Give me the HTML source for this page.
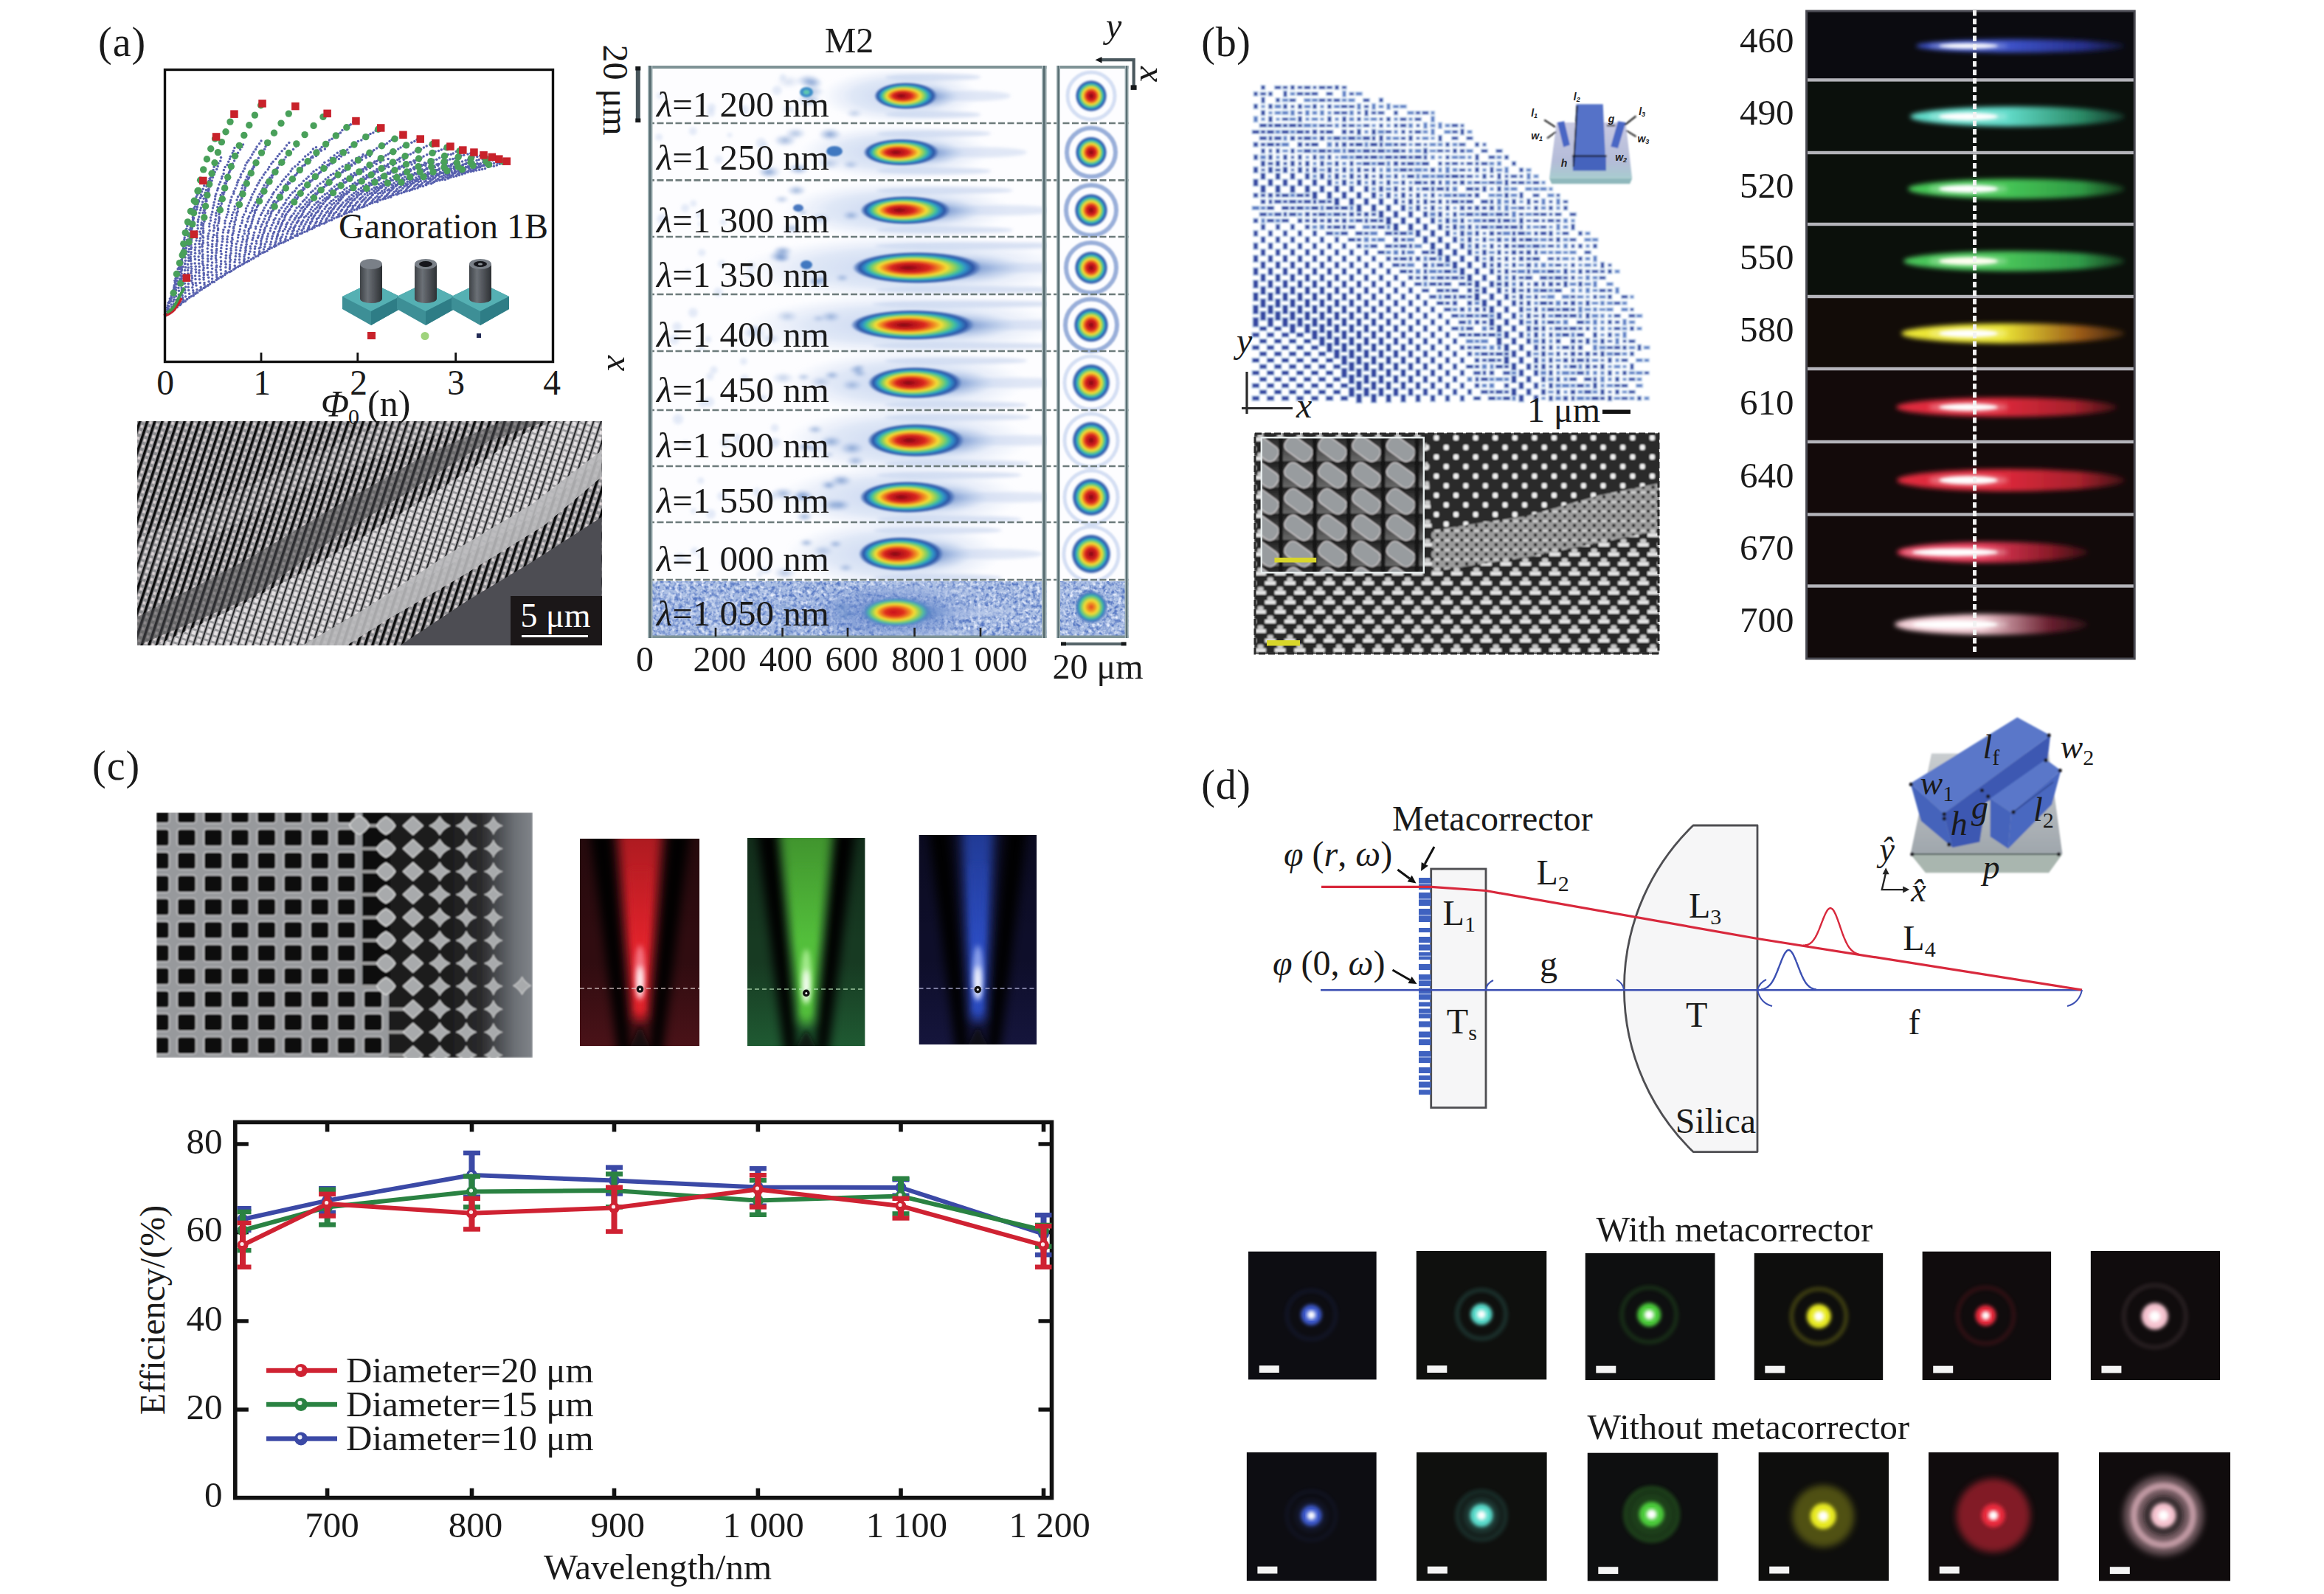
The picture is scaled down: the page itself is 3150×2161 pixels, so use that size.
<!DOCTYPE html>
<html><head><meta charset="utf-8"><title>Figure</title>
<style>
html,body{margin:0;padding:0;background:#fff;}
body{width:3150px;height:2161px;overflow:hidden;}
svg{display:block;}
svg{font-size:48px;}
text{font-family:"Liberation Serif","DejaVu Serif",serif;fill:#1a1a1a;}
.i{font-style:italic;}
</style></head><body>
<svg width="3150" height="2161" viewBox="0 0 3150 2161">
<defs>
<filter id="blurA" x="-5%" y="-5%" width="110%" height="110%"><feGaussianBlur stdDeviation="0.7"/></filter><linearGradient id="cyl" x1="0" x2="1" y1="0" y2="0"><stop offset="0" stop-color="#3e4247"/><stop offset="0.35" stop-color="#6b7076"/><stop offset="1" stop-color="#2d3034"/></linearGradient><clipPath id="semA"><rect x="186" y="571" width="630" height="304"/></clipPath><pattern id="semApat" width="9.6" height="8.4" patternUnits="userSpaceOnUse" patternTransform="rotate(18)"><rect width="9.6" height="8.4" fill="#8e8e91"/><rect x="0" y="0" width="3.4" height="8.4" fill="#0c0c0e"/><rect x="4.6" y="1.2" width="3.6" height="4" fill="#d8d0d2"/></pattern><pattern id="semApat2" width="9.6" height="8.4" patternUnits="userSpaceOnUse" patternTransform="rotate(18)"><rect width="9.6" height="8.4" fill="#9c9c9f"/><rect x="0" y="0" width="1.9" height="8.4" fill="#2a2a2c"/><rect x="3.4" y="1" width="5" height="5.4" fill="#e6e2e4"/></pattern><filter id="blurS" x="-2%" y="-2%" width="104%" height="104%"><feGaussianBlur stdDeviation="0.55"/></filter><radialGradient id="jet" fx="0.42"><stop offset="0" stop-color="#7d0a12"/><stop offset="0.14" stop-color="#b3121b"/><stop offset="0.3" stop-color="#dc2a20"/><stop offset="0.42" stop-color="#f08a22"/><stop offset="0.52" stop-color="#f2dc35"/><stop offset="0.62" stop-color="#8fd05c"/><stop offset="0.70" stop-color="#3fbf9e"/><stop offset="0.77" stop-color="#2f8fc8"/><stop offset="0.86" stop-color="#2c55a6"/><stop offset="0.93" stop-color="#5a7fc2" stop-opacity="0.75"/><stop offset="1" stop-color="#9db7e0" stop-opacity="0"/></radialGradient><radialGradient id="jetc"><stop offset="0" stop-color="#7d0a12"/><stop offset="0.14" stop-color="#b3121b"/><stop offset="0.3" stop-color="#dc2a20"/><stop offset="0.42" stop-color="#f08a22"/><stop offset="0.52" stop-color="#f2dc35"/><stop offset="0.62" stop-color="#8fd05c"/><stop offset="0.70" stop-color="#3fbf9e"/><stop offset="0.77" stop-color="#2f8fc8"/><stop offset="0.86" stop-color="#2c55a6"/><stop offset="0.93" stop-color="#5a7fc2" stop-opacity="0.75"/><stop offset="1" stop-color="#9db7e0" stop-opacity="0"/></radialGradient><radialGradient id="jet2"><stop offset="0" stop-color="#e2431f"/><stop offset="0.2" stop-color="#ee8a22"/><stop offset="0.4" stop-color="#f2dc35"/><stop offset="0.55" stop-color="#8fd05c"/><stop offset="0.68" stop-color="#3fb7a6"/><stop offset="0.8" stop-color="#3f7cc0"/><stop offset="0.92" stop-color="#5a7fc2" stop-opacity="0.6"/><stop offset="1" stop-color="#9db7e0" stop-opacity="0"/></radialGradient><radialGradient id="jet3" fx="0.45"><stop offset="0" stop-color="#c8141c"/><stop offset="0.25" stop-color="#e0301f"/><stop offset="0.4" stop-color="#f08a22"/><stop offset="0.52" stop-color="#f2dc35"/><stop offset="0.64" stop-color="#8fd05c"/><stop offset="0.74" stop-color="#4fb7a6"/><stop offset="0.84" stop-color="#4f86c4" stop-opacity="0.9"/><stop offset="1" stop-color="#6a8fd0" stop-opacity="0"/></radialGradient><radialGradient id="halo"><stop offset="0" stop-color="#3a62ad" stop-opacity="0.8"/><stop offset="0.5" stop-color="#5f86c8" stop-opacity="0.45"/><stop offset="1" stop-color="#a9c0e6" stop-opacity="0"/></radialGradient><radialGradient id="hz"><stop offset="0" stop-color="#b4c8ec" stop-opacity="0.75"/><stop offset="0.6" stop-color="#c2d2ee" stop-opacity="0.5"/><stop offset="1" stop-color="#d5e0f4" stop-opacity="0"/></radialGradient><radialGradient id="hz2"><stop offset="0" stop-color="#5f80c8" stop-opacity="0.7"/><stop offset="0.6" stop-color="#6888cc" stop-opacity="0.45"/><stop offset="1" stop-color="#7f9cd6" stop-opacity="0"/></radialGradient><radialGradient id="smg"><stop offset="0" stop-color="#4a74b8" stop-opacity="0.7"/><stop offset="0.6" stop-color="#7d9ed4" stop-opacity="0.35"/><stop offset="1" stop-color="#a9c0e6" stop-opacity="0"/></radialGradient><filter id="blurM" x="-10%" y="-10%" width="120%" height="120%"><feGaussianBlur stdDeviation="2.2"/></filter><filter id="blurM1" x="-10%" y="-10%" width="120%" height="120%"><feGaussianBlur stdDeviation="1.1"/></filter><filter id="noiseM" x="0" y="0" width="100%" height="100%" color-interpolation-filters="sRGB"><feTurbulence type="fractalNoise" baseFrequency="0.2" numOctaves="2" seed="5" result="n"/><feColorMatrix in="n" type="matrix" values="0 0 0 0 0.33  0 0 0 0 0.46  0 0 0 0 0.76  2.7 0 0 0 -1.1" result="dk"/><feColorMatrix in="n" type="matrix" values="0 0 0 0 0.93  0 0 0 0 0.95  0 0 0 0 1  0 2.7 0 0 -1.3" result="lt"/><feMerge result="m"><feMergeNode in="dk"/><feMergeNode in="lt"/></feMerge><feComposite in="m" in2="SourceGraphic" operator="in"/></filter><clipPath id="m2c"><rect x="878" y="89" width="540.5999999999999" height="776"/></clipPath><clipPath id="m2s"><rect x="1432" y="89" width="97.59999999999991" height="776"/></clipPath><filter id="blurB" x="-3%" y="-3%" width="106%" height="106%"><feGaussianBlur stdDeviation="0.8"/></filter><linearGradient id="slabB" x1="0" y1="0" x2="0" y2="1"><stop offset="0" stop-color="#c9c9e2"/><stop offset="0.7" stop-color="#b4bcd8"/><stop offset="1" stop-color="#a8cccf"/></linearGradient><clipPath id="semB"><rect x="1700" y="587" width="549" height="300"/></clipPath><pattern id="sbLow" width="26.6" height="26" patternUnits="userSpaceOnUse" x="1700" y="587"><rect width="26.6" height="26" fill="#262626"/><rect x="1" y="6" width="15" height="5" fill="#e4e4e4"/><rect x="4.5" y="0.6" width="8" height="6.4" rx="2" fill="#c8c8c8"/><rect x="14.3" y="19" width="15" height="5" fill="#e4e4e4"/><rect x="-12.3" y="19" width="15" height="5" fill="#e4e4e4"/><rect x="17.8" y="13.6" width="8" height="6.4" rx="2" fill="#c8c8c8"/></pattern><pattern id="sbTop" width="26.6" height="26" patternUnits="userSpaceOnUse" x="1700" y="587"><rect width="26.6" height="26" fill="#2b2b2b"/><rect x="4" y="3" width="7" height="7" rx="2" fill="#f2f2f2"/><rect x="17.3" y="16" width="7" height="7" rx="2" fill="#f2f2f2"/></pattern><pattern id="sbMid" width="13.3" height="13" patternUnits="userSpaceOnUse" x="1700" y="587"><rect width="13.3" height="13" fill="#9c9c9c"/><rect x="0" y="0" width="4" height="4" fill="#111"/><rect x="6.6" y="6.5" width="4" height="4" fill="#111"/><rect x="5" y="1" width="7" height="3" fill="#cfcfcf"/></pattern><clipPath id="semBi"><rect x="1709.8" y="593.2" width="220.0" height="183.1"/></clipPath><linearGradient id="insg" x1="0" y1="0" x2="0" y2="1"><stop offset="0" stop-color="#1c1c1c"/><stop offset="1" stop-color="#6a6a6a"/></linearGradient><pattern id="insbg" width="46" height="35.6" patternUnits="userSpaceOnUse" x="1736" y="625"><rect width="46" height="35.6" fill="url(#insg)"/></pattern><filter id="blurR" x="-10%" y="-40%" width="120%" height="180%"><feGaussianBlur stdDeviation="3.2"/></filter><filter id="blurR2" x="-10%" y="-60%" width="120%" height="220%"><feGaussianBlur stdDeviation="2"/></filter><clipPath id="brc"><rect x="2447.6" y="14" width="446.5999999999999" height="880"/></clipPath><linearGradient id="brt0" x1="0" x2="1"><stop offset="0" stop-color="#3d52c8"/><stop offset="0.45" stop-color="#3d52c8"/><stop offset="0.8" stop-color="#26308c"/><stop offset="1" stop-color="#26308c" stop-opacity="0.3"/></linearGradient><linearGradient id="brt1" x1="0" x2="1"><stop offset="0" stop-color="#62dcca"/><stop offset="0.45" stop-color="#62dcca"/><stop offset="0.8" stop-color="#2a8a66"/><stop offset="1" stop-color="#2a8a66" stop-opacity="0.3"/></linearGradient><linearGradient id="brt2" x1="0" x2="1"><stop offset="0" stop-color="#46c656"/><stop offset="0.45" stop-color="#46c656"/><stop offset="0.8" stop-color="#2f9a44"/><stop offset="1" stop-color="#2f9a44" stop-opacity="0.3"/></linearGradient><linearGradient id="brt3" x1="0" x2="1"><stop offset="0" stop-color="#4ac65a"/><stop offset="0.45" stop-color="#4ac65a"/><stop offset="0.8" stop-color="#2f9a48"/><stop offset="1" stop-color="#2f9a48" stop-opacity="0.3"/></linearGradient><linearGradient id="brt4" x1="0" x2="1"><stop offset="0" stop-color="#ece634"/><stop offset="0.45" stop-color="#ece634"/><stop offset="0.8" stop-color="#9a5a18"/><stop offset="1" stop-color="#9a5a18" stop-opacity="0.3"/></linearGradient><linearGradient id="brt5" x1="0" x2="1"><stop offset="0" stop-color="#e02a3c"/><stop offset="0.45" stop-color="#e02a3c"/><stop offset="0.8" stop-color="#a8202c"/><stop offset="1" stop-color="#a8202c" stop-opacity="0.3"/></linearGradient><linearGradient id="brt6" x1="0" x2="1"><stop offset="0" stop-color="#e02a3c"/><stop offset="0.45" stop-color="#e02a3c"/><stop offset="0.8" stop-color="#a8202c"/><stop offset="1" stop-color="#a8202c" stop-opacity="0.3"/></linearGradient><linearGradient id="brt7" x1="0" x2="1"><stop offset="0" stop-color="#e83a58"/><stop offset="0.45" stop-color="#e83a58"/><stop offset="0.8" stop-color="#8a1a28"/><stop offset="1" stop-color="#8a1a28" stop-opacity="0.3"/></linearGradient><linearGradient id="brt8" x1="0" x2="1"><stop offset="0" stop-color="#f0c8d0"/><stop offset="0.45" stop-color="#f0c8d0"/><stop offset="0.8" stop-color="#6a2030"/><stop offset="1" stop-color="#6a2030" stop-opacity="0.3"/></linearGradient><clipPath id="semC"><rect x="212" y="1101.5" width="510" height="332.5"/></clipPath><filter id="blurC" x="-3%" y="-3%" width="106%" height="106%"><feGaussianBlur stdDeviation="0.9"/></filter><pattern id="gridC" width="36.1" height="31.3" patternUnits="userSpaceOnUse" x="235" y="1121.9"><rect width="36.1" height="31.3" fill="#97999c"/><rect x="4.2" y="0.9" width="27.4" height="25.6" rx="5" fill="#cacacc"/><rect x="5.9" y="2.6" width="24" height="22.2" rx="3.6" fill="#0d0d0d"/></pattern><linearGradient id="cRight" x1="0" x2="1"><stop offset="0" stop-color="#1b1b1b"/><stop offset="0.42" stop-color="#2a2a2c"/><stop offset="0.62" stop-color="#4c4e52"/><stop offset="0.8" stop-color="#6c7075"/><stop offset="1" stop-color="#80848a"/></linearGradient><filter id="blurBm" x="-150%" y="-20%" width="400%" height="140%"><feGaussianBlur stdDeviation="7"/></filter><filter id="blurBm2" x="-100%" y="-30%" width="300%" height="160%"><feGaussianBlur stdDeviation="3.5"/></filter><linearGradient id="bmfade" x1="0" y1="0" x2="0" y2="1"><stop offset="0" stop-color="#000" stop-opacity="0.22"/><stop offset="1" stop-color="#000" stop-opacity="0"/></linearGradient><clipPath id="bmc0"><rect x="786" y="1137" width="162" height="281"/></clipPath><linearGradient id="bmg0" x1="0" y1="0" x2="0" y2="1"><stop offset="0" stop-color="#300c10"/><stop offset="0.6" stop-color="#300c10"/><stop offset="1" stop-color="#4a1218"/></linearGradient><clipPath id="bmc1"><rect x="1013" y="1136" width="159.5999999999999" height="282"/></clipPath><linearGradient id="bmg1" x1="0" y1="0" x2="0" y2="1"><stop offset="0" stop-color="#173a22"/><stop offset="0.6" stop-color="#173a22"/><stop offset="1" stop-color="#1f5a32"/></linearGradient><clipPath id="bmc2"><rect x="1245.5" y="1132" width="159.5" height="284"/></clipPath><linearGradient id="bmg2" x1="0" y1="0" x2="0" y2="1"><stop offset="0" stop-color="#0e0e2a"/><stop offset="0.6" stop-color="#0e0e2a"/><stop offset="1" stop-color="#15153c"/></linearGradient><clipPath id="chc"><rect x="321.6" y="1521.4" width="1103.9" height="509.1999999999998"/></clipPath><filter id="blurCh" x="-2%" y="-5%" width="104%" height="110%"><feGaussianBlur stdDeviation="0.7"/></filter><linearGradient id="slab" x1="0" y1="0" x2="0" y2="1"><stop offset="0" stop-color="#c9cdd0"/><stop offset="1" stop-color="#9fa6ac"/></linearGradient><filter id="blurD" x="-3%" y="-3%" width="106%" height="106%"><feGaussianBlur stdDeviation="0.9"/></filter><filter id="blurSp" x="-20%" y="-20%" width="140%" height="140%"><feGaussianBlur stdDeviation="2.6"/></filter><filter id="blurSp2" x="-20%" y="-20%" width="140%" height="140%"><feGaussianBlur stdDeviation="5"/></filter><clipPath id="spc0"><rect x="1692" y="1696.4" width="173.8" height="174.2"/></clipPath><clipPath id="spc1"><rect x="1919.5" y="1696" width="177.0" height="174.6"/></clipPath><clipPath id="spc2"><rect x="2148.5" y="1699" width="176.2" height="172.0"/></clipPath><clipPath id="spc3"><rect x="2377.5" y="1699" width="174.9" height="172.0"/></clipPath><clipPath id="spc4"><rect x="2605.4" y="1696.4" width="174.9" height="174.6"/></clipPath><clipPath id="spc5"><rect x="2833.6" y="1696" width="175.6" height="175.0"/></clipPath><clipPath id="spc6"><rect x="1689.6" y="1968.7" width="176.2" height="174.3"/></clipPath><clipPath id="spc7"><rect x="1920" y="1968.7" width="176.8" height="174.3"/></clipPath><clipPath id="spc8"><rect x="2151.5" y="1969.4" width="177.3" height="174.1"/></clipPath><clipPath id="spc9"><rect x="2383.4" y="1968.7" width="176.6" height="174.3"/></clipPath><clipPath id="spc10"><rect x="2614" y="1968.7" width="176.6" height="174.3"/></clipPath><clipPath id="spc11"><rect x="2845" y="1968.7" width="178.0" height="174.8"/></clipPath>
</defs>
<rect width="3150" height="2161" fill="#fff"/>
<g filter="url(#blurA)"><g fill="#3b45a0" opacity="0.85"><circle cx="225.8" cy="425.4" r="1.75"/><circle cx="226.6" cy="422.3" r="1.75"/><circle cx="226.8" cy="419.7" r="1.75"/><circle cx="226.6" cy="417.0" r="1.75"/><circle cx="227.3" cy="414.0" r="1.75"/><circle cx="228.1" cy="410.6" r="1.75"/><circle cx="229.6" cy="408.8" r="1.75"/><circle cx="230.3" cy="405.1" r="1.75"/><circle cx="232.3" cy="403.4" r="1.75"/><circle cx="233.6" cy="399.8" r="1.75"/><circle cx="237.5" cy="393.9" r="1.75"/><circle cx="229.5" cy="423.5" r="1.75"/><circle cx="228.5" cy="418.7" r="1.75"/><circle cx="229.1" cy="415.3" r="1.75"/><circle cx="229.6" cy="410.6" r="1.75"/><circle cx="231.2" cy="406.0" r="1.75"/><circle cx="232.2" cy="401.3" r="1.75"/><circle cx="232.9" cy="397.4" r="1.75"/><circle cx="235.5" cy="393.6" r="1.75"/><circle cx="236.8" cy="389.8" r="1.75"/><circle cx="239.2" cy="385.4" r="1.75"/><circle cx="242.1" cy="382.0" r="1.75"/><circle cx="244.0" cy="378.0" r="1.75"/><circle cx="247.3" cy="374.7" r="1.75"/><circle cx="232.5" cy="421.0" r="1.75"/><circle cx="232.8" cy="416.4" r="1.75"/><circle cx="232.1" cy="413.1" r="1.75"/><circle cx="231.9" cy="408.5" r="1.75"/><circle cx="232.2" cy="404.6" r="1.75"/><circle cx="233.9" cy="400.3" r="1.75"/><circle cx="234.8" cy="395.9" r="1.75"/><circle cx="235.5" cy="392.2" r="1.75"/><circle cx="236.4" cy="388.0" r="1.75"/><circle cx="238.1" cy="384.8" r="1.75"/><circle cx="239.0" cy="380.5" r="1.75"/><circle cx="240.0" cy="376.7" r="1.75"/><circle cx="242.6" cy="373.3" r="1.75"/><circle cx="244.8" cy="368.5" r="1.75"/><circle cx="246.3" cy="365.4" r="1.75"/><circle cx="248.0" cy="361.4" r="1.75"/><circle cx="250.7" cy="357.3" r="1.75"/><circle cx="235.2" cy="419.0" r="1.75"/><circle cx="235.1" cy="415.0" r="1.75"/><circle cx="235.4" cy="412.6" r="1.75"/><circle cx="234.9" cy="408.8" r="1.75"/><circle cx="235.6" cy="406.2" r="1.75"/><circle cx="236.0" cy="403.0" r="1.75"/><circle cx="235.4" cy="399.1" r="1.75"/><circle cx="235.7" cy="396.7" r="1.75"/><circle cx="236.8" cy="392.4" r="1.75"/><circle cx="235.9" cy="389.4" r="1.75"/><circle cx="236.3" cy="386.7" r="1.75"/><circle cx="237.3" cy="383.3" r="1.75"/><circle cx="236.9" cy="380.4" r="1.75"/><circle cx="238.0" cy="377.6" r="1.75"/><circle cx="239.4" cy="374.8" r="1.75"/><circle cx="240.1" cy="368.6" r="1.75"/><circle cx="241.1" cy="364.8" r="1.75"/><circle cx="242.3" cy="362.9" r="1.75"/><circle cx="243.1" cy="360.0" r="1.75"/><circle cx="244.3" cy="353.5" r="1.75"/><circle cx="239.1" cy="416.0" r="1.75"/><circle cx="238.7" cy="410.7" r="1.75"/><circle cx="238.7" cy="406.4" r="1.75"/><circle cx="238.8" cy="401.8" r="1.75"/><circle cx="238.3" cy="397.6" r="1.75"/><circle cx="238.6" cy="393.6" r="1.75"/><circle cx="238.7" cy="390.0" r="1.75"/><circle cx="239.9" cy="384.7" r="1.75"/><circle cx="239.8" cy="380.7" r="1.75"/><circle cx="240.5" cy="376.2" r="1.75"/><circle cx="241.8" cy="373.4" r="1.75"/><circle cx="242.0" cy="368.5" r="1.75"/><circle cx="242.3" cy="363.8" r="1.75"/><circle cx="243.6" cy="360.0" r="1.75"/><circle cx="245.4" cy="355.8" r="1.75"/><circle cx="245.4" cy="353.0" r="1.75"/><circle cx="247.4" cy="347.8" r="1.75"/><circle cx="248.8" cy="343.7" r="1.75"/><circle cx="250.3" cy="341.2" r="1.75"/><circle cx="252.4" cy="337.0" r="1.75"/><circle cx="253.1" cy="332.6" r="1.75"/><circle cx="254.8" cy="329.5" r="1.75"/><circle cx="257.3" cy="325.7" r="1.75"/><circle cx="259.0" cy="321.2" r="1.75"/><circle cx="244.2" cy="413.6" r="1.75"/><circle cx="243.9" cy="408.8" r="1.75"/><circle cx="243.5" cy="404.2" r="1.75"/><circle cx="242.4" cy="399.5" r="1.75"/><circle cx="242.5" cy="394.3" r="1.75"/><circle cx="241.9" cy="390.3" r="1.75"/><circle cx="242.3" cy="386.6" r="1.75"/><circle cx="243.5" cy="381.9" r="1.75"/><circle cx="243.7" cy="378.4" r="1.75"/><circle cx="244.0" cy="373.2" r="1.75"/><circle cx="243.3" cy="368.8" r="1.75"/><circle cx="243.7" cy="364.6" r="1.75"/><circle cx="244.9" cy="361.5" r="1.75"/><circle cx="245.9" cy="356.7" r="1.75"/><circle cx="246.4" cy="353.1" r="1.75"/><circle cx="246.3" cy="348.8" r="1.75"/><circle cx="248.5" cy="344.9" r="1.75"/><circle cx="249.2" cy="340.4" r="1.75"/><circle cx="249.4" cy="336.9" r="1.75"/><circle cx="250.8" cy="332.9" r="1.75"/><circle cx="253.0" cy="328.4" r="1.75"/><circle cx="253.5" cy="325.3" r="1.75"/><circle cx="255.4" cy="320.3" r="1.75"/><circle cx="256.0" cy="316.4" r="1.75"/><circle cx="258.8" cy="313.6" r="1.75"/><circle cx="259.3" cy="309.8" r="1.75"/><circle cx="262.4" cy="305.8" r="1.75"/><circle cx="263.3" cy="301.9" r="1.75"/><circle cx="247.6" cy="408.9" r="1.75"/><circle cx="248.5" cy="406.6" r="1.75"/><circle cx="247.5" cy="403.7" r="1.75"/><circle cx="247.1" cy="400.4" r="1.75"/><circle cx="247.4" cy="396.1" r="1.75"/><circle cx="246.4" cy="393.0" r="1.75"/><circle cx="246.1" cy="390.2" r="1.75"/><circle cx="246.0" cy="386.7" r="1.75"/><circle cx="245.7" cy="384.2" r="1.75"/><circle cx="245.9" cy="380.4" r="1.75"/><circle cx="246.2" cy="377.8" r="1.75"/><circle cx="246.0" cy="374.7" r="1.75"/><circle cx="246.1" cy="370.9" r="1.75"/><circle cx="246.1" cy="367.0" r="1.75"/><circle cx="246.1" cy="364.1" r="1.75"/><circle cx="245.5" cy="361.9" r="1.75"/><circle cx="245.9" cy="358.2" r="1.75"/><circle cx="246.9" cy="355.2" r="1.75"/><circle cx="246.4" cy="352.1" r="1.75"/><circle cx="247.0" cy="349.4" r="1.75"/><circle cx="246.8" cy="342.9" r="1.75"/><circle cx="247.4" cy="339.4" r="1.75"/><circle cx="248.5" cy="336.7" r="1.75"/><circle cx="248.5" cy="334.0" r="1.75"/><circle cx="249.9" cy="327.5" r="1.75"/><circle cx="249.9" cy="324.6" r="1.75"/><circle cx="250.2" cy="321.9" r="1.75"/><circle cx="250.7" cy="318.6" r="1.75"/><circle cx="251.8" cy="313.3" r="1.75"/><circle cx="252.8" cy="310.3" r="1.75"/><circle cx="253.8" cy="306.4" r="1.75"/><circle cx="253.9" cy="304.5" r="1.75"/><circle cx="253.1" cy="406.0" r="1.75"/><circle cx="251.5" cy="401.9" r="1.75"/><circle cx="251.0" cy="397.0" r="1.75"/><circle cx="250.7" cy="393.2" r="1.75"/><circle cx="251.5" cy="389.1" r="1.75"/><circle cx="250.3" cy="384.3" r="1.75"/><circle cx="251.0" cy="379.0" r="1.75"/><circle cx="251.2" cy="375.9" r="1.75"/><circle cx="250.2" cy="371.5" r="1.75"/><circle cx="250.5" cy="366.4" r="1.75"/><circle cx="251.5" cy="362.6" r="1.75"/><circle cx="250.5" cy="357.7" r="1.75"/><circle cx="251.3" cy="353.2" r="1.75"/><circle cx="251.1" cy="348.9" r="1.75"/><circle cx="252.3" cy="344.3" r="1.75"/><circle cx="252.5" cy="340.7" r="1.75"/><circle cx="252.2" cy="336.3" r="1.75"/><circle cx="253.7" cy="332.4" r="1.75"/><circle cx="253.5" cy="329.0" r="1.75"/><circle cx="255.3" cy="324.8" r="1.75"/><circle cx="255.0" cy="319.7" r="1.75"/><circle cx="255.8" cy="316.4" r="1.75"/><circle cx="257.0" cy="311.3" r="1.75"/><circle cx="258.3" cy="308.5" r="1.75"/><circle cx="259.9" cy="303.5" r="1.75"/><circle cx="260.0" cy="300.5" r="1.75"/><circle cx="261.8" cy="296.2" r="1.75"/><circle cx="262.3" cy="291.3" r="1.75"/><circle cx="264.5" cy="288.0" r="1.75"/><circle cx="265.0" cy="284.9" r="1.75"/><circle cx="267.3" cy="280.8" r="1.75"/><circle cx="267.9" cy="277.0" r="1.75"/><circle cx="269.5" cy="273.2" r="1.75"/><circle cx="271.7" cy="268.6" r="1.75"/><circle cx="273.6" cy="265.8" r="1.75"/><circle cx="256.8" cy="402.7" r="1.75"/><circle cx="256.7" cy="398.3" r="1.75"/><circle cx="255.7" cy="393.6" r="1.75"/><circle cx="255.2" cy="389.2" r="1.75"/><circle cx="255.3" cy="384.8" r="1.75"/><circle cx="255.7" cy="380.3" r="1.75"/><circle cx="255.1" cy="375.7" r="1.75"/><circle cx="254.8" cy="371.0" r="1.75"/><circle cx="254.5" cy="366.6" r="1.75"/><circle cx="255.3" cy="363.0" r="1.75"/><circle cx="254.5" cy="358.5" r="1.75"/><circle cx="255.7" cy="353.6" r="1.75"/><circle cx="255.7" cy="349.8" r="1.75"/><circle cx="255.5" cy="346.1" r="1.75"/><circle cx="255.6" cy="341.3" r="1.75"/><circle cx="256.4" cy="337.8" r="1.75"/><circle cx="256.3" cy="333.3" r="1.75"/><circle cx="257.3" cy="328.8" r="1.75"/><circle cx="257.4" cy="324.1" r="1.75"/><circle cx="257.5" cy="319.6" r="1.75"/><circle cx="258.1" cy="316.4" r="1.75"/><circle cx="259.1" cy="311.4" r="1.75"/><circle cx="259.6" cy="308.3" r="1.75"/><circle cx="261.7" cy="304.0" r="1.75"/><circle cx="261.7" cy="299.3" r="1.75"/><circle cx="262.6" cy="295.5" r="1.75"/><circle cx="263.4" cy="291.5" r="1.75"/><circle cx="264.7" cy="288.3" r="1.75"/><circle cx="266.9" cy="283.7" r="1.75"/><circle cx="267.0" cy="280.3" r="1.75"/><circle cx="268.3" cy="275.5" r="1.75"/><circle cx="269.2" cy="271.6" r="1.75"/><circle cx="271.3" cy="267.9" r="1.75"/><circle cx="272.3" cy="264.0" r="1.75"/><circle cx="273.5" cy="259.8" r="1.75"/><circle cx="275.2" cy="256.2" r="1.75"/><circle cx="276.7" cy="251.8" r="1.75"/><circle cx="278.8" cy="248.4" r="1.75"/><circle cx="262.2" cy="399.9" r="1.75"/><circle cx="262.1" cy="396.8" r="1.75"/><circle cx="261.7" cy="393.8" r="1.75"/><circle cx="260.8" cy="389.7" r="1.75"/><circle cx="261.4" cy="386.1" r="1.75"/><circle cx="260.8" cy="383.6" r="1.75"/><circle cx="259.5" cy="380.6" r="1.75"/><circle cx="260.5" cy="377.0" r="1.75"/><circle cx="260.1" cy="374.0" r="1.75"/><circle cx="259.0" cy="370.3" r="1.75"/><circle cx="259.4" cy="367.5" r="1.75"/><circle cx="259.7" cy="364.3" r="1.75"/><circle cx="259.2" cy="361.2" r="1.75"/><circle cx="259.3" cy="357.6" r="1.75"/><circle cx="258.5" cy="353.4" r="1.75"/><circle cx="258.3" cy="350.7" r="1.75"/><circle cx="258.2" cy="348.3" r="1.75"/><circle cx="258.9" cy="344.8" r="1.75"/><circle cx="259.0" cy="341.7" r="1.75"/><circle cx="258.9" cy="337.5" r="1.75"/><circle cx="259.4" cy="335.4" r="1.75"/><circle cx="259.0" cy="332.0" r="1.75"/><circle cx="259.4" cy="328.1" r="1.75"/><circle cx="259.6" cy="325.3" r="1.75"/><circle cx="258.8" cy="322.2" r="1.75"/><circle cx="260.1" cy="315.8" r="1.75"/><circle cx="260.4" cy="313.9" r="1.75"/><circle cx="260.3" cy="309.9" r="1.75"/><circle cx="260.5" cy="307.3" r="1.75"/><circle cx="261.5" cy="301.1" r="1.75"/><circle cx="261.7" cy="297.2" r="1.75"/><circle cx="261.3" cy="294.4" r="1.75"/><circle cx="262.6" cy="291.4" r="1.75"/><circle cx="263.2" cy="284.9" r="1.75"/><circle cx="262.9" cy="282.3" r="1.75"/><circle cx="264.3" cy="279.9" r="1.75"/><circle cx="264.8" cy="276.3" r="1.75"/><circle cx="265.6" cy="270.6" r="1.75"/><circle cx="266.1" cy="267.1" r="1.75"/><circle cx="267.3" cy="264.3" r="1.75"/><circle cx="268.1" cy="262.5" r="1.75"/><circle cx="266.3" cy="396.4" r="1.75"/><circle cx="267.0" cy="392.7" r="1.75"/><circle cx="266.0" cy="387.1" r="1.75"/><circle cx="265.3" cy="383.7" r="1.75"/><circle cx="265.0" cy="378.6" r="1.75"/><circle cx="264.6" cy="374.1" r="1.75"/><circle cx="265.6" cy="369.1" r="1.75"/><circle cx="265.2" cy="365.3" r="1.75"/><circle cx="265.2" cy="361.2" r="1.75"/><circle cx="264.2" cy="357.1" r="1.75"/><circle cx="264.5" cy="351.4" r="1.75"/><circle cx="263.9" cy="347.8" r="1.75"/><circle cx="264.6" cy="343.2" r="1.75"/><circle cx="264.3" cy="339.0" r="1.75"/><circle cx="264.8" cy="335.4" r="1.75"/><circle cx="264.6" cy="331.0" r="1.75"/><circle cx="266.1" cy="325.9" r="1.75"/><circle cx="266.6" cy="322.5" r="1.75"/><circle cx="267.0" cy="317.7" r="1.75"/><circle cx="266.7" cy="313.7" r="1.75"/><circle cx="268.2" cy="309.8" r="1.75"/><circle cx="267.8" cy="305.4" r="1.75"/><circle cx="268.3" cy="300.7" r="1.75"/><circle cx="268.7" cy="297.8" r="1.75"/><circle cx="269.7" cy="293.9" r="1.75"/><circle cx="270.4" cy="288.8" r="1.75"/><circle cx="271.7" cy="284.7" r="1.75"/><circle cx="272.4" cy="281.8" r="1.75"/><circle cx="274.1" cy="277.6" r="1.75"/><circle cx="274.7" cy="273.8" r="1.75"/><circle cx="276.2" cy="269.2" r="1.75"/><circle cx="277.0" cy="264.5" r="1.75"/><circle cx="278.2" cy="261.2" r="1.75"/><circle cx="279.4" cy="257.6" r="1.75"/><circle cx="280.0" cy="252.8" r="1.75"/><circle cx="282.3" cy="249.1" r="1.75"/><circle cx="283.0" cy="245.5" r="1.75"/><circle cx="284.1" cy="242.3" r="1.75"/><circle cx="286.6" cy="237.8" r="1.75"/><circle cx="287.7" cy="234.0" r="1.75"/><circle cx="289.1" cy="230.4" r="1.75"/><circle cx="290.1" cy="226.3" r="1.75"/><circle cx="291.9" cy="223.7" r="1.75"/><circle cx="272.1" cy="392.6" r="1.75"/><circle cx="272.2" cy="389.3" r="1.75"/><circle cx="271.1" cy="383.4" r="1.75"/><circle cx="270.4" cy="378.8" r="1.75"/><circle cx="270.3" cy="374.3" r="1.75"/><circle cx="269.9" cy="370.1" r="1.75"/><circle cx="270.2" cy="366.6" r="1.75"/><circle cx="270.3" cy="361.5" r="1.75"/><circle cx="269.7" cy="357.2" r="1.75"/><circle cx="269.6" cy="352.5" r="1.75"/><circle cx="269.1" cy="348.0" r="1.75"/><circle cx="270.5" cy="343.4" r="1.75"/><circle cx="269.9" cy="339.9" r="1.75"/><circle cx="270.7" cy="334.9" r="1.75"/><circle cx="270.0" cy="330.6" r="1.75"/><circle cx="270.5" cy="326.6" r="1.75"/><circle cx="271.6" cy="323.0" r="1.75"/><circle cx="271.9" cy="317.5" r="1.75"/><circle cx="271.0" cy="314.3" r="1.75"/><circle cx="272.8" cy="309.7" r="1.75"/><circle cx="272.9" cy="304.8" r="1.75"/><circle cx="273.2" cy="302.0" r="1.75"/><circle cx="274.5" cy="297.8" r="1.75"/><circle cx="275.4" cy="292.7" r="1.75"/><circle cx="274.9" cy="288.4" r="1.75"/><circle cx="276.3" cy="285.1" r="1.75"/><circle cx="277.8" cy="281.1" r="1.75"/><circle cx="278.2" cy="277.1" r="1.75"/><circle cx="278.9" cy="272.7" r="1.75"/><circle cx="279.3" cy="269.1" r="1.75"/><circle cx="280.6" cy="265.3" r="1.75"/><circle cx="282.4" cy="260.3" r="1.75"/><circle cx="282.8" cy="256.3" r="1.75"/><circle cx="284.8" cy="253.0" r="1.75"/><circle cx="285.3" cy="248.1" r="1.75"/><circle cx="287.2" cy="245.0" r="1.75"/><circle cx="288.4" cy="240.6" r="1.75"/><circle cx="290.2" cy="236.4" r="1.75"/><circle cx="291.2" cy="233.2" r="1.75"/><circle cx="293.7" cy="229.6" r="1.75"/><circle cx="295.2" cy="225.6" r="1.75"/><circle cx="295.9" cy="221.4" r="1.75"/><circle cx="298.7" cy="218.3" r="1.75"/><circle cx="299.5" cy="213.5" r="1.75"/><circle cx="277.4" cy="389.8" r="1.75"/><circle cx="277.0" cy="385.9" r="1.75"/><circle cx="277.0" cy="383.6" r="1.75"/><circle cx="276.1" cy="379.0" r="1.75"/><circle cx="276.0" cy="376.3" r="1.75"/><circle cx="276.3" cy="372.8" r="1.75"/><circle cx="276.2" cy="370.3" r="1.75"/><circle cx="275.6" cy="366.3" r="1.75"/><circle cx="276.1" cy="363.3" r="1.75"/><circle cx="275.7" cy="359.9" r="1.75"/><circle cx="274.7" cy="357.5" r="1.75"/><circle cx="274.6" cy="354.6" r="1.75"/><circle cx="274.9" cy="350.3" r="1.75"/><circle cx="274.4" cy="347.4" r="1.75"/><circle cx="275.0" cy="345.1" r="1.75"/><circle cx="274.2" cy="341.1" r="1.75"/><circle cx="274.3" cy="338.8" r="1.75"/><circle cx="274.2" cy="334.3" r="1.75"/><circle cx="274.1" cy="331.6" r="1.75"/><circle cx="275.4" cy="329.2" r="1.75"/><circle cx="275.2" cy="326.3" r="1.75"/><circle cx="275.6" cy="322.1" r="1.75"/><circle cx="274.6" cy="319.9" r="1.75"/><circle cx="275.6" cy="315.5" r="1.75"/><circle cx="275.6" cy="312.9" r="1.75"/><circle cx="275.4" cy="309.7" r="1.75"/><circle cx="275.3" cy="306.2" r="1.75"/><circle cx="275.7" cy="303.6" r="1.75"/><circle cx="276.9" cy="300.2" r="1.75"/><circle cx="277.2" cy="297.3" r="1.75"/><circle cx="276.9" cy="292.1" r="1.75"/><circle cx="277.9" cy="288.5" r="1.75"/><circle cx="277.1" cy="285.5" r="1.75"/><circle cx="278.0" cy="283.2" r="1.75"/><circle cx="278.5" cy="276.3" r="1.75"/><circle cx="280.0" cy="272.8" r="1.75"/><circle cx="279.7" cy="271.0" r="1.75"/><circle cx="280.8" cy="266.8" r="1.75"/><circle cx="280.7" cy="260.9" r="1.75"/><circle cx="282.6" cy="258.3" r="1.75"/><circle cx="282.9" cy="256.3" r="1.75"/><circle cx="282.8" cy="252.4" r="1.75"/><circle cx="285.0" cy="247.0" r="1.75"/><circle cx="284.6" cy="244.3" r="1.75"/><circle cx="285.4" cy="240.7" r="1.75"/><circle cx="282.0" cy="386.4" r="1.75"/><circle cx="283.0" cy="381.7" r="1.75"/><circle cx="282.7" cy="376.3" r="1.75"/><circle cx="281.4" cy="372.5" r="1.75"/><circle cx="282.2" cy="368.7" r="1.75"/><circle cx="281.2" cy="363.2" r="1.75"/><circle cx="281.2" cy="359.2" r="1.75"/><circle cx="281.8" cy="354.3" r="1.75"/><circle cx="281.6" cy="350.7" r="1.75"/><circle cx="281.7" cy="346.4" r="1.75"/><circle cx="281.5" cy="341.4" r="1.75"/><circle cx="281.2" cy="337.1" r="1.75"/><circle cx="282.1" cy="332.4" r="1.75"/><circle cx="281.5" cy="329.1" r="1.75"/><circle cx="281.9" cy="323.8" r="1.75"/><circle cx="281.9" cy="320.3" r="1.75"/><circle cx="282.8" cy="316.7" r="1.75"/><circle cx="284.1" cy="312.4" r="1.75"/><circle cx="283.7" cy="306.9" r="1.75"/><circle cx="284.0" cy="303.3" r="1.75"/><circle cx="285.5" cy="299.1" r="1.75"/><circle cx="285.5" cy="294.9" r="1.75"/><circle cx="286.8" cy="291.1" r="1.75"/><circle cx="287.8" cy="287.2" r="1.75"/><circle cx="288.5" cy="282.0" r="1.75"/><circle cx="289.7" cy="278.2" r="1.75"/><circle cx="290.2" cy="274.3" r="1.75"/><circle cx="291.5" cy="270.0" r="1.75"/><circle cx="291.8" cy="266.0" r="1.75"/><circle cx="292.8" cy="263.0" r="1.75"/><circle cx="294.6" cy="258.1" r="1.75"/><circle cx="295.5" cy="255.2" r="1.75"/><circle cx="297.0" cy="250.0" r="1.75"/><circle cx="298.7" cy="246.7" r="1.75"/><circle cx="300.4" cy="242.0" r="1.75"/><circle cx="301.1" cy="239.2" r="1.75"/><circle cx="303.1" cy="235.4" r="1.75"/><circle cx="303.4" cy="230.6" r="1.75"/><circle cx="305.1" cy="226.6" r="1.75"/><circle cx="308.1" cy="223.4" r="1.75"/><circle cx="309.7" cy="219.2" r="1.75"/><circle cx="311.4" cy="215.6" r="1.75"/><circle cx="312.3" cy="212.3" r="1.75"/><circle cx="315.2" cy="207.5" r="1.75"/><circle cx="316.5" cy="204.5" r="1.75"/><circle cx="317.9" cy="200.4" r="1.75"/><circle cx="287.7" cy="382.0" r="1.75"/><circle cx="287.6" cy="378.1" r="1.75"/><circle cx="287.9" cy="373.1" r="1.75"/><circle cx="286.7" cy="368.9" r="1.75"/><circle cx="287.6" cy="364.3" r="1.75"/><circle cx="286.9" cy="360.0" r="1.75"/><circle cx="287.6" cy="356.1" r="1.75"/><circle cx="286.5" cy="351.1" r="1.75"/><circle cx="287.0" cy="347.5" r="1.75"/><circle cx="287.5" cy="342.5" r="1.75"/><circle cx="287.0" cy="339.1" r="1.75"/><circle cx="287.6" cy="334.2" r="1.75"/><circle cx="287.7" cy="331.0" r="1.75"/><circle cx="288.0" cy="326.2" r="1.75"/><circle cx="288.5" cy="321.7" r="1.75"/><circle cx="289.7" cy="318.4" r="1.75"/><circle cx="289.4" cy="313.0" r="1.75"/><circle cx="290.5" cy="308.9" r="1.75"/><circle cx="290.0" cy="305.8" r="1.75"/><circle cx="291.3" cy="301.5" r="1.75"/><circle cx="292.0" cy="297.5" r="1.75"/><circle cx="292.8" cy="292.3" r="1.75"/><circle cx="292.9" cy="288.8" r="1.75"/><circle cx="294.7" cy="285.3" r="1.75"/><circle cx="294.8" cy="280.8" r="1.75"/><circle cx="296.2" cy="276.6" r="1.75"/><circle cx="296.9" cy="272.3" r="1.75"/><circle cx="298.6" cy="269.3" r="1.75"/><circle cx="299.1" cy="264.6" r="1.75"/><circle cx="301.3" cy="261.4" r="1.75"/><circle cx="301.7" cy="256.2" r="1.75"/><circle cx="304.1" cy="253.6" r="1.75"/><circle cx="304.7" cy="248.3" r="1.75"/><circle cx="306.8" cy="244.9" r="1.75"/><circle cx="308.2" cy="241.4" r="1.75"/><circle cx="309.6" cy="236.8" r="1.75"/><circle cx="311.1" cy="233.1" r="1.75"/><circle cx="312.2" cy="230.2" r="1.75"/><circle cx="314.5" cy="225.4" r="1.75"/><circle cx="315.3" cy="221.9" r="1.75"/><circle cx="317.6" cy="218.1" r="1.75"/><circle cx="318.8" cy="214.2" r="1.75"/><circle cx="321.6" cy="211.4" r="1.75"/><circle cx="322.5" cy="207.2" r="1.75"/><circle cx="325.6" cy="202.7" r="1.75"/><circle cx="327.8" cy="199.2" r="1.75"/><circle cx="329.5" cy="196.1" r="1.75"/><circle cx="294.2" cy="378.5" r="1.75"/><circle cx="293.7" cy="375.6" r="1.75"/><circle cx="293.6" cy="372.5" r="1.75"/><circle cx="293.4" cy="369.0" r="1.75"/><circle cx="292.7" cy="366.0" r="1.75"/><circle cx="293.3" cy="362.2" r="1.75"/><circle cx="293.6" cy="359.9" r="1.75"/><circle cx="293.1" cy="355.8" r="1.75"/><circle cx="293.1" cy="352.5" r="1.75"/><circle cx="292.5" cy="349.8" r="1.75"/><circle cx="292.5" cy="346.6" r="1.75"/><circle cx="293.2" cy="342.8" r="1.75"/><circle cx="293.4" cy="339.7" r="1.75"/><circle cx="293.7" cy="337.6" r="1.75"/><circle cx="293.4" cy="333.4" r="1.75"/><circle cx="293.6" cy="330.8" r="1.75"/><circle cx="294.4" cy="327.3" r="1.75"/><circle cx="294.4" cy="325.4" r="1.75"/><circle cx="294.5" cy="322.1" r="1.75"/><circle cx="293.9" cy="319.2" r="1.75"/><circle cx="294.6" cy="316.1" r="1.75"/><circle cx="295.5" cy="311.8" r="1.75"/><circle cx="295.6" cy="309.8" r="1.75"/><circle cx="294.8" cy="305.9" r="1.75"/><circle cx="296.2" cy="302.5" r="1.75"/><circle cx="296.8" cy="299.6" r="1.75"/><circle cx="297.1" cy="296.4" r="1.75"/><circle cx="297.0" cy="294.5" r="1.75"/><circle cx="297.0" cy="290.5" r="1.75"/><circle cx="298.0" cy="287.5" r="1.75"/><circle cx="298.3" cy="281.3" r="1.75"/><circle cx="299.0" cy="279.4" r="1.75"/><circle cx="300.3" cy="276.3" r="1.75"/><circle cx="300.2" cy="273.2" r="1.75"/><circle cx="301.3" cy="266.8" r="1.75"/><circle cx="302.8" cy="263.6" r="1.75"/><circle cx="303.8" cy="260.9" r="1.75"/><circle cx="304.1" cy="258.4" r="1.75"/><circle cx="304.9" cy="252.7" r="1.75"/><circle cx="306.4" cy="248.9" r="1.75"/><circle cx="307.5" cy="245.7" r="1.75"/><circle cx="308.6" cy="243.3" r="1.75"/><circle cx="309.4" cy="237.7" r="1.75"/><circle cx="310.4" cy="234.0" r="1.75"/><circle cx="311.8" cy="230.9" r="1.75"/><circle cx="312.8" cy="228.3" r="1.75"/><circle cx="300.0" cy="375.9" r="1.75"/><circle cx="299.7" cy="371.0" r="1.75"/><circle cx="299.2" cy="365.7" r="1.75"/><circle cx="298.8" cy="361.6" r="1.75"/><circle cx="299.6" cy="357.7" r="1.75"/><circle cx="299.6" cy="354.1" r="1.75"/><circle cx="299.1" cy="348.8" r="1.75"/><circle cx="300.1" cy="344.2" r="1.75"/><circle cx="299.3" cy="340.4" r="1.75"/><circle cx="299.8" cy="336.2" r="1.75"/><circle cx="300.4" cy="332.3" r="1.75"/><circle cx="301.3" cy="327.6" r="1.75"/><circle cx="301.9" cy="323.8" r="1.75"/><circle cx="301.7" cy="320.3" r="1.75"/><circle cx="302.4" cy="315.0" r="1.75"/><circle cx="302.9" cy="311.6" r="1.75"/><circle cx="304.8" cy="307.7" r="1.75"/><circle cx="304.8" cy="302.8" r="1.75"/><circle cx="305.1" cy="299.3" r="1.75"/><circle cx="306.8" cy="294.8" r="1.75"/><circle cx="307.9" cy="290.9" r="1.75"/><circle cx="309.4" cy="287.3" r="1.75"/><circle cx="309.4" cy="283.5" r="1.75"/><circle cx="310.2" cy="279.0" r="1.75"/><circle cx="312.0" cy="274.5" r="1.75"/><circle cx="312.7" cy="271.4" r="1.75"/><circle cx="314.0" cy="267.1" r="1.75"/><circle cx="316.7" cy="262.6" r="1.75"/><circle cx="317.0" cy="259.4" r="1.75"/><circle cx="319.0" cy="255.5" r="1.75"/><circle cx="321.0" cy="250.9" r="1.75"/><circle cx="321.9" cy="247.3" r="1.75"/><circle cx="323.1" cy="244.3" r="1.75"/><circle cx="326.0" cy="240.2" r="1.75"/><circle cx="326.6" cy="236.6" r="1.75"/><circle cx="329.6" cy="232.2" r="1.75"/><circle cx="331.5" cy="228.4" r="1.75"/><circle cx="332.7" cy="224.1" r="1.75"/><circle cx="334.7" cy="220.3" r="1.75"/><circle cx="336.9" cy="217.6" r="1.75"/><circle cx="339.6" cy="214.1" r="1.75"/><circle cx="341.8" cy="209.5" r="1.75"/><circle cx="343.9" cy="206.1" r="1.75"/><circle cx="346.5" cy="202.6" r="1.75"/><circle cx="348.1" cy="199.1" r="1.75"/><circle cx="351.6" cy="194.8" r="1.75"/><circle cx="354.0" cy="190.9" r="1.75"/><circle cx="305.3" cy="371.1" r="1.75"/><circle cx="305.9" cy="367.8" r="1.75"/><circle cx="305.9" cy="362.5" r="1.75"/><circle cx="306.2" cy="358.2" r="1.75"/><circle cx="305.3" cy="354.8" r="1.75"/><circle cx="306.1" cy="350.1" r="1.75"/><circle cx="306.4" cy="346.3" r="1.75"/><circle cx="306.4" cy="341.8" r="1.75"/><circle cx="307.1" cy="337.6" r="1.75"/><circle cx="307.2" cy="333.1" r="1.75"/><circle cx="307.9" cy="328.3" r="1.75"/><circle cx="307.9" cy="324.6" r="1.75"/><circle cx="308.4" cy="320.8" r="1.75"/><circle cx="309.2" cy="315.3" r="1.75"/><circle cx="309.9" cy="312.5" r="1.75"/><circle cx="311.1" cy="307.2" r="1.75"/><circle cx="311.5" cy="303.0" r="1.75"/><circle cx="313.4" cy="299.8" r="1.75"/><circle cx="314.5" cy="295.8" r="1.75"/><circle cx="314.6" cy="291.6" r="1.75"/><circle cx="316.2" cy="287.9" r="1.75"/><circle cx="318.1" cy="283.9" r="1.75"/><circle cx="318.2" cy="279.9" r="1.75"/><circle cx="320.9" cy="276.0" r="1.75"/><circle cx="321.1" cy="270.9" r="1.75"/><circle cx="322.5" cy="266.7" r="1.75"/><circle cx="325.2" cy="264.0" r="1.75"/><circle cx="326.5" cy="260.0" r="1.75"/><circle cx="328.1" cy="255.3" r="1.75"/><circle cx="329.1" cy="251.2" r="1.75"/><circle cx="331.9" cy="247.5" r="1.75"/><circle cx="333.1" cy="243.9" r="1.75"/><circle cx="334.5" cy="239.8" r="1.75"/><circle cx="336.9" cy="236.7" r="1.75"/><circle cx="339.1" cy="232.3" r="1.75"/><circle cx="342.1" cy="228.8" r="1.75"/><circle cx="344.1" cy="225.2" r="1.75"/><circle cx="345.1" cy="221.2" r="1.75"/><circle cx="348.1" cy="218.0" r="1.75"/><circle cx="350.3" cy="214.2" r="1.75"/><circle cx="353.0" cy="209.7" r="1.75"/><circle cx="356.0" cy="205.9" r="1.75"/><circle cx="358.6" cy="202.3" r="1.75"/><circle cx="360.0" cy="198.7" r="1.75"/><circle cx="363.8" cy="196.3" r="1.75"/><circle cx="365.4" cy="191.9" r="1.75"/><circle cx="311.8" cy="368.2" r="1.75"/><circle cx="311.3" cy="364.6" r="1.75"/><circle cx="311.6" cy="362.0" r="1.75"/><circle cx="311.6" cy="359.1" r="1.75"/><circle cx="311.7" cy="354.9" r="1.75"/><circle cx="312.4" cy="352.3" r="1.75"/><circle cx="311.7" cy="349.4" r="1.75"/><circle cx="311.8" cy="346.5" r="1.75"/><circle cx="313.0" cy="343.5" r="1.75"/><circle cx="313.1" cy="339.8" r="1.75"/><circle cx="313.0" cy="336.8" r="1.75"/><circle cx="314.0" cy="333.3" r="1.75"/><circle cx="314.4" cy="330.1" r="1.75"/><circle cx="313.7" cy="327.5" r="1.75"/><circle cx="315.1" cy="324.8" r="1.75"/><circle cx="314.7" cy="322.4" r="1.75"/><circle cx="314.9" cy="318.7" r="1.75"/><circle cx="315.8" cy="316.2" r="1.75"/><circle cx="316.7" cy="313.0" r="1.75"/><circle cx="316.6" cy="309.6" r="1.75"/><circle cx="316.8" cy="307.4" r="1.75"/><circle cx="318.2" cy="304.2" r="1.75"/><circle cx="318.0" cy="300.8" r="1.75"/><circle cx="319.6" cy="298.1" r="1.75"/><circle cx="319.3" cy="294.9" r="1.75"/><circle cx="321.1" cy="291.7" r="1.75"/><circle cx="320.8" cy="288.8" r="1.75"/><circle cx="322.3" cy="286.7" r="1.75"/><circle cx="322.2" cy="282.8" r="1.75"/><circle cx="323.2" cy="280.1" r="1.75"/><circle cx="325.3" cy="274.0" r="1.75"/><circle cx="325.9" cy="271.2" r="1.75"/><circle cx="327.8" cy="269.1" r="1.75"/><circle cx="327.4" cy="266.6" r="1.75"/><circle cx="329.4" cy="260.0" r="1.75"/><circle cx="331.7" cy="257.7" r="1.75"/><circle cx="332.4" cy="254.4" r="1.75"/><circle cx="332.7" cy="251.8" r="1.75"/><circle cx="334.8" cy="245.5" r="1.75"/><circle cx="336.4" cy="242.4" r="1.75"/><circle cx="337.6" cy="240.8" r="1.75"/><circle cx="339.3" cy="237.5" r="1.75"/><circle cx="341.8" cy="231.9" r="1.75"/><circle cx="342.4" cy="229.3" r="1.75"/><circle cx="344.1" cy="226.7" r="1.75"/><circle cx="318.5" cy="364.0" r="1.75"/><circle cx="318.2" cy="360.2" r="1.75"/><circle cx="318.1" cy="355.2" r="1.75"/><circle cx="318.8" cy="352.0" r="1.75"/><circle cx="319.3" cy="347.6" r="1.75"/><circle cx="319.8" cy="343.4" r="1.75"/><circle cx="320.0" cy="338.9" r="1.75"/><circle cx="320.0" cy="335.0" r="1.75"/><circle cx="320.3" cy="330.6" r="1.75"/><circle cx="322.0" cy="326.9" r="1.75"/><circle cx="322.6" cy="322.1" r="1.75"/><circle cx="323.1" cy="318.4" r="1.75"/><circle cx="324.3" cy="314.3" r="1.75"/><circle cx="325.4" cy="311.0" r="1.75"/><circle cx="325.7" cy="306.6" r="1.75"/><circle cx="327.8" cy="302.2" r="1.75"/><circle cx="328.5" cy="299.1" r="1.75"/><circle cx="329.1" cy="294.5" r="1.75"/><circle cx="330.7" cy="290.9" r="1.75"/><circle cx="333.3" cy="286.6" r="1.75"/><circle cx="333.5" cy="282.8" r="1.75"/><circle cx="335.7" cy="279.1" r="1.75"/><circle cx="337.3" cy="275.1" r="1.75"/><circle cx="339.5" cy="271.0" r="1.75"/><circle cx="340.7" cy="267.8" r="1.75"/><circle cx="342.2" cy="263.6" r="1.75"/><circle cx="344.5" cy="259.9" r="1.75"/><circle cx="346.1" cy="256.5" r="1.75"/><circle cx="348.5" cy="251.3" r="1.75"/><circle cx="350.5" cy="248.1" r="1.75"/><circle cx="352.3" cy="244.4" r="1.75"/><circle cx="355.2" cy="241.1" r="1.75"/><circle cx="357.5" cy="236.7" r="1.75"/><circle cx="359.8" cy="233.7" r="1.75"/><circle cx="363.3" cy="229.7" r="1.75"/><circle cx="364.8" cy="226.5" r="1.75"/><circle cx="367.8" cy="222.0" r="1.75"/><circle cx="370.1" cy="219.2" r="1.75"/><circle cx="373.9" cy="215.4" r="1.75"/><circle cx="376.3" cy="211.7" r="1.75"/><circle cx="378.9" cy="208.7" r="1.75"/><circle cx="382.1" cy="204.7" r="1.75"/><circle cx="385.9" cy="201.4" r="1.75"/><circle cx="388.5" cy="197.1" r="1.75"/><circle cx="391.8" cy="193.4" r="1.75"/><circle cx="324.7" cy="360.2" r="1.75"/><circle cx="324.9" cy="356.0" r="1.75"/><circle cx="324.5" cy="351.9" r="1.75"/><circle cx="324.9" cy="347.7" r="1.75"/><circle cx="324.7" cy="344.5" r="1.75"/><circle cx="325.7" cy="339.7" r="1.75"/><circle cx="326.3" cy="336.0" r="1.75"/><circle cx="327.1" cy="332.3" r="1.75"/><circle cx="328.2" cy="327.9" r="1.75"/><circle cx="329.4" cy="324.6" r="1.75"/><circle cx="329.0" cy="320.7" r="1.75"/><circle cx="331.3" cy="316.7" r="1.75"/><circle cx="331.2" cy="312.8" r="1.75"/><circle cx="333.0" cy="307.7" r="1.75"/><circle cx="333.3" cy="305.2" r="1.75"/><circle cx="335.5" cy="300.3" r="1.75"/><circle cx="336.0" cy="296.3" r="1.75"/><circle cx="337.6" cy="293.4" r="1.75"/><circle cx="339.3" cy="288.6" r="1.75"/><circle cx="341.7" cy="285.8" r="1.75"/><circle cx="342.2" cy="282.1" r="1.75"/><circle cx="344.6" cy="278.2" r="1.75"/><circle cx="346.4" cy="274.6" r="1.75"/><circle cx="348.5" cy="270.8" r="1.75"/><circle cx="349.5" cy="266.9" r="1.75"/><circle cx="352.0" cy="263.2" r="1.75"/><circle cx="354.0" cy="259.8" r="1.75"/><circle cx="356.3" cy="255.2" r="1.75"/><circle cx="358.0" cy="251.3" r="1.75"/><circle cx="360.7" cy="247.6" r="1.75"/><circle cx="363.1" cy="244.1" r="1.75"/><circle cx="365.6" cy="241.0" r="1.75"/><circle cx="368.2" cy="238.0" r="1.75"/><circle cx="370.0" cy="234.4" r="1.75"/><circle cx="373.3" cy="230.4" r="1.75"/><circle cx="376.4" cy="227.3" r="1.75"/><circle cx="378.8" cy="223.1" r="1.75"/><circle cx="382.6" cy="219.1" r="1.75"/><circle cx="385.0" cy="216.5" r="1.75"/><circle cx="387.2" cy="213.0" r="1.75"/><circle cx="391.3" cy="210.0" r="1.75"/><circle cx="394.0" cy="206.6" r="1.75"/><circle cx="397.5" cy="202.5" r="1.75"/><circle cx="401.4" cy="198.4" r="1.75"/><circle cx="404.6" cy="195.9" r="1.75"/><circle cx="330.4" cy="357.2" r="1.75"/><circle cx="330.7" cy="353.7" r="1.75"/><circle cx="331.2" cy="351.2" r="1.75"/><circle cx="331.0" cy="347.9" r="1.75"/><circle cx="331.7" cy="345.2" r="1.75"/><circle cx="332.6" cy="341.9" r="1.75"/><circle cx="333.0" cy="339.2" r="1.75"/><circle cx="332.9" cy="336.2" r="1.75"/><circle cx="333.4" cy="334.4" r="1.75"/><circle cx="334.1" cy="331.2" r="1.75"/><circle cx="334.1" cy="327.7" r="1.75"/><circle cx="334.6" cy="325.3" r="1.75"/><circle cx="335.7" cy="322.7" r="1.75"/><circle cx="335.4" cy="319.8" r="1.75"/><circle cx="337.3" cy="316.8" r="1.75"/><circle cx="336.8" cy="313.6" r="1.75"/><circle cx="337.4" cy="310.6" r="1.75"/><circle cx="339.5" cy="308.5" r="1.75"/><circle cx="339.9" cy="306.0" r="1.75"/><circle cx="341.1" cy="302.9" r="1.75"/><circle cx="341.5" cy="300.2" r="1.75"/><circle cx="342.5" cy="297.4" r="1.75"/><circle cx="343.4" cy="294.0" r="1.75"/><circle cx="344.3" cy="291.7" r="1.75"/><circle cx="345.4" cy="288.4" r="1.75"/><circle cx="345.5" cy="285.6" r="1.75"/><circle cx="347.5" cy="284.2" r="1.75"/><circle cx="348.4" cy="280.6" r="1.75"/><circle cx="349.7" cy="278.5" r="1.75"/><circle cx="350.5" cy="275.0" r="1.75"/><circle cx="352.4" cy="269.9" r="1.75"/><circle cx="353.7" cy="267.2" r="1.75"/><circle cx="355.5" cy="265.3" r="1.75"/><circle cx="355.9" cy="262.1" r="1.75"/><circle cx="358.5" cy="256.1" r="1.75"/><circle cx="361.1" cy="254.1" r="1.75"/><circle cx="362.7" cy="251.3" r="1.75"/><circle cx="362.8" cy="248.6" r="1.75"/><circle cx="366.7" cy="244.1" r="1.75"/><circle cx="368.8" cy="240.8" r="1.75"/><circle cx="369.6" cy="237.7" r="1.75"/><circle cx="371.6" cy="235.2" r="1.75"/><circle cx="374.2" cy="229.7" r="1.75"/><circle cx="375.7" cy="228.2" r="1.75"/><circle cx="336.6" cy="353.6" r="1.75"/><circle cx="337.0" cy="349.6" r="1.75"/><circle cx="337.5" cy="344.4" r="1.75"/><circle cx="339.0" cy="340.9" r="1.75"/><circle cx="339.6" cy="336.9" r="1.75"/><circle cx="339.3" cy="334.0" r="1.75"/><circle cx="341.2" cy="330.2" r="1.75"/><circle cx="342.1" cy="325.3" r="1.75"/><circle cx="342.9" cy="322.4" r="1.75"/><circle cx="343.7" cy="319.0" r="1.75"/><circle cx="344.6" cy="315.3" r="1.75"/><circle cx="346.5" cy="310.1" r="1.75"/><circle cx="346.7" cy="307.3" r="1.75"/><circle cx="349.3" cy="302.7" r="1.75"/><circle cx="350.0" cy="300.0" r="1.75"/><circle cx="351.4" cy="296.5" r="1.75"/><circle cx="353.5" cy="291.6" r="1.75"/><circle cx="355.0" cy="288.8" r="1.75"/><circle cx="356.9" cy="285.3" r="1.75"/><circle cx="358.4" cy="281.8" r="1.75"/><circle cx="360.7" cy="278.0" r="1.75"/><circle cx="363.1" cy="274.1" r="1.75"/><circle cx="364.9" cy="271.1" r="1.75"/><circle cx="367.9" cy="267.5" r="1.75"/><circle cx="369.6" cy="263.2" r="1.75"/><circle cx="371.2" cy="260.7" r="1.75"/><circle cx="374.6" cy="257.0" r="1.75"/><circle cx="376.6" cy="253.2" r="1.75"/><circle cx="380.2" cy="250.0" r="1.75"/><circle cx="382.3" cy="245.8" r="1.75"/><circle cx="384.8" cy="243.2" r="1.75"/><circle cx="387.6" cy="239.5" r="1.75"/><circle cx="390.9" cy="236.4" r="1.75"/><circle cx="394.2" cy="232.1" r="1.75"/><circle cx="396.1" cy="228.7" r="1.75"/><circle cx="399.9" cy="225.8" r="1.75"/><circle cx="403.8" cy="222.9" r="1.75"/><circle cx="406.0" cy="219.5" r="1.75"/><circle cx="410.6" cy="216.2" r="1.75"/><circle cx="413.7" cy="212.1" r="1.75"/><circle cx="417.7" cy="209.6" r="1.75"/><circle cx="421.1" cy="206.5" r="1.75"/><circle cx="424.4" cy="202.0" r="1.75"/><circle cx="428.5" cy="199.8" r="1.75"/><circle cx="343.3" cy="349.6" r="1.75"/><circle cx="344.9" cy="345.0" r="1.75"/><circle cx="345.0" cy="341.8" r="1.75"/><circle cx="345.5" cy="337.3" r="1.75"/><circle cx="345.9" cy="334.3" r="1.75"/><circle cx="347.6" cy="330.1" r="1.75"/><circle cx="347.5" cy="326.8" r="1.75"/><circle cx="349.5" cy="322.2" r="1.75"/><circle cx="350.3" cy="319.4" r="1.75"/><circle cx="352.0" cy="315.1" r="1.75"/><circle cx="352.7" cy="311.5" r="1.75"/><circle cx="353.6" cy="307.2" r="1.75"/><circle cx="355.1" cy="304.3" r="1.75"/><circle cx="356.9" cy="300.5" r="1.75"/><circle cx="358.6" cy="296.7" r="1.75"/><circle cx="359.9" cy="292.4" r="1.75"/><circle cx="363.0" cy="289.3" r="1.75"/><circle cx="363.6" cy="286.1" r="1.75"/><circle cx="366.6" cy="281.8" r="1.75"/><circle cx="368.3" cy="278.5" r="1.75"/><circle cx="370.4" cy="274.5" r="1.75"/><circle cx="371.9" cy="272.4" r="1.75"/><circle cx="375.5" cy="268.1" r="1.75"/><circle cx="377.4" cy="264.3" r="1.75"/><circle cx="380.3" cy="261.0" r="1.75"/><circle cx="383.1" cy="258.1" r="1.75"/><circle cx="385.6" cy="254.9" r="1.75"/><circle cx="387.5" cy="250.1" r="1.75"/><circle cx="390.3" cy="246.9" r="1.75"/><circle cx="393.0" cy="243.3" r="1.75"/><circle cx="396.8" cy="241.2" r="1.75"/><circle cx="399.7" cy="237.9" r="1.75"/><circle cx="403.6" cy="233.2" r="1.75"/><circle cx="406.4" cy="230.4" r="1.75"/><circle cx="409.1" cy="227.9" r="1.75"/><circle cx="412.8" cy="224.0" r="1.75"/><circle cx="416.9" cy="221.3" r="1.75"/><circle cx="420.6" cy="217.2" r="1.75"/><circle cx="423.9" cy="213.6" r="1.75"/><circle cx="428.5" cy="211.6" r="1.75"/><circle cx="431.3" cy="207.0" r="1.75"/><circle cx="435.3" cy="204.2" r="1.75"/><circle cx="440.4" cy="201.9" r="1.75"/><circle cx="351.2" cy="344.7" r="1.75"/><circle cx="351.5" cy="343.0" r="1.75"/><circle cx="351.7" cy="340.8" r="1.75"/><circle cx="351.3" cy="336.8" r="1.75"/><circle cx="352.9" cy="335.3" r="1.75"/><circle cx="353.4" cy="331.7" r="1.75"/><circle cx="353.8" cy="329.7" r="1.75"/><circle cx="353.8" cy="326.4" r="1.75"/><circle cx="354.7" cy="323.5" r="1.75"/><circle cx="355.7" cy="320.9" r="1.75"/><circle cx="356.1" cy="318.2" r="1.75"/><circle cx="357.5" cy="315.4" r="1.75"/><circle cx="358.4" cy="313.0" r="1.75"/><circle cx="358.3" cy="311.5" r="1.75"/><circle cx="359.4" cy="308.9" r="1.75"/><circle cx="361.4" cy="306.3" r="1.75"/><circle cx="361.2" cy="303.0" r="1.75"/><circle cx="362.2" cy="301.1" r="1.75"/><circle cx="364.4" cy="298.1" r="1.75"/><circle cx="364.9" cy="295.1" r="1.75"/><circle cx="366.5" cy="292.7" r="1.75"/><circle cx="367.4" cy="289.6" r="1.75"/><circle cx="368.0" cy="287.0" r="1.75"/><circle cx="370.0" cy="285.2" r="1.75"/><circle cx="370.4" cy="283.1" r="1.75"/><circle cx="373.2" cy="277.3" r="1.75"/><circle cx="374.5" cy="274.6" r="1.75"/><circle cx="376.9" cy="272.2" r="1.75"/><circle cx="377.4" cy="269.9" r="1.75"/><circle cx="380.6" cy="265.5" r="1.75"/><circle cx="381.9" cy="263.1" r="1.75"/><circle cx="383.4" cy="260.5" r="1.75"/><circle cx="386.0" cy="257.0" r="1.75"/><circle cx="389.1" cy="252.2" r="1.75"/><circle cx="390.5" cy="249.6" r="1.75"/><circle cx="392.5" cy="248.4" r="1.75"/><circle cx="395.3" cy="245.8" r="1.75"/><circle cx="397.7" cy="240.0" r="1.75"/><circle cx="400.8" cy="237.2" r="1.75"/><circle cx="402.6" cy="235.1" r="1.75"/><circle cx="405.0" cy="232.3" r="1.75"/><circle cx="408.8" cy="228.0" r="1.75"/><circle cx="410.0" cy="225.1" r="1.75"/><circle cx="413.2" cy="223.5" r="1.75"/><circle cx="414.4" cy="221.0" r="1.75"/><circle cx="420.0" cy="215.9" r="1.75"/><circle cx="421.8" cy="213.4" r="1.75"/><circle cx="423.6" cy="212.0" r="1.75"/><circle cx="426.8" cy="208.8" r="1.75"/><circle cx="430.7" cy="204.0" r="1.75"/><circle cx="434.0" cy="202.3" r="1.75"/><circle cx="436.1" cy="199.5" r="1.75"/><circle cx="439.2" cy="198.0" r="1.75"/><circle cx="444.7" cy="193.2" r="1.75"/><circle cx="446.5" cy="190.1" r="1.75"/><circle cx="450.0" cy="188.3" r="1.75"/><circle cx="452.8" cy="185.5" r="1.75"/><circle cx="458.6" cy="181.4" r="1.75"/><circle cx="461.5" cy="180.0" r="1.75"/><circle cx="463.9" cy="176.4" r="1.75"/><circle cx="467.5" cy="174.9" r="1.75"/><circle cx="473.4" cy="170.1" r="1.75"/><circle cx="475.4" cy="168.7" r="1.75"/><circle cx="478.8" cy="165.5" r="1.75"/><circle cx="357.3" cy="341.9" r="1.75"/><circle cx="357.4" cy="338.1" r="1.75"/><circle cx="358.8" cy="334.5" r="1.75"/><circle cx="359.2" cy="331.1" r="1.75"/><circle cx="361.2" cy="327.8" r="1.75"/><circle cx="361.5" cy="323.9" r="1.75"/><circle cx="362.7" cy="320.4" r="1.75"/><circle cx="363.5" cy="317.0" r="1.75"/><circle cx="366.2" cy="312.9" r="1.75"/><circle cx="366.9" cy="309.4" r="1.75"/><circle cx="368.5" cy="305.2" r="1.75"/><circle cx="370.7" cy="302.0" r="1.75"/><circle cx="371.2" cy="298.3" r="1.75"/><circle cx="373.1" cy="295.9" r="1.75"/><circle cx="374.7" cy="291.4" r="1.75"/><circle cx="377.7" cy="288.1" r="1.75"/><circle cx="378.7" cy="285.3" r="1.75"/><circle cx="381.7" cy="281.8" r="1.75"/><circle cx="384.2" cy="277.8" r="1.75"/><circle cx="386.8" cy="275.3" r="1.75"/><circle cx="388.0" cy="271.1" r="1.75"/><circle cx="391.2" cy="268.3" r="1.75"/><circle cx="393.5" cy="264.4" r="1.75"/><circle cx="396.5" cy="261.1" r="1.75"/><circle cx="399.6" cy="258.9" r="1.75"/><circle cx="401.8" cy="255.2" r="1.75"/><circle cx="405.7" cy="251.3" r="1.75"/><circle cx="408.9" cy="249.3" r="1.75"/><circle cx="411.5" cy="245.3" r="1.75"/><circle cx="415.4" cy="242.2" r="1.75"/><circle cx="418.1" cy="239.6" r="1.75"/><circle cx="422.2" cy="235.5" r="1.75"/><circle cx="425.0" cy="232.4" r="1.75"/><circle cx="428.9" cy="230.2" r="1.75"/><circle cx="433.2" cy="227.0" r="1.75"/><circle cx="437.1" cy="223.7" r="1.75"/><circle cx="439.9" cy="220.2" r="1.75"/><circle cx="445.3" cy="217.7" r="1.75"/><circle cx="448.3" cy="213.9" r="1.75"/><circle cx="453.1" cy="210.7" r="1.75"/><circle cx="457.3" cy="207.2" r="1.75"/><circle cx="461.6" cy="204.9" r="1.75"/><circle cx="363.7" cy="337.5" r="1.75"/><circle cx="365.8" cy="334.9" r="1.75"/><circle cx="366.6" cy="331.2" r="1.75"/><circle cx="367.4" cy="328.1" r="1.75"/><circle cx="368.5" cy="323.4" r="1.75"/><circle cx="369.3" cy="320.3" r="1.75"/><circle cx="370.5" cy="316.8" r="1.75"/><circle cx="371.6" cy="314.4" r="1.75"/><circle cx="373.1" cy="310.0" r="1.75"/><circle cx="374.5" cy="306.9" r="1.75"/><circle cx="376.7" cy="303.3" r="1.75"/><circle cx="377.4" cy="300.4" r="1.75"/><circle cx="378.9" cy="297.0" r="1.75"/><circle cx="382.1" cy="293.6" r="1.75"/><circle cx="383.0" cy="290.2" r="1.75"/><circle cx="385.4" cy="286.4" r="1.75"/><circle cx="387.0" cy="283.1" r="1.75"/><circle cx="389.5" cy="280.2" r="1.75"/><circle cx="391.8" cy="276.7" r="1.75"/><circle cx="393.9" cy="274.0" r="1.75"/><circle cx="397.6" cy="270.8" r="1.75"/><circle cx="399.8" cy="267.7" r="1.75"/><circle cx="402.0" cy="264.6" r="1.75"/><circle cx="405.2" cy="261.2" r="1.75"/><circle cx="408.3" cy="257.9" r="1.75"/><circle cx="410.9" cy="254.4" r="1.75"/><circle cx="413.8" cy="251.7" r="1.75"/><circle cx="417.2" cy="248.7" r="1.75"/><circle cx="420.0" cy="245.2" r="1.75"/><circle cx="424.6" cy="241.9" r="1.75"/><circle cx="427.6" cy="239.3" r="1.75"/><circle cx="430.8" cy="236.9" r="1.75"/><circle cx="434.5" cy="233.6" r="1.75"/><circle cx="438.0" cy="229.5" r="1.75"/><circle cx="442.9" cy="227.0" r="1.75"/><circle cx="445.6" cy="224.0" r="1.75"/><circle cx="450.2" cy="221.5" r="1.75"/><circle cx="453.9" cy="217.8" r="1.75"/><circle cx="459.4" cy="215.6" r="1.75"/><circle cx="462.5" cy="212.1" r="1.75"/><circle cx="467.2" cy="209.7" r="1.75"/><circle cx="472.1" cy="207.0" r="1.75"/><circle cx="372.1" cy="334.3" r="1.75"/><circle cx="372.6" cy="332.1" r="1.75"/><circle cx="373.3" cy="329.2" r="1.75"/><circle cx="374.0" cy="327.1" r="1.75"/><circle cx="374.9" cy="323.7" r="1.75"/><circle cx="375.5" cy="321.1" r="1.75"/><circle cx="376.2" cy="319.5" r="1.75"/><circle cx="376.6" cy="317.6" r="1.75"/><circle cx="377.6" cy="314.3" r="1.75"/><circle cx="378.8" cy="312.6" r="1.75"/><circle cx="379.5" cy="309.4" r="1.75"/><circle cx="380.3" cy="307.1" r="1.75"/><circle cx="381.7" cy="304.4" r="1.75"/><circle cx="382.3" cy="302.4" r="1.75"/><circle cx="383.4" cy="299.7" r="1.75"/><circle cx="385.2" cy="298.0" r="1.75"/><circle cx="386.0" cy="295.0" r="1.75"/><circle cx="386.7" cy="292.4" r="1.75"/><circle cx="388.0" cy="290.5" r="1.75"/><circle cx="390.0" cy="287.4" r="1.75"/><circle cx="391.8" cy="285.3" r="1.75"/><circle cx="393.1" cy="283.8" r="1.75"/><circle cx="394.8" cy="280.4" r="1.75"/><circle cx="395.5" cy="279.2" r="1.75"/><circle cx="396.4" cy="275.5" r="1.75"/><circle cx="400.4" cy="271.5" r="1.75"/><circle cx="402.6" cy="269.6" r="1.75"/><circle cx="403.7" cy="267.6" r="1.75"/><circle cx="405.4" cy="264.6" r="1.75"/><circle cx="409.3" cy="259.8" r="1.75"/><circle cx="410.7" cy="257.8" r="1.75"/><circle cx="412.6" cy="256.0" r="1.75"/><circle cx="415.0" cy="253.1" r="1.75"/><circle cx="418.2" cy="248.4" r="1.75"/><circle cx="420.7" cy="246.4" r="1.75"/><circle cx="423.1" cy="244.6" r="1.75"/><circle cx="425.8" cy="241.8" r="1.75"/><circle cx="429.5" cy="237.5" r="1.75"/><circle cx="432.6" cy="234.8" r="1.75"/><circle cx="434.2" cy="233.3" r="1.75"/><circle cx="436.0" cy="230.4" r="1.75"/><circle cx="442.1" cy="226.7" r="1.75"/><circle cx="443.9" cy="223.4" r="1.75"/><circle cx="447.0" cy="222.1" r="1.75"/><circle cx="449.5" cy="220.4" r="1.75"/><circle cx="454.8" cy="215.2" r="1.75"/><circle cx="456.4" cy="212.8" r="1.75"/><circle cx="459.7" cy="211.0" r="1.75"/><circle cx="462.0" cy="208.3" r="1.75"/><circle cx="468.3" cy="204.7" r="1.75"/><circle cx="470.8" cy="203.1" r="1.75"/><circle cx="474.2" cy="199.6" r="1.75"/><circle cx="476.8" cy="198.6" r="1.75"/><circle cx="482.8" cy="194.2" r="1.75"/><circle cx="485.4" cy="191.5" r="1.75"/><circle cx="489.8" cy="189.9" r="1.75"/><circle cx="492.8" cy="187.2" r="1.75"/><circle cx="499.0" cy="183.6" r="1.75"/><circle cx="502.0" cy="181.6" r="1.75"/><circle cx="505.8" cy="180.1" r="1.75"/><circle cx="509.2" cy="177.2" r="1.75"/><circle cx="378.2" cy="330.0" r="1.75"/><circle cx="380.1" cy="326.6" r="1.75"/><circle cx="380.1" cy="323.5" r="1.75"/><circle cx="381.8" cy="321.2" r="1.75"/><circle cx="383.1" cy="317.9" r="1.75"/><circle cx="383.6" cy="313.4" r="1.75"/><circle cx="386.0" cy="310.7" r="1.75"/><circle cx="387.4" cy="307.5" r="1.75"/><circle cx="388.2" cy="304.2" r="1.75"/><circle cx="389.7" cy="301.9" r="1.75"/><circle cx="392.3" cy="297.9" r="1.75"/><circle cx="393.9" cy="294.8" r="1.75"/><circle cx="395.3" cy="292.5" r="1.75"/><circle cx="398.2" cy="289.4" r="1.75"/><circle cx="400.1" cy="285.8" r="1.75"/><circle cx="402.1" cy="281.8" r="1.75"/><circle cx="405.5" cy="280.0" r="1.75"/><circle cx="407.1" cy="277.0" r="1.75"/><circle cx="410.4" cy="273.0" r="1.75"/><circle cx="412.8" cy="271.0" r="1.75"/><circle cx="415.4" cy="267.9" r="1.75"/><circle cx="417.9" cy="264.1" r="1.75"/><circle cx="421.5" cy="260.8" r="1.75"/><circle cx="424.0" cy="258.8" r="1.75"/><circle cx="427.4" cy="255.8" r="1.75"/><circle cx="430.3" cy="251.9" r="1.75"/><circle cx="433.9" cy="249.0" r="1.75"/><circle cx="438.3" cy="246.2" r="1.75"/><circle cx="441.2" cy="243.0" r="1.75"/><circle cx="444.8" cy="240.5" r="1.75"/><circle cx="448.4" cy="237.2" r="1.75"/><circle cx="451.9" cy="235.5" r="1.75"/><circle cx="456.2" cy="231.7" r="1.75"/><circle cx="460.0" cy="229.0" r="1.75"/><circle cx="464.2" cy="225.8" r="1.75"/><circle cx="469.1" cy="223.4" r="1.75"/><circle cx="472.7" cy="221.2" r="1.75"/><circle cx="477.1" cy="217.8" r="1.75"/><circle cx="482.8" cy="214.8" r="1.75"/><circle cx="486.8" cy="213.1" r="1.75"/><circle cx="492.1" cy="209.4" r="1.75"/><circle cx="385.9" cy="327.2" r="1.75"/><circle cx="386.9" cy="324.3" r="1.75"/><circle cx="387.7" cy="321.1" r="1.75"/><circle cx="389.3" cy="316.8" r="1.75"/><circle cx="390.5" cy="313.4" r="1.75"/><circle cx="392.3" cy="310.5" r="1.75"/><circle cx="394.0" cy="307.8" r="1.75"/><circle cx="394.8" cy="304.1" r="1.75"/><circle cx="396.9" cy="300.9" r="1.75"/><circle cx="399.1" cy="297.7" r="1.75"/><circle cx="400.4" cy="295.2" r="1.75"/><circle cx="402.1" cy="292.5" r="1.75"/><circle cx="404.3" cy="289.2" r="1.75"/><circle cx="406.8" cy="285.7" r="1.75"/><circle cx="408.9" cy="282.3" r="1.75"/><circle cx="411.0" cy="280.4" r="1.75"/><circle cx="413.7" cy="277.1" r="1.75"/><circle cx="416.0" cy="273.9" r="1.75"/><circle cx="419.1" cy="270.9" r="1.75"/><circle cx="421.9" cy="267.2" r="1.75"/><circle cx="424.9" cy="264.5" r="1.75"/><circle cx="427.6" cy="262.3" r="1.75"/><circle cx="431.0" cy="258.9" r="1.75"/><circle cx="435.2" cy="256.6" r="1.75"/><circle cx="438.5" cy="253.8" r="1.75"/><circle cx="440.9" cy="250.0" r="1.75"/><circle cx="444.3" cy="247.8" r="1.75"/><circle cx="448.9" cy="244.4" r="1.75"/><circle cx="452.3" cy="242.0" r="1.75"/><circle cx="456.6" cy="238.6" r="1.75"/><circle cx="460.9" cy="236.0" r="1.75"/><circle cx="464.6" cy="232.9" r="1.75"/><circle cx="468.0" cy="231.2" r="1.75"/><circle cx="473.3" cy="228.2" r="1.75"/><circle cx="476.6" cy="224.4" r="1.75"/><circle cx="481.3" cy="221.9" r="1.75"/><circle cx="486.2" cy="219.5" r="1.75"/><circle cx="490.5" cy="216.6" r="1.75"/><circle cx="496.2" cy="213.8" r="1.75"/><circle cx="501.4" cy="211.7" r="1.75"/><circle cx="394.0" cy="322.7" r="1.75"/><circle cx="394.3" cy="321.1" r="1.75"/><circle cx="395.0" cy="317.8" r="1.75"/><circle cx="396.5" cy="316.7" r="1.75"/><circle cx="396.6" cy="313.4" r="1.75"/><circle cx="398.3" cy="312.0" r="1.75"/><circle cx="398.1" cy="309.2" r="1.75"/><circle cx="399.2" cy="307.8" r="1.75"/><circle cx="400.4" cy="305.7" r="1.75"/><circle cx="402.3" cy="302.3" r="1.75"/><circle cx="403.3" cy="300.5" r="1.75"/><circle cx="404.6" cy="299.0" r="1.75"/><circle cx="405.1" cy="295.6" r="1.75"/><circle cx="407.4" cy="293.9" r="1.75"/><circle cx="408.7" cy="292.2" r="1.75"/><circle cx="409.8" cy="290.2" r="1.75"/><circle cx="411.0" cy="287.4" r="1.75"/><circle cx="411.6" cy="285.6" r="1.75"/><circle cx="413.6" cy="283.2" r="1.75"/><circle cx="415.9" cy="280.4" r="1.75"/><circle cx="417.3" cy="278.2" r="1.75"/><circle cx="418.8" cy="277.2" r="1.75"/><circle cx="419.8" cy="274.6" r="1.75"/><circle cx="422.6" cy="272.6" r="1.75"/><circle cx="423.8" cy="269.9" r="1.75"/><circle cx="426.7" cy="265.8" r="1.75"/><circle cx="429.1" cy="263.5" r="1.75"/><circle cx="430.9" cy="261.3" r="1.75"/><circle cx="433.5" cy="260.0" r="1.75"/><circle cx="436.9" cy="255.2" r="1.75"/><circle cx="439.5" cy="253.4" r="1.75"/><circle cx="442.3" cy="251.2" r="1.75"/><circle cx="443.6" cy="249.9" r="1.75"/><circle cx="447.9" cy="245.3" r="1.75"/><circle cx="450.5" cy="243.6" r="1.75"/><circle cx="453.3" cy="241.5" r="1.75"/><circle cx="455.1" cy="239.3" r="1.75"/><circle cx="460.8" cy="235.0" r="1.75"/><circle cx="463.6" cy="233.5" r="1.75"/><circle cx="465.3" cy="230.7" r="1.75"/><circle cx="468.3" cy="228.5" r="1.75"/><circle cx="473.3" cy="224.7" r="1.75"/><circle cx="476.4" cy="223.3" r="1.75"/><circle cx="479.6" cy="220.4" r="1.75"/><circle cx="482.3" cy="219.0" r="1.75"/><circle cx="488.3" cy="214.6" r="1.75"/><circle cx="490.9" cy="212.4" r="1.75"/><circle cx="495.3" cy="211.6" r="1.75"/><circle cx="497.1" cy="209.6" r="1.75"/><circle cx="504.8" cy="205.5" r="1.75"/><circle cx="506.8" cy="203.4" r="1.75"/><circle cx="510.6" cy="201.0" r="1.75"/><circle cx="514.1" cy="198.8" r="1.75"/><circle cx="521.5" cy="196.0" r="1.75"/><circle cx="524.5" cy="194.5" r="1.75"/><circle cx="528.1" cy="191.6" r="1.75"/><circle cx="531.0" cy="189.5" r="1.75"/><circle cx="538.0" cy="186.7" r="1.75"/><circle cx="542.9" cy="184.2" r="1.75"/><circle cx="400.7" cy="319.6" r="1.75"/><circle cx="402.8" cy="317.0" r="1.75"/><circle cx="403.0" cy="313.8" r="1.75"/><circle cx="405.2" cy="310.7" r="1.75"/><circle cx="405.9" cy="306.9" r="1.75"/><circle cx="408.1" cy="304.1" r="1.75"/><circle cx="409.0" cy="301.5" r="1.75"/><circle cx="410.8" cy="299.0" r="1.75"/><circle cx="412.4" cy="294.8" r="1.75"/><circle cx="414.8" cy="292.8" r="1.75"/><circle cx="417.2" cy="290.0" r="1.75"/><circle cx="419.5" cy="287.5" r="1.75"/><circle cx="421.2" cy="283.9" r="1.75"/><circle cx="423.0" cy="280.7" r="1.75"/><circle cx="426.2" cy="277.6" r="1.75"/><circle cx="428.9" cy="274.8" r="1.75"/><circle cx="431.2" cy="273.2" r="1.75"/><circle cx="433.5" cy="269.0" r="1.75"/><circle cx="436.9" cy="266.4" r="1.75"/><circle cx="440.4" cy="263.4" r="1.75"/><circle cx="443.7" cy="261.9" r="1.75"/><circle cx="446.9" cy="258.5" r="1.75"/><circle cx="449.4" cy="256.1" r="1.75"/><circle cx="453.3" cy="253.0" r="1.75"/><circle cx="456.6" cy="250.3" r="1.75"/><circle cx="460.7" cy="248.2" r="1.75"/><circle cx="464.9" cy="244.5" r="1.75"/><circle cx="467.8" cy="242.3" r="1.75"/><circle cx="472.2" cy="239.5" r="1.75"/><circle cx="475.8" cy="236.5" r="1.75"/><circle cx="480.2" cy="234.4" r="1.75"/><circle cx="485.5" cy="232.5" r="1.75"/><circle cx="489.8" cy="230.0" r="1.75"/><circle cx="494.5" cy="226.8" r="1.75"/><circle cx="498.9" cy="223.4" r="1.75"/><circle cx="503.5" cy="221.7" r="1.75"/><circle cx="507.8" cy="219.1" r="1.75"/><circle cx="513.7" cy="216.4" r="1.75"/><circle cx="518.4" cy="213.7" r="1.75"/><circle cx="408.6" cy="316.4" r="1.75"/><circle cx="409.2" cy="312.3" r="1.75"/><circle cx="411.4" cy="309.7" r="1.75"/><circle cx="411.9" cy="307.1" r="1.75"/><circle cx="413.8" cy="304.0" r="1.75"/><circle cx="415.4" cy="301.0" r="1.75"/><circle cx="417.3" cy="297.9" r="1.75"/><circle cx="418.5" cy="294.7" r="1.75"/><circle cx="421.5" cy="292.3" r="1.75"/><circle cx="422.4" cy="289.9" r="1.75"/><circle cx="424.7" cy="285.9" r="1.75"/><circle cx="427.4" cy="283.3" r="1.75"/><circle cx="429.7" cy="280.9" r="1.75"/><circle cx="431.8" cy="278.1" r="1.75"/><circle cx="434.2" cy="275.2" r="1.75"/><circle cx="437.6" cy="271.8" r="1.75"/><circle cx="440.2" cy="269.0" r="1.75"/><circle cx="443.2" cy="267.4" r="1.75"/><circle cx="446.4" cy="264.5" r="1.75"/><circle cx="449.9" cy="260.8" r="1.75"/><circle cx="453.5" cy="259.0" r="1.75"/><circle cx="455.5" cy="256.5" r="1.75"/><circle cx="459.5" cy="252.8" r="1.75"/><circle cx="463.9" cy="250.7" r="1.75"/><circle cx="467.4" cy="247.4" r="1.75"/><circle cx="471.2" cy="244.7" r="1.75"/><circle cx="474.4" cy="242.5" r="1.75"/><circle cx="478.1" cy="240.2" r="1.75"/><circle cx="482.6" cy="237.2" r="1.75"/><circle cx="487.6" cy="234.8" r="1.75"/><circle cx="492.3" cy="232.5" r="1.75"/><circle cx="496.8" cy="229.8" r="1.75"/><circle cx="501.5" cy="227.8" r="1.75"/><circle cx="505.1" cy="225.0" r="1.75"/><circle cx="510.2" cy="222.5" r="1.75"/><circle cx="515.7" cy="220.1" r="1.75"/><circle cx="519.9" cy="217.0" r="1.75"/><circle cx="526.1" cy="215.4" r="1.75"/><circle cx="417.1" cy="311.4" r="1.75"/><circle cx="417.8" cy="309.4" r="1.75"/><circle cx="418.5" cy="308.3" r="1.75"/><circle cx="418.8" cy="306.4" r="1.75"/><circle cx="420.6" cy="303.3" r="1.75"/><circle cx="420.9" cy="301.6" r="1.75"/><circle cx="422.9" cy="299.7" r="1.75"/><circle cx="422.9" cy="296.8" r="1.75"/><circle cx="424.1" cy="295.9" r="1.75"/><circle cx="425.4" cy="293.5" r="1.75"/><circle cx="426.8" cy="291.7" r="1.75"/><circle cx="428.2" cy="288.8" r="1.75"/><circle cx="430.3" cy="287.4" r="1.75"/><circle cx="431.4" cy="285.8" r="1.75"/><circle cx="433.3" cy="282.6" r="1.75"/><circle cx="433.8" cy="280.8" r="1.75"/><circle cx="435.6" cy="279.8" r="1.75"/><circle cx="437.7" cy="276.6" r="1.75"/><circle cx="438.4" cy="275.8" r="1.75"/><circle cx="440.8" cy="273.1" r="1.75"/><circle cx="442.2" cy="270.8" r="1.75"/><circle cx="444.5" cy="269.2" r="1.75"/><circle cx="446.4" cy="267.5" r="1.75"/><circle cx="447.1" cy="265.2" r="1.75"/><circle cx="449.2" cy="264.0" r="1.75"/><circle cx="453.7" cy="258.9" r="1.75"/><circle cx="455.2" cy="257.4" r="1.75"/><circle cx="457.7" cy="255.8" r="1.75"/><circle cx="459.8" cy="253.5" r="1.75"/><circle cx="463.7" cy="250.0" r="1.75"/><circle cx="466.4" cy="247.3" r="1.75"/><circle cx="469.0" cy="246.8" r="1.75"/><circle cx="470.8" cy="243.7" r="1.75"/><circle cx="476.6" cy="240.1" r="1.75"/><circle cx="478.6" cy="238.5" r="1.75"/><circle cx="481.2" cy="236.8" r="1.75"/><circle cx="484.2" cy="235.5" r="1.75"/><circle cx="490.3" cy="230.4" r="1.75"/><circle cx="492.4" cy="229.6" r="1.75"/><circle cx="495.7" cy="227.8" r="1.75"/><circle cx="498.3" cy="225.7" r="1.75"/><circle cx="503.7" cy="221.5" r="1.75"/><circle cx="507.4" cy="220.6" r="1.75"/><circle cx="510.7" cy="218.5" r="1.75"/><circle cx="512.9" cy="216.8" r="1.75"/><circle cx="519.9" cy="212.8" r="1.75"/><circle cx="523.0" cy="210.8" r="1.75"/><circle cx="526.2" cy="209.1" r="1.75"/><circle cx="528.8" cy="207.2" r="1.75"/><circle cx="536.0" cy="204.7" r="1.75"/><circle cx="539.8" cy="202.0" r="1.75"/><circle cx="543.0" cy="200.0" r="1.75"/><circle cx="546.7" cy="198.1" r="1.75"/><circle cx="553.5" cy="195.7" r="1.75"/><circle cx="557.9" cy="193.3" r="1.75"/><circle cx="561.9" cy="191.4" r="1.75"/><circle cx="565.1" cy="189.3" r="1.75"/><circle cx="424.3" cy="308.2" r="1.75"/><circle cx="426.2" cy="305.7" r="1.75"/><circle cx="427.8" cy="302.6" r="1.75"/><circle cx="429.2" cy="300.2" r="1.75"/><circle cx="429.4" cy="296.8" r="1.75"/><circle cx="431.9" cy="295.3" r="1.75"/><circle cx="433.3" cy="292.2" r="1.75"/><circle cx="435.3" cy="289.6" r="1.75"/><circle cx="436.7" cy="286.3" r="1.75"/><circle cx="440.1" cy="283.3" r="1.75"/><circle cx="441.4" cy="280.3" r="1.75"/><circle cx="443.6" cy="278.0" r="1.75"/><circle cx="446.9" cy="275.2" r="1.75"/><circle cx="449.0" cy="272.6" r="1.75"/><circle cx="452.0" cy="270.9" r="1.75"/><circle cx="454.9" cy="267.3" r="1.75"/><circle cx="457.9" cy="265.9" r="1.75"/><circle cx="460.8" cy="262.0" r="1.75"/><circle cx="464.3" cy="260.6" r="1.75"/><circle cx="466.8" cy="256.9" r="1.75"/><circle cx="470.0" cy="255.0" r="1.75"/><circle cx="474.5" cy="252.6" r="1.75"/><circle cx="478.2" cy="249.4" r="1.75"/><circle cx="481.1" cy="247.7" r="1.75"/><circle cx="485.4" cy="244.7" r="1.75"/><circle cx="489.5" cy="242.2" r="1.75"/><circle cx="492.6" cy="239.8" r="1.75"/><circle cx="496.8" cy="237.7" r="1.75"/><circle cx="501.6" cy="235.1" r="1.75"/><circle cx="506.4" cy="232.3" r="1.75"/><circle cx="510.8" cy="229.5" r="1.75"/><circle cx="516.1" cy="227.9" r="1.75"/><circle cx="521.0" cy="224.8" r="1.75"/><circle cx="525.4" cy="223.4" r="1.75"/><circle cx="530.0" cy="220.1" r="1.75"/><circle cx="534.8" cy="217.9" r="1.75"/><circle cx="541.0" cy="215.5" r="1.75"/><circle cx="433.1" cy="304.7" r="1.75"/><circle cx="433.9" cy="302.2" r="1.75"/><circle cx="435.3" cy="299.6" r="1.75"/><circle cx="436.8" cy="296.4" r="1.75"/><circle cx="438.6" cy="293.6" r="1.75"/><circle cx="440.3" cy="291.6" r="1.75"/><circle cx="442.2" cy="288.3" r="1.75"/><circle cx="444.2" cy="286.6" r="1.75"/><circle cx="445.8" cy="282.9" r="1.75"/><circle cx="448.1" cy="281.2" r="1.75"/><circle cx="449.8" cy="277.2" r="1.75"/><circle cx="452.8" cy="275.6" r="1.75"/><circle cx="455.8" cy="272.5" r="1.75"/><circle cx="458.8" cy="269.7" r="1.75"/><circle cx="461.2" cy="267.0" r="1.75"/><circle cx="463.0" cy="264.5" r="1.75"/><circle cx="466.1" cy="262.5" r="1.75"/><circle cx="470.0" cy="259.5" r="1.75"/><circle cx="473.9" cy="257.2" r="1.75"/><circle cx="476.1" cy="254.5" r="1.75"/><circle cx="480.5" cy="253.1" r="1.75"/><circle cx="483.3" cy="249.3" r="1.75"/><circle cx="488.0" cy="247.1" r="1.75"/><circle cx="492.2" cy="245.1" r="1.75"/><circle cx="495.7" cy="242.4" r="1.75"/><circle cx="500.1" cy="240.2" r="1.75"/><circle cx="503.6" cy="238.4" r="1.75"/><circle cx="507.7" cy="235.8" r="1.75"/><circle cx="512.1" cy="233.3" r="1.75"/><circle cx="517.2" cy="231.2" r="1.75"/><circle cx="521.4" cy="228.4" r="1.75"/><circle cx="526.8" cy="226.6" r="1.75"/><circle cx="532.6" cy="223.9" r="1.75"/><circle cx="536.6" cy="221.0" r="1.75"/><circle cx="541.9" cy="219.0" r="1.75"/><circle cx="547.2" cy="216.4" r="1.75"/><circle cx="441.3" cy="301.4" r="1.75"/><circle cx="441.5" cy="300.0" r="1.75"/><circle cx="442.3" cy="297.4" r="1.75"/><circle cx="443.2" cy="295.9" r="1.75"/><circle cx="445.4" cy="293.1" r="1.75"/><circle cx="446.3" cy="292.1" r="1.75"/><circle cx="446.7" cy="289.4" r="1.75"/><circle cx="448.3" cy="288.4" r="1.75"/><circle cx="449.0" cy="286.2" r="1.75"/><circle cx="451.0" cy="283.9" r="1.75"/><circle cx="452.3" cy="282.7" r="1.75"/><circle cx="453.2" cy="280.8" r="1.75"/><circle cx="454.9" cy="278.8" r="1.75"/><circle cx="457.2" cy="276.0" r="1.75"/><circle cx="458.7" cy="275.4" r="1.75"/><circle cx="459.5" cy="272.1" r="1.75"/><circle cx="460.9" cy="271.7" r="1.75"/><circle cx="462.5" cy="269.7" r="1.75"/><circle cx="464.4" cy="267.6" r="1.75"/><circle cx="466.2" cy="265.0" r="1.75"/><circle cx="469.0" cy="263.0" r="1.75"/><circle cx="470.4" cy="262.4" r="1.75"/><circle cx="472.9" cy="260.6" r="1.75"/><circle cx="475.4" cy="257.5" r="1.75"/><circle cx="476.3" cy="256.8" r="1.75"/><circle cx="481.3" cy="252.1" r="1.75"/><circle cx="483.3" cy="250.6" r="1.75"/><circle cx="485.5" cy="248.7" r="1.75"/><circle cx="487.2" cy="248.2" r="1.75"/><circle cx="492.5" cy="244.5" r="1.75"/><circle cx="494.7" cy="242.2" r="1.75"/><circle cx="497.3" cy="240.4" r="1.75"/><circle cx="499.9" cy="239.0" r="1.75"/><circle cx="505.2" cy="235.6" r="1.75"/><circle cx="508.5" cy="233.0" r="1.75"/><circle cx="511.1" cy="231.8" r="1.75"/><circle cx="514.8" cy="229.9" r="1.75"/><circle cx="519.7" cy="227.4" r="1.75"/><circle cx="523.7" cy="225.4" r="1.75"/><circle cx="525.8" cy="222.8" r="1.75"/><circle cx="528.9" cy="221.0" r="1.75"/><circle cx="535.0" cy="218.3" r="1.75"/><circle cx="538.8" cy="216.7" r="1.75"/><circle cx="542.1" cy="214.2" r="1.75"/><circle cx="545.9" cy="213.5" r="1.75"/><circle cx="552.6" cy="210.1" r="1.75"/><circle cx="556.4" cy="209.1" r="1.75"/><circle cx="560.2" cy="207.1" r="1.75"/><circle cx="563.2" cy="204.8" r="1.75"/><circle cx="570.6" cy="202.6" r="1.75"/><circle cx="574.4" cy="200.1" r="1.75"/><circle cx="578.2" cy="198.1" r="1.75"/><circle cx="583.0" cy="196.3" r="1.75"/><circle cx="449.3" cy="298.3" r="1.75"/><circle cx="450.0" cy="295.1" r="1.75"/><circle cx="451.7" cy="292.0" r="1.75"/><circle cx="453.0" cy="289.2" r="1.75"/><circle cx="455.7" cy="287.6" r="1.75"/><circle cx="457.6" cy="283.9" r="1.75"/><circle cx="459.3" cy="281.7" r="1.75"/><circle cx="461.3" cy="279.5" r="1.75"/><circle cx="463.0" cy="277.6" r="1.75"/><circle cx="464.9" cy="274.7" r="1.75"/><circle cx="468.7" cy="271.9" r="1.75"/><circle cx="470.9" cy="270.1" r="1.75"/><circle cx="473.2" cy="267.1" r="1.75"/><circle cx="476.8" cy="264.2" r="1.75"/><circle cx="479.8" cy="261.8" r="1.75"/><circle cx="482.7" cy="259.7" r="1.75"/><circle cx="486.2" cy="256.8" r="1.75"/><circle cx="489.5" cy="254.7" r="1.75"/><circle cx="492.4" cy="252.5" r="1.75"/><circle cx="496.2" cy="250.5" r="1.75"/><circle cx="500.3" cy="247.9" r="1.75"/><circle cx="504.3" cy="245.1" r="1.75"/><circle cx="507.9" cy="242.3" r="1.75"/><circle cx="513.2" cy="240.5" r="1.75"/><circle cx="516.9" cy="238.2" r="1.75"/><circle cx="521.8" cy="235.5" r="1.75"/><circle cx="525.4" cy="234.1" r="1.75"/><circle cx="530.5" cy="231.5" r="1.75"/><circle cx="535.9" cy="229.7" r="1.75"/><circle cx="541.0" cy="226.1" r="1.75"/><circle cx="545.3" cy="225.1" r="1.75"/><circle cx="551.2" cy="221.8" r="1.75"/><circle cx="555.6" cy="219.8" r="1.75"/><circle cx="561.0" cy="217.8" r="1.75"/><circle cx="457.8" cy="294.1" r="1.75"/><circle cx="458.7" cy="290.9" r="1.75"/><circle cx="460.1" cy="289.7" r="1.75"/><circle cx="462.2" cy="286.3" r="1.75"/><circle cx="463.6" cy="284.3" r="1.75"/><circle cx="466.0" cy="280.8" r="1.75"/><circle cx="467.9" cy="278.6" r="1.75"/><circle cx="469.8" cy="275.9" r="1.75"/><circle cx="471.9" cy="273.6" r="1.75"/><circle cx="474.4" cy="270.6" r="1.75"/><circle cx="476.7" cy="269.0" r="1.75"/><circle cx="479.2" cy="266.0" r="1.75"/><circle cx="483.1" cy="263.7" r="1.75"/><circle cx="485.5" cy="261.2" r="1.75"/><circle cx="489.4" cy="258.6" r="1.75"/><circle cx="492.3" cy="257.4" r="1.75"/><circle cx="495.1" cy="254.3" r="1.75"/><circle cx="499.5" cy="252.3" r="1.75"/><circle cx="502.6" cy="249.1" r="1.75"/><circle cx="506.5" cy="247.2" r="1.75"/><circle cx="510.8" cy="244.8" r="1.75"/><circle cx="514.5" cy="243.0" r="1.75"/><circle cx="519.3" cy="240.3" r="1.75"/><circle cx="523.0" cy="238.4" r="1.75"/><circle cx="528.3" cy="235.5" r="1.75"/><circle cx="533.0" cy="234.1" r="1.75"/><circle cx="536.9" cy="231.8" r="1.75"/><circle cx="541.7" cy="228.7" r="1.75"/><circle cx="547.4" cy="226.9" r="1.75"/><circle cx="552.2" cy="224.9" r="1.75"/><circle cx="558.1" cy="223.1" r="1.75"/><circle cx="562.2" cy="220.7" r="1.75"/><circle cx="568.4" cy="218.4" r="1.75"/><circle cx="466.6" cy="290.3" r="1.75"/><circle cx="467.0" cy="289.3" r="1.75"/><circle cx="468.0" cy="286.9" r="1.75"/><circle cx="469.2" cy="285.6" r="1.75"/><circle cx="470.6" cy="283.7" r="1.75"/><circle cx="471.4" cy="280.8" r="1.75"/><circle cx="473.1" cy="279.8" r="1.75"/><circle cx="474.6" cy="278.4" r="1.75"/><circle cx="475.0" cy="275.8" r="1.75"/><circle cx="476.4" cy="274.9" r="1.75"/><circle cx="477.9" cy="272.1" r="1.75"/><circle cx="480.5" cy="271.0" r="1.75"/><circle cx="481.0" cy="269.5" r="1.75"/><circle cx="483.7" cy="267.4" r="1.75"/><circle cx="484.4" cy="266.0" r="1.75"/><circle cx="486.8" cy="264.1" r="1.75"/><circle cx="489.5" cy="262.8" r="1.75"/><circle cx="491.2" cy="260.0" r="1.75"/><circle cx="492.4" cy="258.9" r="1.75"/><circle cx="493.9" cy="257.9" r="1.75"/><circle cx="498.6" cy="253.4" r="1.75"/><circle cx="500.8" cy="251.7" r="1.75"/><circle cx="503.9" cy="250.5" r="1.75"/><circle cx="505.7" cy="248.6" r="1.75"/><circle cx="509.8" cy="245.2" r="1.75"/><circle cx="513.5" cy="244.2" r="1.75"/><circle cx="516.0" cy="241.8" r="1.75"/><circle cx="517.6" cy="239.8" r="1.75"/><circle cx="523.5" cy="237.1" r="1.75"/><circle cx="526.2" cy="235.6" r="1.75"/><circle cx="529.2" cy="233.8" r="1.75"/><circle cx="532.4" cy="231.9" r="1.75"/><circle cx="538.6" cy="229.3" r="1.75"/><circle cx="540.3" cy="227.3" r="1.75"/><circle cx="544.2" cy="225.9" r="1.75"/><circle cx="547.4" cy="224.2" r="1.75"/><circle cx="553.5" cy="221.7" r="1.75"/><circle cx="556.9" cy="220.0" r="1.75"/><circle cx="561.0" cy="218.3" r="1.75"/><circle cx="564.0" cy="217.3" r="1.75"/><circle cx="571.1" cy="214.1" r="1.75"/><circle cx="574.1" cy="211.9" r="1.75"/><circle cx="578.7" cy="209.8" r="1.75"/><circle cx="582.8" cy="208.3" r="1.75"/><circle cx="590.1" cy="205.4" r="1.75"/><circle cx="594.5" cy="204.5" r="1.75"/><circle cx="598.3" cy="202.9" r="1.75"/><circle cx="602.2" cy="201.7" r="1.75"/><circle cx="474.3" cy="286.6" r="1.75"/><circle cx="476.5" cy="284.1" r="1.75"/><circle cx="478.1" cy="281.8" r="1.75"/><circle cx="478.6" cy="279.3" r="1.75"/><circle cx="481.4" cy="278.2" r="1.75"/><circle cx="482.8" cy="275.4" r="1.75"/><circle cx="484.7" cy="273.5" r="1.75"/><circle cx="487.5" cy="270.1" r="1.75"/><circle cx="489.0" cy="268.6" r="1.75"/><circle cx="491.4" cy="266.5" r="1.75"/><circle cx="494.4" cy="263.4" r="1.75"/><circle cx="497.6" cy="261.2" r="1.75"/><circle cx="500.5" cy="258.8" r="1.75"/><circle cx="504.1" cy="256.8" r="1.75"/><circle cx="507.2" cy="254.3" r="1.75"/><circle cx="510.4" cy="253.4" r="1.75"/><circle cx="513.3" cy="249.8" r="1.75"/><circle cx="516.9" cy="248.5" r="1.75"/><circle cx="520.4" cy="246.2" r="1.75"/><circle cx="524.0" cy="244.0" r="1.75"/><circle cx="529.0" cy="241.8" r="1.75"/><circle cx="533.1" cy="239.2" r="1.75"/><circle cx="537.6" cy="237.1" r="1.75"/><circle cx="542.2" cy="236.3" r="1.75"/><circle cx="546.8" cy="233.6" r="1.75"/><circle cx="550.5" cy="231.2" r="1.75"/><circle cx="556.0" cy="229.4" r="1.75"/><circle cx="561.2" cy="226.8" r="1.75"/><circle cx="565.7" cy="225.9" r="1.75"/><circle cx="571.1" cy="223.4" r="1.75"/><circle cx="575.7" cy="220.8" r="1.75"/><circle cx="581.5" cy="220.0" r="1.75"/><circle cx="483.7" cy="283.1" r="1.75"/><circle cx="485.3" cy="280.5" r="1.75"/><circle cx="486.4" cy="279.6" r="1.75"/><circle cx="487.7" cy="277.3" r="1.75"/><circle cx="490.0" cy="273.7" r="1.75"/><circle cx="491.5" cy="272.0" r="1.75"/><circle cx="493.6" cy="270.2" r="1.75"/><circle cx="495.7" cy="268.0" r="1.75"/><circle cx="498.3" cy="264.7" r="1.75"/><circle cx="501.3" cy="262.6" r="1.75"/><circle cx="504.0" cy="261.4" r="1.75"/><circle cx="506.9" cy="258.7" r="1.75"/><circle cx="509.1" cy="256.6" r="1.75"/><circle cx="512.3" cy="254.7" r="1.75"/><circle cx="515.6" cy="252.5" r="1.75"/><circle cx="519.4" cy="250.0" r="1.75"/><circle cx="523.4" cy="247.6" r="1.75"/><circle cx="526.4" cy="246.7" r="1.75"/><circle cx="530.5" cy="244.4" r="1.75"/><circle cx="535.3" cy="241.8" r="1.75"/><circle cx="538.3" cy="239.2" r="1.75"/><circle cx="543.7" cy="237.2" r="1.75"/><circle cx="547.6" cy="235.8" r="1.75"/><circle cx="551.5" cy="233.6" r="1.75"/><circle cx="556.3" cy="231.7" r="1.75"/><circle cx="561.7" cy="229.5" r="1.75"/><circle cx="566.2" cy="227.6" r="1.75"/><circle cx="571.3" cy="225.2" r="1.75"/><circle cx="576.7" cy="224.4" r="1.75"/><circle cx="582.5" cy="222.4" r="1.75"/><circle cx="587.3" cy="220.6" r="1.75"/><circle cx="492.2" cy="280.5" r="1.75"/><circle cx="493.4" cy="278.6" r="1.75"/><circle cx="494.0" cy="277.1" r="1.75"/><circle cx="495.1" cy="274.7" r="1.75"/><circle cx="496.1" cy="273.3" r="1.75"/><circle cx="498.2" cy="271.5" r="1.75"/><circle cx="500.1" cy="269.6" r="1.75"/><circle cx="501.1" cy="268.2" r="1.75"/><circle cx="502.6" cy="267.4" r="1.75"/><circle cx="504.3" cy="264.7" r="1.75"/><circle cx="505.3" cy="263.9" r="1.75"/><circle cx="508.1" cy="261.5" r="1.75"/><circle cx="509.3" cy="260.9" r="1.75"/><circle cx="511.4" cy="258.8" r="1.75"/><circle cx="513.2" cy="257.4" r="1.75"/><circle cx="515.4" cy="255.1" r="1.75"/><circle cx="517.4" cy="254.2" r="1.75"/><circle cx="518.7" cy="252.1" r="1.75"/><circle cx="520.6" cy="251.5" r="1.75"/><circle cx="523.4" cy="249.1" r="1.75"/><circle cx="527.5" cy="246.0" r="1.75"/><circle cx="529.7" cy="244.6" r="1.75"/><circle cx="532.3" cy="244.2" r="1.75"/><circle cx="535.8" cy="242.4" r="1.75"/><circle cx="540.3" cy="239.0" r="1.75"/><circle cx="543.4" cy="238.1" r="1.75"/><circle cx="546.2" cy="236.2" r="1.75"/><circle cx="548.2" cy="234.7" r="1.75"/><circle cx="555.0" cy="232.0" r="1.75"/><circle cx="556.9" cy="230.4" r="1.75"/><circle cx="560.4" cy="228.1" r="1.75"/><circle cx="564.5" cy="227.4" r="1.75"/><circle cx="570.6" cy="223.7" r="1.75"/><circle cx="574.1" cy="223.5" r="1.75"/><circle cx="577.6" cy="221.8" r="1.75"/><circle cx="581.0" cy="220.4" r="1.75"/><circle cx="587.8" cy="217.0" r="1.75"/><circle cx="591.8" cy="216.2" r="1.75"/><circle cx="595.6" cy="214.0" r="1.75"/><circle cx="599.5" cy="213.0" r="1.75"/><circle cx="607.2" cy="209.6" r="1.75"/><circle cx="611.3" cy="209.2" r="1.75"/><circle cx="614.2" cy="207.9" r="1.75"/><circle cx="618.3" cy="205.6" r="1.75"/><circle cx="501.0" cy="276.2" r="1.75"/><circle cx="502.6" cy="275.0" r="1.75"/><circle cx="504.6" cy="272.4" r="1.75"/><circle cx="506.0" cy="270.3" r="1.75"/><circle cx="508.7" cy="267.9" r="1.75"/><circle cx="511.1" cy="265.9" r="1.75"/><circle cx="512.6" cy="262.6" r="1.75"/><circle cx="515.5" cy="261.6" r="1.75"/><circle cx="517.7" cy="259.1" r="1.75"/><circle cx="521.3" cy="257.2" r="1.75"/><circle cx="523.1" cy="254.6" r="1.75"/><circle cx="526.3" cy="251.9" r="1.75"/><circle cx="530.8" cy="250.3" r="1.75"/><circle cx="534.0" cy="248.3" r="1.75"/><circle cx="537.3" cy="245.8" r="1.75"/><circle cx="541.1" cy="244.7" r="1.75"/><circle cx="545.5" cy="241.8" r="1.75"/><circle cx="548.8" cy="239.8" r="1.75"/><circle cx="554.1" cy="238.0" r="1.75"/><circle cx="558.5" cy="236.6" r="1.75"/><circle cx="562.3" cy="234.4" r="1.75"/><circle cx="567.0" cy="232.6" r="1.75"/><circle cx="572.2" cy="229.8" r="1.75"/><circle cx="578.5" cy="228.0" r="1.75"/><circle cx="582.7" cy="226.9" r="1.75"/><circle cx="588.7" cy="225.0" r="1.75"/><circle cx="594.0" cy="222.5" r="1.75"/><circle cx="600.6" cy="220.6" r="1.75"/><circle cx="510.8" cy="272.8" r="1.75"/><circle cx="512.1" cy="270.5" r="1.75"/><circle cx="513.4" cy="268.1" r="1.75"/><circle cx="514.8" cy="267.3" r="1.75"/><circle cx="517.3" cy="265.0" r="1.75"/><circle cx="519.2" cy="262.1" r="1.75"/><circle cx="521.4" cy="260.3" r="1.75"/><circle cx="525.1" cy="258.1" r="1.75"/><circle cx="527.1" cy="256.7" r="1.75"/><circle cx="530.8" cy="254.2" r="1.75"/><circle cx="532.7" cy="252.0" r="1.75"/><circle cx="536.5" cy="250.5" r="1.75"/><circle cx="539.8" cy="248.0" r="1.75"/><circle cx="543.8" cy="245.5" r="1.75"/><circle cx="547.4" cy="244.0" r="1.75"/><circle cx="551.9" cy="241.7" r="1.75"/><circle cx="555.2" cy="240.4" r="1.75"/><circle cx="559.0" cy="238.3" r="1.75"/><circle cx="564.4" cy="235.9" r="1.75"/><circle cx="568.6" cy="234.2" r="1.75"/><circle cx="574.1" cy="232.3" r="1.75"/><circle cx="578.8" cy="229.3" r="1.75"/><circle cx="583.3" cy="227.6" r="1.75"/><circle cx="589.5" cy="226.8" r="1.75"/><circle cx="593.7" cy="224.5" r="1.75"/><circle cx="600.0" cy="221.9" r="1.75"/><circle cx="605.5" cy="221.1" r="1.75"/><circle cx="519.7" cy="269.5" r="1.75"/><circle cx="521.0" cy="268.0" r="1.75"/><circle cx="521.8" cy="266.6" r="1.75"/><circle cx="523.8" cy="265.4" r="1.75"/><circle cx="524.8" cy="263.9" r="1.75"/><circle cx="525.6" cy="262.8" r="1.75"/><circle cx="527.6" cy="260.9" r="1.75"/><circle cx="528.5" cy="258.6" r="1.75"/><circle cx="530.6" cy="258.1" r="1.75"/><circle cx="532.6" cy="255.9" r="1.75"/><circle cx="533.4" cy="254.6" r="1.75"/><circle cx="536.3" cy="252.6" r="1.75"/><circle cx="538.1" cy="251.1" r="1.75"/><circle cx="539.4" cy="249.5" r="1.75"/><circle cx="541.5" cy="248.5" r="1.75"/><circle cx="546.8" cy="246.5" r="1.75"/><circle cx="547.9" cy="244.1" r="1.75"/><circle cx="551.4" cy="242.4" r="1.75"/><circle cx="552.9" cy="241.4" r="1.75"/><circle cx="557.7" cy="238.2" r="1.75"/><circle cx="560.8" cy="237.0" r="1.75"/><circle cx="564.4" cy="235.4" r="1.75"/><circle cx="566.0" cy="235.0" r="1.75"/><circle cx="572.2" cy="232.1" r="1.75"/><circle cx="575.5" cy="230.6" r="1.75"/><circle cx="578.1" cy="228.3" r="1.75"/><circle cx="582.0" cy="227.4" r="1.75"/><circle cx="588.2" cy="225.0" r="1.75"/><circle cx="591.9" cy="223.0" r="1.75"/><circle cx="594.8" cy="222.6" r="1.75"/><circle cx="598.5" cy="220.4" r="1.75"/><circle cx="606.0" cy="217.6" r="1.75"/><circle cx="609.9" cy="216.0" r="1.75"/><circle cx="613.8" cy="215.5" r="1.75"/><circle cx="617.0" cy="214.7" r="1.75"/><circle cx="624.9" cy="211.1" r="1.75"/><circle cx="628.7" cy="210.2" r="1.75"/><circle cx="634.0" cy="209.1" r="1.75"/><circle cx="637.7" cy="208.1" r="1.75"/><circle cx="528.1" cy="266.2" r="1.75"/><circle cx="530.5" cy="265.2" r="1.75"/><circle cx="532.3" cy="262.7" r="1.75"/><circle cx="534.4" cy="260.2" r="1.75"/><circle cx="536.8" cy="258.7" r="1.75"/><circle cx="538.2" cy="256.2" r="1.75"/><circle cx="541.4" cy="254.1" r="1.75"/><circle cx="543.2" cy="252.9" r="1.75"/><circle cx="546.6" cy="250.4" r="1.75"/><circle cx="549.8" cy="249.1" r="1.75"/><circle cx="552.3" cy="246.3" r="1.75"/><circle cx="555.6" cy="244.5" r="1.75"/><circle cx="559.8" cy="243.2" r="1.75"/><circle cx="563.8" cy="240.9" r="1.75"/><circle cx="567.4" cy="239.1" r="1.75"/><circle cx="571.3" cy="237.6" r="1.75"/><circle cx="576.4" cy="235.8" r="1.75"/><circle cx="579.9" cy="233.7" r="1.75"/><circle cx="585.5" cy="231.6" r="1.75"/><circle cx="590.6" cy="230.4" r="1.75"/><circle cx="595.4" cy="228.5" r="1.75"/><circle cx="600.5" cy="226.8" r="1.75"/><circle cx="605.1" cy="224.8" r="1.75"/><circle cx="611.5" cy="223.0" r="1.75"/><circle cx="616.7" cy="220.4" r="1.75"/><circle cx="538.2" cy="263.7" r="1.75"/><circle cx="539.3" cy="260.8" r="1.75"/><circle cx="541.0" cy="258.7" r="1.75"/><circle cx="543.7" cy="258.0" r="1.75"/><circle cx="546.0" cy="255.2" r="1.75"/><circle cx="548.2" cy="252.8" r="1.75"/><circle cx="551.0" cy="251.3" r="1.75"/><circle cx="552.5" cy="249.8" r="1.75"/><circle cx="555.6" cy="247.4" r="1.75"/><circle cx="558.6" cy="245.8" r="1.75"/><circle cx="562.6" cy="244.5" r="1.75"/><circle cx="565.3" cy="242.7" r="1.75"/><circle cx="569.1" cy="240.0" r="1.75"/><circle cx="573.7" cy="238.3" r="1.75"/><circle cx="577.3" cy="236.9" r="1.75"/><circle cx="581.4" cy="235.5" r="1.75"/><circle cx="585.8" cy="233.8" r="1.75"/><circle cx="591.3" cy="231.6" r="1.75"/><circle cx="594.9" cy="230.2" r="1.75"/><circle cx="599.9" cy="228.1" r="1.75"/><circle cx="605.6" cy="225.7" r="1.75"/><circle cx="611.3" cy="225.0" r="1.75"/><circle cx="616.8" cy="222.8" r="1.75"/><circle cx="622.4" cy="221.5" r="1.75"/><circle cx="547.3" cy="260.5" r="1.75"/><circle cx="549.6" cy="259.0" r="1.75"/><circle cx="550.8" cy="256.9" r="1.75"/><circle cx="552.2" cy="255.1" r="1.75"/><circle cx="552.9" cy="253.8" r="1.75"/><circle cx="554.3" cy="253.2" r="1.75"/><circle cx="556.3" cy="251.5" r="1.75"/><circle cx="557.4" cy="249.8" r="1.75"/><circle cx="559.3" cy="248.6" r="1.75"/><circle cx="560.8" cy="247.9" r="1.75"/><circle cx="563.2" cy="246.1" r="1.75"/><circle cx="564.7" cy="245.2" r="1.75"/><circle cx="566.8" cy="243.2" r="1.75"/><circle cx="569.5" cy="242.5" r="1.75"/><circle cx="572.4" cy="241.3" r="1.75"/><circle cx="577.1" cy="238.9" r="1.75"/><circle cx="579.3" cy="237.3" r="1.75"/><circle cx="580.9" cy="235.2" r="1.75"/><circle cx="583.5" cy="234.9" r="1.75"/><circle cx="590.2" cy="232.0" r="1.75"/><circle cx="592.4" cy="230.4" r="1.75"/><circle cx="595.3" cy="229.5" r="1.75"/><circle cx="599.6" cy="227.8" r="1.75"/><circle cx="604.6" cy="225.1" r="1.75"/><circle cx="608.4" cy="225.0" r="1.75"/><circle cx="612.5" cy="223.1" r="1.75"/><circle cx="615.0" cy="221.3" r="1.75"/><circle cx="622.4" cy="219.9" r="1.75"/><circle cx="626.6" cy="219.0" r="1.75"/><circle cx="631.1" cy="217.6" r="1.75"/><circle cx="634.4" cy="216.4" r="1.75"/><circle cx="642.0" cy="213.0" r="1.75"/><circle cx="646.8" cy="212.4" r="1.75"/><circle cx="650.6" cy="210.9" r="1.75"/><circle cx="556.6" cy="257.3" r="1.75"/><circle cx="559.3" cy="255.5" r="1.75"/><circle cx="561.6" cy="252.8" r="1.75"/><circle cx="563.4" cy="250.9" r="1.75"/><circle cx="565.9" cy="249.7" r="1.75"/><circle cx="567.4" cy="246.6" r="1.75"/><circle cx="570.3" cy="245.6" r="1.75"/><circle cx="573.6" cy="243.0" r="1.75"/><circle cx="577.5" cy="242.3" r="1.75"/><circle cx="580.4" cy="239.4" r="1.75"/><circle cx="584.7" cy="238.4" r="1.75"/><circle cx="587.3" cy="236.4" r="1.75"/><circle cx="592.2" cy="235.5" r="1.75"/><circle cx="596.3" cy="233.4" r="1.75"/><circle cx="600.5" cy="231.1" r="1.75"/><circle cx="606.3" cy="229.6" r="1.75"/><circle cx="610.0" cy="228.3" r="1.75"/><circle cx="615.2" cy="226.1" r="1.75"/><circle cx="621.1" cy="225.0" r="1.75"/><circle cx="627.0" cy="223.6" r="1.75"/><circle cx="632.6" cy="221.0" r="1.75"/><circle cx="567.3" cy="252.9" r="1.75"/><circle cx="568.6" cy="251.6" r="1.75"/><circle cx="570.8" cy="250.2" r="1.75"/><circle cx="572.3" cy="248.4" r="1.75"/><circle cx="575.4" cy="246.3" r="1.75"/><circle cx="577.1" cy="245.2" r="1.75"/><circle cx="580.7" cy="242.2" r="1.75"/><circle cx="583.2" cy="241.8" r="1.75"/><circle cx="586.4" cy="239.2" r="1.75"/><circle cx="590.8" cy="238.2" r="1.75"/><circle cx="594.2" cy="236.4" r="1.75"/><circle cx="597.3" cy="233.8" r="1.75"/><circle cx="602.9" cy="233.2" r="1.75"/><circle cx="605.9" cy="230.4" r="1.75"/><circle cx="610.8" cy="230.1" r="1.75"/><circle cx="615.6" cy="228.2" r="1.75"/><circle cx="621.7" cy="226.5" r="1.75"/><circle cx="627.0" cy="224.4" r="1.75"/><circle cx="631.4" cy="222.5" r="1.75"/><circle cx="638.0" cy="221.1" r="1.75"/><circle cx="577.8" cy="250.7" r="1.75"/><circle cx="577.8" cy="249.5" r="1.75"/><circle cx="579.1" cy="247.8" r="1.75"/><circle cx="580.4" cy="246.9" r="1.75"/><circle cx="583.1" cy="245.9" r="1.75"/><circle cx="583.4" cy="244.5" r="1.75"/><circle cx="586.0" cy="243.2" r="1.75"/><circle cx="587.7" cy="241.7" r="1.75"/><circle cx="589.8" cy="240.7" r="1.75"/><circle cx="591.0" cy="238.3" r="1.75"/><circle cx="593.9" cy="237.5" r="1.75"/><circle cx="595.9" cy="235.8" r="1.75"/><circle cx="598.8" cy="234.6" r="1.75"/><circle cx="601.3" cy="234.6" r="1.75"/><circle cx="603.3" cy="232.4" r="1.75"/><circle cx="609.0" cy="230.2" r="1.75"/><circle cx="611.5" cy="228.8" r="1.75"/><circle cx="615.3" cy="228.3" r="1.75"/><circle cx="617.4" cy="226.5" r="1.75"/><circle cx="624.4" cy="225.3" r="1.75"/><circle cx="627.9" cy="223.1" r="1.75"/><circle cx="630.7" cy="222.2" r="1.75"/><circle cx="634.8" cy="220.9" r="1.75"/><circle cx="642.0" cy="219.9" r="1.75"/><circle cx="646.1" cy="217.4" r="1.75"/><circle cx="649.1" cy="216.4" r="1.75"/><circle cx="654.1" cy="216.1" r="1.75"/><circle cx="662.3" cy="213.7" r="1.75"/><circle cx="586.8" cy="247.4" r="1.75"/><circle cx="588.9" cy="246.2" r="1.75"/><circle cx="591.1" cy="244.3" r="1.75"/><circle cx="593.7" cy="242.6" r="1.75"/><circle cx="595.9" cy="239.7" r="1.75"/><circle cx="598.7" cy="239.3" r="1.75"/><circle cx="601.4" cy="237.7" r="1.75"/><circle cx="604.4" cy="236.2" r="1.75"/><circle cx="608.4" cy="234.2" r="1.75"/><circle cx="612.1" cy="232.0" r="1.75"/><circle cx="616.4" cy="230.5" r="1.75"/><circle cx="620.4" cy="229.1" r="1.75"/><circle cx="626.4" cy="227.9" r="1.75"/><circle cx="631.3" cy="226.6" r="1.75"/><circle cx="636.4" cy="225.4" r="1.75"/><circle cx="641.8" cy="222.9" r="1.75"/><circle cx="646.8" cy="221.6" r="1.75"/><circle cx="596.3" cy="243.8" r="1.75"/><circle cx="599.4" cy="243.1" r="1.75"/><circle cx="600.8" cy="241.2" r="1.75"/><circle cx="603.9" cy="239.7" r="1.75"/><circle cx="606.7" cy="237.4" r="1.75"/><circle cx="608.8" cy="236.2" r="1.75"/><circle cx="612.6" cy="234.3" r="1.75"/><circle cx="616.4" cy="232.6" r="1.75"/><circle cx="621.3" cy="230.4" r="1.75"/><circle cx="625.0" cy="229.6" r="1.75"/><circle cx="629.7" cy="228.5" r="1.75"/><circle cx="634.5" cy="226.9" r="1.75"/><circle cx="640.2" cy="225.5" r="1.75"/><circle cx="644.9" cy="222.9" r="1.75"/><circle cx="651.1" cy="222.5" r="1.75"/><circle cx="606.7" cy="240.8" r="1.75"/><circle cx="609.0" cy="240.7" r="1.75"/><circle cx="609.6" cy="238.7" r="1.75"/><circle cx="612.0" cy="237.9" r="1.75"/><circle cx="613.8" cy="236.8" r="1.75"/><circle cx="614.8" cy="235.0" r="1.75"/><circle cx="616.5" cy="234.5" r="1.75"/><circle cx="618.9" cy="232.7" r="1.75"/><circle cx="622.2" cy="232.2" r="1.75"/><circle cx="624.1" cy="231.1" r="1.75"/><circle cx="629.2" cy="229.0" r="1.75"/><circle cx="631.6" cy="226.9" r="1.75"/><circle cx="634.2" cy="225.8" r="1.75"/><circle cx="637.7" cy="224.9" r="1.75"/><circle cx="643.8" cy="223.4" r="1.75"/><circle cx="648.6" cy="222.6" r="1.75"/><circle cx="651.2" cy="221.7" r="1.75"/><circle cx="654.8" cy="219.7" r="1.75"/><circle cx="662.9" cy="218.2" r="1.75"/><circle cx="667.6" cy="217.2" r="1.75"/><circle cx="672.0" cy="215.7" r="1.75"/><circle cx="618.3" cy="237.9" r="1.75"/><circle cx="620.2" cy="235.9" r="1.75"/><circle cx="622.5" cy="234.6" r="1.75"/><circle cx="625.3" cy="233.9" r="1.75"/><circle cx="628.2" cy="231.6" r="1.75"/><circle cx="630.7" cy="230.0" r="1.75"/><circle cx="636.0" cy="228.5" r="1.75"/><circle cx="639.9" cy="227.7" r="1.75"/><circle cx="644.6" cy="225.7" r="1.75"/><circle cx="649.0" cy="224.1" r="1.75"/><circle cx="655.7" cy="223.2" r="1.75"/><circle cx="661.1" cy="222.1" r="1.75"/><circle cx="627.7" cy="234.6" r="1.75"/><circle cx="629.3" cy="234.3" r="1.75"/><circle cx="631.8" cy="233.1" r="1.75"/><circle cx="634.9" cy="231.4" r="1.75"/><circle cx="637.8" cy="230.1" r="1.75"/><circle cx="641.5" cy="228.2" r="1.75"/><circle cx="645.9" cy="226.5" r="1.75"/><circle cx="649.9" cy="226.2" r="1.75"/><circle cx="654.8" cy="224.4" r="1.75"/><circle cx="660.7" cy="222.9" r="1.75"/><circle cx="665.5" cy="221.7" r="1.75"/><circle cx="638.7" cy="232.1" r="1.75"/><circle cx="640.5" cy="231.3" r="1.75"/><circle cx="642.5" cy="229.7" r="1.75"/><circle cx="644.0" cy="230.0" r="1.75"/><circle cx="645.4" cy="227.8" r="1.75"/><circle cx="648.0" cy="227.1" r="1.75"/><circle cx="650.5" cy="227.1" r="1.75"/><circle cx="652.6" cy="225.3" r="1.75"/><circle cx="656.0" cy="224.5" r="1.75"/><circle cx="658.8" cy="224.0" r="1.75"/><circle cx="665.4" cy="221.8" r="1.75"/><circle cx="669.5" cy="221.5" r="1.75"/><circle cx="674.2" cy="220.9" r="1.75"/><circle cx="677.1" cy="219.5" r="1.75"/><circle cx="224.2" cy="428.1" r="1.75"/><circle cx="226.9" cy="425.8" r="1.75"/><circle cx="229.5" cy="424.2" r="1.75"/><circle cx="232.2" cy="422.4" r="1.75"/><circle cx="234.9" cy="420.2" r="1.75"/><circle cx="237.5" cy="417.1" r="1.75"/><circle cx="240.2" cy="416.4" r="1.75"/><circle cx="242.9" cy="413.8" r="1.75"/><circle cx="245.6" cy="411.4" r="1.75"/><circle cx="248.4" cy="409.4" r="1.75"/><circle cx="251.1" cy="408.5" r="1.75"/><circle cx="253.8" cy="405.6" r="1.75"/><circle cx="256.6" cy="403.4" r="1.75"/><circle cx="259.3" cy="401.8" r="1.75"/><circle cx="262.1" cy="400.9" r="1.75"/><circle cx="264.9" cy="398.3" r="1.75"/><circle cx="267.7" cy="396.8" r="1.75"/><circle cx="270.5" cy="393.9" r="1.75"/><circle cx="273.3" cy="392.6" r="1.75"/><circle cx="276.1" cy="390.5" r="1.75"/><circle cx="278.9" cy="388.4" r="1.75"/><circle cx="281.8" cy="387.3" r="1.75"/><circle cx="284.6" cy="385.0" r="1.75"/><circle cx="287.5" cy="382.8" r="1.75"/><circle cx="290.3" cy="382.2" r="1.75"/><circle cx="293.2" cy="379.6" r="1.75"/><circle cx="296.1" cy="377.4" r="1.75"/><circle cx="299.0" cy="375.3" r="1.75"/><circle cx="301.9" cy="374.4" r="1.75"/><circle cx="304.8" cy="372.4" r="1.75"/><circle cx="307.7" cy="369.9" r="1.75"/><circle cx="310.7" cy="368.8" r="1.75"/><circle cx="313.6" cy="367.4" r="1.75"/><circle cx="316.6" cy="365.3" r="1.75"/><circle cx="319.5" cy="363.1" r="1.75"/><circle cx="322.5" cy="361.8" r="1.75"/><circle cx="325.5" cy="360.2" r="1.75"/><circle cx="328.5" cy="358.5" r="1.75"/><circle cx="331.5" cy="356.0" r="1.75"/><circle cx="334.5" cy="355.3" r="1.75"/><circle cx="337.5" cy="353.8" r="1.75"/><circle cx="340.5" cy="351.8" r="1.75"/><circle cx="343.6" cy="350.2" r="1.75"/><circle cx="346.6" cy="347.8" r="1.75"/><circle cx="349.7" cy="346.9" r="1.75"/><circle cx="352.8" cy="344.2" r="1.75"/><circle cx="355.8" cy="342.6" r="1.75"/><circle cx="358.9" cy="341.5" r="1.75"/><circle cx="362.0" cy="340.3" r="1.75"/><circle cx="365.1" cy="337.4" r="1.75"/><circle cx="368.3" cy="335.9" r="1.75"/><circle cx="371.4" cy="334.0" r="1.75"/><circle cx="374.5" cy="333.0" r="1.75"/><circle cx="377.7" cy="331.0" r="1.75"/><circle cx="380.9" cy="329.4" r="1.75"/><circle cx="384.0" cy="328.7" r="1.75"/><circle cx="387.2" cy="326.8" r="1.75"/><circle cx="390.4" cy="325.8" r="1.75"/><circle cx="393.6" cy="323.4" r="1.75"/><circle cx="396.8" cy="322.2" r="1.75"/><circle cx="400.0" cy="319.6" r="1.75"/><circle cx="403.2" cy="319.5" r="1.75"/><circle cx="406.5" cy="316.9" r="1.75"/><circle cx="409.7" cy="315.7" r="1.75"/><circle cx="413.0" cy="314.2" r="1.75"/><circle cx="416.3" cy="313.4" r="1.75"/><circle cx="419.5" cy="311.1" r="1.75"/><circle cx="422.8" cy="310.4" r="1.75"/><circle cx="426.1" cy="308.3" r="1.75"/><circle cx="429.4" cy="306.2" r="1.75"/><circle cx="432.7" cy="305.7" r="1.75"/><circle cx="436.1" cy="303.2" r="1.75"/><circle cx="439.4" cy="303.0" r="1.75"/><circle cx="442.7" cy="300.7" r="1.75"/><circle cx="446.1" cy="298.9" r="1.75"/><circle cx="449.5" cy="298.5" r="1.75"/><circle cx="452.8" cy="296.1" r="1.75"/><circle cx="456.2" cy="294.8" r="1.75"/><circle cx="459.6" cy="293.3" r="1.75"/><circle cx="463.0" cy="292.4" r="1.75"/><circle cx="466.4" cy="290.0" r="1.75"/><circle cx="469.9" cy="289.1" r="1.75"/><circle cx="473.3" cy="287.4" r="1.75"/><circle cx="476.7" cy="287.0" r="1.75"/><circle cx="480.2" cy="284.4" r="1.75"/><circle cx="483.7" cy="283.9" r="1.75"/><circle cx="487.1" cy="282.0" r="1.75"/><circle cx="490.6" cy="281.0" r="1.75"/><circle cx="494.1" cy="279.8" r="1.75"/><circle cx="497.6" cy="278.6" r="1.75"/><circle cx="501.1" cy="276.4" r="1.75"/><circle cx="504.6" cy="275.3" r="1.75"/><circle cx="508.2" cy="273.8" r="1.75"/><circle cx="511.7" cy="273.7" r="1.75"/><circle cx="515.3" cy="271.2" r="1.75"/><circle cx="518.8" cy="269.9" r="1.75"/><circle cx="522.4" cy="269.2" r="1.75"/><circle cx="526.0" cy="268.0" r="1.75"/><circle cx="529.6" cy="267.2" r="1.75"/><circle cx="533.2" cy="264.6" r="1.75"/><circle cx="536.8" cy="263.6" r="1.75"/><circle cx="540.4" cy="262.3" r="1.75"/><circle cx="544.0" cy="261.7" r="1.75"/><circle cx="547.7" cy="260.2" r="1.75"/><circle cx="551.3" cy="258.9" r="1.75"/><circle cx="555.0" cy="258.4" r="1.75"/><circle cx="558.7" cy="256.9" r="1.75"/><circle cx="562.3" cy="256.0" r="1.75"/><circle cx="566.0" cy="254.9" r="1.75"/><circle cx="569.7" cy="252.7" r="1.75"/><circle cx="573.4" cy="252.5" r="1.75"/><circle cx="577.1" cy="250.5" r="1.75"/><circle cx="580.9" cy="248.8" r="1.75"/><circle cx="584.6" cy="249.0" r="1.75"/><circle cx="588.4" cy="246.6" r="1.75"/><circle cx="592.1" cy="245.3" r="1.75"/><circle cx="595.9" cy="244.6" r="1.75"/><circle cx="599.7" cy="243.5" r="1.75"/><circle cx="603.4" cy="243.4" r="1.75"/><circle cx="607.2" cy="242.1" r="1.75"/><circle cx="611.0" cy="240.3" r="1.75"/><circle cx="614.9" cy="239.4" r="1.75"/><circle cx="618.7" cy="238.8" r="1.75"/><circle cx="622.5" cy="237.6" r="1.75"/><circle cx="626.4" cy="236.3" r="1.75"/><circle cx="630.2" cy="235.0" r="1.75"/><circle cx="634.1" cy="233.4" r="1.75"/><circle cx="638.0" cy="232.5" r="1.75"/><circle cx="641.9" cy="232.1" r="1.75"/><circle cx="645.7" cy="230.9" r="1.75"/><circle cx="649.7" cy="230.2" r="1.75"/><circle cx="653.6" cy="229.4" r="1.75"/><circle cx="657.5" cy="228.4" r="1.75"/><circle cx="661.4" cy="226.3" r="1.75"/><circle cx="665.4" cy="225.1" r="1.75"/><circle cx="669.3" cy="225.3" r="1.75"/><circle cx="673.3" cy="223.9" r="1.75"/><circle cx="677.3" cy="222.3" r="1.75"/><circle cx="681.2" cy="222.1" r="1.75"/><circle cx="685.2" cy="220.5" r="1.75"/></g><g fill="#4aa05a"><circle cx="235.1" cy="397.3" r="4.7"/><circle cx="244.9" cy="384.1" r="4.7"/><circle cx="239.4" cy="371.5" r="4.7"/><circle cx="243.5" cy="356.6" r="4.7"/><circle cx="249.0" cy="342.2" r="4.7"/><circle cx="256.0" cy="328.3" r="4.7"/><circle cx="247.2" cy="345.9" r="4.7"/><circle cx="248.8" cy="330.6" r="4.7"/><circle cx="251.3" cy="315.6" r="4.7"/><circle cx="254.5" cy="300.9" r="4.7"/><circle cx="258.5" cy="286.4" r="4.7"/><circle cx="263.3" cy="272.3" r="4.7"/><circle cx="268.8" cy="258.4" r="4.7"/><circle cx="259.6" cy="319.4" r="4.7"/><circle cx="260.8" cy="303.9" r="4.7"/><circle cx="262.6" cy="288.7" r="4.7"/><circle cx="265.0" cy="273.7" r="4.7"/><circle cx="268.0" cy="258.9" r="4.7"/><circle cx="271.6" cy="244.2" r="4.7"/><circle cx="275.7" cy="229.9" r="4.7"/><circle cx="280.4" cy="215.7" r="4.7"/><circle cx="285.7" cy="201.7" r="4.7"/><circle cx="291.5" cy="188.0" r="4.7"/><circle cx="276.8" cy="294.7" r="4.7"/><circle cx="278.6" cy="279.5" r="4.7"/><circle cx="280.9" cy="264.6" r="4.7"/><circle cx="283.7" cy="249.8" r="4.7"/><circle cx="287.1" cy="235.2" r="4.7"/><circle cx="291.0" cy="220.8" r="4.7"/><circle cx="295.4" cy="206.6" r="4.7"/><circle cx="300.4" cy="192.6" r="4.7"/><circle cx="306.0" cy="178.8" r="4.7"/><circle cx="312.0" cy="165.1" r="4.7"/><circle cx="298.4" cy="284.8" r="4.7"/><circle cx="301.3" cy="269.8" r="4.7"/><circle cx="304.7" cy="254.9" r="4.7"/><circle cx="308.7" cy="240.3" r="4.7"/><circle cx="313.3" cy="225.8" r="4.7"/><circle cx="318.5" cy="211.5" r="4.7"/><circle cx="324.3" cy="197.4" r="4.7"/><circle cx="330.8" cy="183.4" r="4.7"/><circle cx="337.8" cy="169.7" r="4.7"/><circle cx="345.4" cy="156.1" r="4.7"/><circle cx="353.6" cy="142.7" r="4.7"/><circle cx="324.4" cy="277.4" r="4.7"/><circle cx="329.0" cy="263.0" r="4.7"/><circle cx="334.3" cy="248.8" r="4.7"/><circle cx="340.3" cy="234.7" r="4.7"/><circle cx="347.0" cy="220.8" r="4.7"/><circle cx="354.5" cy="207.1" r="4.7"/><circle cx="362.6" cy="193.6" r="4.7"/><circle cx="371.5" cy="180.2" r="4.7"/><circle cx="381.0" cy="167.1" r="4.7"/><circle cx="391.3" cy="154.1" r="4.7"/><circle cx="351.5" cy="272.7" r="4.7"/><circle cx="357.9" cy="259.3" r="4.7"/><circle cx="365.0" cy="246.1" r="4.7"/><circle cx="373.0" cy="233.1" r="4.7"/><circle cx="381.8" cy="220.2" r="4.7"/><circle cx="391.4" cy="207.5" r="4.7"/><circle cx="401.8" cy="194.9" r="4.7"/><circle cx="413.1" cy="182.6" r="4.7"/><circle cx="425.1" cy="170.4" r="4.7"/><circle cx="438.0" cy="158.4" r="4.7"/><circle cx="372.2" cy="280.0" r="4.7"/><circle cx="379.4" cy="267.4" r="4.7"/><circle cx="387.4" cy="255.0" r="4.7"/><circle cx="396.4" cy="242.7" r="4.7"/><circle cx="406.3" cy="230.6" r="4.7"/><circle cx="417.1" cy="218.7" r="4.7"/><circle cx="428.9" cy="207.0" r="4.7"/><circle cx="441.6" cy="195.4" r="4.7"/><circle cx="455.3" cy="183.9" r="4.7"/><circle cx="469.8" cy="172.7" r="4.7"/><circle cx="398.7" cy="273.9" r="4.7"/><circle cx="407.2" cy="262.3" r="4.7"/><circle cx="416.7" cy="250.8" r="4.7"/><circle cx="427.3" cy="239.5" r="4.7"/><circle cx="438.9" cy="228.4" r="4.7"/><circle cx="451.6" cy="217.5" r="4.7"/><circle cx="465.3" cy="206.7" r="4.7"/><circle cx="480.0" cy="196.0" r="4.7"/><circle cx="495.8" cy="185.6" r="4.7"/><circle cx="512.6" cy="175.2" r="4.7"/><circle cx="425.5" cy="268.2" r="4.7"/><circle cx="435.2" cy="257.6" r="4.7"/><circle cx="446.1" cy="247.3" r="4.7"/><circle cx="458.1" cy="237.0" r="4.7"/><circle cx="471.2" cy="227.0" r="4.7"/><circle cx="485.5" cy="217.1" r="4.7"/><circle cx="500.9" cy="207.3" r="4.7"/><circle cx="517.4" cy="197.7" r="4.7"/><circle cx="535.0" cy="188.2" r="4.7"/><circle cx="451.6" cy="261.5" r="4.7"/><circle cx="462.1" cy="251.8" r="4.7"/><circle cx="473.9" cy="242.3" r="4.7"/><circle cx="486.8" cy="232.9" r="4.7"/><circle cx="501.0" cy="223.7" r="4.7"/><circle cx="516.3" cy="214.6" r="4.7"/><circle cx="532.8" cy="205.7" r="4.7"/><circle cx="550.6" cy="196.9" r="4.7"/><circle cx="478.9" cy="254.6" r="4.7"/><circle cx="490.3" cy="245.7" r="4.7"/><circle cx="503.1" cy="237.0" r="4.7"/><circle cx="517.1" cy="228.4" r="4.7"/><circle cx="532.5" cy="220.0" r="4.7"/><circle cx="549.1" cy="211.7" r="4.7"/><circle cx="567.0" cy="203.5" r="4.7"/><circle cx="586.2" cy="195.5" r="4.7"/><circle cx="496.8" cy="255.5" r="4.7"/><circle cx="508.0" cy="247.1" r="4.7"/><circle cx="520.8" cy="238.9" r="4.7"/><circle cx="534.9" cy="230.8" r="4.7"/><circle cx="550.5" cy="222.8" r="4.7"/><circle cx="567.6" cy="215.0" r="4.7"/><circle cx="586.1" cy="207.4" r="4.7"/><circle cx="606.0" cy="199.9" r="4.7"/><circle cx="525.4" cy="248.1" r="4.7"/><circle cx="537.7" cy="240.5" r="4.7"/><circle cx="551.5" cy="233.0" r="4.7"/><circle cx="567.0" cy="225.7" r="4.7"/><circle cx="584.0" cy="218.6" r="4.7"/><circle cx="602.6" cy="211.5" r="4.7"/><circle cx="622.9" cy="204.7" r="4.7"/><circle cx="543.9" cy="247.2" r="4.7"/><circle cx="555.7" cy="240.0" r="4.7"/><circle cx="569.3" cy="233.0" r="4.7"/><circle cx="584.8" cy="226.1" r="4.7"/><circle cx="602.1" cy="219.3" r="4.7"/><circle cx="621.2" cy="212.8" r="4.7"/><circle cx="574.0" cy="239.6" r="4.7"/><circle cx="587.0" cy="233.1" r="4.7"/><circle cx="602.0" cy="226.8" r="4.7"/><circle cx="619.2" cy="220.7" r="4.7"/><circle cx="638.4" cy="214.7" r="4.7"/><circle cx="606.0" cy="231.8" r="4.7"/><circle cx="620.8" cy="226.0" r="4.7"/><circle cx="638.1" cy="220.3" r="4.7"/><circle cx="658.0" cy="214.9" r="4.7"/><circle cx="626.4" cy="229.8" r="4.7"/><circle cx="641.1" cy="224.4" r="4.7"/><circle cx="659.1" cy="219.3" r="4.7"/><circle cx="662.5" cy="223.3" r="4.7"/><circle cx="682.1" cy="219.2" r="4.7"/></g><g fill="#c8202c"><rect x="247.5" y="371.5" width="10.5" height="10.5"/><rect x="257.7" y="312.4" width="10.5" height="10.5"/><rect x="270.1" y="239.7" width="10.5" height="10.5"/><rect x="287.8" y="180.2" width="10.5" height="10.5"/><rect x="312.2" y="149.4" width="10.5" height="10.5"/><rect x="350.3" y="135.1" width="10.5" height="10.5"/><rect x="395.1" y="138.8" width="10.5" height="10.5"/><rect x="438.4" y="148.6" width="10.5" height="10.5"/><rect x="477.2" y="158.8" width="10.5" height="10.5"/><rect x="511.0" y="168.2" width="10.5" height="10.5"/><rect x="541.2" y="177.6" width="10.5" height="10.5"/><rect x="564.5" y="183.3" width="10.5" height="10.5"/><rect x="585.2" y="188.9" width="10.5" height="10.5"/><rect x="605.2" y="193.4" width="10.5" height="10.5"/><rect x="622.1" y="198.3" width="10.5" height="10.5"/><rect x="637.2" y="201.3" width="10.5" height="10.5"/><rect x="650.3" y="205.1" width="10.5" height="10.5"/><rect x="661.6" y="207.7" width="10.5" height="10.5"/><rect x="671.1" y="210.4" width="10.5" height="10.5"/><rect x="681.6" y="213.4" width="10.5" height="10.5"/></g><path d="M222 428 q8 -2 14 -8 q6 -8 10 -16" stroke="#c8202c" stroke-width="4" fill="none"/><path d="M226 424 q8 -4 12 -12 q5 -10 12 -22" stroke="#3f9a4f" stroke-width="4" fill="none"/></g><rect x="223.5" y="94.5" width="526" height="396" fill="none" stroke="#111" stroke-width="3.4"/><rect x="352.6" y="478" width="2.8" height="12" fill="#111"/><rect x="483.40000000000003" y="478" width="2.8" height="12" fill="#111"/><rect x="616.3000000000001" y="478" width="2.8" height="12" fill="#111"/><text x="224" y="535" text-anchor="middle" font-size="47.5">0</text><text x="355" y="535" text-anchor="middle" font-size="47.5">1</text><text x="486" y="535" text-anchor="middle" font-size="47.5">2</text><text x="618" y="535" text-anchor="middle" font-size="47.5">3</text><text x="748" y="535" text-anchor="middle" font-size="47.5">4</text><text x="133" y="76" font-size="56" letter-spacing="1">(a)</text><text x="459" y="323" font-size="48">Ganoration 1B</text><g filter="url(#blurA)"><g transform="translate(503,0)"><path d="M-39 402 L0 383 L39 402 L39 419 L0 441 L-39 419 Z" fill="#3d8f96"/><path d="M-39 402 L0 383 L39 402 L0 422 Z" fill="#55b0b3"/><path d="M0 422 L39 402 L39 419 L0 441 Z" fill="#2f7d86"/><path d="M-15 358 L-15 405 A15 6 0 0 0 15 405 L15 358 Z" fill="url(#cyl)"/><ellipse cx="0" cy="358" rx="15" ry="7" fill="#7a8088"/></g><g transform="translate(577,0)"><path d="M-39 402 L0 383 L39 402 L39 419 L0 441 L-39 419 Z" fill="#3d8f96"/><path d="M-39 402 L0 383 L39 402 L0 422 Z" fill="#55b0b3"/><path d="M0 422 L39 402 L39 419 L0 441 Z" fill="#2f7d86"/><path d="M-15 358 L-15 405 A15 6 0 0 0 15 405 L15 358 Z" fill="url(#cyl)"/><ellipse cx="0" cy="358" rx="15" ry="7" fill="#7a8088"/><ellipse cx="0" cy="358" rx="9" ry="4" fill="#15171a"/></g><g transform="translate(651,0)"><path d="M-39 402 L0 383 L39 402 L39 419 L0 441 L-39 419 Z" fill="#3d8f96"/><path d="M-39 402 L0 383 L39 402 L0 422 Z" fill="#55b0b3"/><path d="M0 422 L39 402 L39 419 L0 441 Z" fill="#2f7d86"/><path d="M-15 358 L-15 405 A15 6 0 0 0 15 405 L15 358 Z" fill="url(#cyl)"/><ellipse cx="0" cy="358" rx="15" ry="7" fill="#7a8088"/><ellipse cx="0" cy="358" rx="9" ry="4" fill="#15171a"/><ellipse cx="0" cy="358" rx="3" ry="1.6" fill="#8a9096"/></g><rect x="498" y="450" width="11" height="10" fill="#c8202c"/><circle cx="576" cy="455.5" r="5.5" fill="#9fd37c"/><rect x="646" y="452" width="6" height="6" fill="#222a55"/></g><g clip-path="url(#semA)"><g filter="url(#blurS)"><rect x="186" y="571" width="630" height="304" fill="url(#semApat)"/><path d="M186.1 791.1 L270.5 736.9 L391.0 670.6 L511.4 619.4 L631.9 574.2 L644.0 571.2 L526.5 571.2 L421.1 619.4 L300.6 676.6 L186.1 730.8Z" fill="url(#semApat2)" opacity="0.32"/><path d="M186.1 875.4 L342.8 809.2 L451.2 730.8 L547.6 670.6 L662.0 598.3 L740.4 571.2 L680.1 571.2 L571.7 619.4 L451.2 688.7 L330.7 761.0 L186.1 836.3Z" fill="#4a4a4c" opacity="0.55"/><path d="M210.2 875.4 L318.7 824.2 L421.1 770.0 L526.5 706.7 L631.9 640.5 L707.2 589.3 L749.4 571.2 L815.7 571.2 L815.7 619.4 L722.3 700.7 L601.8 770.0 L496.4 824.2 L409.0 875.4Z" fill="url(#semApat2)"/><path d="M409.0 875.4 L496.4 824.2 L601.8 754.9 L722.3 682.7 L815.7 610.4 L815.7 646.5 L737.3 712.8 L619.9 785.1 L526.5 839.3 L469.3 875.4Z" fill="#b9b9bb" opacity="0.9"/><path d="M469.3 875.4 L526.5 839.3 L619.9 785.1 L737.3 712.8 L815.7 646.5 L815.7 700.7 L722.3 761.0 L631.9 815.2 L541.6 875.4Z" fill="url(#semApat)"/><path d="M541.6 875.4 L631.9 815.2 L722.3 761.0 L815.7 700.7 L815.7 875.4Z" fill="#4e4e53"/></g></g><text x="435" y="564" font-size="50"><tspan class="i">Φ</tspan><tspan font-size="30" dy="11" dx="-1">0</tspan><tspan dy="-11" dx="11">(n)</tspan></text><rect x="692" y="808" width="124" height="67" fill="#1b1718"/><text x="753" y="850" text-anchor="middle" font-size="46" style="fill:#fff">5 μm</text><rect x="707" y="861" width="90" height="3" fill="#fff"/><g clip-path="url(#m2c)"><rect x="878" y="89" width="540.5999999999999" height="776" fill="#fdfdff"/><rect x="878" y="788" width="540.5999999999999" height="76" fill="#a9bde3"/><rect x="878" y="788" width="540.5999999999999" height="76" fill="#000" filter="url(#noiseM)"/><g filter="url(#blurM)"><ellipse cx="1264.5" cy="104.5" rx="64.8" ry="5" fill="#b9cbea" opacity="0.55"/><ellipse cx="1264.5" cy="155.5" rx="64.8" ry="5" fill="#b9cbea" opacity="0.55"/><ellipse cx="1317.1" cy="130.0" rx="52.6" ry="7" fill="#c3d2ee" opacity="0.5"/><ellipse cx="1219.9" cy="130.0" rx="109.4" ry="37.4" fill="url(#hz)"/><ellipse cx="1250.3" cy="131.0" rx="50.6" ry="17.0" fill="url(#halo)"/><ellipse cx="1095.3" cy="109.3" rx="17.1" ry="9.1" fill="url(#smg)" opacity="0.74"/><ellipse cx="1097.0" cy="135.9" rx="17.0" ry="9.1" fill="url(#smg)" opacity="0.73"/><ellipse cx="1101.3" cy="112.7" rx="15.0" ry="8.0" fill="url(#smg)" opacity="0.77"/><ellipse cx="1101.5" cy="124.2" rx="16.5" ry="8.8" fill="url(#smg)" opacity="0.62"/><ellipse cx="1158.0" cy="153.8" rx="11.6" ry="6.2" fill="url(#smg)" opacity="0.51"/><ellipse cx="1069.1" cy="110.9" rx="17.6" ry="9.4" fill="url(#smg)" opacity="0.31"/><ellipse cx="1068.7" cy="148.1" rx="10.3" ry="5.5" fill="url(#smg)" opacity="0.48"/><circle cx="1053.2" cy="122.4" r="6.2" fill="#c9d7f0" opacity="0.5"/><circle cx="964.6" cy="145.5" r="5.3" fill="#c9d7f0" opacity="0.5"/><circle cx="1061.1" cy="105.1" r="4.5" fill="#c9d7f0" opacity="0.5"/><circle cx="894.4" cy="129.7" r="4.0" fill="#c9d7f0" opacity="0.5"/><circle cx="1008.6" cy="149.0" r="6.4" fill="#c9d7f0" opacity="0.5"/><circle cx="963.6" cy="152.7" r="5.3" fill="#c9d7f0" opacity="0.5"/><ellipse cx="1265.7" cy="181.0" rx="77.6" ry="5" fill="#b9cbea" opacity="0.55"/><ellipse cx="1265.7" cy="232.0" rx="77.6" ry="5" fill="#b9cbea" opacity="0.55"/><ellipse cx="1328.7" cy="206.5" rx="63.1" ry="7" fill="#c3d2ee" opacity="0.5"/><ellipse cx="1212.3" cy="206.5" rx="131.0" ry="37.4" fill="url(#hz)"/><ellipse cx="1248.7" cy="207.5" rx="60.6" ry="17.0" fill="url(#halo)"/><ellipse cx="1082.5" cy="229.1" rx="14.7" ry="7.8" fill="url(#smg)" opacity="0.96"/><ellipse cx="1043.9" cy="234.0" rx="14.5" ry="7.8" fill="url(#smg)" opacity="0.35"/><ellipse cx="1043.3" cy="232.5" rx="17.0" ry="9.1" fill="url(#smg)" opacity="0.47"/><ellipse cx="1064.1" cy="190.3" rx="16.2" ry="8.7" fill="url(#smg)" opacity="0.79"/><ellipse cx="1125.0" cy="182.1" rx="16.5" ry="8.8" fill="url(#smg)" opacity="0.99"/><ellipse cx="1152.9" cy="223.3" rx="11.8" ry="6.3" fill="url(#smg)" opacity="0.58"/><ellipse cx="1123.8" cy="221.6" rx="16.7" ry="8.9" fill="url(#smg)" opacity="0.52"/><ellipse cx="1078.2" cy="181.0" rx="15.0" ry="8.0" fill="url(#smg)" opacity="0.67"/><ellipse cx="1040.4" cy="233.4" rx="12.8" ry="6.8" fill="url(#smg)" opacity="0.60"/><circle cx="939.3" cy="177.7" r="5.4" fill="#c9d7f0" opacity="0.5"/><circle cx="893.2" cy="185.9" r="4.6" fill="#c9d7f0" opacity="0.5"/><circle cx="989.0" cy="183.1" r="3.2" fill="#c9d7f0" opacity="0.5"/><circle cx="1031.6" cy="193.8" r="6.8" fill="#c9d7f0" opacity="0.5"/><circle cx="1036.4" cy="198.2" r="4.8" fill="#c9d7f0" opacity="0.5"/><circle cx="974.1" cy="216.3" r="5.4" fill="#c9d7f0" opacity="0.5"/><ellipse cx="1280.2" cy="258.0" rx="92.8" ry="5" fill="#b9cbea" opacity="0.55"/><ellipse cx="1280.2" cy="312.0" rx="92.8" ry="5" fill="#b9cbea" opacity="0.55"/><ellipse cx="1355.6" cy="285.0" rx="75.4" ry="7" fill="#c3d2ee" opacity="0.5"/><ellipse cx="1216.4" cy="285.0" rx="156.6" ry="39.6" fill="url(#hz)"/><ellipse cx="1259.9" cy="286.0" rx="72.5" ry="18.0" fill="url(#halo)"/><ellipse cx="1073.9" cy="309.7" rx="12.8" ry="6.8" fill="url(#smg)" opacity="0.72"/><ellipse cx="1059.7" cy="270.3" rx="10.7" ry="5.7" fill="url(#smg)" opacity="0.59"/><ellipse cx="1088.0" cy="287.7" rx="7.6" ry="4.1" fill="url(#smg)" opacity="0.71"/><ellipse cx="1079.6" cy="258.1" rx="14.0" ry="7.4" fill="url(#smg)" opacity="0.82"/><ellipse cx="1153.5" cy="292.1" rx="12.4" ry="6.6" fill="url(#smg)" opacity="0.84"/><ellipse cx="1111.9" cy="296.6" rx="15.2" ry="8.1" fill="url(#smg)" opacity="0.51"/><circle cx="897.8" cy="297.0" r="6.9" fill="#c9d7f0" opacity="0.5"/><circle cx="928.7" cy="282.0" r="5.4" fill="#c9d7f0" opacity="0.5"/><circle cx="939.8" cy="275.7" r="4.3" fill="#c9d7f0" opacity="0.5"/><circle cx="947.8" cy="291.5" r="4.2" fill="#c9d7f0" opacity="0.5"/><circle cx="949.1" cy="303.5" r="3.1" fill="#c9d7f0" opacity="0.5"/><circle cx="980.2" cy="301.0" r="4.2" fill="#c9d7f0" opacity="0.5"/><ellipse cx="1318.7" cy="333.0" rx="132.8" ry="5" fill="#b9cbea" opacity="0.55"/><ellipse cx="1318.7" cy="393.0" rx="132.8" ry="5" fill="#b9cbea" opacity="0.55"/><ellipse cx="1426.6" cy="363.0" rx="107.9" ry="7" fill="#c3d2ee" opacity="0.5"/><ellipse cx="1227.4" cy="363.0" rx="224.1" ry="44.0" fill="url(#hz)"/><ellipse cx="1289.7" cy="364.0" rx="103.8" ry="20.0" fill="url(#halo)"/><ellipse cx="1060.2" cy="350.1" rx="10.9" ry="5.8" fill="url(#smg)" opacity="0.84"/><ellipse cx="1060.8" cy="340.4" rx="13.8" ry="7.4" fill="url(#smg)" opacity="0.97"/><ellipse cx="1057.2" cy="347.6" rx="16.0" ry="8.5" fill="url(#smg)" opacity="0.98"/><ellipse cx="1141.6" cy="376.6" rx="9.8" ry="5.2" fill="url(#smg)" opacity="0.78"/><ellipse cx="1114.6" cy="379.1" rx="7.9" ry="4.2" fill="url(#smg)" opacity="0.98"/><ellipse cx="1108.2" cy="381.8" rx="13.5" ry="7.2" fill="url(#smg)" opacity="0.93"/><ellipse cx="1104.7" cy="381.4" rx="8.4" ry="4.5" fill="url(#smg)" opacity="0.81"/><circle cx="978.2" cy="357.6" r="5.1" fill="#c9d7f0" opacity="0.5"/><circle cx="1018.0" cy="360.6" r="5.5" fill="#c9d7f0" opacity="0.5"/><circle cx="932.4" cy="367.6" r="3.1" fill="#c9d7f0" opacity="0.5"/><circle cx="951.2" cy="342.6" r="4.9" fill="#c9d7f0" opacity="0.5"/><circle cx="1015.4" cy="371.3" r="5.0" fill="#c9d7f0" opacity="0.5"/><circle cx="973.5" cy="396.0" r="5.9" fill="#c9d7f0" opacity="0.5"/><ellipse cx="1309.5" cy="412.1" rx="127.2" ry="5" fill="#b9cbea" opacity="0.55"/><ellipse cx="1309.5" cy="469.1" rx="127.2" ry="5" fill="#b9cbea" opacity="0.55"/><ellipse cx="1412.9" cy="440.6" rx="103.4" ry="7" fill="#c3d2ee" opacity="0.5"/><ellipse cx="1222.1" cy="440.6" rx="214.7" ry="41.8" fill="url(#hz)"/><ellipse cx="1281.7" cy="441.6" rx="99.4" ry="19.0" fill="url(#halo)"/><ellipse cx="1044.6" cy="459.5" rx="14.5" ry="7.7" fill="url(#smg)" opacity="0.46"/><ellipse cx="1109.5" cy="431.7" rx="9.9" ry="5.3" fill="url(#smg)" opacity="0.53"/><ellipse cx="1066.9" cy="428.7" rx="16.0" ry="8.5" fill="url(#smg)" opacity="0.52"/><ellipse cx="1022.2" cy="451.4" rx="17.2" ry="9.2" fill="url(#smg)" opacity="0.57"/><ellipse cx="1022.7" cy="444.9" rx="7.6" ry="4.1" fill="url(#smg)" opacity="0.52"/><ellipse cx="1126.1" cy="429.4" rx="14.5" ry="7.7" fill="url(#smg)" opacity="0.76"/><circle cx="950.3" cy="470.5" r="5.4" fill="#c9d7f0" opacity="0.5"/><circle cx="939.4" cy="423.8" r="6.4" fill="#c9d7f0" opacity="0.5"/><circle cx="959.8" cy="459.8" r="4.4" fill="#c9d7f0" opacity="0.5"/><circle cx="917.7" cy="443.0" r="6.3" fill="#c9d7f0" opacity="0.5"/><circle cx="913.8" cy="460.4" r="6.7" fill="#c9d7f0" opacity="0.5"/><circle cx="1009.3" cy="462.6" r="3.0" fill="#c9d7f0" opacity="0.5"/><ellipse cx="1295.5" cy="489.0" rx="96.8" ry="5" fill="#b9cbea" opacity="0.55"/><ellipse cx="1295.5" cy="549.0" rx="96.8" ry="5" fill="#b9cbea" opacity="0.55"/><ellipse cx="1374.1" cy="519.0" rx="78.7" ry="7" fill="#c3d2ee" opacity="0.5"/><ellipse cx="1228.9" cy="519.0" rx="163.4" ry="44.0" fill="url(#hz)"/><ellipse cx="1274.3" cy="520.0" rx="75.6" ry="20.0" fill="url(#halo)"/><ellipse cx="1165.4" cy="506.2" rx="10.3" ry="5.5" fill="url(#smg)" opacity="0.76"/><ellipse cx="1112.4" cy="517.5" rx="15.7" ry="8.3" fill="url(#smg)" opacity="0.50"/><ellipse cx="1164.7" cy="498.1" rx="8.8" ry="4.7" fill="url(#smg)" opacity="0.53"/><ellipse cx="1034.1" cy="538.8" rx="8.4" ry="4.5" fill="url(#smg)" opacity="0.45"/><ellipse cx="1127.6" cy="508.6" rx="11.2" ry="6.0" fill="url(#smg)" opacity="0.82"/><ellipse cx="1089.2" cy="511.2" rx="9.5" ry="5.1" fill="url(#smg)" opacity="0.66"/><ellipse cx="1154.9" cy="522.1" rx="15.0" ry="8.0" fill="url(#smg)" opacity="0.69"/><ellipse cx="1161.2" cy="501.0" rx="11.4" ry="6.1" fill="url(#smg)" opacity="0.80"/><ellipse cx="1061.4" cy="512.3" rx="15.9" ry="8.5" fill="url(#smg)" opacity="0.49"/><circle cx="962.4" cy="510.3" r="5.0" fill="#c9d7f0" opacity="0.5"/><circle cx="1009.2" cy="513.6" r="5.8" fill="#c9d7f0" opacity="0.5"/><circle cx="967.5" cy="501.7" r="5.1" fill="#c9d7f0" opacity="0.5"/><circle cx="1007.9" cy="489.9" r="4.7" fill="#c9d7f0" opacity="0.5"/><circle cx="961.5" cy="544.8" r="6.7" fill="#c9d7f0" opacity="0.5"/><circle cx="952.6" cy="546.1" r="6.2" fill="#c9d7f0" opacity="0.5"/><ellipse cx="1297.8" cy="565.5" rx="99.2" ry="5" fill="#b9cbea" opacity="0.55"/><ellipse cx="1297.8" cy="628.5" rx="99.2" ry="5" fill="#b9cbea" opacity="0.55"/><ellipse cx="1378.4" cy="597.0" rx="80.6" ry="7" fill="#c3d2ee" opacity="0.5"/><ellipse cx="1229.6" cy="597.0" rx="167.4" ry="46.2" fill="url(#hz)"/><ellipse cx="1276.1" cy="598.0" rx="77.5" ry="21.0" fill="url(#halo)"/><ellipse cx="1154.8" cy="607.7" rx="17.4" ry="9.3" fill="url(#smg)" opacity="0.87"/><ellipse cx="1051.3" cy="598.7" rx="11.5" ry="6.1" fill="url(#smg)" opacity="0.33"/><ellipse cx="1126.8" cy="598.8" rx="16.0" ry="8.5" fill="url(#smg)" opacity="0.86"/><ellipse cx="1104.8" cy="582.2" rx="11.6" ry="6.2" fill="url(#smg)" opacity="0.76"/><ellipse cx="1091.9" cy="605.9" rx="11.4" ry="6.1" fill="url(#smg)" opacity="0.91"/><ellipse cx="1123.5" cy="616.7" rx="7.8" ry="4.1" fill="url(#smg)" opacity="0.56"/><ellipse cx="1103.6" cy="608.0" rx="10.5" ry="5.6" fill="url(#smg)" opacity="0.65"/><ellipse cx="1159.4" cy="624.8" rx="13.4" ry="7.2" fill="url(#smg)" opacity="0.76"/><circle cx="929.0" cy="600.7" r="3.4" fill="#c9d7f0" opacity="0.5"/><circle cx="983.2" cy="600.4" r="6.5" fill="#c9d7f0" opacity="0.5"/><circle cx="919.0" cy="568.3" r="7.0" fill="#c9d7f0" opacity="0.5"/><circle cx="999.1" cy="593.9" r="5.8" fill="#c9d7f0" opacity="0.5"/><circle cx="1050.1" cy="580.2" r="5.4" fill="#c9d7f0" opacity="0.5"/><circle cx="1049.5" cy="600.9" r="6.9" fill="#c9d7f0" opacity="0.5"/><ellipse cx="1286.3" cy="644.0" rx="98.4" ry="5" fill="#b9cbea" opacity="0.55"/><ellipse cx="1286.3" cy="704.0" rx="98.4" ry="5" fill="#b9cbea" opacity="0.55"/><ellipse cx="1366.3" cy="674.0" rx="80.0" ry="7" fill="#c3d2ee" opacity="0.5"/><ellipse cx="1218.7" cy="674.0" rx="166.1" ry="44.0" fill="url(#hz)"/><ellipse cx="1264.8" cy="675.0" rx="76.9" ry="20.0" fill="url(#halo)"/><ellipse cx="1090.5" cy="700.5" rx="11.8" ry="6.3" fill="url(#smg)" opacity="0.87"/><ellipse cx="1138.7" cy="684.7" rx="15.4" ry="8.2" fill="url(#smg)" opacity="0.84"/><ellipse cx="1088.1" cy="673.1" rx="14.3" ry="7.6" fill="url(#smg)" opacity="0.95"/><ellipse cx="1140.3" cy="651.4" rx="15.4" ry="8.2" fill="url(#smg)" opacity="0.96"/><ellipse cx="1088.0" cy="670.8" rx="15.0" ry="8.0" fill="url(#smg)" opacity="0.59"/><ellipse cx="1123.5" cy="657.2" rx="13.6" ry="7.3" fill="url(#smg)" opacity="0.66"/><ellipse cx="1128.5" cy="684.7" rx="17.5" ry="9.3" fill="url(#smg)" opacity="0.65"/><ellipse cx="1061.3" cy="669.1" rx="16.5" ry="8.8" fill="url(#smg)" opacity="0.79"/><ellipse cx="1123.6" cy="658.2" rx="7.7" ry="4.1" fill="url(#smg)" opacity="0.74"/><circle cx="949.8" cy="651.7" r="4.4" fill="#c9d7f0" opacity="0.5"/><circle cx="940.0" cy="692.6" r="3.6" fill="#c9d7f0" opacity="0.5"/><circle cx="1048.1" cy="672.6" r="5.4" fill="#c9d7f0" opacity="0.5"/><circle cx="963.6" cy="696.8" r="6.3" fill="#c9d7f0" opacity="0.5"/><circle cx="978.0" cy="672.7" r="5.9" fill="#c9d7f0" opacity="0.5"/><circle cx="1026.3" cy="667.2" r="5.9" fill="#c9d7f0" opacity="0.5"/><ellipse cx="1271.0" cy="718.8" rx="87.2" ry="5" fill="#b9cbea" opacity="0.55"/><ellipse cx="1271.0" cy="783.2" rx="87.2" ry="5" fill="#b9cbea" opacity="0.55"/><ellipse cx="1341.9" cy="751.0" rx="70.9" ry="7" fill="#c3d2ee" opacity="0.5"/><ellipse cx="1211.1" cy="751.0" rx="147.2" ry="47.3" fill="url(#hz)"/><ellipse cx="1252.0" cy="752.0" rx="68.1" ry="21.5" fill="url(#halo)"/><ellipse cx="1093.1" cy="735.9" rx="10.0" ry="5.3" fill="url(#smg)" opacity="0.86"/><ellipse cx="1063.6" cy="776.7" rx="16.5" ry="8.8" fill="url(#smg)" opacity="0.62"/><ellipse cx="1132.6" cy="737.5" rx="9.5" ry="5.0" fill="url(#smg)" opacity="0.85"/><ellipse cx="1037.6" cy="773.4" rx="10.2" ry="5.4" fill="url(#smg)" opacity="0.56"/><ellipse cx="1115.0" cy="746.7" rx="15.2" ry="8.1" fill="url(#smg)" opacity="0.54"/><ellipse cx="1146.3" cy="769.7" rx="10.6" ry="5.6" fill="url(#smg)" opacity="0.68"/><circle cx="980.6" cy="762.9" r="3.0" fill="#c9d7f0" opacity="0.5"/><circle cx="941.4" cy="746.7" r="4.9" fill="#c9d7f0" opacity="0.5"/><circle cx="921.5" cy="756.8" r="6.8" fill="#c9d7f0" opacity="0.5"/><circle cx="950.4" cy="754.0" r="3.5" fill="#c9d7f0" opacity="0.5"/><circle cx="931.8" cy="762.2" r="3.5" fill="#c9d7f0" opacity="0.5"/><circle cx="1029.5" cy="778.8" r="3.4" fill="#c9d7f0" opacity="0.5"/><ellipse cx="1257.8" cy="801.5" rx="74.4" ry="5" fill="#b9cbea" opacity="0.55"/><ellipse cx="1257.8" cy="858.5" rx="74.4" ry="5" fill="#b9cbea" opacity="0.55"/><ellipse cx="1318.3" cy="830.0" rx="60.5" ry="7" fill="#c3d2ee" opacity="0.5"/><ellipse cx="1206.7" cy="830.0" rx="125.6" ry="41.8" fill="url(#hz2)"/><ellipse cx="1241.6" cy="831.0" rx="58.1" ry="19.0" fill="url(#halo)"/><ellipse cx="1065.2" cy="822.6" rx="12.2" ry="6.5" fill="url(#smg)" opacity="0.83"/><ellipse cx="1066.4" cy="854.9" rx="16.1" ry="8.6" fill="url(#smg)" opacity="0.55"/><ellipse cx="1027.4" cy="821.0" rx="13.4" ry="7.2" fill="url(#smg)" opacity="0.46"/><ellipse cx="1066.8" cy="830.5" rx="8.1" ry="4.3" fill="url(#smg)" opacity="0.65"/><ellipse cx="1058.1" cy="843.6" rx="14.3" ry="7.6" fill="url(#smg)" opacity="0.52"/><ellipse cx="1140.3" cy="822.8" rx="17.2" ry="9.2" fill="url(#smg)" opacity="0.73"/><ellipse cx="1146.1" cy="833.3" rx="17.2" ry="9.2" fill="url(#smg)" opacity="0.82"/><ellipse cx="1069.3" cy="825.5" rx="10.7" ry="5.7" fill="url(#smg)" opacity="0.59"/><circle cx="965.9" cy="849.2" r="5.8" fill="#c9d7f0" opacity="0.5"/><circle cx="905.3" cy="808.3" r="5.2" fill="#c9d7f0" opacity="0.5"/><circle cx="981.0" cy="822.6" r="3.4" fill="#c9d7f0" opacity="0.5"/><circle cx="931.7" cy="799.6" r="3.5" fill="#c9d7f0" opacity="0.5"/><circle cx="965.3" cy="814.4" r="5.8" fill="#c9d7f0" opacity="0.5"/><circle cx="971.1" cy="855.5" r="6.8" fill="#c9d7f0" opacity="0.5"/></g><g filter="url(#blurM1)"><ellipse cx="1228" cy="130" rx="43.7" ry="18.7" fill="url(#jet)"/><ellipse cx="1222" cy="206.5" rx="52.4" ry="18.7" fill="url(#jet)"/><ellipse cx="1228" cy="285" rx="62.6" ry="19.8" fill="url(#jet)"/><ellipse cx="1244" cy="363" rx="89.6" ry="22.0" fill="url(#jet)"/><ellipse cx="1238" cy="440.6" rx="85.9" ry="20.9" fill="url(#jet)"/><ellipse cx="1241" cy="519" rx="65.3" ry="22.0" fill="url(#jet)"/><ellipse cx="1242" cy="597" rx="67.0" ry="23.1" fill="url(#jet)"/><ellipse cx="1231" cy="674" rx="66.4" ry="22.0" fill="url(#jet)"/><ellipse cx="1222" cy="751" rx="58.9" ry="23.7" fill="url(#jet)"/><ellipse cx="1216" cy="830" rx="50.2" ry="20.9" fill="url(#jet3)"/><ellipse cx="1093" cy="125" rx="9" ry="7" fill="#3f8fc8"/><ellipse cx="1093" cy="125" rx="4" ry="3" fill="#5fc8b0"/><ellipse cx="1131" cy="205" rx="11" ry="7" fill="#3f78c0"/><ellipse cx="1093" cy="359" rx="8" ry="6" fill="#3f78c0"/><ellipse cx="1082" cy="282" rx="7" ry="5" fill="#4a78c0"/></g></g><g clip-path="url(#m2s)"><rect x="1432" y="89" width="97.59999999999991" height="776" fill="#fdfdff"/><rect x="1432" y="788" width="97.59999999999991" height="76" fill="#a9bde3"/><rect x="1432" y="788" width="97.59999999999991" height="76" fill="#000" filter="url(#noiseM)"/><g filter="url(#blurM1)"><circle cx="1479" cy="130" r="32" fill="none" stroke="#c3d2ee" stroke-width="5" opacity="0.7"/><circle cx="1479" cy="130" r="22.0" fill="url(#jetc)"/><circle cx="1479" cy="206.5" r="33" fill="none" stroke="#7f9bd0" stroke-width="6" opacity="0.8"/><circle cx="1479" cy="206.5" r="22.0" fill="url(#jetc)"/><circle cx="1479" cy="285" r="34" fill="none" stroke="#7f9bd0" stroke-width="6" opacity="0.8"/><circle cx="1479" cy="285" r="23.1" fill="url(#jetc)"/><circle cx="1479" cy="363" r="34" fill="none" stroke="#7f9bd0" stroke-width="6" opacity="0.8"/><circle cx="1479" cy="363" r="23.1" fill="url(#jetc)"/><circle cx="1479" cy="440.6" r="35" fill="none" stroke="#7f9bd0" stroke-width="6" opacity="0.8"/><circle cx="1479" cy="440.6" r="24.2" fill="url(#jetc)"/><circle cx="1479" cy="519" r="36" fill="none" stroke="#c3d2ee" stroke-width="5" opacity="0.7"/><circle cx="1479" cy="519" r="26.4" fill="url(#jetc)"/><circle cx="1479" cy="597" r="36" fill="none" stroke="#c3d2ee" stroke-width="5" opacity="0.7"/><circle cx="1479" cy="597" r="26.4" fill="url(#jetc)"/><circle cx="1479" cy="674" r="36" fill="none" stroke="#c3d2ee" stroke-width="5" opacity="0.7"/><circle cx="1479" cy="674" r="26.4" fill="url(#jetc)"/><circle cx="1479" cy="751" r="37" fill="none" stroke="#c3d2ee" stroke-width="5" opacity="0.7"/><circle cx="1479" cy="751" r="27.5" fill="url(#jetc)"/><circle cx="1479" cy="823" r="23.1" fill="url(#jet2)"/></g></g><line x1="878" y1="167" x2="1529.6" y2="167" stroke="#6d7b7b" stroke-width="2.6" stroke-dasharray="9 3.5"/><line x1="878" y1="244.4" x2="1529.6" y2="244.4" stroke="#6d7b7b" stroke-width="2.6" stroke-dasharray="9 3.5"/><line x1="878" y1="321" x2="1529.6" y2="321" stroke="#6d7b7b" stroke-width="2.6" stroke-dasharray="9 3.5"/><line x1="878" y1="399" x2="1529.6" y2="399" stroke="#6d7b7b" stroke-width="2.6" stroke-dasharray="9 3.5"/><line x1="878" y1="476" x2="1529.6" y2="476" stroke="#6d7b7b" stroke-width="2.6" stroke-dasharray="9 3.5"/><line x1="878" y1="556" x2="1529.6" y2="556" stroke="#6d7b7b" stroke-width="2.6" stroke-dasharray="9 3.5"/><line x1="878" y1="632" x2="1529.6" y2="632" stroke="#6d7b7b" stroke-width="2.6" stroke-dasharray="9 3.5"/><line x1="878" y1="708" x2="1529.6" y2="708" stroke="#6d7b7b" stroke-width="2.6" stroke-dasharray="9 3.5"/><line x1="878" y1="786" x2="1529.6" y2="786" stroke="#6d7b7b" stroke-width="2.6" stroke-dasharray="9 3.5"/><rect x="878" y="89" width="540.5999999999999" height="4" fill="#7f9396"/><rect x="878" y="861.5" width="540.5999999999999" height="3.5" fill="#7f9396"/><rect x="878" y="89" width="6.5" height="776" fill="#9fb0b3"/><rect x="880.0" y="89" width="2.6" height="776" fill="#566b70"/><rect x="1412.1" y="89" width="6.5" height="776" fill="#9fb0b3"/><rect x="1414.0" y="89" width="2.6" height="776" fill="#566b70"/><rect x="1432" y="89" width="97.59999999999991" height="4" fill="#7f9396"/><rect x="1432" y="861.5" width="97.59999999999991" height="3.5" fill="#7f9396"/><rect x="1432" y="89" width="5" height="776" fill="#9fb0b3"/><rect x="1433.5" y="89" width="2.0" height="776" fill="#566b70"/><rect x="1524.6" y="89" width="5" height="776" fill="#9fb0b3"/><rect x="1526.1" y="89" width="2.0" height="776" fill="#566b70"/><rect x="968.7" y="851" width="2.6" height="12" fill="#222"/><rect x="1059.3" y="851" width="2.6" height="12" fill="#222"/><rect x="1147.7" y="851" width="2.6" height="12" fill="#222"/><rect x="1238.3" y="851" width="2.6" height="12" fill="#222"/><rect x="1327.7" y="851" width="2.6" height="12" fill="#222"/><text x="874" y="910" text-anchor="middle" font-size="48">0</text><text x="975.6" y="910" text-anchor="middle" font-size="48">200</text><text x="1065" y="910" text-anchor="middle" font-size="48">400</text><text x="1154.6" y="910" text-anchor="middle" font-size="48">600</text><text x="1244" y="910" text-anchor="middle" font-size="48">800</text><text x="1338.7" y="910" text-anchor="middle" font-size="48">1 000</text><text x="890" y="158.3" font-size="49"><tspan class="i">λ</tspan>=1 200 nm</text><text x="890" y="230" font-size="49"><tspan class="i">λ</tspan>=1 250 nm</text><text x="890" y="315" font-size="49"><tspan class="i">λ</tspan>=1 300 nm</text><text x="890" y="389" font-size="49"><tspan class="i">λ</tspan>=1 350 nm</text><text x="890" y="470" font-size="49"><tspan class="i">λ</tspan>=1 400 nm</text><text x="890" y="544.7" font-size="49"><tspan class="i">λ</tspan>=1 450 nm</text><text x="890" y="619.7" font-size="49"><tspan class="i">λ</tspan>=1 500 nm</text><text x="890" y="695" font-size="49"><tspan class="i">λ</tspan>=1 550 nm</text><text x="890" y="773.6" font-size="49"><tspan class="i">λ</tspan>=1 000 nm</text><text x="890" y="847.6" font-size="49"><tspan class="i">λ</tspan>=1 050 nm</text><text x="1151" y="71" text-anchor="middle" font-size="48">M2</text><text transform="translate(817.5,60.5) rotate(90)" font-size="48">20 μm</text><rect x="861.8" y="90" width="6" height="76" fill="#48565c"/><rect x="861.3" y="90" width="7" height="5.5" fill="#15181a"/><rect x="861.3" y="160.5" width="7" height="5.5" fill="#15181a"/><text transform="translate(824,482) rotate(90)" font-size="48" class="i">x</text><text x="1499" y="50.5" font-size="48" class="i">y</text><text transform="translate(1546,90) rotate(90)" font-size="48" class="i">x</text><path d="M1490 81.2 H1536.7 V118" fill="none" stroke="#4a585e" stroke-width="4.2" stroke-linejoin="miter"/><path d="M1484.5 81.2 l9 -4.2 v8.4 z" fill="#15181a"/><rect x="1532.6" y="115.4" width="8" height="6.5" fill="#15181a"/><path d="M1440 872.9 H1525" stroke="#56656a" stroke-width="4"/><rect x="1438" y="870.4" width="7" height="5" fill="#15181a"/><rect x="1519.6" y="870.4" width="7" height="5" fill="#15181a"/><text x="1488" y="920" text-anchor="middle" font-size="48">20 μm</text><g filter="url(#blurB)"><path d="M1696.2 536.1h11.7v7.8h-11.7zM1716.2 536.1h11.7v7.8h-11.7zM1736.2 536.1h11.7v7.8h-11.7zM1756.2 536.1h11.7v7.8h-11.7zM1776.2 536.1h11.7v7.8h-11.7zM1796.2 536.1h11.7v7.8h-11.7zM1816.2 536.1h11.7v7.8h-11.7zM1837.2 532.8h9.6v14.4h-9.6zM1857.3 533.1h9.4v13.7h-9.4zM1877.5 533.5h9.1v13.0h-9.1zM1897.6 533.8h8.8v12.4h-8.8zM1917.7 534.1h8.6v11.7h-8.6zM1937.9 534.5h8.3v11.0h-8.3zM1958.0 534.8h8.0v10.4h-8.0zM1978.1 535.2h7.8v9.7h-7.8zM1996.2 536.7h11.7v6.6h-11.7zM2016.2 536.7h11.7v6.6h-11.7zM2027.9 536.9h8.2v6.2h-8.2zM2036.2 536.7h11.7v6.6h-11.7zM2048.7 536.1h6.6v7.8h-6.6zM2057.7 534.3h8.6v11.4h-8.6zM2078.0 534.9h8.0v10.1h-8.0zM2088.4 537.4h7.2v5.2h-7.2zM2098.3 535.5h7.5v8.9h-7.5zM2107.4 536.6h9.2v6.8h-9.2zM2117.9 536.1h8.2v7.8h-8.2zM2128.7 536.1h6.6v7.8h-6.6zM2136.2 536.7h11.7v6.6h-11.7zM2147.9 536.9h8.2v6.2h-8.2zM2156.2 536.7h11.7v6.6h-11.7zM2167.9 536.9h8.2v6.2h-8.2zM2178.3 535.7h7.4v8.7h-7.4zM2186.9 537.4h10.2v5.2h-10.2zM2196.7 537.0h10.7v6.0h-10.7zM2207.9 537.1h8.2v5.8h-8.2zM2218.3 536.3h7.4v7.4h-7.4zM2227.9 537.1h8.2v5.8h-8.2zM1706.2 527.5h11.7v7.8h-11.7zM1726.2 527.5h11.7v7.8h-11.7zM1746.2 527.5h11.7v7.8h-11.7zM1766.2 527.5h11.7v7.8h-11.7zM1786.2 527.5h11.7v7.8h-11.7zM1806.2 527.5h11.7v7.8h-11.7zM1827.1 524.1h9.8v14.7h-9.8zM1847.3 524.4h9.5v14.0h-9.5zM1867.4 524.7h9.2v13.4h-9.2zM1887.5 525.1h9.0v12.7h-9.0zM1907.7 525.4h8.7v12.0h-8.7zM1927.8 525.7h8.4v11.4h-8.4zM1947.9 526.1h8.2v10.7h-8.2zM1968.1 526.4h7.9v10.0h-7.9zM1988.2 526.7h7.6v9.3h-7.6zM2006.2 528.1h11.7v6.6h-11.7zM2017.9 528.3h8.2v6.2h-8.2zM2026.2 528.1h11.7v6.6h-11.7zM2037.9 528.3h8.2v6.2h-8.2zM2047.6 525.4h8.8v11.9h-8.8zM2067.9 526.0h8.3v10.7h-8.3zM2088.1 526.6h7.8v9.5h-7.8zM2097.4 528.8h9.2v5.2h-9.2zM2108.4 527.3h7.2v8.3h-7.2zM2118.9 528.5h6.2v5.8h-6.2zM2127.9 527.5h8.2v7.8h-8.2zM2137.9 528.3h8.2v6.2h-8.2zM2146.2 528.1h11.7v6.6h-11.7zM2157.9 528.3h8.2v6.2h-8.2zM2168.3 526.8h7.4v9.2h-7.4zM2178.7 528.8h6.7v5.2h-6.7zM2188.3 527.4h7.4v8.1h-7.4zM2197.9 528.8h8.2v5.2h-8.2zM2206.7 528.4h10.7v6.0h-10.7zM1696.2 518.9h11.7v7.8h-11.7zM1716.2 518.9h11.7v7.8h-11.7zM1736.2 518.9h11.7v7.8h-11.7zM1756.2 518.9h11.7v7.8h-11.7zM1776.2 518.9h11.7v7.8h-11.7zM1796.2 518.9h11.7v7.8h-11.7zM1816.2 518.9h11.7v7.8h-11.7zM1837.2 515.6h9.6v14.3h-9.6zM1857.3 516.0h9.3v13.6h-9.3zM1877.5 516.3h9.1v13.0h-9.1zM1897.6 516.6h8.8v12.3h-8.8zM1917.7 517.0h8.5v11.7h-8.5zM1937.9 517.3h8.3v11.0h-8.3zM1958.0 517.6h8.0v10.3h-8.0zM1978.1 518.0h7.7v9.6h-7.7zM1997.9 518.9h8.2v7.8h-8.2zM2007.9 519.7h8.2v6.2h-8.2zM2017.9 518.9h8.2v7.8h-8.2zM2037.9 518.9h8.2v7.8h-8.2zM2057.7 517.2h8.6v11.3h-8.6zM2078.0 517.8h8.0v10.1h-8.0zM2088.9 520.2h6.2v5.2h-6.2zM2098.3 518.4h7.5v8.9h-7.5zM2107.4 519.4h9.2v6.8h-9.2zM2116.2 519.5h11.7v6.6h-11.7zM2127.9 519.7h8.2v6.2h-8.2zM2136.2 519.5h11.7v6.6h-11.7zM2147.9 519.7h8.2v6.2h-8.2zM2158.3 517.9h7.4v9.8h-7.4zM2168.7 519.6h6.7v6.4h-6.7zM2176.9 519.9h10.2v5.8h-10.2zM2186.9 519.9h10.2v5.8h-10.2zM2196.7 519.8h10.7v6.0h-10.7zM2216.7 519.8h10.7v6.0h-10.7zM1706.2 510.3h11.7v7.8h-11.7zM1726.2 510.3h11.7v7.8h-11.7zM1746.2 510.3h11.7v7.8h-11.7zM1766.2 510.3h11.7v7.8h-11.7zM1786.2 510.3h11.7v7.8h-11.7zM1806.2 510.3h11.7v7.8h-11.7zM1827.1 506.9h9.7v14.6h-9.7zM1847.3 507.2h9.4v13.9h-9.4zM1867.4 507.6h9.2v13.3h-9.2zM1887.5 507.9h8.9v12.6h-8.9zM1907.7 508.2h8.7v11.9h-8.7zM1927.8 508.6h8.4v11.3h-8.4zM1947.9 508.9h8.1v10.6h-8.1zM1968.1 509.2h7.9v9.9h-7.9zM1987.9 510.3h8.2v7.8h-8.2zM1998.7 510.3h6.6v7.8h-6.6zM2006.2 510.9h11.7v6.6h-11.7zM2017.9 511.1h8.2v6.2h-8.2zM2026.2 510.9h11.7v6.6h-11.7zM2037.9 511.1h8.2v6.2h-8.2zM2047.6 508.3h8.8v11.8h-8.8zM2067.9 508.9h8.3v10.6h-8.3zM2088.1 509.5h7.7v9.4h-7.7zM2097.4 510.8h9.2v6.8h-9.2zM2108.4 510.1h7.2v8.2h-7.2zM2118.4 510.8h7.2v6.8h-7.2zM2126.2 510.9h11.7v6.6h-11.7zM2146.2 510.9h11.7v6.6h-11.7zM2158.7 510.3h6.6v7.8h-6.6zM2168.3 509.6h7.4v9.2h-7.4zM2178.7 511.0h6.7v6.4h-6.7zM2188.3 510.2h7.4v8.0h-7.4zM2198.7 511.6h6.7v5.2h-6.7zM2206.7 511.2h10.7v6.0h-10.7zM2217.9 511.3h8.2v5.8h-8.2zM1696.2 501.7h11.7v7.8h-11.7zM1716.2 501.7h11.7v7.8h-11.7zM1736.2 501.7h11.7v7.8h-11.7zM1756.2 501.7h11.7v7.8h-11.7zM1776.2 501.7h11.7v7.8h-11.7zM1796.2 501.7h11.7v7.8h-11.7zM1817.1 498.2h9.8v14.8h-9.8zM1837.2 498.5h9.5v14.1h-9.5zM1857.4 498.9h9.3v13.5h-9.3zM1877.5 499.2h9.0v12.8h-9.0zM1897.6 499.5h8.8v12.2h-8.8zM1917.8 499.8h8.5v11.5h-8.5zM1937.9 500.2h8.2v10.9h-8.2zM1958.0 500.5h8.0v10.2h-8.0zM1978.1 500.8h7.7v9.6h-7.7zM1996.2 502.3h11.7v6.6h-11.7zM2008.7 501.7h6.6v7.8h-6.6zM2017.9 501.7h8.2v7.8h-8.2zM2036.2 502.3h11.7v6.6h-11.7zM2047.9 502.5h8.2v6.2h-8.2zM2057.8 500.0h8.5v11.2h-8.5zM2078.0 500.6h8.0v10.0h-8.0zM2087.4 502.2h9.2v6.8h-9.2zM2098.3 501.2h7.4v8.7h-7.4zM2108.9 502.2h6.2v6.8h-6.2zM2116.2 502.3h11.7v6.6h-11.7zM2127.9 502.5h8.2v6.2h-8.2zM2136.2 502.3h11.7v6.6h-11.7zM2148.7 501.7h6.6v7.8h-6.6zM2158.4 502.2h7.2v6.8h-7.2zM2168.7 502.4h6.7v6.4h-6.7zM2178.3 501.3h7.4v8.5h-7.4zM2188.7 502.7h6.7v5.8h-6.7zM2198.3 501.9h7.4v7.4h-7.4zM2207.2 502.7h9.7v5.8h-9.7zM2216.7 502.6h10.7v6.0h-10.7zM2227.9 502.7h8.2v5.8h-8.2zM1706.2 493.1h11.7v7.8h-11.7zM1726.2 493.1h11.7v7.8h-11.7zM1746.2 493.1h11.7v7.8h-11.7zM1766.2 493.1h11.7v7.8h-11.7zM1786.2 493.1h11.7v7.8h-11.7zM1806.2 493.1h11.7v7.8h-11.7zM1827.2 489.8h9.6v14.3h-9.6zM1847.3 490.2h9.4v13.7h-9.4zM1867.4 490.5h9.1v13.1h-9.1zM1887.6 490.8h8.9v12.4h-8.9zM1907.7 491.1h8.6v11.8h-8.6zM1927.8 491.4h8.3v11.1h-8.3zM1948.0 491.8h8.1v10.5h-8.1zM1968.1 492.1h7.8v9.8h-7.8zM1986.2 493.7h11.7v6.6h-11.7zM1997.9 493.9h8.2v6.2h-8.2zM2007.9 493.1h8.2v7.8h-8.2zM2018.7 493.1h6.6v7.8h-6.6zM2026.2 493.7h11.7v6.6h-11.7zM2037.9 493.9h8.2v6.2h-8.2zM2047.6 491.2h8.7v11.7h-8.7zM2067.9 491.8h8.2v10.5h-8.2zM2078.4 493.6h7.2v6.8h-7.2zM2088.2 492.4h7.7v9.3h-7.7zM2098.4 494.1h7.2v5.8h-7.2zM2108.4 493.0h7.1v8.1h-7.1zM2118.4 494.1h7.2v5.8h-7.2zM2126.2 493.7h11.7v6.6h-11.7zM2138.7 493.1h6.6v7.8h-6.6zM2147.9 493.1h8.2v7.8h-8.2zM2157.9 493.9h8.2v6.2h-8.2zM2168.3 492.5h7.4v9.0h-7.4zM2178.7 494.4h6.7v5.2h-6.7zM2186.9 494.1h10.2v5.8h-10.2zM2198.7 494.4h6.7v5.2h-6.7zM2208.6 492.1h6.8v9.8h-6.8zM1696.2 484.5h11.7v7.8h-11.7zM1716.2 484.5h11.7v7.8h-11.7zM1736.2 484.5h11.7v7.8h-11.7zM1756.2 484.5h11.7v7.8h-11.7zM1776.2 484.5h11.7v7.8h-11.7zM1796.2 484.5h11.7v7.8h-11.7zM1817.2 481.2h9.7v14.5h-9.7zM1837.3 481.5h9.4v13.9h-9.4zM1857.4 481.8h9.2v13.3h-9.2zM1877.5 482.1h8.9v12.6h-8.9zM1897.7 482.4h8.7v12.0h-8.7zM1917.8 482.7h8.4v11.4h-8.4zM1937.9 483.0h8.2v10.7h-8.2zM1958.0 483.4h7.9v10.1h-7.9zM1978.2 483.7h7.6v9.4h-7.6zM1997.9 484.5h8.2v7.8h-8.2zM2007.9 485.3h8.2v6.2h-8.2zM2016.2 485.1h11.7v6.6h-11.7zM2027.9 485.3h8.2v6.2h-8.2zM2037.5 482.3h8.9v12.2h-8.9zM2057.8 482.9h8.4v11.0h-8.4zM2078.1 483.5h7.9v9.8h-7.9zM2088.4 485.0h7.2v6.8h-7.2zM2098.3 484.1h7.3v8.6h-7.3zM2107.4 485.5h9.2v5.8h-9.2zM2117.9 484.5h8.2v7.8h-8.2zM2128.7 484.5h6.6v7.8h-6.6zM2136.2 485.1h11.7v6.6h-11.7zM2148.7 484.5h6.6v7.8h-6.6zM2156.9 485.5h10.2v5.8h-10.2zM2168.7 485.8h6.7v5.2h-6.7zM2178.3 484.2h7.4v8.4h-7.4zM2188.7 485.2h6.7v6.4h-6.7zM2196.7 485.4h10.7v6.0h-10.7zM2216.7 485.4h10.7v6.0h-10.7zM2227.9 485.5h8.2v5.8h-8.2zM1706.2 475.9h11.7v7.8h-11.7zM1726.2 475.9h11.7v7.8h-11.7zM1746.2 475.9h11.7v7.8h-11.7zM1766.2 475.9h11.7v7.8h-11.7zM1786.2 475.9h11.7v7.8h-11.7zM1807.1 472.5h9.7v14.6h-9.7zM1827.3 472.8h9.5v14.0h-9.5zM1847.4 473.1h9.2v13.4h-9.2zM1867.5 473.4h9.0v12.8h-9.0zM1887.6 473.7h8.8v12.2h-8.8zM1907.7 474.0h8.5v11.6h-8.5zM1927.9 474.3h8.3v10.9h-8.3zM1948.0 474.7h8.0v10.3h-8.0zM1968.1 475.0h7.7v9.6h-7.7zM1987.9 475.9h8.2v7.8h-8.2zM1997.9 476.7h8.2v6.2h-8.2zM2006.2 476.5h11.7v6.6h-11.7zM2017.9 476.7h8.2v6.2h-8.2zM2026.2 476.5h11.7v6.6h-11.7zM2037.9 476.7h8.2v6.2h-8.2zM2047.7 474.1h8.6v11.4h-8.6zM2068.0 474.7h8.1v10.2h-8.1zM2077.4 477.2h9.2v5.2h-9.2zM2088.2 475.3h7.6v9.0h-7.6zM2097.4 476.9h9.2v5.8h-9.2zM2108.5 475.9h7.0v7.8h-7.0zM2118.4 477.2h7.2v5.2h-7.2zM2127.9 475.9h8.2v7.8h-8.2zM2137.9 476.7h8.2v6.2h-8.2zM2147.9 475.9h8.2v7.8h-8.2zM2157.9 476.7h8.2v6.2h-8.2zM2168.3 475.4h7.4v8.9h-7.4zM2176.9 476.6h10.2v6.4h-10.2zM2186.7 476.8h10.7v6.0h-10.7zM2197.9 476.9h8.2v5.8h-8.2zM2208.3 476.1h7.4v7.4h-7.4zM1696.2 467.3h11.7v7.8h-11.7zM1716.2 467.3h11.7v7.8h-11.7zM1736.2 467.3h11.7v7.8h-11.7zM1756.2 467.3h11.7v7.8h-11.7zM1776.2 467.3h11.7v7.8h-11.7zM1797.1 463.9h9.7v14.6h-9.7zM1817.2 464.2h9.5v14.1h-9.5zM1837.4 464.4h9.3v13.5h-9.3zM1857.5 464.7h9.1v12.9h-9.1zM1877.6 465.0h8.8v12.3h-8.8zM1897.7 465.3h8.6v11.7h-8.6zM1917.8 465.6h8.3v11.1h-8.3zM1938.0 466.0h8.1v10.5h-8.1zM1958.1 466.3h7.8v9.9h-7.8zM1977.9 467.3h8.2v7.8h-8.2zM1987.9 468.1h8.2v6.2h-8.2zM1996.2 467.9h11.7v6.6h-11.7zM2007.9 468.1h8.2v6.2h-8.2zM2017.9 467.3h8.2v7.8h-8.2zM2028.7 467.3h6.6v7.8h-6.6zM2037.6 465.3h8.8v11.9h-8.8zM2057.9 465.9h8.3v10.7h-8.3zM2078.1 466.4h7.8v9.5h-7.8zM2088.4 467.8h7.2v6.8h-7.2zM2098.4 467.0h7.2v8.3h-7.2zM2108.9 468.3h6.2v5.8h-6.2zM2116.2 467.9h11.7v6.6h-11.7zM2128.7 467.3h6.6v7.8h-6.6zM2137.9 467.3h8.2v7.8h-8.2zM2158.3 466.5h7.4v9.3h-7.4zM2166.9 468.0h10.2v6.4h-10.2zM2176.9 468.3h10.2v5.8h-10.2zM2186.9 468.0h10.2v6.4h-10.2zM2198.3 467.5h7.4v7.4h-7.4zM2207.2 468.3h9.7v5.8h-9.7zM2218.6 466.3h6.8v9.8h-6.8zM2227.2 468.3h9.7v5.8h-9.7zM1706.2 458.7h11.7v7.8h-11.7zM1726.2 458.7h11.7v7.8h-11.7zM1746.2 458.7h11.7v7.8h-11.7zM1766.2 458.7h11.7v7.8h-11.7zM1787.1 455.3h9.7v14.6h-9.7zM1807.2 455.5h9.5v14.1h-9.5zM1827.3 455.8h9.3v13.6h-9.3zM1847.4 456.1h9.1v13.1h-9.1zM1867.6 456.4h8.9v12.5h-8.9zM1887.7 456.7h8.6v11.9h-8.6zM1907.8 457.0h8.4v11.3h-8.4zM1927.9 457.3h8.2v10.7h-8.2zM1948.0 457.6h7.9v10.1h-7.9zM1968.2 457.9h7.7v9.4h-7.7zM1986.2 459.3h11.7v6.6h-11.7zM1997.9 459.5h8.2v6.2h-8.2zM2006.2 459.3h11.7v6.6h-11.7zM2027.5 456.5h9.0v12.3h-9.0zM2047.8 457.0h8.5v11.1h-8.5zM2068.0 457.6h7.9v9.9h-7.9zM2077.4 459.2h9.2v6.8h-9.2zM2088.3 458.2h7.4v8.8h-7.4zM2098.9 459.2h6.2v6.8h-6.2zM2107.9 458.7h8.2v7.8h-8.2zM2127.9 458.7h8.2v7.8h-8.2zM2137.9 459.5h8.2v6.2h-8.2zM2148.3 457.7h7.4v9.8h-7.4zM2157.9 459.4h8.2v6.4h-8.2zM2168.3 458.3h7.4v8.6h-7.4zM2177.9 460.0h8.2v5.2h-8.2zM2188.6 457.7h6.8v9.8h-6.8zM2198.7 459.7h6.6v5.8h-6.6zM2206.7 459.6h10.7v6.0h-10.7zM1696.2 450.1h11.7v7.8h-11.7zM1716.2 450.1h11.7v7.8h-11.7zM1736.2 450.1h11.7v7.8h-11.7zM1756.2 450.1h11.7v7.8h-11.7zM1777.1 446.7h9.7v14.6h-9.7zM1797.2 446.9h9.5v14.1h-9.5zM1817.3 447.2h9.3v13.6h-9.3zM1837.4 447.4h9.1v13.1h-9.1zM1857.5 447.7h8.9v12.6h-8.9zM1877.7 448.0h8.7v12.0h-8.7zM1897.8 448.3h8.5v11.4h-8.5zM1917.9 448.6h8.2v10.8h-8.2zM1938.0 448.9h8.0v10.2h-8.0zM1958.1 449.2h7.7v9.6h-7.7zM1976.2 450.7h11.7v6.6h-11.7zM1987.9 450.9h8.2v6.2h-8.2zM1996.2 450.7h11.7v6.6h-11.7zM2007.9 450.9h8.2v6.2h-8.2zM2016.2 450.7h11.7v6.6h-11.7zM2027.9 450.9h8.2v6.2h-8.2zM2037.7 448.2h8.6v11.5h-8.6zM2057.9 448.8h8.1v10.3h-8.1zM2068.9 450.6h6.2v6.8h-6.2zM2078.2 449.4h7.6v9.2h-7.6zM2088.9 450.6h6.2v6.8h-6.2zM2098.5 450.0h7.1v8.0h-7.1zM2107.4 450.6h9.2v6.8h-9.2zM2116.2 450.7h11.7v6.6h-11.7zM2128.7 450.1h6.6v7.8h-6.6zM2136.2 450.7h11.7v6.6h-11.7zM2158.3 449.5h7.4v9.1h-7.4zM2168.7 451.4h6.7v5.2h-6.7zM2178.3 450.0h7.4v7.9h-7.4zM2187.9 451.1h8.2v5.8h-8.2zM2198.6 449.1h6.8v9.8h-6.8zM1706.2 441.5h11.7v7.8h-11.7zM1726.2 441.5h11.7v7.8h-11.7zM1747.1 438.0h9.8v14.8h-9.8zM1767.2 438.2h9.7v14.4h-9.7zM1787.2 438.4h9.5v14.1h-9.5zM1807.3 438.6h9.3v13.6h-9.3zM1827.4 438.8h9.1v13.2h-9.1zM1847.5 439.1h8.9v12.6h-8.9zM1867.6 439.4h8.7v12.1h-8.7zM1887.8 439.6h8.5v11.5h-8.5zM1907.9 439.9h8.3v11.0h-8.3zM1928.0 440.2h8.0v10.4h-8.0zM1948.1 440.5h7.8v9.8h-7.8zM1966.2 442.1h11.7v6.6h-11.7zM1978.7 441.5h6.6v7.8h-6.6zM1986.2 442.1h11.7v6.6h-11.7zM2007.9 441.5h8.2v7.8h-8.2zM2017.9 442.3h8.2v6.2h-8.2zM2027.6 439.5h8.8v11.9h-8.8zM2047.8 440.0h8.3v10.7h-8.3zM2068.1 440.6h7.8v9.6h-7.8zM2077.4 442.0h9.2v6.8h-9.2zM2088.4 441.2h7.3v8.4h-7.3zM2098.9 442.5h6.2v5.8h-6.2zM2106.2 442.1h11.7v6.6h-11.7zM2117.9 442.3h8.2v6.2h-8.2zM2126.2 442.1h11.7v6.6h-11.7zM2137.9 442.3h8.2v6.2h-8.2zM2148.4 442.0h7.2v6.8h-7.2zM2158.7 442.2h6.7v6.4h-6.7zM2168.4 442.0h7.2v6.8h-7.2zM2178.7 442.5h6.7v5.8h-6.7zM2186.7 442.4h10.7v6.0h-10.7zM2197.9 442.5h8.2v5.8h-8.2zM2208.3 441.7h7.4v7.4h-7.4zM2217.9 442.5h8.2v5.8h-8.2zM1697.1 429.4h9.8v14.8h-9.8zM1717.1 429.4h9.8v14.7h-9.8zM1737.1 429.5h9.7v14.6h-9.7zM1757.2 429.7h9.6v14.3h-9.6zM1777.3 429.8h9.5v14.0h-9.5zM1797.3 430.0h9.3v13.6h-9.3zM1817.4 430.2h9.1v13.1h-9.1zM1837.5 430.5h8.9v12.7h-8.9zM1857.6 430.7h8.7v12.2h-8.7zM1877.7 431.0h8.5v11.6h-8.5zM1897.8 431.3h8.3v11.1h-8.3zM1918.0 431.6h8.1v10.5h-8.1zM1938.1 431.8h7.8v9.9h-7.8zM1958.2 432.1h7.6v9.3h-7.6zM1976.2 433.5h11.7v6.6h-11.7zM1988.7 432.9h6.6v7.8h-6.6zM1997.9 432.9h8.2v7.8h-8.2zM2007.9 433.7h8.2v6.2h-8.2zM2017.5 430.7h9.0v12.2h-9.0zM2037.8 431.3h8.5v11.1h-8.5zM2058.0 431.8h8.0v9.9h-8.0zM2067.4 433.9h9.2v5.8h-9.2zM2078.3 432.4h7.4v8.8h-7.4zM2088.9 433.4h6.2v6.8h-6.2zM2096.2 433.5h11.7v6.6h-11.7zM2107.9 433.7h8.2v6.2h-8.2zM2117.9 432.9h8.2v7.8h-8.2zM2136.2 433.5h11.7v6.6h-11.7zM2147.9 433.7h8.2v6.2h-8.2zM2158.3 432.4h7.4v8.8h-7.4zM2168.7 433.6h6.7v6.4h-6.7zM2178.3 433.1h7.4v7.4h-7.4zM2187.9 433.9h8.2v5.8h-8.2zM2198.6 431.9h6.8v9.8h-6.8zM2207.2 433.9h9.7v5.8h-9.7zM1707.2 421.0h9.6v14.4h-9.6zM1727.2 421.0h9.6v14.3h-9.6zM1747.2 421.1h9.5v14.1h-9.5zM1767.3 421.3h9.4v13.8h-9.4zM1787.4 421.5h9.3v13.5h-9.3zM1807.4 421.7h9.1v13.1h-9.1zM1827.5 421.9h8.9v12.7h-8.9zM1847.6 422.1h8.8v12.2h-8.8zM1867.7 422.4h8.5v11.7h-8.5zM1887.8 422.6h8.3v11.1h-8.3zM1907.9 422.9h8.1v10.6h-8.1zM1928.1 423.2h7.9v10.0h-7.9zM1948.2 423.5h7.7v9.4h-7.7zM1966.2 424.9h11.7v6.6h-11.7zM1977.9 425.1h8.2v6.2h-8.2zM1986.2 424.9h11.7v6.6h-11.7zM1997.9 425.1h8.2v6.2h-8.2zM2006.2 424.9h11.7v6.6h-11.7zM2017.9 425.1h8.2v6.2h-8.2zM2027.7 422.5h8.6v11.4h-8.6zM2047.9 423.1h8.1v10.3h-8.1zM2058.9 425.3h6.2v5.8h-6.2zM2068.2 423.6h7.6v9.1h-7.6zM2077.4 425.6h9.2v5.2h-9.2zM2088.5 424.2h7.1v8.0h-7.1zM2097.4 425.3h9.2v5.8h-9.2zM2106.2 424.9h11.7v6.6h-11.7zM2117.9 425.1h8.2v6.2h-8.2zM2126.2 424.9h11.7v6.6h-11.7zM2138.7 424.3h6.6v7.8h-6.6zM2148.3 423.6h7.4v9.1h-7.4zM2156.9 425.0h10.2v6.4h-10.2zM2168.4 424.8h7.2v6.8h-7.2zM2178.7 425.3h6.7v5.8h-6.7zM2186.7 425.2h10.7v6.0h-10.7zM2206.7 425.2h10.7v6.0h-10.7zM2217.2 425.3h9.7v5.8h-9.7zM1697.2 412.6h9.5v14.1h-9.5zM1717.3 412.6h9.5v14.0h-9.5zM1737.3 412.7h9.4v13.9h-9.4zM1757.3 412.8h9.3v13.7h-9.3zM1777.4 412.9h9.2v13.4h-9.2zM1797.5 413.1h9.1v13.0h-9.1zM1817.5 413.3h8.9v12.6h-8.9zM1837.6 413.5h8.7v12.2h-8.7zM1857.7 413.8h8.6v11.7h-8.6zM1877.8 414.0h8.4v11.2h-8.4zM1897.9 414.3h8.1v10.7h-8.1zM1918.0 414.5h7.9v10.1h-7.9zM1938.1 414.8h7.7v9.6h-7.7zM1956.2 416.3h11.7v6.6h-11.7zM1967.9 416.5h8.2v6.2h-8.2zM1977.9 415.7h8.2v7.8h-8.2zM1988.7 415.7h6.6v7.8h-6.6zM1997.9 415.7h8.2v7.8h-8.2zM2008.7 415.7h6.6v7.8h-6.6zM2017.6 413.8h8.7v11.7h-8.7zM2037.9 414.3h8.2v10.6h-8.2zM2058.1 414.9h7.7v9.5h-7.7zM2067.4 416.7h9.2v5.8h-9.2zM2078.4 415.4h7.2v8.3h-7.2zM2088.4 416.2h7.2v6.8h-7.2zM2096.2 416.3h11.7v6.6h-11.7zM2107.9 416.5h8.2v6.2h-8.2zM2116.2 416.3h11.7v6.6h-11.7zM2127.9 416.5h8.2v6.2h-8.2zM2138.3 414.8h7.4v9.5h-7.4zM2146.9 416.7h10.2v5.8h-10.2zM2158.4 416.2h7.2v6.8h-7.2zM2166.9 417.0h10.2v5.2h-10.2zM2176.7 416.6h10.7v6.0h-10.7zM2196.7 416.6h10.7v6.0h-10.7zM2208.7 416.7h6.6v5.8h-6.6zM1707.3 404.1h9.4v13.7h-9.4zM1727.3 404.2h9.3v13.6h-9.3zM1747.4 404.3h9.3v13.4h-9.3zM1767.4 404.4h9.2v13.2h-9.2zM1787.5 404.6h9.0v12.9h-9.0zM1807.6 404.7h8.9v12.5h-8.9zM1827.6 404.9h8.7v12.1h-8.7zM1847.7 405.2h8.6v11.7h-8.6zM1867.8 405.4h8.4v11.2h-8.4zM1887.9 405.6h8.2v10.7h-8.2zM1908.0 405.9h8.0v10.2h-8.0zM1928.1 406.2h7.7v9.6h-7.7zM1946.2 407.7h11.7v6.6h-11.7zM1957.9 407.9h8.2v6.2h-8.2zM1967.9 407.1h8.2v7.8h-8.2zM1987.9 407.1h8.2v7.8h-8.2zM1997.9 407.9h8.2v6.2h-8.2zM2007.6 405.0h8.8v12.0h-8.8zM2027.8 405.6h8.4v10.9h-8.4zM2048.1 406.1h7.9v9.8h-7.9zM2058.4 407.6h7.2v6.8h-7.2zM2068.3 406.7h7.4v8.7h-7.4zM2078.4 408.1h7.2v5.8h-7.2zM2086.2 407.7h11.7v6.6h-11.7zM2097.9 407.9h8.2v6.2h-8.2zM2107.9 407.1h8.2v7.8h-8.2zM2117.9 407.9h8.2v6.2h-8.2zM2127.9 407.1h8.2v7.8h-8.2zM2137.9 407.9h8.2v6.2h-8.2zM2148.3 406.6h7.4v8.8h-7.4zM2156.9 408.4h10.2v5.2h-10.2zM2168.3 407.3h7.4v7.4h-7.4zM2177.2 408.1h9.7v5.8h-9.7zM2186.7 408.0h10.7v6.0h-10.7zM2197.9 408.1h8.2v5.8h-8.2zM1697.4 395.7h9.2v13.4h-9.2zM1717.4 395.7h9.2v13.3h-9.2zM1737.4 395.8h9.2v13.2h-9.2zM1757.5 395.9h9.1v13.0h-9.1zM1777.5 396.0h9.0v12.7h-9.0zM1797.6 396.2h8.8v12.4h-8.8zM1817.7 396.4h8.7v12.0h-8.7zM1837.7 396.6h8.5v11.6h-8.5zM1857.8 396.8h8.4v11.2h-8.4zM1877.9 397.0h8.2v10.7h-8.2zM1898.0 397.3h8.0v10.2h-8.0zM1918.1 397.6h7.8v9.7h-7.8zM1936.2 399.1h11.7v6.6h-11.7zM1948.7 398.5h6.6v7.8h-6.6zM1956.2 399.1h11.7v6.6h-11.7zM1968.7 398.5h6.6v7.8h-6.6zM1976.2 399.1h11.7v6.6h-11.7zM1987.9 399.3h8.2v6.2h-8.2zM1997.5 396.3h8.9v12.2h-8.9zM2017.8 396.8h8.5v11.1h-8.5zM2038.0 397.4h8.0v10.0h-8.0zM2048.4 399.8h7.2v5.2h-7.2zM2058.2 397.9h7.5v8.9h-7.5zM2067.4 399.5h9.2v5.8h-9.2zM2078.5 398.5h7.0v7.8h-7.0zM2087.4 399.8h9.2v5.2h-9.2zM2096.2 399.1h11.7v6.6h-11.7zM2116.2 399.1h11.7v6.6h-11.7zM2127.9 399.3h8.2v6.2h-8.2zM2136.9 399.5h10.2v5.8h-10.2zM2148.7 399.8h6.7v5.2h-6.7zM2158.4 399.0h7.2v6.8h-7.2zM2166.9 399.5h10.2v5.8h-10.2zM2178.3 398.7h7.4v7.4h-7.4zM2196.7 399.4h10.7v6.0h-10.7zM2208.7 399.5h6.6v5.8h-6.6zM1707.5 387.3h9.1v13.0h-9.1zM1727.5 387.3h9.0v12.9h-9.0zM1747.5 387.4h9.0v12.8h-9.0zM1767.6 387.5h8.9v12.5h-8.9zM1787.6 387.7h8.8v12.3h-8.8zM1807.7 387.8h8.7v11.9h-8.7zM1827.7 388.0h8.5v11.6h-8.5zM1847.8 388.2h8.3v11.2h-8.3zM1867.9 388.4h8.2v10.7h-8.2zM1888.0 388.7h8.0v10.2h-8.0zM1908.1 388.9h7.8v9.7h-7.8zM1926.2 390.5h11.7v6.6h-11.7zM1946.2 390.5h11.7v6.6h-11.7zM1957.9 390.7h8.2v6.2h-8.2zM1966.2 390.5h11.7v6.6h-11.7zM1987.9 389.9h8.2v7.8h-8.2zM1997.9 390.7h8.2v6.2h-8.2zM2007.7 388.1h8.6v11.3h-8.6zM2027.9 388.7h8.1v10.3h-8.1zM2038.9 390.9h6.2v5.8h-6.2zM2048.2 389.2h7.6v9.2h-7.6zM2057.4 390.9h9.2v5.8h-9.2zM2068.4 389.7h7.1v8.1h-7.1zM2077.4 390.4h9.2v6.8h-9.2zM2086.2 390.5h11.7v6.6h-11.7zM2097.9 390.7h8.2v6.2h-8.2zM2106.2 390.5h11.7v6.6h-11.7zM2128.4 390.4h7.2v6.8h-7.2zM2138.7 390.6h6.7v6.4h-6.7zM2148.3 389.6h7.4v8.3h-7.4zM2157.9 391.2h8.2v5.2h-8.2zM2166.7 390.8h10.7v6.0h-10.7zM2177.9 390.9h8.2v5.8h-8.2zM2188.6 388.9h6.8v9.8h-6.8zM1697.5 378.9h8.9v12.7h-8.9zM1717.5 378.9h8.9v12.6h-8.9zM1737.6 378.9h8.9v12.5h-8.9zM1757.6 379.0h8.8v12.3h-8.8zM1777.6 379.2h8.7v12.1h-8.7zM1797.7 379.3h8.6v11.8h-8.6zM1817.8 379.5h8.5v11.5h-8.5zM1837.8 379.7h8.3v11.1h-8.3zM1857.9 379.9h8.1v10.7h-8.1zM1878.0 380.1h8.0v10.2h-8.0zM1898.1 380.3h7.8v9.7h-7.8zM1916.2 381.9h11.7v6.6h-11.7zM1928.7 381.3h6.6v7.8h-6.6zM1936.2 381.9h11.7v6.6h-11.7zM1947.9 382.1h8.2v6.2h-8.2zM1956.2 381.9h11.7v6.6h-11.7zM1976.2 381.9h11.7v6.6h-11.7zM1987.9 382.1h8.2v6.2h-8.2zM1997.7 379.4h8.7v11.5h-8.7zM2017.9 380.0h8.2v10.5h-8.2zM2027.4 381.8h9.2v6.8h-9.2zM2038.1 380.5h7.7v9.4h-7.7zM2048.4 381.8h7.2v6.8h-7.2zM2058.4 381.0h7.3v8.4h-7.3zM2068.9 382.3h6.2v5.8h-6.2zM2077.9 381.3h8.2v7.8h-8.2zM2088.7 381.3h6.6v7.8h-6.6zM2097.9 381.3h8.2v7.8h-8.2zM2107.9 382.1h8.2v6.2h-8.2zM2118.3 380.4h7.4v9.7h-7.4zM2126.9 382.3h10.2v5.8h-10.2zM2138.3 380.9h7.4v8.6h-7.4zM2146.9 382.3h10.2v5.8h-10.2zM2158.6 380.3h6.8v9.8h-6.8zM2176.7 382.2h10.7v6.0h-10.7zM1707.6 370.4h8.8v12.3h-8.8zM1727.6 370.5h8.8v12.2h-8.8zM1747.6 370.6h8.7v12.1h-8.7zM1767.7 370.7h8.6v11.9h-8.6zM1787.7 370.8h8.5v11.6h-8.5zM1807.8 370.9h8.4v11.3h-8.4zM1827.9 371.1h8.3v11.0h-8.3zM1847.9 371.3h8.1v10.6h-8.1zM1868.0 371.5h8.0v10.2h-8.0zM1888.1 371.7h7.8v9.7h-7.8zM1907.9 372.7h8.2v7.8h-8.2zM1917.9 373.5h8.2v6.2h-8.2zM1927.9 372.7h8.2v7.8h-8.2zM1937.9 373.5h8.2v6.2h-8.2zM1946.2 373.3h11.7v6.6h-11.7zM1957.9 373.5h8.2v6.2h-8.2zM1966.2 373.3h11.7v6.6h-11.7zM1977.9 373.5h8.2v6.2h-8.2zM1987.6 370.8h8.7v11.7h-8.7zM2007.9 371.3h8.3v10.7h-8.3zM2028.1 371.8h7.8v9.6h-7.8zM2038.4 373.2h7.2v6.8h-7.2zM2048.3 372.3h7.3v8.6h-7.3zM2057.4 373.7h9.2v5.8h-9.2zM2066.2 373.3h11.7v6.6h-11.7zM2086.2 373.3h11.7v6.6h-11.7zM2097.9 373.5h8.2v6.2h-8.2zM2106.2 373.3h11.7v6.6h-11.7zM2117.9 373.5h8.2v6.2h-8.2zM2128.4 373.2h7.2v6.8h-7.2zM2137.9 374.0h8.2v5.2h-8.2zM2148.3 372.7h7.4v7.8h-7.4zM2157.9 373.7h8.2v5.8h-8.2zM2166.7 373.6h10.7v6.0h-10.7zM1697.7 362.0h8.7v12.0h-8.7zM1717.7 362.0h8.6v11.9h-8.6zM1737.7 362.1h8.6v11.8h-8.6zM1757.7 362.2h8.5v11.7h-8.5zM1777.8 362.3h8.5v11.4h-8.5zM1797.8 362.4h8.3v11.2h-8.3zM1817.9 362.6h8.2v10.9h-8.2zM1838.0 362.7h8.1v10.5h-8.1zM1858.0 362.9h7.9v10.1h-7.9zM1878.1 363.2h7.8v9.7h-7.8zM1896.2 364.7h11.7v6.6h-11.7zM1907.9 364.9h8.2v6.2h-8.2zM1917.9 364.1h8.2v7.8h-8.2zM1928.7 364.1h6.6v7.8h-6.6zM1936.2 364.7h11.7v6.6h-11.7zM1947.9 364.9h8.2v6.2h-8.2zM1956.2 364.7h11.7v6.6h-11.7zM1967.9 364.9h8.2v6.2h-8.2zM1977.6 362.1h8.8v11.8h-8.8zM1997.8 362.6h8.3v10.8h-8.3zM2018.1 363.1h7.9v9.8h-7.9zM2028.4 365.1h7.2v5.8h-7.2zM2038.3 363.6h7.4v8.8h-7.4zM2047.4 365.4h9.2v5.2h-9.2zM2056.2 364.7h11.7v6.6h-11.7zM2068.7 364.1h6.6v7.8h-6.6zM2076.2 364.7h11.7v6.6h-11.7zM2087.9 364.9h8.2v6.2h-8.2zM2096.2 364.7h11.7v6.6h-11.7zM2107.9 364.9h8.2v6.2h-8.2zM2118.3 363.4h7.4v9.1h-7.4zM2127.9 365.1h8.2v5.8h-8.2zM2138.3 364.0h7.4v8.1h-7.4zM2147.9 364.8h8.2v6.4h-8.2zM2156.7 365.0h10.7v6.0h-10.7zM2167.9 365.1h8.2v5.8h-8.2zM2178.3 364.3h7.4v7.4h-7.4zM2187.9 365.1h8.2v5.8h-8.2zM1707.7 353.6h8.5v11.6h-8.5zM1727.8 353.6h8.5v11.5h-8.5zM1747.8 353.7h8.4v11.4h-8.4zM1767.8 353.8h8.4v11.2h-8.4zM1787.9 353.9h8.3v11.0h-8.3zM1807.9 354.0h8.2v10.7h-8.2zM1828.0 354.2h8.0v10.4h-8.0zM1848.1 354.4h7.9v10.0h-7.9zM1868.1 354.6h7.7v9.6h-7.7zM1886.2 356.1h11.7v6.6h-11.7zM1897.9 356.3h8.2v6.2h-8.2zM1906.2 356.1h11.7v6.6h-11.7zM1927.9 355.5h8.2v7.8h-8.2zM1938.7 355.5h6.6v7.8h-6.6zM1946.2 356.1h11.7v6.6h-11.7zM1957.9 356.3h8.2v6.2h-8.2zM1967.6 353.5h8.8v11.9h-8.8zM1987.8 353.9h8.4v10.9h-8.4zM2008.0 354.4h7.9v9.9h-7.9zM2018.4 356.0h7.2v6.8h-7.2zM2028.2 354.9h7.5v8.9h-7.5zM2038.4 356.8h7.2v5.2h-7.2zM2048.5 355.4h7.1v7.9h-7.1zM2057.4 356.8h9.2v5.2h-9.2zM2067.9 355.5h8.2v7.8h-8.2zM2078.7 355.5h6.6v7.8h-6.6zM2087.9 355.5h8.2v7.8h-8.2zM2097.9 356.3h8.2v6.2h-8.2zM2106.9 356.5h10.2v5.8h-10.2zM2118.7 356.8h6.7v5.2h-6.7zM2128.4 356.0h7.2v6.8h-7.2zM2138.7 356.8h6.7v5.2h-6.7zM2146.7 356.4h10.7v6.0h-10.7zM2158.7 356.5h6.6v5.8h-6.6zM2168.6 354.5h6.8v9.8h-6.8zM2178.7 356.5h6.6v5.8h-6.6zM1697.8 345.2h8.4v11.3h-8.4zM1717.8 345.2h8.4v11.2h-8.4zM1737.8 345.2h8.3v11.1h-8.3zM1757.9 345.3h8.3v11.0h-8.3zM1777.9 345.4h8.2v10.8h-8.2zM1798.0 345.5h8.1v10.5h-8.1zM1818.0 345.7h8.0v10.2h-8.0zM1838.1 345.8h7.8v9.9h-7.8zM1858.2 346.0h7.7v9.5h-7.7zM1877.9 346.9h8.2v7.8h-8.2zM1887.9 347.7h8.2v6.2h-8.2zM1896.2 347.5h11.7v6.6h-11.7zM1908.7 346.9h6.6v7.8h-6.6zM1917.9 346.9h8.2v7.8h-8.2zM1928.7 346.9h6.6v7.8h-6.6zM1936.2 347.5h11.7v6.6h-11.7zM1948.7 346.9h6.6v7.8h-6.6zM1957.6 344.8h8.8v11.9h-8.8zM1977.8 345.3h8.4v11.0h-8.4zM1998.0 345.8h8.0v10.0h-8.0zM2008.4 348.2h7.2v5.2h-7.2zM2018.2 346.3h7.6v9.1h-7.6zM2028.4 348.2h7.2v5.2h-7.2zM2038.4 346.8h7.1v8.1h-7.1zM2048.9 347.9h6.2v5.8h-6.2zM2057.9 346.9h8.2v7.8h-8.2zM2067.9 347.7h8.2v6.2h-8.2zM2076.2 347.5h11.7v6.6h-11.7zM2096.9 347.9h10.2v5.8h-10.2zM2108.7 347.6h6.7v6.4h-6.7zM2116.9 347.9h10.2v5.8h-10.2zM2128.7 348.2h6.7v5.2h-6.7zM2138.3 347.1h7.4v7.4h-7.4zM2147.9 347.9h8.2v5.8h-8.2zM2158.6 345.9h6.8v9.8h-6.8zM1707.9 336.8h8.2v10.9h-8.2zM1727.9 336.8h8.2v10.8h-8.2zM1747.9 336.8h8.2v10.7h-8.2zM1768.0 336.9h8.1v10.5h-8.1zM1788.0 337.0h8.0v10.3h-8.0zM1808.0 337.2h7.9v10.1h-7.9zM1828.1 337.3h7.8v9.8h-7.8zM1848.2 337.5h7.7v9.4h-7.7zM1866.2 338.9h11.7v6.6h-11.7zM1877.9 339.1h8.2v6.2h-8.2zM1887.9 338.3h8.2v7.8h-8.2zM1898.7 338.3h6.6v7.8h-6.6zM1906.2 338.9h11.7v6.6h-11.7zM1926.2 338.9h11.7v6.6h-11.7zM1937.9 339.1h8.2v6.2h-8.2zM1947.6 336.2h8.8v11.9h-8.8zM1967.8 336.7h8.4v11.0h-8.4zM1988.0 337.1h8.0v10.1h-8.0zM1998.4 339.6h7.2v5.2h-7.2zM2008.2 337.6h7.6v9.2h-7.6zM2017.4 339.6h9.2v5.2h-9.2zM2028.4 338.1h7.2v8.2h-7.2zM2038.4 339.6h7.2v5.2h-7.2zM2047.9 338.3h8.2v7.8h-8.2zM2057.9 339.1h8.2v6.2h-8.2zM2067.9 338.3h8.2v7.8h-8.2zM2078.7 338.3h6.6v7.8h-6.6zM2086.9 339.3h10.2v5.8h-10.2zM2097.9 339.3h8.2v5.8h-8.2zM2106.9 339.3h10.2v5.8h-10.2zM2117.9 339.6h8.2v5.2h-8.2zM2126.7 339.2h10.7v6.0h-10.7zM2146.7 339.2h10.7v6.0h-10.7zM1697.9 328.3h8.1v10.6h-8.1zM1718.0 328.3h8.1v10.5h-8.1zM1738.0 328.4h8.1v10.4h-8.1zM1758.0 328.5h8.0v10.3h-8.0zM1778.0 328.5h7.9v10.1h-7.9zM1798.1 328.7h7.8v9.9h-7.8zM1818.1 328.8h7.7v9.6h-7.7zM1837.9 329.7h8.2v7.8h-8.2zM1847.9 330.5h8.2v6.2h-8.2zM1856.2 330.3h11.7v6.6h-11.7zM1876.2 330.3h11.7v6.6h-11.7zM1887.9 330.5h8.2v6.2h-8.2zM1896.2 330.3h11.7v6.6h-11.7zM1908.7 329.7h6.6v7.8h-6.6zM1916.2 330.3h11.7v6.6h-11.7zM1937.6 327.7h8.8v11.9h-8.8zM1957.8 328.1h8.4v11.0h-8.4zM1978.0 328.5h8.0v10.1h-8.0zM1988.4 330.2h7.2v6.8h-7.2zM1998.2 329.0h7.6v9.2h-7.6zM2008.4 331.0h7.2v5.2h-7.2zM2018.4 329.5h7.2v8.3h-7.2zM2028.9 330.7h6.2v5.8h-6.2zM2037.9 329.7h8.2v7.8h-8.2zM2047.9 330.5h8.2v6.2h-8.2zM2056.2 330.3h11.7v6.6h-11.7zM2067.9 330.5h8.2v6.2h-8.2zM2076.2 330.3h11.7v6.6h-11.7zM2087.9 330.5h8.2v6.2h-8.2zM2096.9 330.7h10.2v5.8h-10.2zM2108.7 330.4h6.7v6.4h-6.7zM2118.3 329.6h7.4v7.9h-7.4zM2128.7 330.4h6.7v6.4h-6.7zM2138.3 329.9h7.4v7.4h-7.4zM2148.7 330.7h6.6v5.8h-6.6zM2158.3 329.9h7.4v7.4h-7.4zM1708.0 319.9h8.0v10.2h-8.0zM1728.0 319.9h7.9v10.1h-7.9zM1748.1 320.0h7.9v10.0h-7.9zM1768.1 320.1h7.8v9.9h-7.8zM1788.1 320.2h7.7v9.7h-7.7zM1808.2 320.3h7.6v9.4h-7.6zM1826.2 321.7h11.7v6.6h-11.7zM1837.9 321.9h8.2v6.2h-8.2zM1847.9 321.1h8.2v7.8h-8.2zM1857.9 321.9h8.2v6.2h-8.2zM1866.2 321.7h11.7v6.6h-11.7zM1887.9 321.1h8.2v7.8h-8.2zM1897.9 321.9h8.2v6.2h-8.2zM1906.2 321.7h11.7v6.6h-11.7zM1927.6 319.1h8.8v11.8h-8.8zM1947.8 319.5h8.4v11.0h-8.4zM1968.0 319.9h8.0v10.1h-8.0zM1978.4 322.1h7.2v5.8h-7.2zM1988.2 320.4h7.6v9.3h-7.6zM1998.4 322.4h7.2v5.2h-7.2zM2008.4 320.8h7.2v8.3h-7.2zM2017.4 322.4h9.2v5.2h-9.2zM2027.9 321.1h8.2v7.8h-8.2zM2037.9 321.9h8.2v6.2h-8.2zM2047.9 321.1h8.2v7.8h-8.2zM2057.9 321.9h8.2v6.2h-8.2zM2066.2 321.7h11.7v6.6h-11.7zM2077.9 321.9h8.2v6.2h-8.2zM2086.9 322.1h10.2v5.8h-10.2zM2097.9 322.1h8.2v5.8h-8.2zM2108.3 320.9h7.4v8.1h-7.4zM2117.9 322.1h8.2v5.8h-8.2zM2126.7 322.0h10.7v6.0h-10.7zM2146.7 322.0h10.7v6.0h-10.7zM2157.2 322.1h9.7v5.8h-9.7zM1698.1 311.5h7.8v9.8h-7.8zM1718.1 311.5h7.8v9.8h-7.8zM1738.1 311.5h7.8v9.7h-7.8zM1758.1 311.6h7.7v9.6h-7.7zM1778.2 311.7h7.7v9.4h-7.7zM1796.2 313.1h11.7v6.6h-11.7zM1807.9 313.3h8.2v6.2h-8.2zM1816.2 313.1h11.7v6.6h-11.7zM1836.2 313.1h11.7v6.6h-11.7zM1847.9 313.3h8.2v6.2h-8.2zM1856.2 313.1h11.7v6.6h-11.7zM1876.2 313.1h11.7v6.6h-11.7zM1887.9 313.3h8.2v6.2h-8.2zM1896.2 313.1h11.7v6.6h-11.7zM1907.9 313.3h8.2v6.2h-8.2zM1917.6 310.5h8.7v11.7h-8.7zM1937.8 310.9h8.4v10.9h-8.4zM1958.0 311.3h8.0v10.1h-8.0zM1968.9 313.8h6.2v5.2h-6.2zM1978.2 311.8h7.6v9.3h-7.6zM1987.4 313.0h9.2v6.8h-9.2zM1998.4 312.2h7.3v8.4h-7.3zM2008.9 313.8h6.2v5.2h-6.2zM2017.9 312.5h8.2v7.8h-8.2zM2027.9 313.3h8.2v6.2h-8.2zM2036.2 313.1h11.7v6.6h-11.7zM2048.7 312.5h6.6v7.8h-6.6zM2056.2 313.1h11.7v6.6h-11.7zM2067.9 313.3h8.2v6.2h-8.2zM2078.4 313.0h7.2v6.8h-7.2zM2086.9 313.2h10.2v6.4h-10.2zM2098.3 312.3h7.4v8.3h-7.4zM2108.7 313.8h6.7v5.2h-6.7zM2116.7 313.4h10.7v6.0h-10.7zM2138.3 312.7h7.4v7.4h-7.4zM2147.9 313.5h8.2v5.8h-8.2zM1708.2 303.1h7.7v9.5h-7.7zM1728.2 303.1h7.7v9.4h-7.7zM1748.2 303.1h7.6v9.3h-7.6zM1767.9 303.9h8.2v7.8h-8.2zM1777.9 304.7h8.2v6.2h-8.2zM1787.9 303.9h8.2v7.8h-8.2zM1797.9 304.7h8.2v6.2h-8.2zM1806.2 304.5h11.7v6.6h-11.7zM1818.7 303.9h6.6v7.8h-6.6zM1826.2 304.5h11.7v6.6h-11.7zM1846.2 304.5h11.7v6.6h-11.7zM1857.9 304.7h8.2v6.2h-8.2zM1866.2 304.5h11.7v6.6h-11.7zM1878.7 303.9h6.6v7.8h-6.6zM1887.5 301.7h9.0v12.3h-9.0zM1907.7 302.0h8.7v11.6h-8.7zM1927.8 302.4h8.3v10.8h-8.3zM1948.0 302.8h8.0v10.0h-8.0zM1958.4 305.2h7.2v5.2h-7.2zM1968.2 303.2h7.6v9.2h-7.6zM1977.4 304.4h9.2v6.8h-9.2zM1988.4 303.6h7.3v8.4h-7.3zM1998.4 304.4h7.2v6.8h-7.2zM2006.2 304.5h11.7v6.6h-11.7zM2017.9 304.7h8.2v6.2h-8.2zM2026.2 304.5h11.7v6.6h-11.7zM2037.9 304.7h8.2v6.2h-8.2zM2046.2 304.5h11.7v6.6h-11.7zM2058.7 303.9h6.6v7.8h-6.6zM2068.4 304.4h7.2v6.8h-7.2zM2076.9 305.2h10.2v5.2h-10.2zM2086.9 304.9h10.2v5.8h-10.2zM2098.7 305.2h6.7v5.2h-6.7zM2108.6 302.9h6.8v9.8h-6.8zM2117.9 304.9h8.2v5.8h-8.2zM2128.6 302.9h6.8v9.8h-6.8zM1697.9 295.3h8.2v7.8h-8.2zM1708.7 295.3h6.6v7.8h-6.6zM1716.2 295.9h11.7v6.6h-11.7zM1727.9 296.1h8.2v6.2h-8.2zM1736.2 295.9h11.7v6.6h-11.7zM1757.9 295.3h8.2v7.8h-8.2zM1767.9 296.1h8.2v6.2h-8.2zM1777.9 295.3h8.2v7.8h-8.2zM1787.9 296.1h8.2v6.2h-8.2zM1797.9 295.3h8.2v7.8h-8.2zM1807.9 296.1h8.2v6.2h-8.2zM1817.9 295.3h8.2v7.8h-8.2zM1827.9 296.1h8.2v6.2h-8.2zM1836.2 295.9h11.7v6.6h-11.7zM1848.7 295.3h6.6v7.8h-6.6zM1856.2 295.9h11.7v6.6h-11.7zM1867.9 296.1h8.2v6.2h-8.2zM1877.6 293.2h8.9v12.1h-8.9zM1897.7 293.5h8.6v11.4h-8.6zM1917.9 293.8h8.3v10.7h-8.3zM1938.0 294.2h8.0v10.0h-8.0zM1948.4 296.3h7.2v5.8h-7.2zM1958.2 294.6h7.6v9.2h-7.6zM1967.4 295.8h9.2v6.8h-9.2zM1978.4 295.0h7.2v8.3h-7.2zM1988.4 296.6h7.2v5.2h-7.2zM1996.2 295.9h11.7v6.6h-11.7zM2007.9 296.1h8.2v6.2h-8.2zM2016.2 295.9h11.7v6.6h-11.7zM2028.7 295.3h6.6v7.8h-6.6zM2036.2 295.9h11.7v6.6h-11.7zM2047.9 296.1h8.2v6.2h-8.2zM2058.3 294.5h7.4v9.4h-7.4zM2067.9 296.6h8.2v5.2h-8.2zM2076.9 296.3h10.2v5.8h-10.2zM2088.7 296.3h6.7v5.8h-6.7zM2096.7 296.2h10.7v6.0h-10.7zM2107.9 296.3h8.2v5.8h-8.2zM2118.3 295.5h7.4v7.4h-7.4zM2128.7 296.3h6.6v5.8h-6.6zM1706.2 287.3h11.7v6.6h-11.7zM1717.9 287.5h8.2v6.2h-8.2zM1726.2 287.3h11.7v6.6h-11.7zM1738.7 286.7h6.6v7.8h-6.6zM1746.2 287.3h11.7v6.6h-11.7zM1757.9 287.5h8.2v6.2h-8.2zM1767.9 286.7h8.2v7.8h-8.2zM1777.9 287.5h8.2v6.2h-8.2zM1786.2 287.3h11.7v6.6h-11.7zM1797.9 287.5h8.2v6.2h-8.2zM1806.2 287.3h11.7v6.6h-11.7zM1817.9 287.5h8.2v6.2h-8.2zM1827.9 286.7h8.2v7.8h-8.2zM1837.9 287.5h8.2v6.2h-8.2zM1847.9 286.7h8.2v7.8h-8.2zM1857.9 287.5h8.2v6.2h-8.2zM1867.6 284.7h8.8v11.8h-8.8zM1887.7 285.0h8.5v11.2h-8.5zM1907.9 285.3h8.2v10.5h-8.2zM1928.1 285.7h7.9v9.8h-7.9zM1937.4 287.2h9.2v6.8h-9.2zM1948.2 286.1h7.6v9.1h-7.6zM1958.9 287.7h6.2v5.8h-6.2zM1968.4 286.5h7.2v8.3h-7.2zM1977.4 287.7h9.2v5.8h-9.2zM1986.2 287.3h11.7v6.6h-11.7zM1997.9 287.5h8.2v6.2h-8.2zM2006.2 287.3h11.7v6.6h-11.7zM2017.9 287.5h8.2v6.2h-8.2zM2026.2 287.3h11.7v6.6h-11.7zM2037.9 287.5h8.2v6.2h-8.2zM2048.3 285.9h7.4v9.4h-7.4zM2057.9 287.7h8.2v5.8h-8.2zM2066.9 287.7h10.2v5.8h-10.2zM2076.9 287.7h10.2v5.8h-10.2zM2086.7 287.6h10.7v6.0h-10.7zM2098.7 287.7h6.6v5.8h-6.6zM2106.7 287.6h10.7v6.0h-10.7zM2126.7 287.6h10.7v6.0h-10.7zM1696.2 278.7h11.7v6.6h-11.7zM1707.9 278.9h8.2v6.2h-8.2zM1716.2 278.7h11.7v6.6h-11.7zM1736.2 278.7h11.7v6.6h-11.7zM1747.9 278.9h8.2v6.2h-8.2zM1756.2 278.7h11.7v6.6h-11.7zM1767.9 278.9h8.2v6.2h-8.2zM1776.2 278.7h11.7v6.6h-11.7zM1788.7 278.1h6.6v7.8h-6.6zM1796.2 278.7h11.7v6.6h-11.7zM1807.9 278.9h8.2v6.2h-8.2zM1816.2 278.7h11.7v6.6h-11.7zM1828.7 278.1h6.6v7.8h-6.6zM1837.6 276.0h8.9v12.1h-8.9zM1857.7 276.2h8.7v11.5h-8.7zM1877.8 276.5h8.4v11.0h-8.4zM1897.9 276.8h8.1v10.3h-8.1zM1908.4 279.1h7.2v5.8h-7.2zM1918.1 277.2h7.8v9.7h-7.8zM1928.9 279.4h6.2v5.2h-6.2zM1938.2 277.5h7.5v8.9h-7.5zM1948.4 279.4h7.2v5.2h-7.2zM1958.4 277.9h7.2v8.2h-7.2zM1968.9 279.4h6.2v5.2h-6.2zM1977.9 278.1h8.2v7.8h-8.2zM1987.9 278.9h8.2v6.2h-8.2zM1997.9 278.1h8.2v7.8h-8.2zM2007.9 278.9h8.2v6.2h-8.2zM2017.9 278.1h8.2v7.8h-8.2zM2028.7 278.1h6.6v7.8h-6.6zM2038.3 277.3h7.4v9.4h-7.4zM2046.9 279.4h10.2v5.2h-10.2zM2056.9 279.1h10.2v5.8h-10.2zM2068.7 279.4h6.7v5.2h-6.7zM2078.3 278.3h7.4v7.4h-7.4zM2087.9 279.1h8.2v5.8h-8.2zM2098.3 278.3h7.4v7.4h-7.4zM2108.7 279.1h6.6v5.8h-6.6zM2118.3 278.3h7.4v7.4h-7.4zM1707.9 269.5h8.2v7.8h-8.2zM1718.7 269.5h6.6v7.8h-6.6zM1726.2 270.1h11.7v6.6h-11.7zM1737.9 270.3h8.2v6.2h-8.2zM1746.2 270.1h11.7v6.6h-11.7zM1757.9 270.3h8.2v6.2h-8.2zM1766.2 270.1h11.7v6.6h-11.7zM1778.7 269.5h6.6v7.8h-6.6zM1786.2 270.1h11.7v6.6h-11.7zM1797.9 270.3h8.2v6.2h-8.2zM1807.5 267.3h8.9v12.1h-8.9zM1827.6 267.5h8.7v11.7h-8.7zM1847.7 267.8h8.5v11.2h-8.5zM1867.9 268.1h8.3v10.7h-8.3zM1888.0 268.3h8.0v10.1h-8.0zM1898.9 270.5h6.2v5.8h-6.2zM1908.1 268.7h7.7v9.5h-7.7zM1918.9 270.0h6.2v6.8h-6.2zM1928.3 269.0h7.4v8.8h-7.4zM1937.4 270.5h9.2v5.8h-9.2zM1948.4 269.4h7.1v8.1h-7.1zM1958.9 270.0h6.2v6.8h-6.2zM1966.2 270.1h11.7v6.6h-11.7zM1977.9 270.3h8.2v6.2h-8.2zM1986.2 270.1h11.7v6.6h-11.7zM2006.2 270.1h11.7v6.6h-11.7zM2018.7 269.5h6.6v7.8h-6.6zM2028.3 268.7h7.4v9.4h-7.4zM2037.9 270.2h8.2v6.4h-8.2zM2048.3 269.1h7.4v8.6h-7.4zM2058.7 270.8h6.7v5.2h-6.7zM2068.6 268.5h6.8v9.8h-6.8zM2077.9 270.5h8.2v5.8h-8.2zM2088.6 268.5h6.8v9.8h-6.8zM2098.7 270.5h6.6v5.8h-6.6zM2108.6 268.5h6.8v9.8h-6.8zM2117.9 270.5h8.2v5.8h-8.2zM1697.9 260.9h8.2v7.8h-8.2zM1707.9 261.7h8.2v6.2h-8.2zM1717.9 260.9h8.2v7.8h-8.2zM1727.9 261.7h8.2v6.2h-8.2zM1736.2 261.5h11.7v6.6h-11.7zM1747.9 261.7h8.2v6.2h-8.2zM1756.2 261.5h11.7v6.6h-11.7zM1767.9 261.7h8.2v6.2h-8.2zM1777.6 258.8h8.9v12.0h-8.9zM1797.6 258.9h8.7v11.7h-8.7zM1817.7 259.1h8.6v11.3h-8.6zM1837.8 259.4h8.4v10.9h-8.4zM1857.9 259.6h8.2v10.4h-8.2zM1868.9 262.2h6.2v5.2h-6.2zM1878.0 259.9h7.9v9.8h-7.9zM1888.9 261.9h6.2v5.8h-6.2zM1898.2 260.2h7.6v9.2h-7.6zM1908.9 261.9h6.2v5.8h-6.2zM1918.3 260.5h7.4v8.6h-7.4zM1928.4 261.9h7.2v5.8h-7.2zM1938.5 260.8h7.1v7.9h-7.1zM1948.4 262.2h7.2v5.2h-7.2zM1956.2 261.5h11.7v6.6h-11.7zM1967.9 261.7h8.2v6.2h-8.2zM1976.2 261.5h11.7v6.6h-11.7zM1987.9 261.7h8.2v6.2h-8.2zM1997.9 260.9h8.2v7.8h-8.2zM2016.9 261.9h10.2v5.8h-10.2zM2026.9 261.9h10.2v5.8h-10.2zM2038.3 260.5h7.4v8.6h-7.4zM2046.9 261.9h10.2v5.8h-10.2zM2058.6 259.9h6.8v9.8h-6.8zM2076.7 261.8h10.7v6.0h-10.7zM2096.7 261.8h10.7v6.0h-10.7zM2108.7 261.9h6.6v5.8h-6.6zM1707.6 250.2h8.9v12.0h-8.9zM1727.6 250.2h8.8v11.9h-8.8zM1747.6 250.3h8.8v11.8h-8.8zM1767.7 250.4h8.7v11.6h-8.7zM1787.7 250.6h8.5v11.3h-8.5zM1807.8 250.7h8.4v10.9h-8.4zM1827.9 250.9h8.2v10.5h-8.2zM1848.0 251.2h8.0v10.1h-8.0zM1858.4 253.3h7.2v5.8h-7.2zM1868.1 251.4h7.8v9.6h-7.8zM1877.4 253.3h9.2v5.8h-9.2zM1888.2 251.7h7.5v9.0h-7.5zM1898.4 253.6h7.2v5.2h-7.2zM1908.4 252.0h7.3v8.4h-7.3zM1918.9 253.3h6.2v5.8h-6.2zM1926.2 252.9h11.7v6.6h-11.7zM1938.7 252.3h6.6v7.8h-6.6zM1946.2 252.9h11.7v6.6h-11.7zM1958.7 252.3h6.6v7.8h-6.6zM1967.9 252.3h8.2v7.8h-8.2zM1986.2 252.9h11.7v6.6h-11.7zM1997.9 253.1h8.2v6.2h-8.2zM2008.3 251.5h7.4v9.3h-7.4zM2018.7 253.3h6.7v5.8h-6.7zM2028.3 251.9h7.4v8.6h-7.4zM2037.9 253.0h8.2v6.4h-8.2zM2046.7 253.2h10.7v6.0h-10.7zM2066.7 253.2h10.7v6.0h-10.7zM2077.2 253.3h9.7v5.8h-9.7zM2086.7 253.2h10.7v6.0h-10.7zM2098.7 253.3h6.6v5.8h-6.6zM1697.7 241.9h8.6v11.4h-8.6zM1717.7 241.9h8.6v11.3h-8.6zM1737.7 242.0h8.5v11.2h-8.5zM1757.8 242.1h8.4v11.0h-8.4zM1777.8 242.2h8.3v10.8h-8.3zM1797.9 242.4h8.2v10.5h-8.2zM1808.9 245.0h6.2v5.2h-6.2zM1818.0 242.5h8.0v10.1h-8.0zM1828.4 245.0h7.2v5.2h-7.2zM1838.1 242.7h7.9v9.7h-7.9zM1848.9 244.7h6.2v5.8h-6.2zM1858.2 243.0h7.6v9.2h-7.6zM1868.4 245.0h7.2v5.2h-7.2zM1878.3 243.2h7.4v8.7h-7.4zM1887.4 245.0h9.2v5.2h-9.2zM1898.4 243.5h7.2v8.1h-7.2zM1908.9 244.7h6.2v5.8h-6.2zM1916.2 244.3h11.7v6.6h-11.7zM1927.9 244.5h8.2v6.2h-8.2zM1937.9 243.7h8.2v7.8h-8.2zM1948.7 243.7h6.6v7.8h-6.6zM1957.9 243.7h8.2v7.8h-8.2zM1967.9 244.5h8.2v6.2h-8.2zM1977.9 243.7h8.2v7.8h-8.2zM1987.9 244.5h8.2v6.2h-8.2zM1996.9 244.7h10.2v5.8h-10.2zM2006.9 245.0h10.2v5.2h-10.2zM2016.9 244.7h10.2v5.8h-10.2zM2026.9 244.4h10.2v6.4h-10.2zM2038.6 242.7h6.8v9.8h-6.8zM2047.2 244.7h9.7v5.8h-9.7zM2056.7 244.6h10.7v6.0h-10.7zM2067.9 244.7h8.2v5.8h-8.2zM2076.7 244.6h10.7v6.0h-10.7zM2088.7 244.7h6.6v5.8h-6.6zM1707.8 233.6h8.3v10.7h-8.3zM1727.9 233.7h8.3v10.7h-8.3zM1747.9 233.7h8.2v10.5h-8.2zM1767.9 233.8h8.1v10.3h-8.1zM1778.4 236.1h7.2v5.8h-7.2zM1788.0 234.0h8.0v10.0h-8.0zM1798.9 235.6h6.2v6.8h-6.2zM1808.1 234.1h7.8v9.7h-7.8zM1818.4 236.4h7.2v5.2h-7.2zM1828.2 234.3h7.7v9.3h-7.7zM1838.4 236.1h7.2v5.8h-7.2zM1848.3 234.6h7.5v8.9h-7.5zM1858.4 236.4h7.2v5.2h-7.2zM1868.4 234.8h7.3v8.4h-7.3zM1877.4 236.1h9.2v5.8h-9.2zM1888.5 235.1h7.0v7.9h-7.0zM1898.9 236.1h6.2v5.8h-6.2zM1906.2 235.7h11.7v6.6h-11.7zM1918.7 235.1h6.6v7.8h-6.6zM1926.2 235.7h11.7v6.6h-11.7zM1937.9 235.9h8.2v6.2h-8.2zM1946.2 235.7h11.7v6.6h-11.7zM1957.9 235.9h8.2v6.2h-8.2zM1966.2 235.7h11.7v6.6h-11.7zM1977.9 235.9h8.2v6.2h-8.2zM1986.9 236.1h10.2v5.8h-10.2zM1998.7 236.4h6.7v5.2h-6.7zM2008.3 234.8h7.4v8.4h-7.4zM2018.7 236.4h6.7v5.2h-6.7zM2028.6 234.1h6.8v9.8h-6.8zM2038.7 236.1h6.6v5.8h-6.6zM2046.7 236.0h10.7v6.0h-10.7zM2058.7 236.1h6.6v5.8h-6.6zM2068.6 234.1h6.8v9.8h-6.8zM2077.9 236.1h8.2v5.8h-8.2zM1698.0 225.3h8.0v10.1h-8.0zM1708.4 227.8h7.2v5.2h-7.2zM1718.0 225.4h8.0v10.1h-8.0zM1727.4 227.5h9.2v5.8h-9.2zM1738.0 225.4h8.0v10.0h-8.0zM1748.9 227.8h6.2v5.2h-6.2zM1758.1 225.5h7.9v9.8h-7.9zM1768.9 227.0h6.2v6.8h-6.2zM1778.1 225.6h7.8v9.6h-7.8zM1787.4 227.8h9.2v5.2h-9.2zM1798.2 225.8h7.7v9.3h-7.7zM1808.4 227.5h7.2v5.8h-7.2zM1818.3 225.9h7.5v8.9h-7.5zM1828.4 227.0h7.2v6.8h-7.2zM1838.3 226.1h7.3v8.5h-7.3zM1847.4 227.5h9.2v5.8h-9.2zM1858.4 226.4h7.1v8.1h-7.1zM1868.9 227.0h6.2v6.8h-6.2zM1877.9 226.5h8.2v7.8h-8.2zM1887.9 227.3h8.2v6.2h-8.2zM1896.2 227.1h11.7v6.6h-11.7zM1907.9 227.3h8.2v6.2h-8.2zM1916.2 227.1h11.7v6.6h-11.7zM1927.9 227.3h8.2v6.2h-8.2zM1937.9 226.5h8.2v7.8h-8.2zM1948.7 226.5h6.6v7.8h-6.6zM1958.3 225.6h7.4v9.7h-7.4zM1967.9 227.2h8.2v6.4h-8.2zM1976.9 227.5h10.2v5.8h-10.2zM1988.7 227.5h6.7v5.8h-6.7zM1998.3 226.2h7.4v8.3h-7.4zM2008.7 227.5h6.7v5.8h-6.7zM2018.6 225.5h6.8v9.8h-6.8zM2027.2 227.5h9.7v5.8h-9.7zM2038.6 225.5h6.8v9.8h-6.8zM2058.3 226.7h7.4v7.4h-7.4zM2067.9 227.5h8.2v5.8h-8.2zM1708.1 217.1h7.7v9.5h-7.7zM1717.4 218.9h9.2v5.8h-9.2zM1728.1 217.1h7.7v9.4h-7.7zM1738.4 218.9h7.2v5.8h-7.2zM1748.2 217.2h7.6v9.2h-7.6zM1758.9 218.4h6.2v6.8h-6.2zM1768.2 217.3h7.6v9.0h-7.6zM1778.9 218.9h6.2v5.8h-6.2zM1788.3 217.4h7.4v8.8h-7.4zM1797.4 218.9h9.2v5.8h-9.2zM1808.3 217.6h7.3v8.5h-7.3zM1818.4 218.9h7.2v5.8h-7.2zM1828.4 217.7h7.1v8.1h-7.1zM1837.4 219.2h9.2v5.2h-9.2zM1846.2 218.5h11.7v6.6h-11.7zM1857.9 218.7h8.2v6.2h-8.2zM1866.2 218.5h11.7v6.6h-11.7zM1878.7 217.9h6.6v7.8h-6.6zM1887.9 217.9h8.2v7.8h-8.2zM1897.9 218.7h8.2v6.2h-8.2zM1906.2 218.5h11.7v6.6h-11.7zM1917.9 218.7h8.2v6.2h-8.2zM1926.2 218.5h11.7v6.6h-11.7zM1948.4 218.4h7.2v6.8h-7.2zM1957.9 218.9h8.2v5.8h-8.2zM1966.9 218.9h10.2v5.8h-10.2zM1978.7 219.2h6.7v5.2h-6.7zM1986.9 218.9h10.2v5.8h-10.2zM1998.7 218.6h6.7v6.4h-6.7zM2006.7 218.8h10.7v6.0h-10.7zM2017.9 218.9h8.2v5.8h-8.2zM2028.3 218.1h7.4v7.4h-7.4zM2048.3 218.1h7.4v7.4h-7.4zM1698.3 208.8h7.5v8.8h-7.5zM1707.4 209.8h9.2v6.8h-9.2zM1718.3 208.8h7.4v8.8h-7.4zM1728.9 210.3h6.2v5.8h-6.2zM1738.3 208.9h7.4v8.7h-7.4zM1748.9 210.3h6.2v5.8h-6.2zM1758.3 208.9h7.3v8.5h-7.3zM1768.9 210.6h6.2v5.2h-6.2zM1778.4 209.0h7.2v8.3h-7.2zM1787.4 209.8h9.2v6.8h-9.2zM1798.4 209.2h7.1v8.0h-7.1zM1808.9 210.6h6.2v5.2h-6.2zM1816.2 209.9h11.7v6.6h-11.7zM1827.9 210.1h8.2v6.2h-8.2zM1836.2 209.9h11.7v6.6h-11.7zM1847.9 210.1h8.2v6.2h-8.2zM1856.2 209.9h11.7v6.6h-11.7zM1867.9 210.1h8.2v6.2h-8.2zM1876.2 209.9h11.7v6.6h-11.7zM1887.9 210.1h8.2v6.2h-8.2zM1896.2 209.9h11.7v6.6h-11.7zM1907.9 210.1h8.2v6.2h-8.2zM1916.2 209.9h11.7v6.6h-11.7zM1928.7 209.3h6.6v7.8h-6.6zM1938.4 209.8h7.2v6.8h-7.2zM1948.7 210.6h6.7v5.2h-6.7zM1958.4 209.8h7.2v6.8h-7.2zM1966.9 210.3h10.2v5.8h-10.2zM1976.9 210.3h10.2v5.8h-10.2zM1988.7 210.3h6.7v5.8h-6.7zM1998.6 208.3h6.8v9.8h-6.8zM2016.7 210.2h10.7v6.0h-10.7zM2027.9 210.3h8.2v5.8h-8.2zM2038.3 209.5h7.4v7.4h-7.4zM1708.4 200.5h7.2v8.2h-7.2zM1718.9 201.2h6.2v6.8h-6.2zM1728.4 200.5h7.1v8.1h-7.1zM1737.4 202.0h9.2v5.2h-9.2zM1748.5 200.6h7.1v8.0h-7.1zM1757.4 202.0h9.2v5.2h-9.2zM1766.2 201.3h11.7v6.6h-11.7zM1777.9 201.5h8.2v6.2h-8.2zM1786.2 201.3h11.7v6.6h-11.7zM1797.9 201.5h8.2v6.2h-8.2zM1806.2 201.3h11.7v6.6h-11.7zM1818.7 200.7h6.6v7.8h-6.6zM1826.2 201.3h11.7v6.6h-11.7zM1837.9 201.5h8.2v6.2h-8.2zM1846.2 201.3h11.7v6.6h-11.7zM1857.9 201.5h8.2v6.2h-8.2zM1866.2 201.3h11.7v6.6h-11.7zM1877.9 201.5h8.2v6.2h-8.2zM1886.2 201.3h11.7v6.6h-11.7zM1897.9 201.5h8.2v6.2h-8.2zM1908.4 201.2h7.2v6.8h-7.2zM1916.9 201.4h10.2v6.4h-10.2zM1928.3 200.1h7.4v9.1h-7.4zM1936.9 202.0h10.2v5.2h-10.2zM1946.9 201.7h10.2v5.8h-10.2zM1957.9 202.0h8.2v5.2h-8.2zM1968.3 200.7h7.4v7.8h-7.4zM1977.9 201.4h8.2v6.4h-8.2zM1986.7 201.6h10.7v6.0h-10.7zM2006.7 201.6h10.7v6.0h-10.7zM2026.7 201.6h10.7v6.0h-10.7zM1697.9 192.1h8.2v7.8h-8.2zM1707.9 192.9h8.2v6.2h-8.2zM1716.2 192.7h11.7v6.6h-11.7zM1727.9 192.9h8.2v6.2h-8.2zM1736.2 192.7h11.7v6.6h-11.7zM1757.9 192.1h8.2v7.8h-8.2zM1767.9 192.9h8.2v6.2h-8.2zM1776.2 192.7h11.7v6.6h-11.7zM1797.9 192.1h8.2v7.8h-8.2zM1808.7 192.1h6.6v7.8h-6.6zM1817.9 192.1h8.2v7.8h-8.2zM1827.9 192.9h8.2v6.2h-8.2zM1836.2 192.7h11.7v6.6h-11.7zM1848.7 192.1h6.6v7.8h-6.6zM1856.2 192.7h11.7v6.6h-11.7zM1868.7 192.1h6.6v7.8h-6.6zM1876.2 192.7h11.7v6.6h-11.7zM1887.9 192.9h8.2v6.2h-8.2zM1896.9 193.1h10.2v5.8h-10.2zM1908.7 193.4h6.7v5.2h-6.7zM1916.9 193.1h10.2v5.8h-10.2zM1928.7 193.4h6.7v5.2h-6.7zM1936.9 193.1h10.2v5.8h-10.2zM1947.9 193.1h8.2v5.8h-8.2zM1958.3 192.3h7.4v7.4h-7.4zM1967.9 193.1h8.2v5.8h-8.2zM1976.7 193.0h10.7v6.0h-10.7zM1998.3 192.3h7.4v7.4h-7.4zM2008.7 193.1h6.6v5.8h-6.6zM1706.2 184.1h11.7v6.6h-11.7zM1718.7 183.5h6.6v7.8h-6.6zM1726.2 184.1h11.7v6.6h-11.7zM1738.7 183.5h6.6v7.8h-6.6zM1747.9 183.5h8.2v7.8h-8.2zM1757.9 184.3h8.2v6.2h-8.2zM1766.2 184.1h11.7v6.6h-11.7zM1777.9 184.3h8.2v6.2h-8.2zM1787.9 183.5h8.2v7.8h-8.2zM1797.9 184.3h8.2v6.2h-8.2zM1806.2 184.1h11.7v6.6h-11.7zM1817.9 184.3h8.2v6.2h-8.2zM1826.2 184.1h11.7v6.6h-11.7zM1837.9 184.3h8.2v6.2h-8.2zM1846.2 184.1h11.7v6.6h-11.7zM1858.7 183.5h6.6v7.8h-6.6zM1868.3 182.7h7.4v9.5h-7.4zM1877.9 184.2h8.2v6.4h-8.2zM1886.9 184.5h10.2v5.8h-10.2zM1897.9 184.5h8.2v5.8h-8.2zM1908.3 183.1h7.4v8.5h-7.4zM1918.7 184.8h6.7v5.2h-6.7zM1926.9 184.5h10.2v5.8h-10.2zM1938.7 184.8h6.7v5.2h-6.7zM1948.6 182.5h6.8v9.8h-6.8zM1966.7 184.4h10.7v6.0h-10.7zM1986.7 184.4h10.7v6.0h-10.7zM1696.2 175.5h11.7v6.6h-11.7zM1707.9 175.7h8.2v6.2h-8.2zM1716.2 175.5h11.7v6.6h-11.7zM1727.9 175.7h8.2v6.2h-8.2zM1736.2 175.5h11.7v6.6h-11.7zM1747.9 175.7h8.2v6.2h-8.2zM1756.2 175.5h11.7v6.6h-11.7zM1767.9 175.7h8.2v6.2h-8.2zM1777.9 174.9h8.2v7.8h-8.2zM1787.9 175.7h8.2v6.2h-8.2zM1796.2 175.5h11.7v6.6h-11.7zM1817.9 174.9h8.2v7.8h-8.2zM1827.9 175.7h8.2v6.2h-8.2zM1838.3 174.1h7.4v9.5h-7.4zM1848.7 175.9h6.7v5.8h-6.7zM1858.3 174.3h7.4v9.1h-7.4zM1866.9 175.6h10.2v6.4h-10.2zM1876.9 175.9h10.2v5.8h-10.2zM1888.7 175.6h6.7v6.4h-6.7zM1898.4 175.4h7.2v6.8h-7.2zM1908.7 175.9h6.7v5.8h-6.7zM1916.7 175.8h10.7v6.0h-10.7zM1927.9 175.9h8.2v5.8h-8.2zM1938.6 173.9h6.8v9.8h-6.8zM1956.7 175.8h10.7v6.0h-10.7zM1967.2 175.9h9.7v5.8h-9.7zM1978.6 173.9h6.8v9.8h-6.8zM1987.9 175.9h8.2v5.8h-8.2zM1706.2 166.9h11.7v6.6h-11.7zM1717.9 167.1h8.2v6.2h-8.2zM1726.2 166.9h11.7v6.6h-11.7zM1737.9 167.1h8.2v6.2h-8.2zM1746.2 166.9h11.7v6.6h-11.7zM1757.9 167.1h8.2v6.2h-8.2zM1766.2 166.9h11.7v6.6h-11.7zM1777.9 167.1h8.2v6.2h-8.2zM1786.9 167.3h10.2v5.8h-10.2zM1796.9 167.6h10.2v5.2h-10.2zM1808.4 166.8h7.2v6.8h-7.2zM1817.9 167.0h8.2v6.4h-8.2zM1826.9 167.3h10.2v5.8h-10.2zM1837.9 167.6h8.2v5.2h-8.2zM1846.9 167.3h10.2v5.8h-10.2zM1858.7 167.6h6.7v5.2h-6.7zM1868.4 166.8h7.2v6.8h-7.2zM1878.7 167.3h6.7v5.8h-6.7zM1888.4 166.8h7.2v6.8h-7.2zM1896.9 167.0h10.2v6.4h-10.2zM1908.3 166.5h7.4v7.4h-7.4zM1918.7 167.3h6.6v5.8h-6.6zM1928.6 165.3h6.8v9.8h-6.8zM1937.9 167.3h8.2v5.8h-8.2zM1948.6 165.3h6.8v9.8h-6.8zM1957.9 167.3h8.2v5.8h-8.2zM1966.7 167.2h10.7v6.0h-10.7zM1978.7 167.3h6.6v5.8h-6.6zM1698.3 156.8h7.4v9.6h-7.4zM1708.7 158.7h6.7v5.8h-6.7zM1718.3 156.8h7.4v9.5h-7.4zM1728.7 159.0h6.7v5.2h-6.7zM1736.9 158.7h10.2v5.8h-10.2zM1746.9 158.7h10.2v5.8h-10.2zM1758.3 156.9h7.4v9.3h-7.4zM1768.7 158.7h6.7v5.8h-6.7zM1776.9 158.7h10.2v5.8h-10.2zM1788.7 159.0h6.7v5.2h-6.7zM1798.3 157.1h7.4v8.9h-7.4zM1808.7 158.7h6.7v5.8h-6.7zM1818.3 157.3h7.4v8.6h-7.4zM1827.9 158.4h8.2v6.4h-8.2zM1838.4 158.2h7.2v6.8h-7.2zM1847.9 159.0h8.2v5.2h-8.2zM1856.9 158.7h10.2v5.8h-10.2zM1868.7 158.7h6.7v5.8h-6.7zM1878.3 157.9h7.4v7.4h-7.4zM1888.7 158.7h6.6v5.8h-6.6zM1896.7 158.6h10.7v6.0h-10.7zM1908.7 158.7h6.6v5.8h-6.6zM1916.7 158.6h10.7v6.0h-10.7zM1938.6 156.7h6.8v9.8h-6.8zM1708.3 148.5h7.4v8.9h-7.4zM1718.7 150.4h6.7v5.2h-6.7zM1726.9 150.1h10.2v5.8h-10.2zM1736.9 149.8h10.2v6.4h-10.2zM1748.3 148.6h7.4v8.8h-7.4zM1757.9 150.4h8.2v5.2h-8.2zM1768.3 148.7h7.4v8.6h-7.4zM1777.9 149.8h8.2v6.4h-8.2zM1788.3 148.8h7.4v8.4h-7.4zM1798.7 150.1h6.7v5.8h-6.7zM1806.9 150.1h10.2v5.8h-10.2zM1816.9 150.1h10.2v5.8h-10.2zM1828.3 149.1h7.4v7.9h-7.4zM1838.7 150.1h6.7v5.8h-6.7zM1848.6 148.1h6.8v9.8h-6.8zM1857.9 150.1h8.2v5.8h-8.2zM1866.7 150.0h10.7v6.0h-10.7zM1888.3 149.3h7.4v7.4h-7.4zM1906.7 150.0h10.7v6.0h-10.7zM1917.9 150.1h8.2v5.8h-8.2zM1926.7 150.0h10.7v6.0h-10.7zM1938.7 150.1h6.6v5.8h-6.6zM1698.3 140.2h7.4v8.3h-7.4zM1708.7 141.8h6.7v5.2h-6.7zM1718.3 140.2h7.4v8.3h-7.4zM1726.9 141.2h10.2v6.4h-10.2zM1738.3 140.3h7.4v8.2h-7.4zM1748.7 141.5h6.7v5.8h-6.7zM1758.3 140.3h7.4v8.1h-7.4zM1766.9 141.5h10.2v5.8h-10.2zM1778.3 140.4h7.4v7.9h-7.4zM1788.7 141.5h6.7v5.8h-6.7zM1798.3 140.7h7.4v7.4h-7.4zM1807.2 141.5h9.7v5.8h-9.7zM1816.7 141.4h10.7v6.0h-10.7zM1827.2 141.5h9.7v5.8h-9.7zM1838.6 139.5h6.8v9.8h-6.8zM1847.9 141.5h8.2v5.8h-8.2zM1858.6 139.5h6.8v9.8h-6.8zM1867.9 141.5h8.2v5.8h-8.2zM1878.6 139.5h6.8v9.8h-6.8zM1887.2 141.5h9.7v5.8h-9.7zM1896.7 141.4h10.7v6.0h-10.7zM1708.6 130.9h6.8v9.8h-6.8zM1728.3 132.1h7.4v7.4h-7.4zM1737.2 132.9h9.7v5.8h-9.7zM1746.7 132.8h10.7v6.0h-10.7zM1766.7 132.8h10.7v6.0h-10.7zM1777.2 132.9h9.7v5.8h-9.7zM1786.7 132.8h10.7v6.0h-10.7zM1797.9 132.9h8.2v5.8h-8.2zM1806.7 132.8h10.7v6.0h-10.7zM1817.9 132.9h8.2v5.8h-8.2zM1826.7 132.8h10.7v6.0h-10.7zM1846.7 132.8h10.7v6.0h-10.7zM1868.3 132.1h7.4v7.4h-7.4zM1698.3 123.5h7.4v7.4h-7.4zM1707.2 124.3h9.7v5.8h-9.7zM1718.3 123.5h7.4v7.4h-7.4zM1738.6 122.3h6.8v9.8h-6.8zM1747.9 124.3h8.2v5.8h-8.2zM1756.7 124.2h10.7v6.0h-10.7zM1767.2 124.3h9.7v5.8h-9.7zM1776.7 124.2h10.7v6.0h-10.7zM1796.7 124.2h10.7v6.0h-10.7zM1818.6 122.3h6.8v9.8h-6.8zM1827.9 124.3h8.2v5.8h-8.2zM1836.7 124.2h10.7v6.0h-10.7zM1708.3 114.9h7.4v7.4h-7.4zM1726.7 115.6h10.7v6.0h-10.7zM1737.9 115.7h8.2v5.8h-8.2zM1748.3 114.9h7.4v7.4h-7.4zM1757.9 115.7h8.2v5.8h-8.2zM1766.7 115.6h10.7v6.0h-10.7zM1778.7 115.7h6.6v5.8h-6.6zM1786.7 115.6h10.7v6.0h-10.7zM1797.2 115.7h9.7v5.8h-9.7zM1808.3 114.9h7.4v7.4h-7.4zM1817.9 115.7h8.2v5.8h-8.2z" fill="#a9c4e6" opacity="0.7"/><path d="M2029.5 538.3h5.0v3.4h-5.0zM2050.3 537.5h3.4v5.0h-3.4zM2090.0 538.8h4.0v2.4h-4.0zM2109.0 538.0h6.0v4.0h-6.0zM2137.8 538.1h8.5v3.8h-8.5zM2149.5 538.3h5.0v3.4h-5.0zM2188.5 538.8h7.0v2.4h-7.0zM2209.5 538.5h5.0v3.0h-5.0zM2229.5 538.5h5.0v3.0h-5.0zM2099.0 530.2h6.0v2.4h-6.0zM2120.5 529.9h3.0v3.0h-3.0zM2139.5 529.7h5.0v3.4h-5.0zM2159.5 529.7h5.0v3.4h-5.0zM2199.5 530.2h5.0v2.4h-5.0zM2009.5 521.1h5.0v3.4h-5.0zM2019.5 520.3h5.0v5.0h-5.0zM2090.5 521.6h3.0v2.4h-3.0zM2109.0 520.8h6.0v4.0h-6.0zM2117.8 520.9h8.5v3.8h-8.5zM2129.5 521.1h5.0v3.4h-5.0zM2149.5 521.1h5.0v3.4h-5.0zM2170.2 521.0h3.5v3.6h-3.5zM2178.5 521.3h7.0v3.0h-7.0zM2218.2 521.2h7.5v3.2h-7.5zM1989.5 511.7h5.0v5.0h-5.0zM2019.5 512.5h5.0v3.4h-5.0zM2027.8 512.3h8.5v3.8h-8.5zM2039.5 512.5h5.0v3.4h-5.0zM2099.0 512.2h6.0v4.0h-6.0zM2120.0 512.2h4.0v4.0h-4.0zM2169.9 511.0h4.2v6.4h-4.2zM2180.2 512.4h3.5v3.6h-3.5zM2200.2 513.0h3.5v2.4h-3.5zM2219.5 512.7h5.0v3.0h-5.0zM2049.5 503.9h5.0v3.4h-5.0zM2089.0 503.6h6.0v4.0h-6.0zM2110.5 503.6h3.0v4.0h-3.0zM2117.8 503.7h8.5v3.8h-8.5zM2129.5 503.9h5.0v3.4h-5.0zM2150.3 503.1h3.4v5.0h-3.4zM2160.0 503.6h4.0v4.0h-4.0zM2170.2 503.8h3.5v3.6h-3.5zM2190.2 504.1h3.5v3.0h-3.5zM2208.8 504.1h6.5v3.0h-6.5zM2218.2 504.0h7.5v3.2h-7.5zM2009.5 494.5h5.0v5.0h-5.0zM2020.3 494.5h3.4v5.0h-3.4zM2120.0 495.5h4.0v3.0h-4.0zM2140.3 494.5h3.4v5.0h-3.4zM2180.2 495.8h3.5v2.4h-3.5zM2188.5 495.5h7.0v3.0h-7.0zM2200.2 495.8h3.5v2.4h-3.5zM2090.0 486.4h4.0v4.0h-4.0zM2109.0 486.9h6.0v3.0h-6.0zM2158.5 486.9h7.0v3.0h-7.0zM2190.2 486.6h3.5v3.6h-3.5zM2218.2 486.8h7.5v3.2h-7.5zM2229.5 486.9h5.0v3.0h-5.0zM1999.5 478.1h5.0v3.4h-5.0zM2079.0 478.6h6.0v2.4h-6.0zM2099.0 478.3h6.0v3.0h-6.0zM2178.5 478.0h7.0v3.6h-7.0zM2199.5 478.3h5.0v3.0h-5.0zM2009.5 469.5h5.0v3.4h-5.0zM2019.5 468.7h5.0v5.0h-5.0zM2030.3 468.7h3.4v5.0h-3.4zM2110.5 469.7h3.0v3.0h-3.0zM2159.9 467.9h4.2v6.5h-4.2zM2168.5 469.4h7.0v3.6h-7.0zM2208.8 469.7h6.5v3.0h-6.5zM2228.8 469.7h6.5v3.0h-6.5zM1987.8 460.7h8.5v3.8h-8.5zM1999.5 460.9h5.0v3.4h-5.0zM2007.8 460.7h8.5v3.8h-8.5zM2079.0 460.6h6.0v4.0h-6.0zM2100.5 460.6h3.0v4.0h-3.0zM2159.5 460.8h5.0v3.6h-5.0zM2190.2 459.1h3.6v7.0h-3.6zM2029.5 452.3h5.0v3.4h-5.0zM2070.5 452.0h3.0v4.0h-3.0zM2090.5 452.0h3.0v4.0h-3.0zM2109.0 452.0h6.0v4.0h-6.0zM2130.3 451.5h3.4v5.0h-3.4zM2170.2 452.8h3.5v2.4h-3.5zM2189.5 452.5h5.0v3.0h-5.0zM2200.2 450.5h3.6v7.0h-3.6zM1980.3 442.9h3.4v5.0h-3.4zM2009.5 442.9h5.0v5.0h-5.0zM2100.5 443.9h3.0v3.0h-3.0zM2160.2 443.6h3.5v3.6h-3.5zM2170.0 443.4h4.0v4.0h-4.0zM2180.2 443.9h3.5v3.0h-3.5zM2199.5 443.9h5.0v3.0h-5.0zM2219.5 443.9h5.0v3.0h-5.0zM1990.3 434.3h3.4v5.0h-3.4zM2069.0 435.3h6.0v3.0h-6.0zM2090.5 434.8h3.0v4.0h-3.0zM2109.5 435.1h5.0v3.4h-5.0zM2119.5 434.3h5.0v5.0h-5.0zM2149.5 435.1h5.0v3.4h-5.0zM2159.9 433.8h4.2v6.0h-4.2zM2170.2 435.0h3.5v3.6h-3.5zM2200.2 433.3h3.6v7.0h-3.6zM2208.8 435.3h6.5v3.0h-6.5zM1979.5 426.5h5.0v3.4h-5.0zM1999.5 426.5h5.0v3.4h-5.0zM2019.5 426.5h5.0v3.4h-5.0zM2060.5 426.7h3.0v3.0h-3.0zM2099.0 426.7h6.0v3.0h-6.0zM2140.3 425.7h3.4v5.0h-3.4zM2158.5 426.4h7.0v3.6h-7.0zM2170.0 426.2h4.0v4.0h-4.0zM2180.2 426.7h3.5v3.0h-3.5zM2218.8 426.7h6.5v3.0h-6.5zM1969.5 417.9h5.0v3.4h-5.0zM1990.3 417.1h3.4v5.0h-3.4zM2069.0 418.1h6.0v3.0h-6.0zM2090.0 417.6h4.0v4.0h-4.0zM2139.9 416.2h4.2v6.7h-4.2zM2148.5 418.1h7.0v3.0h-7.0zM2160.0 417.6h4.0v4.0h-4.0zM2168.5 418.4h7.0v2.4h-7.0zM2178.2 418.0h7.5v3.2h-7.5zM2198.2 418.0h7.5v3.2h-7.5zM1999.5 409.3h5.0v3.4h-5.0zM2080.0 409.5h4.0v3.0h-4.0zM2109.5 408.5h5.0v5.0h-5.0zM2139.5 409.3h5.0v3.4h-5.0zM2158.5 409.8h7.0v2.4h-7.0zM2169.9 408.7h4.2v4.6h-4.2zM2178.8 409.5h6.5v3.0h-6.5zM2199.5 409.5h5.0v3.0h-5.0zM1950.3 399.9h3.4v5.0h-3.4zM2069.0 400.9h6.0v3.0h-6.0zM2089.0 401.2h6.0v2.4h-6.0zM2097.8 400.5h8.5v3.8h-8.5zM2117.8 400.5h8.5v3.8h-8.5zM2138.5 400.9h7.0v3.0h-7.0zM2150.2 401.2h3.5v2.4h-3.5zM2168.5 400.9h7.0v3.0h-7.0zM2210.3 400.9h3.4v3.0h-3.4zM2079.0 391.8h6.0v4.0h-6.0zM2099.5 392.1h5.0v3.4h-5.0zM2130.0 391.8h4.0v4.0h-4.0zM2140.2 392.0h3.5v3.6h-3.5zM2149.9 391.0h4.2v5.5h-4.2zM2159.5 392.6h5.0v2.4h-5.0zM2190.2 390.3h3.6v7.0h-3.6zM1930.3 382.7h3.4v5.0h-3.4zM2050.0 383.2h4.0v4.0h-4.0zM2128.5 383.7h7.0v3.0h-7.0zM2148.5 383.7h7.0v3.0h-7.0zM2160.2 381.7h3.6v7.0h-3.6zM2178.2 383.6h7.5v3.2h-7.5zM1939.5 374.9h5.0v3.4h-5.0zM2040.0 374.6h4.0v4.0h-4.0zM2139.5 375.4h5.0v2.4h-5.0zM2149.9 374.1h4.2v5.0h-4.2zM2159.5 375.1h5.0v3.0h-5.0zM1919.5 365.5h5.0v5.0h-5.0zM1937.8 366.1h8.5v3.8h-8.5zM1949.5 366.3h5.0v3.4h-5.0zM1969.5 366.3h5.0v3.4h-5.0zM2057.8 366.1h8.5v3.8h-8.5zM2077.8 366.1h8.5v3.8h-8.5zM2089.5 366.3h5.0v3.4h-5.0zM2109.5 366.3h5.0v3.4h-5.0zM2129.5 366.5h5.0v3.0h-5.0zM2189.5 366.5h5.0v3.0h-5.0zM1907.8 357.5h8.5v3.8h-8.5zM1940.3 356.9h3.4v5.0h-3.4zM1959.5 357.7h5.0v3.4h-5.0zM2040.0 358.2h4.0v2.4h-4.0zM2059.0 358.2h6.0v2.4h-6.0zM2080.3 356.9h3.4v5.0h-3.4zM2089.5 356.9h5.0v5.0h-5.0zM2099.5 357.7h5.0v3.4h-5.0zM2120.2 358.2h3.5v2.4h-3.5zM2140.2 358.2h3.5v2.4h-3.5zM2148.2 357.8h7.5v3.2h-7.5zM2160.3 357.9h3.4v3.0h-3.4zM1930.3 348.3h3.4v5.0h-3.4zM1950.3 348.3h3.4v5.0h-3.4zM2010.0 349.6h4.0v2.4h-4.0zM2118.5 349.3h7.0v3.0h-7.0zM2130.2 349.6h3.5v2.4h-3.5zM2149.5 349.3h5.0v3.0h-5.0zM2160.2 347.3h3.6v7.0h-3.6zM1879.5 340.5h5.0v3.4h-5.0zM1889.5 339.7h5.0v5.0h-5.0zM1907.8 340.3h8.5v3.8h-8.5zM2000.0 341.0h4.0v2.4h-4.0zM2019.0 341.0h6.0v2.4h-6.0zM2088.5 340.7h7.0v3.0h-7.0zM2099.5 340.7h5.0v3.0h-5.0zM2108.5 340.7h7.0v3.0h-7.0zM2119.5 341.0h5.0v2.4h-5.0zM2128.2 340.6h7.5v3.2h-7.5zM1849.5 331.9h5.0v3.4h-5.0zM1917.8 331.7h8.5v3.8h-8.5zM1990.0 331.6h4.0v4.0h-4.0zM2010.0 332.4h4.0v2.4h-4.0zM2069.5 331.9h5.0v3.4h-5.0zM2089.5 331.9h5.0v3.4h-5.0zM2110.2 331.8h3.5v3.6h-3.5zM2119.9 331.0h4.2v5.1h-4.2zM2150.3 332.1h3.4v3.0h-3.4zM1849.5 322.5h5.0v5.0h-5.0zM1859.5 323.3h5.0v3.4h-5.0zM1867.8 323.1h8.5v3.8h-8.5zM1907.8 323.1h8.5v3.8h-8.5zM1980.0 323.5h4.0v3.0h-4.0zM2000.0 323.8h4.0v2.4h-4.0zM2019.0 323.8h6.0v2.4h-6.0zM2039.5 323.3h5.0v3.4h-5.0zM2079.5 323.3h5.0v3.4h-5.0zM2088.5 323.5h7.0v3.0h-7.0zM2119.5 323.5h5.0v3.0h-5.0zM2148.2 323.4h7.5v3.2h-7.5zM2158.8 323.5h6.5v3.0h-6.5zM1809.5 314.7h5.0v3.4h-5.0zM1857.8 314.5h8.5v3.8h-8.5zM1909.5 314.7h5.0v3.4h-5.0zM1970.5 315.2h3.0v2.4h-3.0zM1989.0 314.4h6.0v4.0h-6.0zM2037.8 314.5h8.5v3.8h-8.5zM2069.5 314.7h5.0v3.4h-5.0zM2110.2 315.2h3.5v2.4h-3.5zM2149.5 314.9h5.0v3.0h-5.0zM1779.5 306.1h5.0v3.4h-5.0zM1789.5 305.3h5.0v5.0h-5.0zM1847.8 305.9h8.5v3.8h-8.5zM1880.3 305.3h3.4v5.0h-3.4zM1979.0 305.8h6.0v4.0h-6.0zM2000.0 305.8h4.0v4.0h-4.0zM2019.5 306.1h5.0v3.4h-5.0zM2070.0 305.8h4.0v4.0h-4.0zM2078.5 306.6h7.0v2.4h-7.0zM2100.2 306.6h3.5v2.4h-3.5zM2110.2 304.3h3.6v7.0h-3.6zM2119.5 306.3h5.0v3.0h-5.0zM1710.3 296.7h3.4v5.0h-3.4zM1729.5 297.5h5.0v3.4h-5.0zM1829.5 297.5h5.0v3.4h-5.0zM1950.0 297.7h4.0v3.0h-4.0zM1969.0 297.2h6.0v4.0h-6.0zM1990.0 298.0h4.0v2.4h-4.0zM1997.8 297.3h8.5v3.8h-8.5zM2049.5 297.5h5.0v3.4h-5.0zM2119.9 296.9h4.2v4.6h-4.2zM2130.3 297.7h3.4v3.0h-3.4zM1719.5 288.9h5.0v3.4h-5.0zM1759.5 288.9h5.0v3.4h-5.0zM1799.5 288.9h5.0v3.4h-5.0zM1939.0 288.6h6.0v4.0h-6.0zM1960.5 289.1h3.0v3.0h-3.0zM1979.0 289.1h6.0v3.0h-6.0zM1999.5 288.9h5.0v3.4h-5.0zM2019.5 288.9h5.0v3.4h-5.0zM2049.9 287.3h4.2v6.6h-4.2zM2068.5 289.1h7.0v3.0h-7.0zM1697.8 280.1h8.5v3.8h-8.5zM1709.5 280.3h5.0v3.4h-5.0zM1769.5 280.3h5.0v3.4h-5.0zM1790.3 279.5h3.4v5.0h-3.4zM1830.3 279.5h3.4v5.0h-3.4zM1910.0 280.5h4.0v3.0h-4.0zM1950.0 280.8h4.0v2.4h-4.0zM1970.5 280.8h3.0v2.4h-3.0zM2030.3 279.5h3.4v5.0h-3.4zM2039.9 278.7h4.2v6.6h-4.2zM2048.5 280.8h7.0v2.4h-7.0zM2070.2 280.8h3.5v2.4h-3.5zM2089.5 280.5h5.0v3.0h-5.0zM2110.3 280.5h3.4v3.0h-3.4zM2029.9 270.1h4.2v6.6h-4.2zM2039.5 271.6h5.0v3.6h-5.0zM2060.2 272.2h3.5v2.4h-3.5zM2090.2 269.9h3.6v7.0h-3.6zM2110.2 269.9h3.6v7.0h-3.6zM1749.5 263.1h5.0v3.4h-5.0zM1870.5 263.6h3.0v2.4h-3.0zM1890.5 263.3h3.0v3.0h-3.0zM1930.0 263.3h4.0v3.0h-4.0zM1950.0 263.6h4.0v2.4h-4.0zM1957.8 262.9h8.5v3.8h-8.5zM1977.8 262.9h8.5v3.8h-8.5zM2018.5 263.3h7.0v3.0h-7.0zM2028.5 263.3h7.0v3.0h-7.0zM2048.5 263.3h7.0v3.0h-7.0zM2098.2 263.2h7.5v3.2h-7.5zM1860.0 254.7h4.0v3.0h-4.0zM1879.0 254.7h6.0v3.0h-6.0zM1920.5 254.7h3.0v3.0h-3.0zM1969.5 253.7h5.0v5.0h-5.0zM2020.2 254.7h3.5v3.0h-3.5zM2039.5 254.4h5.0v3.6h-5.0zM2048.2 254.6h7.5v3.2h-7.5zM2068.2 254.6h7.5v3.2h-7.5zM2078.8 254.7h6.5v3.0h-6.5zM2088.2 254.6h7.5v3.2h-7.5zM2100.3 254.7h3.4v3.0h-3.4zM1810.5 246.4h3.0v2.4h-3.0zM1830.0 246.4h4.0v2.4h-4.0zM1850.5 246.1h3.0v3.0h-3.0zM1870.0 246.4h4.0v2.4h-4.0zM1889.0 246.4h6.0v2.4h-6.0zM1910.5 246.1h3.0v3.0h-3.0zM1959.5 245.1h5.0v5.0h-5.0zM1989.5 245.9h5.0v3.4h-5.0zM2008.5 246.4h7.0v2.4h-7.0zM2028.5 245.8h7.0v3.6h-7.0zM2069.5 246.1h5.0v3.0h-5.0zM2090.3 246.1h3.4v3.0h-3.4zM1780.0 237.5h4.0v3.0h-4.0zM1800.5 237.0h3.0v4.0h-3.0zM1820.0 237.8h4.0v2.4h-4.0zM1879.0 237.5h6.0v3.0h-6.0zM1900.5 237.5h3.0v3.0h-3.0zM1920.3 236.5h3.4v5.0h-3.4zM1927.8 237.1h8.5v3.8h-8.5zM1939.5 237.3h5.0v3.4h-5.0zM1947.8 237.1h8.5v3.8h-8.5zM2000.2 237.8h3.5v2.4h-3.5zM2070.2 235.5h3.6v7.0h-3.6zM2079.5 237.5h5.0v3.0h-5.0zM1789.0 229.2h6.0v2.4h-6.0zM1810.0 228.9h4.0v3.0h-4.0zM1830.0 228.4h4.0v4.0h-4.0zM1870.5 228.4h3.0v4.0h-3.0zM1879.5 227.9h5.0v5.0h-5.0zM1889.5 228.7h5.0v3.4h-5.0zM1917.8 228.5h8.5v3.8h-8.5zM1929.5 228.7h5.0v3.4h-5.0zM1950.3 227.9h3.4v5.0h-3.4zM1959.9 227.0h4.2v6.9h-4.2zM1969.5 228.6h5.0v3.6h-5.0zM1990.2 228.9h3.5v3.0h-3.5zM2010.2 228.9h3.5v3.0h-3.5zM2028.8 228.9h6.5v3.0h-6.5zM2040.2 226.9h3.6v7.0h-3.6zM2069.5 228.9h5.0v3.0h-5.0zM1780.5 220.3h3.0v3.0h-3.0zM1799.0 220.3h6.0v3.0h-6.0zM1820.0 220.3h4.0v3.0h-4.0zM1839.0 220.6h6.0v2.4h-6.0zM1859.5 220.1h5.0v3.4h-5.0zM1880.3 219.3h3.4v5.0h-3.4zM1919.5 220.1h5.0v3.4h-5.0zM2019.5 220.3h5.0v3.0h-5.0zM2029.9 219.5h4.2v4.6h-4.2zM1709.0 211.2h6.0v4.0h-6.0zM1730.5 211.7h3.0v3.0h-3.0zM1770.5 212.0h3.0v2.4h-3.0zM1789.0 211.2h6.0v4.0h-6.0zM1810.5 212.0h3.0v2.4h-3.0zM1817.8 211.3h8.5v3.8h-8.5zM1829.5 211.5h5.0v3.4h-5.0zM1869.5 211.5h5.0v3.4h-5.0zM1940.0 211.2h4.0v4.0h-4.0zM1950.2 212.0h3.5v2.4h-3.5zM1968.5 211.7h7.0v3.0h-7.0zM1978.5 211.7h7.0v3.0h-7.0zM1990.2 211.7h3.5v3.0h-3.5zM2029.5 211.7h5.0v3.0h-5.0zM1739.0 203.4h6.0v2.4h-6.0zM1759.0 203.4h6.0v2.4h-6.0zM1779.5 202.9h5.0v3.4h-5.0zM1807.8 202.7h8.5v3.8h-8.5zM1820.3 202.1h3.4v5.0h-3.4zM1839.5 202.9h5.0v3.4h-5.0zM1879.5 202.9h5.0v3.4h-5.0zM1910.0 202.6h4.0v4.0h-4.0zM1918.5 202.8h7.0v3.6h-7.0zM1938.5 203.4h7.0v2.4h-7.0zM1988.2 203.0h7.5v3.2h-7.5zM1737.8 194.1h8.5v3.8h-8.5zM1799.5 193.5h5.0v5.0h-5.0zM1850.3 193.5h3.4v5.0h-3.4zM1877.8 194.1h8.5v3.8h-8.5zM1910.2 194.8h3.5v2.4h-3.5zM1938.5 194.5h7.0v3.0h-7.0zM1949.5 194.5h5.0v3.0h-5.0zM1969.5 194.5h5.0v3.0h-5.0zM1740.3 184.9h3.4v5.0h-3.4zM1779.5 185.7h5.0v3.4h-5.0zM1799.5 185.7h5.0v3.4h-5.0zM1819.5 185.7h5.0v3.4h-5.0zM1839.5 185.7h5.0v3.4h-5.0zM1879.5 185.6h5.0v3.6h-5.0zM1888.5 185.9h7.0v3.0h-7.0zM1928.5 185.9h7.0v3.0h-7.0zM1940.2 186.2h3.5v2.4h-3.5zM1729.5 177.1h5.0v3.4h-5.0zM1749.5 177.1h5.0v3.4h-5.0zM1850.2 177.3h3.5v3.0h-3.5zM1868.5 177.0h7.0v3.6h-7.0zM1890.2 177.0h3.5v3.6h-3.5zM1929.5 177.3h5.0v3.0h-5.0zM1940.2 175.3h3.6v7.0h-3.6zM1958.2 177.2h7.5v3.2h-7.5zM1989.5 177.3h5.0v3.0h-5.0zM1767.8 168.3h8.5v3.8h-8.5zM1779.5 168.5h5.0v3.4h-5.0zM1810.0 168.2h4.0v4.0h-4.0zM1839.5 169.0h5.0v2.4h-5.0zM1860.2 169.0h3.5v2.4h-3.5zM1880.2 168.7h3.5v3.0h-3.5zM1909.9 167.9h4.2v4.6h-4.2zM1930.2 166.7h3.6v7.0h-3.6zM1939.5 168.7h5.0v3.0h-5.0zM1950.2 166.7h3.6v7.0h-3.6zM1959.5 168.7h5.0v3.0h-5.0zM1699.9 158.2h4.2v6.8h-4.2zM1710.2 160.1h3.5v3.0h-3.5zM1730.2 160.4h3.5v2.4h-3.5zM1748.5 160.1h7.0v3.0h-7.0zM1770.2 160.1h3.5v3.0h-3.5zM1778.5 160.1h7.0v3.0h-7.0zM1790.2 160.4h3.5v2.4h-3.5zM1810.2 160.1h3.5v3.0h-3.5zM1829.5 159.8h5.0v3.6h-5.0zM1849.5 160.4h5.0v2.4h-5.0zM1858.5 160.1h7.0v3.0h-7.0zM1890.3 160.1h3.4v3.0h-3.4zM1910.3 160.1h3.4v3.0h-3.4zM1940.2 158.1h3.6v7.0h-3.6zM1720.2 151.8h3.5v2.4h-3.5zM1728.5 151.5h7.0v3.0h-7.0zM1738.5 151.2h7.0v3.6h-7.0zM1749.9 150.0h4.2v6.0h-4.2zM1769.9 150.1h4.2v5.8h-4.2zM1779.5 151.2h5.0v3.6h-5.0zM1789.9 150.2h4.2v5.6h-4.2zM1800.2 151.5h3.5v3.0h-3.5zM1829.9 150.5h4.2v5.1h-4.2zM1908.2 151.4h7.5v3.2h-7.5zM1940.3 151.5h3.4v3.0h-3.4zM1710.2 143.2h3.5v2.4h-3.5zM1728.5 142.6h7.0v3.6h-7.0zM1768.5 142.9h7.0v3.0h-7.0zM1790.2 142.9h3.5v3.0h-3.5zM1808.8 142.9h6.5v3.0h-6.5zM1840.2 140.9h3.6v7.0h-3.6zM1860.2 140.9h3.6v7.0h-3.6zM1869.5 142.9h5.0v3.0h-5.0zM1880.2 140.9h3.6v7.0h-3.6zM1888.8 142.9h6.5v3.0h-6.5zM1898.2 142.8h7.5v3.2h-7.5zM1738.8 134.3h6.5v3.0h-6.5zM1768.2 134.2h7.5v3.2h-7.5zM1778.8 134.3h6.5v3.0h-6.5zM1819.5 134.3h5.0v3.0h-5.0zM1828.2 134.2h7.5v3.2h-7.5zM1749.5 125.7h5.0v3.0h-5.0zM1820.2 123.7h3.6v7.0h-3.6zM1838.2 125.6h7.5v3.2h-7.5z" fill="#5a7ac2"/><path d="M1697.8 537.5h8.5v5.0h-8.5zM1717.8 537.5h8.5v5.0h-8.5zM1737.8 537.5h8.5v5.0h-8.5zM1757.8 537.5h8.5v5.0h-8.5zM1777.8 537.5h8.5v5.0h-8.5zM1797.8 537.5h8.5v5.0h-8.5zM1817.8 537.5h8.5v5.0h-8.5zM1838.8 534.2h6.4v11.6h-6.4zM1858.9 534.5h6.2v10.9h-6.2zM1879.1 534.9h5.9v10.2h-5.9zM1899.2 535.2h5.6v9.6h-5.6zM1919.3 535.5h5.4v8.9h-5.4zM1939.5 535.9h5.1v8.2h-5.1zM1959.6 536.2h4.8v7.6h-4.8zM1979.7 536.6h4.6v6.9h-4.6zM1997.8 538.1h8.5v3.8h-8.5zM2017.8 538.1h8.5v3.8h-8.5zM2037.8 538.1h8.5v3.8h-8.5zM2059.3 535.7h5.4v8.6h-5.4zM2079.6 536.3h4.8v7.3h-4.8zM2099.9 536.9h4.3v6.1h-4.3zM2119.5 537.5h5.0v5.0h-5.0zM2130.3 537.5h3.4v5.0h-3.4zM2157.8 538.1h8.5v3.8h-8.5zM2169.5 538.3h5.0v3.4h-5.0zM2179.9 537.1h4.2v5.9h-4.2zM2198.2 538.4h7.5v3.2h-7.5zM2219.9 537.7h4.2v4.6h-4.2zM1707.8 528.9h8.5v5.0h-8.5zM1727.8 528.9h8.5v5.0h-8.5zM1747.8 528.9h8.5v5.0h-8.5zM1767.8 528.9h8.5v5.0h-8.5zM1787.8 528.9h8.5v5.0h-8.5zM1807.8 528.9h8.5v5.0h-8.5zM1828.7 525.5h6.6v11.9h-6.6zM1848.9 525.8h6.3v11.2h-6.3zM1869.0 526.1h6.0v10.6h-6.0zM1889.1 526.5h5.8v9.9h-5.8zM1909.3 526.8h5.5v9.2h-5.5zM1929.4 527.1h5.2v8.6h-5.2zM1949.5 527.5h5.0v7.9h-5.0zM1969.7 527.8h4.7v7.2h-4.7zM1989.8 528.1h4.4v6.5h-4.4zM2007.8 529.5h8.5v3.8h-8.5zM2019.5 529.7h5.0v3.4h-5.0zM2027.8 529.5h8.5v3.8h-8.5zM2039.5 529.7h5.0v3.4h-5.0zM2049.2 526.8h5.6v9.1h-5.6zM2069.5 527.4h5.1v7.9h-5.1zM2089.7 528.0h4.6v6.7h-4.6zM2110.0 528.7h4.0v5.5h-4.0zM2129.5 528.9h5.0v5.0h-5.0zM2147.8 529.5h8.5v3.8h-8.5zM2169.9 528.2h4.2v6.4h-4.2zM2180.2 530.2h3.5v2.4h-3.5zM2189.9 528.8h4.2v5.3h-4.2zM2208.2 529.8h7.5v3.2h-7.5zM1697.8 520.3h8.5v5.0h-8.5zM1717.8 520.3h8.5v5.0h-8.5zM1737.8 520.3h8.5v5.0h-8.5zM1757.8 520.3h8.5v5.0h-8.5zM1777.8 520.3h8.5v5.0h-8.5zM1797.8 520.3h8.5v5.0h-8.5zM1817.8 520.3h8.5v5.0h-8.5zM1838.8 517.0h6.4v11.5h-6.4zM1858.9 517.4h6.1v10.8h-6.1zM1879.1 517.7h5.9v10.2h-5.9zM1899.2 518.0h5.6v9.5h-5.6zM1919.3 518.4h5.3v8.9h-5.3zM1939.5 518.7h5.1v8.2h-5.1zM1959.6 519.0h4.8v7.5h-4.8zM1979.7 519.4h4.5v6.8h-4.5zM1999.5 520.3h5.0v5.0h-5.0zM2039.5 520.3h5.0v5.0h-5.0zM2059.3 518.6h5.4v8.5h-5.4zM2079.6 519.2h4.8v7.3h-4.8zM2099.9 519.8h4.3v6.1h-4.3zM2137.8 520.9h8.5v3.8h-8.5zM2159.9 519.3h4.2v7.0h-4.2zM2188.5 521.3h7.0v3.0h-7.0zM2198.2 521.2h7.5v3.2h-7.5zM1707.8 511.7h8.5v5.0h-8.5zM1727.8 511.7h8.5v5.0h-8.5zM1747.8 511.7h8.5v5.0h-8.5zM1767.8 511.7h8.5v5.0h-8.5zM1787.8 511.7h8.5v5.0h-8.5zM1807.8 511.7h8.5v5.0h-8.5zM1828.7 508.3h6.5v11.8h-6.5zM1848.9 508.6h6.2v11.1h-6.2zM1869.0 509.0h6.0v10.5h-6.0zM1889.1 509.3h5.7v9.8h-5.7zM1909.3 509.6h5.5v9.1h-5.5zM1929.4 510.0h5.2v8.5h-5.2zM1949.5 510.3h4.9v7.8h-4.9zM1969.7 510.6h4.7v7.1h-4.7zM2000.3 511.7h3.4v5.0h-3.4zM2007.8 512.3h8.5v3.8h-8.5zM2049.2 509.7h5.6v9.0h-5.6zM2069.5 510.3h5.1v7.8h-5.1zM2089.7 510.9h4.5v6.6h-4.5zM2110.0 511.5h4.0v5.4h-4.0zM2127.8 512.3h8.5v3.8h-8.5zM2147.8 512.3h8.5v3.8h-8.5zM2160.3 511.7h3.4v5.0h-3.4zM2189.9 511.6h4.2v5.2h-4.2zM2208.2 512.6h7.5v3.2h-7.5zM1697.8 503.1h8.5v5.0h-8.5zM1717.8 503.1h8.5v5.0h-8.5zM1737.8 503.1h8.5v5.0h-8.5zM1757.8 503.1h8.5v5.0h-8.5zM1777.8 503.1h8.5v5.0h-8.5zM1797.8 503.1h8.5v5.0h-8.5zM1818.7 499.6h6.6v12.0h-6.6zM1838.8 499.9h6.3v11.3h-6.3zM1859.0 500.3h6.1v10.7h-6.1zM1879.1 500.6h5.8v10.0h-5.8zM1899.2 500.9h5.6v9.4h-5.6zM1919.4 501.2h5.3v8.7h-5.3zM1939.5 501.6h5.0v8.1h-5.0zM1959.6 501.9h4.8v7.4h-4.8zM1979.7 502.2h4.5v6.8h-4.5zM1997.8 503.7h8.5v3.8h-8.5zM2010.3 503.1h3.4v5.0h-3.4zM2019.5 503.1h5.0v5.0h-5.0zM2037.8 503.7h8.5v3.8h-8.5zM2059.4 501.4h5.3v8.4h-5.3zM2079.6 502.0h4.8v7.2h-4.8zM2099.9 502.6h4.2v5.9h-4.2zM2137.8 503.7h8.5v3.8h-8.5zM2179.9 502.7h4.2v5.7h-4.2zM2199.9 503.3h4.2v4.6h-4.2zM2229.5 504.1h5.0v3.0h-5.0zM1707.8 494.5h8.5v5.0h-8.5zM1727.8 494.5h8.5v5.0h-8.5zM1747.8 494.5h8.5v5.0h-8.5zM1767.8 494.5h8.5v5.0h-8.5zM1787.8 494.5h8.5v5.0h-8.5zM1807.8 494.5h8.5v5.0h-8.5zM1828.8 491.2h6.4v11.5h-6.4zM1848.9 491.6h6.2v10.9h-6.2zM1869.0 491.9h5.9v10.3h-5.9zM1889.2 492.2h5.7v9.6h-5.7zM1909.3 492.5h5.4v9.0h-5.4zM1929.4 492.8h5.1v8.3h-5.1zM1949.6 493.2h4.9v7.7h-4.9zM1969.7 493.5h4.6v7.0h-4.6zM1987.8 495.1h8.5v3.8h-8.5zM1999.5 495.3h5.0v3.4h-5.0zM2027.8 495.1h8.5v3.8h-8.5zM2039.5 495.3h5.0v3.4h-5.0zM2049.2 492.6h5.5v8.9h-5.5zM2069.5 493.2h5.0v7.7h-5.0zM2080.0 495.0h4.0v4.0h-4.0zM2089.8 493.8h4.5v6.5h-4.5zM2100.0 495.5h4.0v3.0h-4.0zM2110.0 494.4h3.9v5.3h-3.9zM2127.8 495.1h8.5v3.8h-8.5zM2149.5 494.5h5.0v5.0h-5.0zM2159.5 495.3h5.0v3.4h-5.0zM2169.9 493.9h4.2v6.2h-4.2zM2210.2 493.5h3.6v7.0h-3.6zM1697.8 485.9h8.5v5.0h-8.5zM1717.8 485.9h8.5v5.0h-8.5zM1737.8 485.9h8.5v5.0h-8.5zM1757.8 485.9h8.5v5.0h-8.5zM1777.8 485.9h8.5v5.0h-8.5zM1797.8 485.9h8.5v5.0h-8.5zM1818.8 482.6h6.5v11.7h-6.5zM1838.9 482.9h6.2v11.1h-6.2zM1859.0 483.2h6.0v10.5h-6.0zM1879.1 483.5h5.7v9.8h-5.7zM1899.3 483.8h5.5v9.2h-5.5zM1919.4 484.1h5.2v8.6h-5.2zM1939.5 484.4h5.0v7.9h-5.0zM1959.6 484.8h4.7v7.3h-4.7zM1979.8 485.1h4.4v6.6h-4.4zM1999.5 485.9h5.0v5.0h-5.0zM2009.5 486.7h5.0v3.4h-5.0zM2017.8 486.5h8.5v3.8h-8.5zM2029.5 486.7h5.0v3.4h-5.0zM2039.1 483.7h5.7v9.4h-5.7zM2059.4 484.3h5.2v8.2h-5.2zM2079.7 484.9h4.7v7.0h-4.7zM2099.9 485.5h4.1v5.8h-4.1zM2119.5 485.9h5.0v5.0h-5.0zM2130.3 485.9h3.4v5.0h-3.4zM2137.8 486.5h8.5v3.8h-8.5zM2150.3 485.9h3.4v5.0h-3.4zM2170.2 487.2h3.5v2.4h-3.5zM2179.9 485.6h4.2v5.6h-4.2zM2198.2 486.8h7.5v3.2h-7.5zM1707.8 477.3h8.5v5.0h-8.5zM1727.8 477.3h8.5v5.0h-8.5zM1747.8 477.3h8.5v5.0h-8.5zM1767.8 477.3h8.5v5.0h-8.5zM1787.8 477.3h8.5v5.0h-8.5zM1808.7 473.9h6.5v11.8h-6.5zM1828.9 474.2h6.3v11.2h-6.3zM1849.0 474.5h6.0v10.6h-6.0zM1869.1 474.8h5.8v10.0h-5.8zM1889.2 475.1h5.6v9.4h-5.6zM1909.3 475.4h5.3v8.8h-5.3zM1929.5 475.7h5.1v8.1h-5.1zM1949.6 476.1h4.8v7.5h-4.8zM1969.7 476.4h4.5v6.8h-4.5zM1989.5 477.3h5.0v5.0h-5.0zM2007.8 477.9h8.5v3.8h-8.5zM2019.5 478.1h5.0v3.4h-5.0zM2027.8 477.9h8.5v3.8h-8.5zM2039.5 478.1h5.0v3.4h-5.0zM2049.3 475.5h5.4v8.6h-5.4zM2069.6 476.1h4.9v7.4h-4.9zM2089.8 476.7h4.4v6.2h-4.4zM2110.1 477.3h3.8v5.0h-3.8zM2120.0 478.6h4.0v2.4h-4.0zM2129.5 477.3h5.0v5.0h-5.0zM2139.5 478.1h5.0v3.4h-5.0zM2149.5 477.3h5.0v5.0h-5.0zM2159.5 478.1h5.0v3.4h-5.0zM2169.9 476.8h4.2v6.1h-4.2zM2188.2 478.2h7.5v3.2h-7.5zM2209.9 477.5h4.2v4.6h-4.2zM1697.8 468.7h8.5v5.0h-8.5zM1717.8 468.7h8.5v5.0h-8.5zM1737.8 468.7h8.5v5.0h-8.5zM1757.8 468.7h8.5v5.0h-8.5zM1777.8 468.7h8.5v5.0h-8.5zM1798.7 465.3h6.5v11.8h-6.5zM1818.8 465.6h6.3v11.3h-6.3zM1839.0 465.8h6.1v10.7h-6.1zM1859.1 466.1h5.9v10.1h-5.9zM1879.2 466.4h5.6v9.5h-5.6zM1899.3 466.7h5.4v8.9h-5.4zM1919.4 467.0h5.1v8.3h-5.1zM1939.6 467.4h4.9v7.7h-4.9zM1959.7 467.7h4.6v7.1h-4.6zM1979.5 468.7h5.0v5.0h-5.0zM1989.5 469.5h5.0v3.4h-5.0zM1997.8 469.3h8.5v3.8h-8.5zM2039.2 466.7h5.6v9.1h-5.6zM2059.5 467.3h5.1v7.9h-5.1zM2079.7 467.8h4.6v6.7h-4.6zM2090.0 469.2h4.0v4.0h-4.0zM2100.0 468.4h4.0v5.5h-4.0zM2117.8 469.3h8.5v3.8h-8.5zM2130.3 468.7h3.4v5.0h-3.4zM2139.5 468.7h5.0v5.0h-5.0zM2178.5 469.7h7.0v3.0h-7.0zM2188.5 469.4h7.0v3.6h-7.0zM2199.9 468.9h4.2v4.6h-4.2zM2220.2 467.7h3.6v7.0h-3.6zM1707.8 460.1h8.5v5.0h-8.5zM1727.8 460.1h8.5v5.0h-8.5zM1747.8 460.1h8.5v5.0h-8.5zM1767.8 460.1h8.5v5.0h-8.5zM1788.7 456.7h6.5v11.8h-6.5zM1808.8 456.9h6.3v11.3h-6.3zM1828.9 457.2h6.1v10.8h-6.1zM1849.0 457.5h5.9v10.3h-5.9zM1869.2 457.8h5.7v9.7h-5.7zM1889.3 458.1h5.4v9.1h-5.4zM1909.4 458.4h5.2v8.5h-5.2zM1929.5 458.7h5.0v7.9h-5.0zM1949.6 459.0h4.7v7.3h-4.7zM1969.8 459.3h4.5v6.6h-4.5zM2029.1 457.9h5.8v9.5h-5.8zM2049.4 458.4h5.3v8.3h-5.3zM2069.6 459.0h4.7v7.1h-4.7zM2089.9 459.6h4.2v6.0h-4.2zM2109.5 460.1h5.0v5.0h-5.0zM2129.5 460.1h5.0v5.0h-5.0zM2139.5 460.9h5.0v3.4h-5.0zM2149.9 459.1h4.2v7.0h-4.2zM2169.9 459.7h4.2v5.8h-4.2zM2179.5 461.4h5.0v2.4h-5.0zM2200.3 461.1h3.4v3.0h-3.4zM2208.2 461.0h7.5v3.2h-7.5zM1697.8 451.5h8.5v5.0h-8.5zM1717.8 451.5h8.5v5.0h-8.5zM1737.8 451.5h8.5v5.0h-8.5zM1757.8 451.5h8.5v5.0h-8.5zM1778.7 448.1h6.5v11.8h-6.5zM1798.8 448.3h6.3v11.3h-6.3zM1818.9 448.6h6.1v10.8h-6.1zM1839.0 448.8h5.9v10.3h-5.9zM1859.1 449.1h5.7v9.8h-5.7zM1879.3 449.4h5.5v9.2h-5.5zM1899.4 449.7h5.3v8.6h-5.3zM1919.5 450.0h5.0v8.0h-5.0zM1939.6 450.3h4.8v7.4h-4.8zM1959.7 450.6h4.5v6.8h-4.5zM1977.8 452.1h8.5v3.8h-8.5zM1989.5 452.3h5.0v3.4h-5.0zM1997.8 452.1h8.5v3.8h-8.5zM2009.5 452.3h5.0v3.4h-5.0zM2017.8 452.1h8.5v3.8h-8.5zM2039.3 449.6h5.4v8.7h-5.4zM2059.5 450.2h4.9v7.5h-4.9zM2079.8 450.8h4.4v6.4h-4.4zM2100.1 451.4h3.9v5.2h-3.9zM2117.8 452.1h8.5v3.8h-8.5zM2137.8 452.1h8.5v3.8h-8.5zM2159.9 450.9h4.2v6.3h-4.2zM2179.9 451.4h4.2v5.1h-4.2zM1707.8 442.9h8.5v5.0h-8.5zM1727.8 442.9h8.5v5.0h-8.5zM1748.7 439.4h6.6v12.0h-6.6zM1768.8 439.6h6.5v11.6h-6.5zM1788.8 439.8h6.3v11.3h-6.3zM1808.9 440.0h6.1v10.8h-6.1zM1829.0 440.2h5.9v10.4h-5.9zM1849.1 440.5h5.7v9.8h-5.7zM1869.2 440.8h5.5v9.3h-5.5zM1889.4 441.0h5.3v8.7h-5.3zM1909.5 441.3h5.1v8.2h-5.1zM1929.6 441.6h4.8v7.6h-4.8zM1949.7 441.9h4.6v7.0h-4.6zM1967.8 443.5h8.5v3.8h-8.5zM1987.8 443.5h8.5v3.8h-8.5zM2019.5 443.7h5.0v3.4h-5.0zM2029.2 440.9h5.6v9.1h-5.6zM2049.4 441.4h5.1v7.9h-5.1zM2069.7 442.0h4.6v6.8h-4.6zM2079.0 443.4h6.0v4.0h-6.0zM2090.0 442.6h4.1v5.6h-4.1zM2107.8 443.5h8.5v3.8h-8.5zM2119.5 443.7h5.0v3.4h-5.0zM2127.8 443.5h8.5v3.8h-8.5zM2139.5 443.7h5.0v3.4h-5.0zM2150.0 443.4h4.0v4.0h-4.0zM2188.2 443.8h7.5v3.2h-7.5zM2209.9 443.1h4.2v4.6h-4.2zM1698.7 430.8h6.6v12.0h-6.6zM1718.7 430.8h6.6v11.9h-6.6zM1738.7 430.9h6.5v11.8h-6.5zM1758.8 431.1h6.4v11.5h-6.4zM1778.9 431.2h6.3v11.2h-6.3zM1798.9 431.4h6.1v10.8h-6.1zM1819.0 431.6h5.9v10.3h-5.9zM1839.1 431.9h5.7v9.9h-5.7zM1859.2 432.1h5.5v9.4h-5.5zM1879.3 432.4h5.3v8.8h-5.3zM1899.4 432.7h5.1v8.3h-5.1zM1919.6 433.0h4.9v7.7h-4.9zM1939.7 433.2h4.6v7.1h-4.6zM1959.8 433.5h4.4v6.5h-4.4zM1977.8 434.9h8.5v3.8h-8.5zM1999.5 434.3h5.0v5.0h-5.0zM2009.5 435.1h5.0v3.4h-5.0zM2019.1 432.1h5.8v9.4h-5.8zM2039.4 432.7h5.3v8.3h-5.3zM2059.6 433.2h4.8v7.1h-4.8zM2079.9 433.8h4.2v6.0h-4.2zM2097.8 434.9h8.5v3.8h-8.5zM2137.8 434.9h8.5v3.8h-8.5zM2179.9 434.5h4.2v4.6h-4.2zM2189.5 435.3h5.0v3.0h-5.0zM1708.8 422.4h6.4v11.6h-6.4zM1728.8 422.4h6.4v11.5h-6.4zM1748.8 422.5h6.3v11.3h-6.3zM1768.9 422.7h6.2v11.0h-6.2zM1789.0 422.9h6.1v10.7h-6.1zM1809.0 423.1h5.9v10.3h-5.9zM1829.1 423.3h5.7v9.9h-5.7zM1849.2 423.5h5.6v9.4h-5.6zM1869.3 423.8h5.3v8.9h-5.3zM1889.4 424.0h5.1v8.3h-5.1zM1909.5 424.3h4.9v7.8h-4.9zM1929.7 424.6h4.7v7.2h-4.7zM1949.8 424.9h4.5v6.6h-4.5zM1967.8 426.3h8.5v3.8h-8.5zM1987.8 426.3h8.5v3.8h-8.5zM2007.8 426.3h8.5v3.8h-8.5zM2029.3 423.9h5.4v8.6h-5.4zM2049.5 424.5h4.9v7.5h-4.9zM2069.8 425.0h4.4v6.3h-4.4zM2079.0 427.0h6.0v2.4h-6.0zM2090.1 425.6h3.9v5.2h-3.9zM2107.8 426.3h8.5v3.8h-8.5zM2119.5 426.5h5.0v3.4h-5.0zM2127.8 426.3h8.5v3.8h-8.5zM2149.9 425.0h4.2v6.3h-4.2zM2188.2 426.6h7.5v3.2h-7.5zM2208.2 426.6h7.5v3.2h-7.5zM1698.8 414.0h6.3v11.3h-6.3zM1718.9 414.0h6.3v11.2h-6.3zM1738.9 414.1h6.2v11.1h-6.2zM1758.9 414.2h6.1v10.9h-6.1zM1779.0 414.3h6.0v10.6h-6.0zM1799.1 414.5h5.9v10.2h-5.9zM1819.1 414.7h5.7v9.8h-5.7zM1839.2 414.9h5.5v9.4h-5.5zM1859.3 415.2h5.4v8.9h-5.4zM1879.4 415.4h5.2v8.4h-5.2zM1899.5 415.7h4.9v7.9h-4.9zM1919.6 415.9h4.7v7.3h-4.7zM1939.7 416.2h4.5v6.8h-4.5zM1957.8 417.7h8.5v3.8h-8.5zM1979.5 417.1h5.0v5.0h-5.0zM1999.5 417.1h5.0v5.0h-5.0zM2010.3 417.1h3.4v5.0h-3.4zM2019.2 415.2h5.5v8.9h-5.5zM2039.5 415.7h5.0v7.8h-5.0zM2059.7 416.3h4.5v6.7h-4.5zM2080.0 416.8h4.0v5.5h-4.0zM2097.8 417.7h8.5v3.8h-8.5zM2109.5 417.9h5.0v3.4h-5.0zM2117.8 417.7h8.5v3.8h-8.5zM2129.5 417.9h5.0v3.4h-5.0zM2210.3 418.1h3.4v3.0h-3.4zM1708.9 405.5h6.2v10.9h-6.2zM1728.9 405.6h6.1v10.8h-6.1zM1749.0 405.7h6.1v10.6h-6.1zM1769.0 405.8h6.0v10.4h-6.0zM1789.1 406.0h5.8v10.1h-5.8zM1809.2 406.1h5.7v9.7h-5.7zM1829.2 406.3h5.5v9.3h-5.5zM1849.3 406.6h5.4v8.9h-5.4zM1869.4 406.8h5.2v8.4h-5.2zM1889.5 407.0h5.0v7.9h-5.0zM1909.6 407.3h4.8v7.4h-4.8zM1929.7 407.6h4.5v6.8h-4.5zM1947.8 409.1h8.5v3.8h-8.5zM1959.5 409.3h5.0v3.4h-5.0zM1969.5 408.5h5.0v5.0h-5.0zM1989.5 408.5h5.0v5.0h-5.0zM2009.2 406.4h5.6v9.2h-5.6zM2029.4 407.0h5.2v8.1h-5.2zM2049.7 407.5h4.7v7.0h-4.7zM2060.0 409.0h4.0v4.0h-4.0zM2069.9 408.1h4.2v5.9h-4.2zM2087.8 409.1h8.5v3.8h-8.5zM2099.5 409.3h5.0v3.4h-5.0zM2119.5 409.3h5.0v3.4h-5.0zM2129.5 408.5h5.0v5.0h-5.0zM2149.9 408.0h4.2v6.0h-4.2zM2188.2 409.4h7.5v3.2h-7.5zM1699.0 397.1h6.0v10.6h-6.0zM1719.0 397.1h6.0v10.5h-6.0zM1739.0 397.2h6.0v10.4h-6.0zM1759.1 397.3h5.9v10.2h-5.9zM1779.1 397.4h5.8v9.9h-5.8zM1799.2 397.6h5.6v9.6h-5.6zM1819.3 397.8h5.5v9.2h-5.5zM1839.3 398.0h5.3v8.8h-5.3zM1859.4 398.2h5.2v8.4h-5.2zM1879.5 398.4h5.0v7.9h-5.0zM1899.6 398.7h4.8v7.4h-4.8zM1919.7 399.0h4.6v6.9h-4.6zM1937.8 400.5h8.5v3.8h-8.5zM1957.8 400.5h8.5v3.8h-8.5zM1970.3 399.9h3.4v5.0h-3.4zM1977.8 400.5h8.5v3.8h-8.5zM1989.5 400.7h5.0v3.4h-5.0zM1999.1 397.7h5.7v9.4h-5.7zM2019.4 398.2h5.3v8.3h-5.3zM2039.6 398.8h4.8v7.2h-4.8zM2050.0 401.2h4.0v2.4h-4.0zM2059.8 399.3h4.3v6.1h-4.3zM2080.1 399.9h3.8v5.0h-3.8zM2129.5 400.7h5.0v3.4h-5.0zM2160.0 400.4h4.0v4.0h-4.0zM2179.9 400.1h4.2v4.6h-4.2zM2198.2 400.8h7.5v3.2h-7.5zM1709.1 388.7h5.9v10.2h-5.9zM1729.1 388.7h5.8v10.1h-5.8zM1749.1 388.8h5.8v10.0h-5.8zM1769.2 388.9h5.7v9.7h-5.7zM1789.2 389.1h5.6v9.5h-5.6zM1809.3 389.2h5.5v9.1h-5.5zM1829.3 389.4h5.3v8.8h-5.3zM1849.4 389.6h5.1v8.4h-5.1zM1869.5 389.8h5.0v7.9h-5.0zM1889.6 390.1h4.8v7.4h-4.8zM1909.7 390.3h4.6v6.9h-4.6zM1927.8 391.9h8.5v3.8h-8.5zM1947.8 391.9h8.5v3.8h-8.5zM1959.5 392.1h5.0v3.4h-5.0zM1967.8 391.9h8.5v3.8h-8.5zM1989.5 391.3h5.0v5.0h-5.0zM1999.5 392.1h5.0v3.4h-5.0zM2009.3 389.5h5.4v8.5h-5.4zM2029.5 390.1h4.9v7.5h-4.9zM2040.5 392.3h3.0v3.0h-3.0zM2049.8 390.6h4.4v6.4h-4.4zM2059.0 392.3h6.0v3.0h-6.0zM2070.0 391.1h3.9v5.3h-3.9zM2087.8 391.9h8.5v3.8h-8.5zM2107.8 391.9h8.5v3.8h-8.5zM2168.2 392.2h7.5v3.2h-7.5zM2179.5 392.3h5.0v3.0h-5.0zM1699.1 380.3h5.7v9.9h-5.7zM1719.1 380.3h5.7v9.8h-5.7zM1739.2 380.3h5.7v9.7h-5.7zM1759.2 380.4h5.6v9.5h-5.6zM1779.2 380.6h5.5v9.3h-5.5zM1799.3 380.7h5.4v9.0h-5.4zM1819.4 380.9h5.3v8.7h-5.3zM1839.4 381.1h5.1v8.3h-5.1zM1859.5 381.3h4.9v7.9h-4.9zM1879.6 381.5h4.8v7.4h-4.8zM1899.7 381.7h4.6v6.9h-4.6zM1917.8 383.3h8.5v3.8h-8.5zM1937.8 383.3h8.5v3.8h-8.5zM1949.5 383.5h5.0v3.4h-5.0zM1957.8 383.3h8.5v3.8h-8.5zM1977.8 383.3h8.5v3.8h-8.5zM1989.5 383.5h5.0v3.4h-5.0zM1999.3 380.8h5.5v8.7h-5.5zM2019.5 381.4h5.0v7.7h-5.0zM2029.0 383.2h6.0v4.0h-6.0zM2039.7 381.9h4.5v6.6h-4.5zM2060.0 382.4h4.1v5.6h-4.1zM2070.5 383.7h3.0v3.0h-3.0zM2079.5 382.7h5.0v5.0h-5.0zM2090.3 382.7h3.4v5.0h-3.4zM2099.5 382.7h5.0v5.0h-5.0zM2109.5 383.5h5.0v3.4h-5.0zM2119.9 381.8h4.2v6.9h-4.2zM2139.9 382.3h4.2v5.8h-4.2zM1709.2 371.8h5.6v9.5h-5.6zM1729.2 371.9h5.6v9.4h-5.6zM1749.2 372.0h5.5v9.3h-5.5zM1769.3 372.1h5.4v9.1h-5.4zM1789.3 372.2h5.3v8.8h-5.3zM1809.4 372.3h5.2v8.5h-5.2zM1829.5 372.5h5.1v8.2h-5.1zM1849.5 372.7h4.9v7.8h-4.9zM1869.6 372.9h4.8v7.4h-4.8zM1889.7 373.1h4.6v6.9h-4.6zM1909.5 374.1h5.0v5.0h-5.0zM1919.5 374.9h5.0v3.4h-5.0zM1929.5 374.1h5.0v5.0h-5.0zM1947.8 374.7h8.5v3.8h-8.5zM1959.5 374.9h5.0v3.4h-5.0zM1967.8 374.7h8.5v3.8h-8.5zM1979.5 374.9h5.0v3.4h-5.0zM1989.2 372.2h5.5v8.9h-5.5zM2009.5 372.7h5.1v7.9h-5.1zM2029.7 373.2h4.6v6.8h-4.6zM2049.9 373.7h4.1v5.8h-4.1zM2059.0 375.1h6.0v3.0h-6.0zM2067.8 374.7h8.5v3.8h-8.5zM2087.8 374.7h8.5v3.8h-8.5zM2099.5 374.9h5.0v3.4h-5.0zM2107.8 374.7h8.5v3.8h-8.5zM2119.5 374.9h5.0v3.4h-5.0zM2130.0 374.6h4.0v4.0h-4.0zM2168.2 375.0h7.5v3.2h-7.5zM1699.3 363.4h5.5v9.2h-5.5zM1719.3 363.4h5.4v9.1h-5.4zM1739.3 363.5h5.4v9.0h-5.4zM1759.3 363.6h5.3v8.9h-5.3zM1779.4 363.7h5.3v8.6h-5.3zM1799.4 363.8h5.1v8.4h-5.1zM1819.5 364.0h5.0v8.1h-5.0zM1839.6 364.1h4.9v7.7h-4.9zM1859.6 364.3h4.7v7.3h-4.7zM1879.7 364.6h4.6v6.9h-4.6zM1897.8 366.1h8.5v3.8h-8.5zM1909.5 366.3h5.0v3.4h-5.0zM1930.3 365.5h3.4v5.0h-3.4zM1957.8 366.1h8.5v3.8h-8.5zM1979.2 363.5h5.6v9.0h-5.6zM1999.4 364.0h5.1v8.0h-5.1zM2019.7 364.5h4.7v7.0h-4.7zM2030.0 366.5h4.0v3.0h-4.0zM2039.9 365.0h4.2v6.0h-4.2zM2049.0 366.8h6.0v2.4h-6.0zM2070.3 365.5h3.4v5.0h-3.4zM2097.8 366.1h8.5v3.8h-8.5zM2119.9 364.8h4.2v6.3h-4.2zM2139.9 365.4h4.2v5.3h-4.2zM2149.5 366.2h5.0v3.6h-5.0zM2158.2 366.4h7.5v3.2h-7.5zM2169.5 366.5h5.0v3.0h-5.0zM2179.9 365.7h4.2v4.6h-4.2zM1709.3 355.0h5.3v8.8h-5.3zM1729.4 355.0h5.3v8.7h-5.3zM1749.4 355.1h5.2v8.6h-5.2zM1769.4 355.2h5.2v8.4h-5.2zM1789.5 355.3h5.1v8.2h-5.1zM1809.5 355.4h5.0v7.9h-5.0zM1829.6 355.6h4.8v7.6h-4.8zM1849.7 355.8h4.7v7.2h-4.7zM1869.7 356.0h4.5v6.8h-4.5zM1887.8 357.5h8.5v3.8h-8.5zM1899.5 357.7h5.0v3.4h-5.0zM1929.5 356.9h5.0v5.0h-5.0zM1947.8 357.5h8.5v3.8h-8.5zM1969.2 354.9h5.6v9.1h-5.6zM1989.4 355.3h5.2v8.1h-5.2zM2009.6 355.8h4.7v7.1h-4.7zM2020.0 357.4h4.0v4.0h-4.0zM2029.8 356.3h4.3v6.1h-4.3zM2050.1 356.8h3.9v5.1h-3.9zM2069.5 356.9h5.0v5.0h-5.0zM2108.5 357.9h7.0v3.0h-7.0zM2130.0 357.4h4.0v4.0h-4.0zM2170.2 355.9h3.6v7.0h-3.6zM2180.3 357.9h3.4v3.0h-3.4zM1699.4 346.6h5.2v8.5h-5.2zM1719.4 346.6h5.2v8.4h-5.2zM1739.4 346.6h5.1v8.3h-5.1zM1759.5 346.7h5.1v8.2h-5.1zM1779.5 346.8h5.0v8.0h-5.0zM1799.6 346.9h4.9v7.7h-4.9zM1819.6 347.1h4.8v7.4h-4.8zM1839.7 347.2h4.6v7.1h-4.6zM1859.8 347.4h4.5v6.7h-4.5zM1879.5 348.3h5.0v5.0h-5.0zM1889.5 349.1h5.0v3.4h-5.0zM1897.8 348.9h8.5v3.8h-8.5zM1910.3 348.3h3.4v5.0h-3.4zM1919.5 348.3h5.0v5.0h-5.0zM1937.8 348.9h8.5v3.8h-8.5zM1959.2 346.2h5.6v9.1h-5.6zM1979.4 346.7h5.2v8.2h-5.2zM1999.6 347.2h4.8v7.2h-4.8zM2019.8 347.7h4.4v6.3h-4.4zM2030.0 349.6h4.0v2.4h-4.0zM2040.0 348.2h3.9v5.3h-3.9zM2050.5 349.3h3.0v3.0h-3.0zM2059.5 348.3h5.0v5.0h-5.0zM2069.5 349.1h5.0v3.4h-5.0zM2077.8 348.9h8.5v3.8h-8.5zM2098.5 349.3h7.0v3.0h-7.0zM2110.2 349.0h3.5v3.6h-3.5zM2139.9 348.5h4.2v4.6h-4.2zM1709.5 338.2h5.0v8.1h-5.0zM1729.5 338.2h5.0v8.0h-5.0zM1749.5 338.2h5.0v7.9h-5.0zM1769.6 338.3h4.9v7.7h-4.9zM1789.6 338.4h4.8v7.5h-4.8zM1809.6 338.6h4.7v7.3h-4.7zM1829.7 338.7h4.6v7.0h-4.6zM1849.8 338.9h4.5v6.6h-4.5zM1867.8 340.3h8.5v3.8h-8.5zM1900.3 339.7h3.4v5.0h-3.4zM1927.8 340.3h8.5v3.8h-8.5zM1939.5 340.5h5.0v3.4h-5.0zM1949.2 337.6h5.6v9.1h-5.6zM1969.4 338.1h5.2v8.2h-5.2zM1989.6 338.5h4.8v7.3h-4.8zM2009.8 339.0h4.4v6.4h-4.4zM2030.0 339.5h4.0v5.4h-4.0zM2040.0 341.0h4.0v2.4h-4.0zM2049.5 339.7h5.0v5.0h-5.0zM2059.5 340.5h5.0v3.4h-5.0zM2069.5 339.7h5.0v5.0h-5.0zM2080.3 339.7h3.4v5.0h-3.4zM2148.2 340.6h7.5v3.2h-7.5zM1699.5 329.7h4.9v7.8h-4.9zM1719.6 329.7h4.9v7.7h-4.9zM1739.6 329.8h4.9v7.6h-4.9zM1759.6 329.9h4.8v7.5h-4.8zM1779.6 329.9h4.7v7.3h-4.7zM1799.7 330.1h4.6v7.1h-4.6zM1819.7 330.2h4.5v6.8h-4.5zM1839.5 331.1h5.0v5.0h-5.0zM1857.8 331.7h8.5v3.8h-8.5zM1877.8 331.7h8.5v3.8h-8.5zM1889.5 331.9h5.0v3.4h-5.0zM1897.8 331.7h8.5v3.8h-8.5zM1910.3 331.1h3.4v5.0h-3.4zM1939.2 329.1h5.6v9.1h-5.6zM1959.4 329.5h5.2v8.2h-5.2zM1979.6 329.9h4.8v7.3h-4.8zM1999.8 330.4h4.4v6.4h-4.4zM2020.0 330.9h4.0v5.5h-4.0zM2030.5 332.1h3.0v3.0h-3.0zM2039.5 331.1h5.0v5.0h-5.0zM2049.5 331.9h5.0v3.4h-5.0zM2057.8 331.7h8.5v3.8h-8.5zM2077.8 331.7h8.5v3.8h-8.5zM2098.5 332.1h7.0v3.0h-7.0zM2130.2 331.8h3.5v3.6h-3.5zM2139.9 331.3h4.2v4.6h-4.2zM2159.9 331.3h4.2v4.6h-4.2zM1709.6 321.3h4.8v7.4h-4.8zM1729.6 321.3h4.7v7.3h-4.7zM1749.7 321.4h4.7v7.2h-4.7zM1769.7 321.5h4.6v7.1h-4.6zM1789.7 321.6h4.5v6.9h-4.5zM1809.8 321.7h4.4v6.6h-4.4zM1827.8 323.1h8.5v3.8h-8.5zM1839.5 323.3h5.0v3.4h-5.0zM1889.5 322.5h5.0v5.0h-5.0zM1899.5 323.3h5.0v3.4h-5.0zM1929.2 320.5h5.6v9.0h-5.6zM1949.4 320.9h5.2v8.2h-5.2zM1969.6 321.3h4.8v7.3h-4.8zM1989.8 321.8h4.4v6.5h-4.4zM2010.0 322.2h4.0v5.5h-4.0zM2029.5 322.5h5.0v5.0h-5.0zM2049.5 322.5h5.0v5.0h-5.0zM2059.5 323.3h5.0v3.4h-5.0zM2067.8 323.1h8.5v3.8h-8.5zM2099.5 323.5h5.0v3.0h-5.0zM2109.9 322.3h4.2v5.3h-4.2zM2128.2 323.4h7.5v3.2h-7.5zM1699.7 312.9h4.6v7.0h-4.6zM1719.7 312.9h4.6v7.0h-4.6zM1739.7 312.9h4.6v6.9h-4.6zM1759.7 313.0h4.5v6.8h-4.5zM1779.8 313.1h4.5v6.6h-4.5zM1797.8 314.5h8.5v3.8h-8.5zM1817.8 314.5h8.5v3.8h-8.5zM1837.8 314.5h8.5v3.8h-8.5zM1849.5 314.7h5.0v3.4h-5.0zM1877.8 314.5h8.5v3.8h-8.5zM1889.5 314.7h5.0v3.4h-5.0zM1897.8 314.5h8.5v3.8h-8.5zM1919.2 311.9h5.5v8.9h-5.5zM1939.4 312.3h5.2v8.1h-5.2zM1959.6 312.7h4.8v7.3h-4.8zM1979.8 313.2h4.4v6.5h-4.4zM2000.0 313.6h4.1v5.6h-4.1zM2010.5 315.2h3.0v2.4h-3.0zM2019.5 313.9h5.0v5.0h-5.0zM2029.5 314.7h5.0v3.4h-5.0zM2050.3 313.9h3.4v5.0h-3.4zM2057.8 314.5h8.5v3.8h-8.5zM2080.0 314.4h4.0v4.0h-4.0zM2088.5 314.6h7.0v3.6h-7.0zM2099.9 313.7h4.2v5.5h-4.2zM2118.2 314.8h7.5v3.2h-7.5zM2139.9 314.1h4.2v4.6h-4.2zM1709.8 304.5h4.5v6.7h-4.5zM1729.8 304.5h4.5v6.6h-4.5zM1749.8 304.5h4.4v6.5h-4.4zM1769.5 305.3h5.0v5.0h-5.0zM1799.5 306.1h5.0v3.4h-5.0zM1807.8 305.9h8.5v3.8h-8.5zM1820.3 305.3h3.4v5.0h-3.4zM1827.8 305.9h8.5v3.8h-8.5zM1859.5 306.1h5.0v3.4h-5.0zM1867.8 305.9h8.5v3.8h-8.5zM1889.1 303.1h5.8v9.5h-5.8zM1909.3 303.4h5.5v8.8h-5.5zM1929.4 303.8h5.1v8.0h-5.1zM1949.6 304.2h4.8v7.2h-4.8zM1960.0 306.6h4.0v2.4h-4.0zM1969.8 304.6h4.4v6.4h-4.4zM1990.0 305.0h4.1v5.6h-4.1zM2007.8 305.9h8.5v3.8h-8.5zM2027.8 305.9h8.5v3.8h-8.5zM2039.5 306.1h5.0v3.4h-5.0zM2047.8 305.9h8.5v3.8h-8.5zM2060.3 305.3h3.4v5.0h-3.4zM2088.5 306.3h7.0v3.0h-7.0zM2130.2 304.3h3.6v7.0h-3.6zM1699.5 296.7h5.0v5.0h-5.0zM1717.8 297.3h8.5v3.8h-8.5zM1737.8 297.3h8.5v3.8h-8.5zM1759.5 296.7h5.0v5.0h-5.0zM1769.5 297.5h5.0v3.4h-5.0zM1779.5 296.7h5.0v5.0h-5.0zM1789.5 297.5h5.0v3.4h-5.0zM1799.5 296.7h5.0v5.0h-5.0zM1809.5 297.5h5.0v3.4h-5.0zM1819.5 296.7h5.0v5.0h-5.0zM1837.8 297.3h8.5v3.8h-8.5zM1850.3 296.7h3.4v5.0h-3.4zM1857.8 297.3h8.5v3.8h-8.5zM1869.5 297.5h5.0v3.4h-5.0zM1879.2 294.6h5.7v9.3h-5.7zM1899.3 294.9h5.4v8.6h-5.4zM1919.5 295.2h5.1v7.9h-5.1zM1939.6 295.6h4.8v7.2h-4.8zM1959.8 296.0h4.4v6.4h-4.4zM1980.0 296.4h4.0v5.5h-4.0zM2009.5 297.5h5.0v3.4h-5.0zM2017.8 297.3h8.5v3.8h-8.5zM2030.3 296.7h3.4v5.0h-3.4zM2037.8 297.3h8.5v3.8h-8.5zM2059.9 295.9h4.2v6.6h-4.2zM2069.5 298.0h5.0v2.4h-5.0zM2078.5 297.7h7.0v3.0h-7.0zM2090.2 297.7h3.5v3.0h-3.5zM2098.2 297.6h7.5v3.2h-7.5zM2109.5 297.7h5.0v3.0h-5.0zM1707.8 288.7h8.5v3.8h-8.5zM1727.8 288.7h8.5v3.8h-8.5zM1740.3 288.1h3.4v5.0h-3.4zM1747.8 288.7h8.5v3.8h-8.5zM1769.5 288.1h5.0v5.0h-5.0zM1779.5 288.9h5.0v3.4h-5.0zM1787.8 288.7h8.5v3.8h-8.5zM1807.8 288.7h8.5v3.8h-8.5zM1819.5 288.9h5.0v3.4h-5.0zM1829.5 288.1h5.0v5.0h-5.0zM1839.5 288.9h5.0v3.4h-5.0zM1849.5 288.1h5.0v5.0h-5.0zM1859.5 288.9h5.0v3.4h-5.0zM1869.2 286.1h5.6v9.0h-5.6zM1889.3 286.4h5.3v8.4h-5.3zM1909.5 286.7h5.0v7.7h-5.0zM1929.7 287.1h4.7v7.0h-4.7zM1949.8 287.5h4.4v6.3h-4.4zM1970.0 287.9h4.0v5.5h-4.0zM1987.8 288.7h8.5v3.8h-8.5zM2007.8 288.7h8.5v3.8h-8.5zM2027.8 288.7h8.5v3.8h-8.5zM2039.5 288.9h5.0v3.4h-5.0zM2059.5 289.1h5.0v3.0h-5.0zM2078.5 289.1h7.0v3.0h-7.0zM2088.2 289.0h7.5v3.2h-7.5zM2100.3 289.1h3.4v3.0h-3.4zM2108.2 289.0h7.5v3.2h-7.5zM2128.2 289.0h7.5v3.2h-7.5zM1717.8 280.1h8.5v3.8h-8.5zM1737.8 280.1h8.5v3.8h-8.5zM1749.5 280.3h5.0v3.4h-5.0zM1757.8 280.1h8.5v3.8h-8.5zM1777.8 280.1h8.5v3.8h-8.5zM1797.8 280.1h8.5v3.8h-8.5zM1809.5 280.3h5.0v3.4h-5.0zM1817.8 280.1h8.5v3.8h-8.5zM1839.2 277.4h5.7v9.3h-5.7zM1859.3 277.6h5.5v8.7h-5.5zM1879.4 277.9h5.2v8.2h-5.2zM1899.5 278.2h4.9v7.5h-4.9zM1919.7 278.6h4.6v6.9h-4.6zM1930.5 280.8h3.0v2.4h-3.0zM1939.8 278.9h4.3v6.1h-4.3zM1960.0 279.3h4.0v5.4h-4.0zM1979.5 279.5h5.0v5.0h-5.0zM1989.5 280.3h5.0v3.4h-5.0zM1999.5 279.5h5.0v5.0h-5.0zM2009.5 280.3h5.0v3.4h-5.0zM2019.5 279.5h5.0v5.0h-5.0zM2058.5 280.5h7.0v3.0h-7.0zM2079.9 279.7h4.2v4.6h-4.2zM2099.9 279.7h4.2v4.6h-4.2zM2119.9 279.7h4.2v4.6h-4.2zM1709.5 270.9h5.0v5.0h-5.0zM1720.3 270.9h3.4v5.0h-3.4zM1727.8 271.5h8.5v3.8h-8.5zM1739.5 271.7h5.0v3.4h-5.0zM1747.8 271.5h8.5v3.8h-8.5zM1759.5 271.7h5.0v3.4h-5.0zM1767.8 271.5h8.5v3.8h-8.5zM1780.3 270.9h3.4v5.0h-3.4zM1787.8 271.5h8.5v3.8h-8.5zM1799.5 271.7h5.0v3.4h-5.0zM1809.1 268.7h5.7v9.3h-5.7zM1829.2 268.9h5.5v8.9h-5.5zM1849.3 269.2h5.3v8.4h-5.3zM1869.5 269.5h5.1v7.9h-5.1zM1889.6 269.7h4.8v7.3h-4.8zM1900.5 271.9h3.0v3.0h-3.0zM1909.7 270.1h4.5v6.7h-4.5zM1920.5 271.4h3.0v4.0h-3.0zM1929.9 270.4h4.2v6.0h-4.2zM1939.0 271.9h6.0v3.0h-6.0zM1950.0 270.8h3.9v5.3h-3.9zM1960.5 271.4h3.0v4.0h-3.0zM1967.8 271.5h8.5v3.8h-8.5zM1979.5 271.7h5.0v3.4h-5.0zM1987.8 271.5h8.5v3.8h-8.5zM2007.8 271.5h8.5v3.8h-8.5zM2020.3 270.9h3.4v5.0h-3.4zM2049.9 270.5h4.2v5.8h-4.2zM2070.2 269.9h3.6v7.0h-3.6zM2079.5 271.9h5.0v3.0h-5.0zM2100.3 271.9h3.4v3.0h-3.4zM2119.5 271.9h5.0v3.0h-5.0zM1699.5 262.3h5.0v5.0h-5.0zM1709.5 263.1h5.0v3.4h-5.0zM1719.5 262.3h5.0v5.0h-5.0zM1729.5 263.1h5.0v3.4h-5.0zM1737.8 262.9h8.5v3.8h-8.5zM1757.8 262.9h8.5v3.8h-8.5zM1769.5 263.1h5.0v3.4h-5.0zM1779.2 260.2h5.7v9.2h-5.7zM1799.2 260.3h5.5v8.9h-5.5zM1819.3 260.5h5.4v8.5h-5.4zM1839.4 260.8h5.2v8.1h-5.2zM1859.5 261.0h5.0v7.6h-5.0zM1879.6 261.3h4.7v7.0h-4.7zM1899.8 261.6h4.4v6.4h-4.4zM1910.5 263.3h3.0v3.0h-3.0zM1919.9 261.9h4.2v5.8h-4.2zM1940.1 262.2h3.9v5.1h-3.9zM1969.5 263.1h5.0v3.4h-5.0zM1989.5 263.1h5.0v3.4h-5.0zM1999.5 262.3h5.0v5.0h-5.0zM2039.9 261.9h4.2v5.8h-4.2zM2060.2 261.3h3.6v7.0h-3.6zM2078.2 263.2h7.5v3.2h-7.5zM2110.3 263.3h3.4v3.0h-3.4zM1709.2 251.6h5.7v9.2h-5.7zM1729.2 251.6h5.6v9.1h-5.6zM1749.2 251.7h5.6v9.0h-5.6zM1769.3 251.8h5.5v8.8h-5.5zM1789.3 252.0h5.3v8.5h-5.3zM1809.4 252.1h5.2v8.1h-5.2zM1829.5 252.3h5.0v7.7h-5.0zM1849.6 252.6h4.8v7.3h-4.8zM1869.7 252.8h4.6v6.8h-4.6zM1889.8 253.1h4.3v6.2h-4.3zM1900.0 255.0h4.0v2.4h-4.0zM1910.0 253.4h4.1v5.6h-4.1zM1927.8 254.3h8.5v3.8h-8.5zM1940.3 253.7h3.4v5.0h-3.4zM1947.8 254.3h8.5v3.8h-8.5zM1960.3 253.7h3.4v5.0h-3.4zM1987.8 254.3h8.5v3.8h-8.5zM1999.5 254.5h5.0v3.4h-5.0zM2009.9 252.9h4.2v6.5h-4.2zM2029.9 253.3h4.2v5.8h-4.2zM1699.3 243.3h5.4v8.6h-5.4zM1719.3 243.3h5.4v8.5h-5.4zM1739.3 243.4h5.3v8.4h-5.3zM1759.4 243.5h5.2v8.2h-5.2zM1779.4 243.6h5.1v8.0h-5.1zM1799.5 243.8h5.0v7.7h-5.0zM1819.6 243.9h4.8v7.3h-4.8zM1839.7 244.1h4.7v6.9h-4.7zM1859.8 244.4h4.4v6.4h-4.4zM1879.9 244.6h4.2v5.9h-4.2zM1900.0 244.9h4.0v5.3h-4.0zM1917.8 245.7h8.5v3.8h-8.5zM1929.5 245.9h5.0v3.4h-5.0zM1939.5 245.1h5.0v5.0h-5.0zM1950.3 245.1h3.4v5.0h-3.4zM1969.5 245.9h5.0v3.4h-5.0zM1979.5 245.1h5.0v5.0h-5.0zM1998.5 246.1h7.0v3.0h-7.0zM2018.5 246.1h7.0v3.0h-7.0zM2040.2 244.1h3.6v7.0h-3.6zM2048.8 246.1h6.5v3.0h-6.5zM2058.2 246.0h7.5v3.2h-7.5zM2078.2 246.0h7.5v3.2h-7.5zM1709.4 235.0h5.1v7.9h-5.1zM1729.5 235.1h5.1v7.9h-5.1zM1749.5 235.1h5.0v7.7h-5.0zM1769.5 235.2h4.9v7.5h-4.9zM1789.6 235.4h4.8v7.2h-4.8zM1809.7 235.5h4.6v6.9h-4.6zM1829.8 235.7h4.5v6.5h-4.5zM1840.0 237.5h4.0v3.0h-4.0zM1849.9 236.0h4.3v6.1h-4.3zM1860.0 237.8h4.0v2.4h-4.0zM1870.0 236.2h4.1v5.6h-4.1zM1890.1 236.5h3.8v5.1h-3.8zM1907.8 237.1h8.5v3.8h-8.5zM1959.5 237.3h5.0v3.4h-5.0zM1967.8 237.1h8.5v3.8h-8.5zM1979.5 237.3h5.0v3.4h-5.0zM1988.5 237.5h7.0v3.0h-7.0zM2009.9 236.2h4.2v5.6h-4.2zM2020.2 237.8h3.5v2.4h-3.5zM2030.2 235.5h3.6v7.0h-3.6zM2040.3 237.5h3.4v3.0h-3.4zM2048.2 237.4h7.5v3.2h-7.5zM2060.3 237.5h3.4v3.0h-3.4zM1699.6 226.7h4.8v7.3h-4.8zM1710.0 229.2h4.0v2.4h-4.0zM1719.6 226.8h4.8v7.3h-4.8zM1729.0 228.9h6.0v3.0h-6.0zM1739.6 226.8h4.8v7.2h-4.8zM1750.5 229.2h3.0v2.4h-3.0zM1759.7 226.9h4.7v7.0h-4.7zM1770.5 228.4h3.0v4.0h-3.0zM1779.7 227.0h4.6v6.8h-4.6zM1799.8 227.2h4.5v6.5h-4.5zM1819.9 227.3h4.3v6.1h-4.3zM1839.9 227.5h4.1v5.7h-4.1zM1849.0 228.9h6.0v3.0h-6.0zM1860.0 227.8h3.9v5.3h-3.9zM1897.8 228.5h8.5v3.8h-8.5zM1909.5 228.7h5.0v3.4h-5.0zM1939.5 227.9h5.0v5.0h-5.0zM1978.5 228.9h7.0v3.0h-7.0zM1999.9 227.6h4.2v5.5h-4.2zM2020.2 226.9h3.6v7.0h-3.6zM2059.9 228.1h4.2v4.6h-4.2zM1709.7 218.5h4.5v6.7h-4.5zM1719.0 220.3h6.0v3.0h-6.0zM1729.7 218.5h4.5v6.6h-4.5zM1740.0 220.3h4.0v3.0h-4.0zM1749.8 218.6h4.4v6.4h-4.4zM1760.5 219.8h3.0v4.0h-3.0zM1769.8 218.7h4.4v6.2h-4.4zM1789.9 218.8h4.2v6.0h-4.2zM1809.9 219.0h4.1v5.7h-4.1zM1830.0 219.1h3.9v5.3h-3.9zM1847.8 219.9h8.5v3.8h-8.5zM1867.8 219.9h8.5v3.8h-8.5zM1889.5 219.3h5.0v5.0h-5.0zM1899.5 220.1h5.0v3.4h-5.0zM1907.8 219.9h8.5v3.8h-8.5zM1927.8 219.9h8.5v3.8h-8.5zM1950.0 219.8h4.0v4.0h-4.0zM1959.5 220.3h5.0v3.0h-5.0zM1968.5 220.3h7.0v3.0h-7.0zM1980.2 220.6h3.5v2.4h-3.5zM1988.5 220.3h7.0v3.0h-7.0zM2000.2 220.0h3.5v3.6h-3.5zM2008.2 220.2h7.5v3.2h-7.5zM2049.9 219.5h4.2v4.6h-4.2zM1699.9 210.2h4.3v6.0h-4.3zM1719.9 210.2h4.2v6.0h-4.2zM1739.9 210.3h4.2v5.9h-4.2zM1750.5 211.7h3.0v3.0h-3.0zM1759.9 210.3h4.1v5.7h-4.1zM1780.0 210.4h4.0v5.5h-4.0zM1800.0 210.6h3.9v5.2h-3.9zM1837.8 211.3h8.5v3.8h-8.5zM1849.5 211.5h5.0v3.4h-5.0zM1857.8 211.3h8.5v3.8h-8.5zM1877.8 211.3h8.5v3.8h-8.5zM1889.5 211.5h5.0v3.4h-5.0zM1897.8 211.3h8.5v3.8h-8.5zM1909.5 211.5h5.0v3.4h-5.0zM1917.8 211.3h8.5v3.8h-8.5zM1930.3 210.7h3.4v5.0h-3.4zM1960.0 211.2h4.0v4.0h-4.0zM2000.2 209.7h3.6v7.0h-3.6zM2018.2 211.6h7.5v3.2h-7.5zM2039.9 210.9h4.2v4.6h-4.2zM1710.0 201.9h4.0v5.4h-4.0zM1720.5 202.6h3.0v4.0h-3.0zM1730.0 201.9h3.9v5.3h-3.9zM1750.1 202.0h3.9v5.2h-3.9zM1767.8 202.7h8.5v3.8h-8.5zM1787.8 202.7h8.5v3.8h-8.5zM1799.5 202.9h5.0v3.4h-5.0zM1827.8 202.7h8.5v3.8h-8.5zM1847.8 202.7h8.5v3.8h-8.5zM1859.5 202.9h5.0v3.4h-5.0zM1867.8 202.7h8.5v3.8h-8.5zM1887.8 202.7h8.5v3.8h-8.5zM1899.5 202.9h5.0v3.4h-5.0zM1929.9 201.5h4.2v6.3h-4.2zM1948.5 203.1h7.0v3.0h-7.0zM1959.5 203.4h5.0v2.4h-5.0zM1969.9 202.1h4.2v5.0h-4.2zM1979.5 202.8h5.0v3.6h-5.0zM2008.2 203.0h7.5v3.2h-7.5zM2028.2 203.0h7.5v3.2h-7.5zM1699.5 193.5h5.0v5.0h-5.0zM1709.5 194.3h5.0v3.4h-5.0zM1717.8 194.1h8.5v3.8h-8.5zM1729.5 194.3h5.0v3.4h-5.0zM1759.5 193.5h5.0v5.0h-5.0zM1769.5 194.3h5.0v3.4h-5.0zM1777.8 194.1h8.5v3.8h-8.5zM1810.3 193.5h3.4v5.0h-3.4zM1819.5 193.5h5.0v5.0h-5.0zM1829.5 194.3h5.0v3.4h-5.0zM1837.8 194.1h8.5v3.8h-8.5zM1857.8 194.1h8.5v3.8h-8.5zM1870.3 193.5h3.4v5.0h-3.4zM1889.5 194.3h5.0v3.4h-5.0zM1898.5 194.5h7.0v3.0h-7.0zM1918.5 194.5h7.0v3.0h-7.0zM1930.2 194.8h3.5v2.4h-3.5zM1959.9 193.7h4.2v4.6h-4.2zM1978.2 194.4h7.5v3.2h-7.5zM1999.9 193.7h4.2v4.6h-4.2zM2010.3 194.5h3.4v3.0h-3.4zM1707.8 185.5h8.5v3.8h-8.5zM1720.3 184.9h3.4v5.0h-3.4zM1727.8 185.5h8.5v3.8h-8.5zM1749.5 184.9h5.0v5.0h-5.0zM1759.5 185.7h5.0v3.4h-5.0zM1767.8 185.5h8.5v3.8h-8.5zM1789.5 184.9h5.0v5.0h-5.0zM1807.8 185.5h8.5v3.8h-8.5zM1827.8 185.5h8.5v3.8h-8.5zM1847.8 185.5h8.5v3.8h-8.5zM1860.3 184.9h3.4v5.0h-3.4zM1869.9 184.1h4.2v6.7h-4.2zM1899.5 185.9h5.0v3.0h-5.0zM1909.9 184.5h4.2v5.7h-4.2zM1920.2 186.2h3.5v2.4h-3.5zM1950.2 183.9h3.6v7.0h-3.6zM1968.2 185.8h7.5v3.2h-7.5zM1988.2 185.8h7.5v3.2h-7.5zM1697.8 176.9h8.5v3.8h-8.5zM1709.5 177.1h5.0v3.4h-5.0zM1717.8 176.9h8.5v3.8h-8.5zM1737.8 176.9h8.5v3.8h-8.5zM1757.8 176.9h8.5v3.8h-8.5zM1769.5 177.1h5.0v3.4h-5.0zM1779.5 176.3h5.0v5.0h-5.0zM1789.5 177.1h5.0v3.4h-5.0zM1797.8 176.9h8.5v3.8h-8.5zM1819.5 176.3h5.0v5.0h-5.0zM1829.5 177.1h5.0v3.4h-5.0zM1839.9 175.5h4.2v6.7h-4.2zM1859.9 175.7h4.2v6.3h-4.2zM1878.5 177.3h7.0v3.0h-7.0zM1900.0 176.8h4.0v4.0h-4.0zM1910.2 177.3h3.5v3.0h-3.5zM1918.2 177.2h7.5v3.2h-7.5zM1968.8 177.3h6.5v3.0h-6.5zM1980.2 175.3h3.6v7.0h-3.6zM1707.8 168.3h8.5v3.8h-8.5zM1719.5 168.5h5.0v3.4h-5.0zM1727.8 168.3h8.5v3.8h-8.5zM1739.5 168.5h5.0v3.4h-5.0zM1747.8 168.3h8.5v3.8h-8.5zM1759.5 168.5h5.0v3.4h-5.0zM1788.5 168.7h7.0v3.0h-7.0zM1798.5 169.0h7.0v2.4h-7.0zM1819.5 168.4h5.0v3.6h-5.0zM1828.5 168.7h7.0v3.0h-7.0zM1848.5 168.7h7.0v3.0h-7.0zM1870.0 168.2h4.0v4.0h-4.0zM1890.0 168.2h4.0v4.0h-4.0zM1898.5 168.4h7.0v3.6h-7.0zM1920.3 168.7h3.4v3.0h-3.4zM1968.2 168.6h7.5v3.2h-7.5zM1980.3 168.7h3.4v3.0h-3.4zM1719.9 158.2h4.2v6.7h-4.2zM1738.5 160.1h7.0v3.0h-7.0zM1759.9 158.3h4.2v6.5h-4.2zM1799.9 158.5h4.2v6.1h-4.2zM1819.9 158.7h4.2v5.8h-4.2zM1840.0 159.6h4.0v4.0h-4.0zM1870.2 160.1h3.5v3.0h-3.5zM1879.9 159.3h4.2v4.6h-4.2zM1898.2 160.0h7.5v3.2h-7.5zM1918.2 160.0h7.5v3.2h-7.5zM1709.9 149.9h4.2v6.1h-4.2zM1759.5 151.8h5.0v2.4h-5.0zM1808.5 151.5h7.0v3.0h-7.0zM1818.5 151.5h7.0v3.0h-7.0zM1840.2 151.5h3.5v3.0h-3.5zM1850.2 149.5h3.6v7.0h-3.6zM1859.5 151.5h5.0v3.0h-5.0zM1868.2 151.4h7.5v3.2h-7.5zM1889.9 150.7h4.2v4.6h-4.2zM1919.5 151.5h5.0v3.0h-5.0zM1928.2 151.4h7.5v3.2h-7.5zM1699.9 141.6h4.2v5.5h-4.2zM1719.9 141.6h4.2v5.5h-4.2zM1739.9 141.7h4.2v5.4h-4.2zM1750.2 142.9h3.5v3.0h-3.5zM1759.9 141.7h4.2v5.3h-4.2zM1779.9 141.8h4.2v5.1h-4.2zM1799.9 142.1h4.2v4.6h-4.2zM1818.2 142.8h7.5v3.2h-7.5zM1828.8 142.9h6.5v3.0h-6.5zM1849.5 142.9h5.0v3.0h-5.0zM1710.2 132.3h3.6v7.0h-3.6zM1729.9 133.5h4.2v4.6h-4.2zM1748.2 134.2h7.5v3.2h-7.5zM1788.2 134.2h7.5v3.2h-7.5zM1799.5 134.3h5.0v3.0h-5.0zM1808.2 134.2h7.5v3.2h-7.5zM1848.2 134.2h7.5v3.2h-7.5zM1869.9 133.5h4.2v4.6h-4.2zM1699.9 124.9h4.2v4.6h-4.2zM1708.8 125.7h6.5v3.0h-6.5zM1719.9 124.9h4.2v4.6h-4.2zM1740.2 123.7h3.6v7.0h-3.6zM1758.2 125.6h7.5v3.2h-7.5zM1768.8 125.7h6.5v3.0h-6.5zM1778.2 125.6h7.5v3.2h-7.5zM1798.2 125.6h7.5v3.2h-7.5zM1829.5 125.7h5.0v3.0h-5.0zM1709.9 116.3h4.2v4.6h-4.2zM1728.2 117.0h7.5v3.2h-7.5zM1739.5 117.1h5.0v3.0h-5.0zM1749.9 116.3h4.2v4.6h-4.2zM1759.5 117.1h5.0v3.0h-5.0zM1768.2 117.0h7.5v3.2h-7.5zM1780.3 117.1h3.4v3.0h-3.4zM1788.2 117.0h7.5v3.2h-7.5zM1798.8 117.1h6.5v3.0h-6.5zM1809.9 116.3h4.2v4.6h-4.2zM1819.5 117.1h5.0v3.0h-5.0z" fill="#3646a0"/></g><path d="M1690 504 V561 M1683 553.5 H1752" stroke="#2a2a2a" stroke-width="3.2" fill="none"/><text x="1676" y="478" font-size="48" class="i">y</text><text x="1757" y="566" font-size="48" class="i">x</text><text x="2070" y="572" font-size="48">1 μm</text><rect x="2172" y="555.5" width="38" height="5.5" fill="#111"/><text x="1628.3" y="76" font-size="56" letter-spacing="0.7">(b)</text><g filter="url(#blurB)"><path d="M2109.8 166.0 L2203.5 166.0 L2212.2 241.7 L2100.0 241.7Z" fill="url(#slabB)" /><path d="M2100.0 241.7 L2212.2 241.7 L2209.2 249.2 L2103.0 249.2Z" fill="#8fb8bc" /><path d="M2110.9 166.0 L2120.3 164.2 L2127.9 196.5 L2119.2 199.5Z" fill="#4a66c4" /><path d="M2193.0 164.2 L2203.5 166.0 L2193.0 201.1 L2183.2 198.8Z" fill="#4a66c4" /><path d="M2136.5 141.2 L2172.7 141.2 L2176.8 231.2 L2132.0 231.2Z" fill="#5572c8" /><path d="M2131.2 212.0 L2176.8 212.0 L2176.8 231.2 L2132.0 231.2Z" fill="#4463bd" /><path d="M2137.7 143.1 L2132.8 225.9 M2130.9 211.6 L2177.9 211.6" stroke="#111" stroke-width="2" fill="none"/><path d="M2093.2 162.7 L2108.3 172.4 M2097.0 187.5 L2109.0 178.8 M2217.5 157.4 L2202.4 169.4 M2217.5 185.2 L2204.3 177.0 M2177.9 170.2 L2189.2 170.2" stroke="#111" stroke-width="2" fill="none"/></g><text x="2132.8" y="135.5" font-size="14" style="font-family:'Liberation Sans',sans-serif;font-weight:bold;font-style:italic;fill:#222">l<tspan font-size="9" dy="2">2</tspan></text><text x="2075.2" y="158.1" font-size="14" style="font-family:'Liberation Sans',sans-serif;font-weight:bold;font-style:italic;fill:#222">l<tspan font-size="9" dy="2">1</tspan></text><text x="2075.2" y="189.0" font-size="14" style="font-family:'Liberation Sans',sans-serif;font-weight:bold;font-style:italic;fill:#222">w<tspan font-size="9" dy="2">1</tspan></text><text x="2179.8" y="165.7" font-size="14" style="font-family:'Liberation Sans',sans-serif;font-weight:bold;font-style:italic;fill:#222">g</text><text x="2221.2" y="156.2" font-size="14" style="font-family:'Liberation Sans',sans-serif;font-weight:bold;font-style:italic;fill:#222">l<tspan font-size="9" dy="2">3</tspan></text><text x="2219.4" y="192.8" font-size="14" style="font-family:'Liberation Sans',sans-serif;font-weight:bold;font-style:italic;fill:#222">w<tspan font-size="9" dy="2">3</tspan></text><text x="2189.2" y="218.4" font-size="14" style="font-family:'Liberation Sans',sans-serif;font-weight:bold;font-style:italic;fill:#222">w<tspan font-size="9" dy="2">2</tspan></text><text x="2115.8" y="225.9" font-size="14" style="font-family:'Liberation Sans',sans-serif;font-weight:bold;font-style:italic;fill:#222">h</text><g clip-path="url(#semB)"><g filter="url(#blurB)"><rect x="1700" y="587" width="549" height="300" fill="url(#sbLow)"/><path d="M1932.5 587.6 L2250.0 587.6 L2250.0 663.1 L2069.6 702.2 L1940.9 719.0Z" fill="url(#sbTop)"/><path d="M1940.9 719.0 L2013.6 707.8 L2069.6 699.4 L2167.5 671.5 L2250.0 654.7 L2250.0 719.0 L2181.5 733.0 L2069.6 755.4 L1940.9 775.0Z" fill="url(#sbMid)"/></g></g><rect x="1701" y="588" width="547" height="298" fill="none" stroke="#2a2a2a" stroke-width="3" stroke-dasharray="9 4"/><g clip-path="url(#semBi)"><g filter="url(#blurB)"><rect x="1709.8" y="593.2" width="220.0" height="183.1" fill="url(#insbg)"/><g transform="translate(1714.0,573.0) rotate(36)"><rect x="-20.2" y="-11.7" width="40.4" height="23.4" rx="9" fill="#d8d2d4"/><rect x="-19.0" y="-10.5" width="38" height="21" rx="8" fill="#989c9f"/></g><g transform="translate(1714.0,608.6) rotate(36)"><rect x="-20.2" y="-11.7" width="40.4" height="23.4" rx="9" fill="#d8d2d4"/><rect x="-19.0" y="-10.5" width="38" height="21" rx="8" fill="#989c9f"/></g><g transform="translate(1714.0,644.2) rotate(36)"><rect x="-20.2" y="-11.7" width="40.4" height="23.4" rx="9" fill="#d8d2d4"/><rect x="-19.0" y="-10.5" width="38" height="21" rx="8" fill="#989c9f"/></g><g transform="translate(1714.0,679.8) rotate(36)"><rect x="-20.2" y="-11.7" width="40.4" height="23.4" rx="9" fill="#d8d2d4"/><rect x="-19.0" y="-10.5" width="38" height="21" rx="8" fill="#989c9f"/></g><g transform="translate(1714.0,715.4) rotate(36)"><rect x="-20.2" y="-11.7" width="40.4" height="23.4" rx="9" fill="#d8d2d4"/><rect x="-19.0" y="-10.5" width="38" height="21" rx="8" fill="#989c9f"/></g><g transform="translate(1714.0,751.0) rotate(36)"><rect x="-20.2" y="-11.7" width="40.4" height="23.4" rx="9" fill="#d8d2d4"/><rect x="-19.0" y="-10.5" width="38" height="21" rx="8" fill="#989c9f"/></g><g transform="translate(1714.0,786.6) rotate(36)"><rect x="-20.2" y="-11.7" width="40.4" height="23.4" rx="9" fill="#d8d2d4"/><rect x="-19.0" y="-10.5" width="38" height="21" rx="8" fill="#989c9f"/></g><g transform="translate(1760.0,573.0) rotate(36)"><rect x="-20.2" y="-11.7" width="40.4" height="23.4" rx="9" fill="#d8d2d4"/><rect x="-19.0" y="-10.5" width="38" height="21" rx="8" fill="#989c9f"/></g><g transform="translate(1760.0,608.6) rotate(36)"><rect x="-20.2" y="-11.7" width="40.4" height="23.4" rx="9" fill="#d8d2d4"/><rect x="-19.0" y="-10.5" width="38" height="21" rx="8" fill="#989c9f"/></g><g transform="translate(1760.0,644.2) rotate(36)"><rect x="-20.2" y="-11.7" width="40.4" height="23.4" rx="9" fill="#d8d2d4"/><rect x="-19.0" y="-10.5" width="38" height="21" rx="8" fill="#989c9f"/></g><g transform="translate(1760.0,679.8) rotate(36)"><rect x="-20.2" y="-11.7" width="40.4" height="23.4" rx="9" fill="#d8d2d4"/><rect x="-19.0" y="-10.5" width="38" height="21" rx="8" fill="#989c9f"/></g><g transform="translate(1760.0,715.4) rotate(36)"><rect x="-20.2" y="-11.7" width="40.4" height="23.4" rx="9" fill="#d8d2d4"/><rect x="-19.0" y="-10.5" width="38" height="21" rx="8" fill="#989c9f"/></g><g transform="translate(1760.0,751.0) rotate(36)"><rect x="-20.2" y="-11.7" width="40.4" height="23.4" rx="9" fill="#d8d2d4"/><rect x="-19.0" y="-10.5" width="38" height="21" rx="8" fill="#989c9f"/></g><g transform="translate(1760.0,786.6) rotate(36)"><rect x="-20.2" y="-11.7" width="40.4" height="23.4" rx="9" fill="#d8d2d4"/><rect x="-19.0" y="-10.5" width="38" height="21" rx="8" fill="#989c9f"/></g><g transform="translate(1806.0,573.0) rotate(36)"><rect x="-20.2" y="-11.7" width="40.4" height="23.4" rx="9" fill="#d8d2d4"/><rect x="-19.0" y="-10.5" width="38" height="21" rx="8" fill="#989c9f"/></g><g transform="translate(1806.0,608.6) rotate(36)"><rect x="-20.2" y="-11.7" width="40.4" height="23.4" rx="9" fill="#d8d2d4"/><rect x="-19.0" y="-10.5" width="38" height="21" rx="8" fill="#989c9f"/></g><g transform="translate(1806.0,644.2) rotate(36)"><rect x="-20.2" y="-11.7" width="40.4" height="23.4" rx="9" fill="#d8d2d4"/><rect x="-19.0" y="-10.5" width="38" height="21" rx="8" fill="#989c9f"/></g><g transform="translate(1806.0,679.8) rotate(36)"><rect x="-20.2" y="-11.7" width="40.4" height="23.4" rx="9" fill="#d8d2d4"/><rect x="-19.0" y="-10.5" width="38" height="21" rx="8" fill="#989c9f"/></g><g transform="translate(1806.0,715.4) rotate(36)"><rect x="-20.2" y="-11.7" width="40.4" height="23.4" rx="9" fill="#d8d2d4"/><rect x="-19.0" y="-10.5" width="38" height="21" rx="8" fill="#989c9f"/></g><g transform="translate(1806.0,751.0) rotate(36)"><rect x="-20.2" y="-11.7" width="40.4" height="23.4" rx="9" fill="#d8d2d4"/><rect x="-19.0" y="-10.5" width="38" height="21" rx="8" fill="#989c9f"/></g><g transform="translate(1806.0,786.6) rotate(36)"><rect x="-20.2" y="-11.7" width="40.4" height="23.4" rx="9" fill="#d8d2d4"/><rect x="-19.0" y="-10.5" width="38" height="21" rx="8" fill="#989c9f"/></g><g transform="translate(1852.0,573.0) rotate(36)"><rect x="-20.2" y="-11.7" width="40.4" height="23.4" rx="9" fill="#d8d2d4"/><rect x="-19.0" y="-10.5" width="38" height="21" rx="8" fill="#989c9f"/></g><g transform="translate(1852.0,608.6) rotate(36)"><rect x="-20.2" y="-11.7" width="40.4" height="23.4" rx="9" fill="#d8d2d4"/><rect x="-19.0" y="-10.5" width="38" height="21" rx="8" fill="#989c9f"/></g><g transform="translate(1852.0,644.2) rotate(36)"><rect x="-20.2" y="-11.7" width="40.4" height="23.4" rx="9" fill="#d8d2d4"/><rect x="-19.0" y="-10.5" width="38" height="21" rx="8" fill="#989c9f"/></g><g transform="translate(1852.0,679.8) rotate(36)"><rect x="-20.2" y="-11.7" width="40.4" height="23.4" rx="9" fill="#d8d2d4"/><rect x="-19.0" y="-10.5" width="38" height="21" rx="8" fill="#989c9f"/></g><g transform="translate(1852.0,715.4) rotate(36)"><rect x="-20.2" y="-11.7" width="40.4" height="23.4" rx="9" fill="#d8d2d4"/><rect x="-19.0" y="-10.5" width="38" height="21" rx="8" fill="#989c9f"/></g><g transform="translate(1852.0,751.0) rotate(36)"><rect x="-20.2" y="-11.7" width="40.4" height="23.4" rx="9" fill="#d8d2d4"/><rect x="-19.0" y="-10.5" width="38" height="21" rx="8" fill="#989c9f"/></g><g transform="translate(1852.0,786.6) rotate(36)"><rect x="-20.2" y="-11.7" width="40.4" height="23.4" rx="9" fill="#d8d2d4"/><rect x="-19.0" y="-10.5" width="38" height="21" rx="8" fill="#989c9f"/></g><g transform="translate(1898.5,573.0) rotate(36)"><rect x="-20.2" y="-11.7" width="40.4" height="23.4" rx="9" fill="#d8d2d4"/><rect x="-19.0" y="-10.5" width="38" height="21" rx="8" fill="#989c9f"/></g><g transform="translate(1898.5,608.6) rotate(36)"><rect x="-20.2" y="-11.7" width="40.4" height="23.4" rx="9" fill="#d8d2d4"/><rect x="-19.0" y="-10.5" width="38" height="21" rx="8" fill="#989c9f"/></g><g transform="translate(1898.5,644.2) rotate(36)"><rect x="-20.2" y="-11.7" width="40.4" height="23.4" rx="9" fill="#d8d2d4"/><rect x="-19.0" y="-10.5" width="38" height="21" rx="8" fill="#989c9f"/></g><g transform="translate(1898.5,679.8) rotate(36)"><rect x="-20.2" y="-11.7" width="40.4" height="23.4" rx="9" fill="#d8d2d4"/><rect x="-19.0" y="-10.5" width="38" height="21" rx="8" fill="#989c9f"/></g><g transform="translate(1898.5,715.4) rotate(36)"><rect x="-20.2" y="-11.7" width="40.4" height="23.4" rx="9" fill="#d8d2d4"/><rect x="-19.0" y="-10.5" width="38" height="21" rx="8" fill="#989c9f"/></g><g transform="translate(1898.5,751.0) rotate(36)"><rect x="-20.2" y="-11.7" width="40.4" height="23.4" rx="9" fill="#d8d2d4"/><rect x="-19.0" y="-10.5" width="38" height="21" rx="8" fill="#989c9f"/></g><g transform="translate(1898.5,786.6) rotate(36)"><rect x="-20.2" y="-11.7" width="40.4" height="23.4" rx="9" fill="#d8d2d4"/><rect x="-19.0" y="-10.5" width="38" height="21" rx="8" fill="#989c9f"/></g><rect x="1687" y="593.2" width="6" height="183.1" fill="#141414"/><rect x="1733" y="593.2" width="6" height="183.1" fill="#141414"/><rect x="1779" y="593.2" width="6" height="183.1" fill="#141414"/><rect x="1825" y="593.2" width="6" height="183.1" fill="#141414"/><rect x="1871.5" y="593.2" width="6" height="183.1" fill="#141414"/><rect x="1917.6" y="593.2" width="6" height="183.1" fill="#141414"/></g></g><rect x="1709.8" y="593.2" width="220.0" height="183.1" fill="none" stroke="#e8eeee" stroke-width="2.4"/><rect x="1727.5" y="756" width="56.7" height="6.5" fill="#d8d62a"/><rect x="1717" y="868" width="45" height="7.5" fill="#d8d62a"/><g clip-path="url(#brc)"><rect x="2447.6" y="14" width="446.5999999999999" height="94.4" fill="#0b0b10"/><ellipse cx="2738.5" cy="62.3" rx="141.5" ry="9" fill="url(#brt0)" filter="url(#blurR)"/><ellipse cx="2668" cy="62.3" rx="54" ry="5.0" fill="#ffffff" opacity="0.3" filter="url(#blurR)"/><ellipse cx="2668" cy="62.3" rx="40" ry="3.2" fill="#ffffff" filter="url(#blurR2)"/><rect x="2447.6" y="108.4" width="446.5999999999999" height="98.6" fill="#0b100c"/><ellipse cx="2734.5" cy="158" rx="145.5" ry="13.5" fill="url(#brt1)" filter="url(#blurR)"/><ellipse cx="2668" cy="158" rx="54" ry="7.4" fill="#ffffff" opacity="0.3" filter="url(#blurR)"/><ellipse cx="2668" cy="158" rx="40" ry="4.9" fill="#ffffff" filter="url(#blurR2)"/><rect x="2447.6" y="207" width="446.5999999999999" height="97" fill="#0b100b"/><ellipse cx="2733.0" cy="256" rx="147.0" ry="13.5" fill="url(#brt2)" filter="url(#blurR)"/><ellipse cx="2668" cy="256" rx="54" ry="7.4" fill="#ffffff" opacity="0.3" filter="url(#blurR)"/><ellipse cx="2668" cy="256" rx="40" ry="4.9" fill="#ffffff" filter="url(#blurR2)"/><rect x="2447.6" y="304" width="446.5999999999999" height="98" fill="#0b100b"/><ellipse cx="2730.0" cy="354" rx="150.0" ry="13.5" fill="url(#brt3)" filter="url(#blurR)"/><ellipse cx="2668" cy="354" rx="54" ry="7.4" fill="#fffff0" opacity="0.3" filter="url(#blurR)"/><ellipse cx="2668" cy="354" rx="40" ry="4.9" fill="#fffff0" filter="url(#blurR2)"/><rect x="2447.6" y="402" width="446.5999999999999" height="98" fill="#120c08"/><ellipse cx="2728.5" cy="452" rx="151.5" ry="13.5" fill="url(#brt4)" filter="url(#blurR)"/><ellipse cx="2668" cy="452" rx="54" ry="7.4" fill="#ffffff" opacity="0.3" filter="url(#blurR)"/><ellipse cx="2668" cy="452" rx="40" ry="4.9" fill="#ffffff" filter="url(#blurR2)"/><rect x="2447.6" y="500" width="446.5999999999999" height="99" fill="#130a0a"/><ellipse cx="2720.0" cy="552" rx="150.0" ry="13" fill="url(#brt5)" filter="url(#blurR)"/><ellipse cx="2668" cy="552" rx="54" ry="7.2" fill="#ffffff" opacity="0.3" filter="url(#blurR)"/><ellipse cx="2668" cy="552" rx="40" ry="4.7" fill="#ffffff" filter="url(#blurR2)"/><rect x="2447.6" y="599" width="446.5999999999999" height="98.5" fill="#130a0a"/><ellipse cx="2725.5" cy="651" rx="154.5" ry="15" fill="url(#brt6)" filter="url(#blurR)"/><ellipse cx="2668" cy="651" rx="54" ry="8.2" fill="#ffffff" opacity="0.3" filter="url(#blurR)"/><ellipse cx="2668" cy="651" rx="40" ry="5.4" fill="#ffffff" filter="url(#blurR2)"/><rect x="2447.6" y="697.5" width="446.5999999999999" height="97.0" fill="#120a0a"/><ellipse cx="2700.5" cy="748.7" rx="129.5" ry="14" fill="url(#brt7)" filter="url(#blurR)"/><ellipse cx="2650" cy="748.7" rx="72" ry="7.7" fill="#ffffff" opacity="0.3" filter="url(#blurR)"/><ellipse cx="2650" cy="748.7" rx="58" ry="5.0" fill="#ffffff" filter="url(#blurR2)"/><rect x="2447.6" y="794.5" width="446.5999999999999" height="99.5" fill="#110a0a"/><ellipse cx="2699.0" cy="846.6" rx="131.0" ry="14" fill="url(#brt8)" filter="url(#blurR)"/><ellipse cx="2650" cy="846.6" rx="72" ry="7.7" fill="#ffffff" opacity="0.3" filter="url(#blurR)"/><ellipse cx="2650" cy="846.6" rx="58" ry="5.0" fill="#ffffff" filter="url(#blurR2)"/></g><rect x="2447.6" y="106.2" width="446.5999999999999" height="4.4" fill="#b4b4ba"/><rect x="2447.6" y="204.8" width="446.5999999999999" height="4.4" fill="#b4b4ba"/><rect x="2447.6" y="301.8" width="446.5999999999999" height="4.4" fill="#b4b4ba"/><rect x="2447.6" y="399.8" width="446.5999999999999" height="4.4" fill="#b4b4ba"/><rect x="2447.6" y="497.8" width="446.5999999999999" height="4.4" fill="#b4b4ba"/><rect x="2447.6" y="596.8" width="446.5999999999999" height="4.4" fill="#b4b4ba"/><rect x="2447.6" y="695.3" width="446.5999999999999" height="4.4" fill="#b4b4ba"/><rect x="2447.6" y="792.3" width="446.5999999999999" height="4.4" fill="#b4b4ba"/><rect x="2448.6" y="15" width="444.5999999999999" height="878" fill="none" stroke="#4a4a52" stroke-width="3"/><line x1="2676.5" y1="14" x2="2676.5" y2="886" stroke="#f2f2f2" stroke-width="5" stroke-dasharray="7.5 4"/><text x="2358" y="70.8" font-size="49">460</text><text x="2358" y="168.7" font-size="49">490</text><text x="2358" y="267.5" font-size="49">520</text><text x="2358" y="365" font-size="49">550</text><text x="2358" y="463" font-size="49">580</text><text x="2358" y="562" font-size="49">610</text><text x="2358" y="660.8" font-size="49">640</text><text x="2358" y="758.7" font-size="49">670</text><text x="2358" y="857" font-size="49">700</text><g clip-path="url(#semC)"><g filter="url(#blurC)"><rect x="212" y="1101.5" width="510" height="332.5" fill="#1b1b1b"/><rect x="600" y="1101.5" width="122" height="332.5" fill="url(#cRight)"/><rect x="489" y="1101.5" width="40" height="332.5" fill="#0d0d0d"/><path d="M212 1101.5 H491 V1339.0 H527 V1434 H212Z" fill="url(#gridC)"/><rect x="489" y="1117.2" width="30" height="4.4" fill="#9a9a9a"/><rect x="489" y="1148.3" width="30" height="4.4" fill="#9a9a9a"/><rect x="489" y="1179.4" width="30" height="4.4" fill="#9a9a9a"/><rect x="489" y="1210.5" width="30" height="4.4" fill="#9a9a9a"/><rect x="489" y="1241.6" width="30" height="4.4" fill="#9a9a9a"/><rect x="489" y="1272.7" width="30" height="4.4" fill="#9a9a9a"/><rect x="489" y="1303.8" width="30" height="4.4" fill="#9a9a9a"/><rect x="489" y="1334.9" width="30" height="4.4" fill="#9a9a9a"/><rect x="525" y="1366.0" width="30" height="4.4" fill="#9a9a9a"/><rect x="525" y="1397.1" width="30" height="4.4" fill="#9a9a9a"/><rect x="525" y="1428.2" width="30" height="4.4" fill="#9a9a9a"/><path d="M509.7 1119.4 Q514.4 1111.2 523.1 1106.8 Q531.8 1111.2 536.5 1119.4 Q531.8 1127.6 523.1 1132.0 Q514.4 1127.6 509.7 1119.4ZM545.6 1119.4 Q552.7 1112.9 559.8 1106.4 Q566.9 1112.9 574.0 1119.4 Q566.9 1125.9 559.8 1132.4 Q552.7 1125.9 545.6 1119.4ZM581.4 1119.4 Q591.5 1115.3 596.0 1106.2 Q600.5 1115.3 610.6 1119.4 Q600.5 1123.5 596.0 1132.6 Q591.5 1123.5 581.4 1119.4ZM617.6 1119.4 Q628.5 1116.2 632.0 1106.2 Q635.5 1116.2 646.4 1119.4 Q635.5 1122.6 632.0 1132.6 Q628.5 1122.6 617.6 1119.4ZM655.8 1119.4 Q665.9 1116.6 668.8 1106.8 Q671.7 1116.6 681.8 1119.4 Q671.7 1122.2 668.8 1132.0 Q665.9 1122.2 655.8 1119.4ZM509.7 1150.5 Q514.4 1142.3 523.1 1137.9 Q531.8 1142.3 536.5 1150.5 Q531.8 1158.7 523.1 1163.1 Q514.4 1158.7 509.7 1150.5ZM545.6 1150.5 Q552.7 1144.0 559.8 1137.5 Q566.9 1144.0 574.0 1150.5 Q566.9 1157.0 559.8 1163.5 Q552.7 1157.0 545.6 1150.5ZM581.4 1150.5 Q591.5 1146.4 596.0 1137.3 Q600.5 1146.4 610.6 1150.5 Q600.5 1154.6 596.0 1163.7 Q591.5 1154.6 581.4 1150.5ZM617.6 1150.5 Q628.5 1147.3 632.0 1137.3 Q635.5 1147.3 646.4 1150.5 Q635.5 1153.7 632.0 1163.7 Q628.5 1153.7 617.6 1150.5ZM655.8 1150.5 Q665.9 1147.7 668.8 1137.9 Q671.7 1147.7 681.8 1150.5 Q671.7 1153.3 668.8 1163.1 Q665.9 1153.3 655.8 1150.5ZM509.7 1181.6 Q514.4 1173.4 523.1 1169.0 Q531.8 1173.4 536.5 1181.6 Q531.8 1189.8 523.1 1194.2 Q514.4 1189.8 509.7 1181.6ZM545.6 1181.6 Q552.7 1175.1 559.8 1168.6 Q566.9 1175.1 574.0 1181.6 Q566.9 1188.1 559.8 1194.6 Q552.7 1188.1 545.6 1181.6ZM581.4 1181.6 Q591.5 1177.5 596.0 1168.4 Q600.5 1177.5 610.6 1181.6 Q600.5 1185.7 596.0 1194.8 Q591.5 1185.7 581.4 1181.6ZM617.6 1181.6 Q628.5 1178.4 632.0 1168.4 Q635.5 1178.4 646.4 1181.6 Q635.5 1184.8 632.0 1194.8 Q628.5 1184.8 617.6 1181.6ZM655.8 1181.6 Q665.9 1178.8 668.8 1169.0 Q671.7 1178.8 681.8 1181.6 Q671.7 1184.4 668.8 1194.2 Q665.9 1184.4 655.8 1181.6ZM509.7 1212.7 Q514.4 1204.5 523.1 1200.1 Q531.8 1204.5 536.5 1212.7 Q531.8 1220.9 523.1 1225.3 Q514.4 1220.9 509.7 1212.7ZM545.6 1212.7 Q552.7 1206.2 559.8 1199.7 Q566.9 1206.2 574.0 1212.7 Q566.9 1219.2 559.8 1225.7 Q552.7 1219.2 545.6 1212.7ZM581.4 1212.7 Q591.5 1208.6 596.0 1199.5 Q600.5 1208.6 610.6 1212.7 Q600.5 1216.8 596.0 1225.9 Q591.5 1216.8 581.4 1212.7ZM617.6 1212.7 Q628.5 1209.5 632.0 1199.5 Q635.5 1209.5 646.4 1212.7 Q635.5 1215.9 632.0 1225.9 Q628.5 1215.9 617.6 1212.7ZM655.8 1212.7 Q665.9 1209.9 668.8 1200.1 Q671.7 1209.9 681.8 1212.7 Q671.7 1215.5 668.8 1225.3 Q665.9 1215.5 655.8 1212.7ZM509.7 1243.8 Q514.4 1235.6 523.1 1231.2 Q531.8 1235.6 536.5 1243.8 Q531.8 1252.0 523.1 1256.4 Q514.4 1252.0 509.7 1243.8ZM545.6 1243.8 Q552.7 1237.3 559.8 1230.8 Q566.9 1237.3 574.0 1243.8 Q566.9 1250.3 559.8 1256.8 Q552.7 1250.3 545.6 1243.8ZM581.4 1243.8 Q591.5 1239.7 596.0 1230.6 Q600.5 1239.7 610.6 1243.8 Q600.5 1247.9 596.0 1257.0 Q591.5 1247.9 581.4 1243.8ZM617.6 1243.8 Q628.5 1240.6 632.0 1230.6 Q635.5 1240.6 646.4 1243.8 Q635.5 1247.0 632.0 1257.0 Q628.5 1247.0 617.6 1243.8ZM655.8 1243.8 Q665.9 1241.0 668.8 1231.2 Q671.7 1241.0 681.8 1243.8 Q671.7 1246.6 668.8 1256.4 Q665.9 1246.6 655.8 1243.8ZM509.7 1274.9 Q514.4 1266.7 523.1 1262.3 Q531.8 1266.7 536.5 1274.9 Q531.8 1283.1 523.1 1287.5 Q514.4 1283.1 509.7 1274.9ZM545.6 1274.9 Q552.7 1268.4 559.8 1261.9 Q566.9 1268.4 574.0 1274.9 Q566.9 1281.4 559.8 1287.9 Q552.7 1281.4 545.6 1274.9ZM581.4 1274.9 Q591.5 1270.8 596.0 1261.7 Q600.5 1270.8 610.6 1274.9 Q600.5 1279.0 596.0 1288.1 Q591.5 1279.0 581.4 1274.9ZM617.6 1274.9 Q628.5 1271.7 632.0 1261.7 Q635.5 1271.7 646.4 1274.9 Q635.5 1278.1 632.0 1288.1 Q628.5 1278.1 617.6 1274.9ZM655.8 1274.9 Q665.9 1272.1 668.8 1262.3 Q671.7 1272.1 681.8 1274.9 Q671.7 1277.7 668.8 1287.5 Q665.9 1277.7 655.8 1274.9ZM509.7 1306.0 Q514.4 1297.8 523.1 1293.4 Q531.8 1297.8 536.5 1306.0 Q531.8 1314.2 523.1 1318.6 Q514.4 1314.2 509.7 1306.0ZM545.6 1306.0 Q552.7 1299.5 559.8 1293.0 Q566.9 1299.5 574.0 1306.0 Q566.9 1312.5 559.8 1319.0 Q552.7 1312.5 545.6 1306.0ZM581.4 1306.0 Q591.5 1301.9 596.0 1292.8 Q600.5 1301.9 610.6 1306.0 Q600.5 1310.1 596.0 1319.2 Q591.5 1310.1 581.4 1306.0ZM617.6 1306.0 Q628.5 1302.8 632.0 1292.8 Q635.5 1302.8 646.4 1306.0 Q635.5 1309.2 632.0 1319.2 Q628.5 1309.2 617.6 1306.0ZM655.8 1306.0 Q665.9 1303.2 668.8 1293.4 Q671.7 1303.2 681.8 1306.0 Q671.7 1308.8 668.8 1318.6 Q665.9 1308.8 655.8 1306.0ZM509.7 1337.1 Q514.4 1328.9 523.1 1324.5 Q531.8 1328.9 536.5 1337.1 Q531.8 1345.3 523.1 1349.7 Q514.4 1345.3 509.7 1337.1ZM545.6 1337.1 Q552.7 1330.6 559.8 1324.1 Q566.9 1330.6 574.0 1337.1 Q566.9 1343.6 559.8 1350.1 Q552.7 1343.6 545.6 1337.1ZM581.4 1337.1 Q591.5 1333.0 596.0 1323.9 Q600.5 1333.0 610.6 1337.1 Q600.5 1341.2 596.0 1350.3 Q591.5 1341.2 581.4 1337.1ZM617.6 1337.1 Q628.5 1333.9 632.0 1323.9 Q635.5 1333.9 646.4 1337.1 Q635.5 1340.3 632.0 1350.3 Q628.5 1340.3 617.6 1337.1ZM655.8 1337.1 Q665.9 1334.3 668.8 1324.5 Q671.7 1334.3 681.8 1337.1 Q671.7 1339.9 668.8 1349.7 Q665.9 1339.9 655.8 1337.1ZM545.6 1368.2 Q552.7 1361.7 559.8 1355.2 Q566.9 1361.7 574.0 1368.2 Q566.9 1374.7 559.8 1381.2 Q552.7 1374.7 545.6 1368.2ZM581.4 1368.2 Q591.5 1364.1 596.0 1355.0 Q600.5 1364.1 610.6 1368.2 Q600.5 1372.3 596.0 1381.4 Q591.5 1372.3 581.4 1368.2ZM617.6 1368.2 Q628.5 1365.0 632.0 1355.0 Q635.5 1365.0 646.4 1368.2 Q635.5 1371.4 632.0 1381.4 Q628.5 1371.4 617.6 1368.2ZM655.8 1368.2 Q665.9 1365.4 668.8 1355.6 Q671.7 1365.4 681.8 1368.2 Q671.7 1371.0 668.8 1380.8 Q665.9 1371.0 655.8 1368.2ZM545.6 1399.3 Q552.7 1392.8 559.8 1386.3 Q566.9 1392.8 574.0 1399.3 Q566.9 1405.8 559.8 1412.3 Q552.7 1405.8 545.6 1399.3ZM581.4 1399.3 Q591.5 1395.2 596.0 1386.1 Q600.5 1395.2 610.6 1399.3 Q600.5 1403.4 596.0 1412.5 Q591.5 1403.4 581.4 1399.3ZM617.6 1399.3 Q628.5 1396.1 632.0 1386.1 Q635.5 1396.1 646.4 1399.3 Q635.5 1402.5 632.0 1412.5 Q628.5 1402.5 617.6 1399.3ZM655.8 1399.3 Q665.9 1396.5 668.8 1386.7 Q671.7 1396.5 681.8 1399.3 Q671.7 1402.1 668.8 1411.9 Q665.9 1402.1 655.8 1399.3ZM545.6 1430.4 Q552.7 1423.9 559.8 1417.4 Q566.9 1423.9 574.0 1430.4 Q566.9 1436.9 559.8 1443.4 Q552.7 1436.9 545.6 1430.4ZM581.4 1430.4 Q591.5 1426.3 596.0 1417.2 Q600.5 1426.3 610.6 1430.4 Q600.5 1434.5 596.0 1443.6 Q591.5 1434.5 581.4 1430.4ZM617.6 1430.4 Q628.5 1427.2 632.0 1417.2 Q635.5 1427.2 646.4 1430.4 Q635.5 1433.6 632.0 1443.6 Q628.5 1433.6 617.6 1430.4ZM655.8 1430.4 Q665.9 1427.6 668.8 1417.8 Q671.7 1427.6 681.8 1430.4 Q671.7 1433.2 668.8 1443.0 Q665.9 1433.2 655.8 1430.4ZM472.6 1118.7 Q477.6 1109.9 487.0 1105.1 Q496.4 1109.9 501.4 1118.7 Q496.4 1127.5 487.0 1132.3 Q477.6 1127.5 472.6 1118.7ZM695.0 1336.3 Q703.2 1331.9 707.6 1323.7 Q712.0 1331.9 720.2 1336.3 Q712.0 1340.7 707.6 1348.9 Q703.2 1340.7 695.0 1336.3Z" fill="#dcdcdc"/><path d="M511.5 1119.4 Q515.6 1112.4 523.1 1108.6 Q530.6 1112.4 534.7 1119.4 Q530.6 1126.4 523.1 1130.2 Q515.6 1126.4 511.5 1119.4ZM547.4 1119.4 Q553.6 1113.8 559.8 1108.2 Q566.0 1113.8 572.2 1119.4 Q566.0 1125.0 559.8 1130.6 Q553.6 1125.0 547.4 1119.4ZM583.2 1119.4 Q592.0 1115.9 596.0 1108.0 Q600.0 1115.9 608.8 1119.4 Q600.0 1122.9 596.0 1130.8 Q592.0 1122.9 583.2 1119.4ZM619.4 1119.4 Q629.0 1116.7 632.0 1108.0 Q635.0 1116.7 644.6 1119.4 Q635.0 1122.1 632.0 1130.8 Q629.0 1122.1 619.4 1119.4ZM657.6 1119.4 Q666.3 1117.0 668.8 1108.6 Q671.3 1117.0 680.0 1119.4 Q671.3 1121.8 668.8 1130.2 Q666.3 1121.8 657.6 1119.4ZM511.5 1150.5 Q515.6 1143.5 523.1 1139.7 Q530.6 1143.5 534.7 1150.5 Q530.6 1157.5 523.1 1161.3 Q515.6 1157.5 511.5 1150.5ZM547.4 1150.5 Q553.6 1144.9 559.8 1139.3 Q566.0 1144.9 572.2 1150.5 Q566.0 1156.1 559.8 1161.7 Q553.6 1156.1 547.4 1150.5ZM583.2 1150.5 Q592.0 1147.0 596.0 1139.1 Q600.0 1147.0 608.8 1150.5 Q600.0 1154.0 596.0 1161.9 Q592.0 1154.0 583.2 1150.5ZM619.4 1150.5 Q629.0 1147.8 632.0 1139.1 Q635.0 1147.8 644.6 1150.5 Q635.0 1153.2 632.0 1161.9 Q629.0 1153.2 619.4 1150.5ZM657.6 1150.5 Q666.3 1148.1 668.8 1139.7 Q671.3 1148.1 680.0 1150.5 Q671.3 1152.9 668.8 1161.3 Q666.3 1152.9 657.6 1150.5ZM511.5 1181.6 Q515.6 1174.6 523.1 1170.8 Q530.6 1174.6 534.7 1181.6 Q530.6 1188.6 523.1 1192.4 Q515.6 1188.6 511.5 1181.6ZM547.4 1181.6 Q553.6 1176.0 559.8 1170.4 Q566.0 1176.0 572.2 1181.6 Q566.0 1187.2 559.8 1192.8 Q553.6 1187.2 547.4 1181.6ZM583.2 1181.6 Q592.0 1178.1 596.0 1170.2 Q600.0 1178.1 608.8 1181.6 Q600.0 1185.1 596.0 1193.0 Q592.0 1185.1 583.2 1181.6ZM619.4 1181.6 Q629.0 1178.9 632.0 1170.2 Q635.0 1178.9 644.6 1181.6 Q635.0 1184.3 632.0 1193.0 Q629.0 1184.3 619.4 1181.6ZM657.6 1181.6 Q666.3 1179.2 668.8 1170.8 Q671.3 1179.2 680.0 1181.6 Q671.3 1184.0 668.8 1192.4 Q666.3 1184.0 657.6 1181.6ZM511.5 1212.7 Q515.6 1205.7 523.1 1201.9 Q530.6 1205.7 534.7 1212.7 Q530.6 1219.7 523.1 1223.5 Q515.6 1219.7 511.5 1212.7ZM547.4 1212.7 Q553.6 1207.1 559.8 1201.5 Q566.0 1207.1 572.2 1212.7 Q566.0 1218.3 559.8 1223.9 Q553.6 1218.3 547.4 1212.7ZM583.2 1212.7 Q592.0 1209.2 596.0 1201.3 Q600.0 1209.2 608.8 1212.7 Q600.0 1216.2 596.0 1224.1 Q592.0 1216.2 583.2 1212.7ZM619.4 1212.7 Q629.0 1210.0 632.0 1201.3 Q635.0 1210.0 644.6 1212.7 Q635.0 1215.4 632.0 1224.1 Q629.0 1215.4 619.4 1212.7ZM657.6 1212.7 Q666.3 1210.3 668.8 1201.9 Q671.3 1210.3 680.0 1212.7 Q671.3 1215.1 668.8 1223.5 Q666.3 1215.1 657.6 1212.7ZM511.5 1243.8 Q515.6 1236.8 523.1 1233.0 Q530.6 1236.8 534.7 1243.8 Q530.6 1250.8 523.1 1254.6 Q515.6 1250.8 511.5 1243.8ZM547.4 1243.8 Q553.6 1238.2 559.8 1232.6 Q566.0 1238.2 572.2 1243.8 Q566.0 1249.4 559.8 1255.0 Q553.6 1249.4 547.4 1243.8ZM583.2 1243.8 Q592.0 1240.3 596.0 1232.4 Q600.0 1240.3 608.8 1243.8 Q600.0 1247.3 596.0 1255.2 Q592.0 1247.3 583.2 1243.8ZM619.4 1243.8 Q629.0 1241.1 632.0 1232.4 Q635.0 1241.1 644.6 1243.8 Q635.0 1246.5 632.0 1255.2 Q629.0 1246.5 619.4 1243.8ZM657.6 1243.8 Q666.3 1241.4 668.8 1233.0 Q671.3 1241.4 680.0 1243.8 Q671.3 1246.2 668.8 1254.6 Q666.3 1246.2 657.6 1243.8ZM511.5 1274.9 Q515.6 1267.9 523.1 1264.1 Q530.6 1267.9 534.7 1274.9 Q530.6 1281.9 523.1 1285.7 Q515.6 1281.9 511.5 1274.9ZM547.4 1274.9 Q553.6 1269.3 559.8 1263.7 Q566.0 1269.3 572.2 1274.9 Q566.0 1280.5 559.8 1286.1 Q553.6 1280.5 547.4 1274.9ZM583.2 1274.9 Q592.0 1271.4 596.0 1263.5 Q600.0 1271.4 608.8 1274.9 Q600.0 1278.4 596.0 1286.3 Q592.0 1278.4 583.2 1274.9ZM619.4 1274.9 Q629.0 1272.2 632.0 1263.5 Q635.0 1272.2 644.6 1274.9 Q635.0 1277.6 632.0 1286.3 Q629.0 1277.6 619.4 1274.9ZM657.6 1274.9 Q666.3 1272.5 668.8 1264.1 Q671.3 1272.5 680.0 1274.9 Q671.3 1277.3 668.8 1285.7 Q666.3 1277.3 657.6 1274.9ZM511.5 1306.0 Q515.6 1299.0 523.1 1295.2 Q530.6 1299.0 534.7 1306.0 Q530.6 1313.0 523.1 1316.8 Q515.6 1313.0 511.5 1306.0ZM547.4 1306.0 Q553.6 1300.4 559.8 1294.8 Q566.0 1300.4 572.2 1306.0 Q566.0 1311.6 559.8 1317.2 Q553.6 1311.6 547.4 1306.0ZM583.2 1306.0 Q592.0 1302.5 596.0 1294.6 Q600.0 1302.5 608.8 1306.0 Q600.0 1309.5 596.0 1317.4 Q592.0 1309.5 583.2 1306.0ZM619.4 1306.0 Q629.0 1303.3 632.0 1294.6 Q635.0 1303.3 644.6 1306.0 Q635.0 1308.7 632.0 1317.4 Q629.0 1308.7 619.4 1306.0ZM657.6 1306.0 Q666.3 1303.6 668.8 1295.2 Q671.3 1303.6 680.0 1306.0 Q671.3 1308.4 668.8 1316.8 Q666.3 1308.4 657.6 1306.0ZM511.5 1337.1 Q515.6 1330.1 523.1 1326.3 Q530.6 1330.1 534.7 1337.1 Q530.6 1344.1 523.1 1347.9 Q515.6 1344.1 511.5 1337.1ZM547.4 1337.1 Q553.6 1331.5 559.8 1325.9 Q566.0 1331.5 572.2 1337.1 Q566.0 1342.7 559.8 1348.3 Q553.6 1342.7 547.4 1337.1ZM583.2 1337.1 Q592.0 1333.6 596.0 1325.7 Q600.0 1333.6 608.8 1337.1 Q600.0 1340.6 596.0 1348.5 Q592.0 1340.6 583.2 1337.1ZM619.4 1337.1 Q629.0 1334.4 632.0 1325.7 Q635.0 1334.4 644.6 1337.1 Q635.0 1339.8 632.0 1348.5 Q629.0 1339.8 619.4 1337.1ZM657.6 1337.1 Q666.3 1334.7 668.8 1326.3 Q671.3 1334.7 680.0 1337.1 Q671.3 1339.5 668.8 1347.9 Q666.3 1339.5 657.6 1337.1ZM547.4 1368.2 Q553.6 1362.6 559.8 1357.0 Q566.0 1362.6 572.2 1368.2 Q566.0 1373.8 559.8 1379.4 Q553.6 1373.8 547.4 1368.2ZM583.2 1368.2 Q592.0 1364.7 596.0 1356.8 Q600.0 1364.7 608.8 1368.2 Q600.0 1371.7 596.0 1379.6 Q592.0 1371.7 583.2 1368.2ZM619.4 1368.2 Q629.0 1365.5 632.0 1356.8 Q635.0 1365.5 644.6 1368.2 Q635.0 1370.9 632.0 1379.6 Q629.0 1370.9 619.4 1368.2ZM657.6 1368.2 Q666.3 1365.8 668.8 1357.4 Q671.3 1365.8 680.0 1368.2 Q671.3 1370.6 668.8 1379.0 Q666.3 1370.6 657.6 1368.2ZM547.4 1399.3 Q553.6 1393.7 559.8 1388.1 Q566.0 1393.7 572.2 1399.3 Q566.0 1404.9 559.8 1410.5 Q553.6 1404.9 547.4 1399.3ZM583.2 1399.3 Q592.0 1395.8 596.0 1387.9 Q600.0 1395.8 608.8 1399.3 Q600.0 1402.8 596.0 1410.7 Q592.0 1402.8 583.2 1399.3ZM619.4 1399.3 Q629.0 1396.6 632.0 1387.9 Q635.0 1396.6 644.6 1399.3 Q635.0 1402.0 632.0 1410.7 Q629.0 1402.0 619.4 1399.3ZM657.6 1399.3 Q666.3 1396.9 668.8 1388.5 Q671.3 1396.9 680.0 1399.3 Q671.3 1401.7 668.8 1410.1 Q666.3 1401.7 657.6 1399.3ZM547.4 1430.4 Q553.6 1424.8 559.8 1419.2 Q566.0 1424.8 572.2 1430.4 Q566.0 1436.0 559.8 1441.6 Q553.6 1436.0 547.4 1430.4ZM583.2 1430.4 Q592.0 1426.9 596.0 1419.0 Q600.0 1426.9 608.8 1430.4 Q600.0 1433.9 596.0 1441.8 Q592.0 1433.9 583.2 1430.4ZM619.4 1430.4 Q629.0 1427.7 632.0 1419.0 Q635.0 1427.7 644.6 1430.4 Q635.0 1433.1 632.0 1441.8 Q629.0 1433.1 619.4 1430.4ZM657.6 1430.4 Q666.3 1428.0 668.8 1419.6 Q671.3 1428.0 680.0 1430.4 Q671.3 1432.8 668.8 1441.2 Q666.3 1432.8 657.6 1430.4ZM474.4 1118.7 Q478.8 1110.9 487.0 1106.7 Q495.2 1110.9 499.6 1118.7 Q495.2 1126.5 487.0 1130.7 Q478.8 1126.5 474.4 1118.7ZM696.6 1336.3 Q703.8 1332.5 707.6 1325.3 Q711.5 1332.5 718.6 1336.3 Q711.5 1340.1 707.6 1347.3 Q703.8 1340.1 696.6 1336.3Z" fill="#a8aaac"/></g></g><text x="125" y="1057" font-size="56" letter-spacing="1">(c)</text><g clip-path="url(#bmc0)"><rect x="786" y="1137" width="162" height="281" fill="url(#bmg0)"/><path d="M800.04 1127 L828.04 1127 L855.44 1428 L837.44 1428Z" fill="#000" filter="url(#blurBm)"/><path d="M906.96 1127 L934.96 1127 L897.56 1428 L879.56 1428Z" fill="#000" filter="url(#blurBm)"/><path d="M851.5 1424 L867.5 1389 L883.5 1424Z" fill="#0a0a0a" opacity="0.8" filter="url(#blurBm2)"/><path d="M837.5 1125 L897.5 1125 L876.5 1383 L858.5 1383Z" fill="#e0222c" filter="url(#blurBm)"/><path d="M852.5 1177 L882.5 1177 L873.5 1371 L861.5 1371Z" fill="#e0222c" filter="url(#blurBm2)"/><rect x="786" y="1137" width="162" height="140.5" fill="url(#bmfade)"/><ellipse cx="867.5" cy="1319" rx="7" ry="38" fill="#ff9aa8" opacity="0.7" filter="url(#blurBm2)"/><ellipse cx="867.5" cy="1331" rx="4.4" ry="22" fill="#fff" filter="url(#blurBm2)"/><line x1="786" y1="1340" x2="948" y2="1340" stroke="#e8d8d8" stroke-width="1.5" stroke-dasharray="6 4" opacity="0.8"/><circle cx="867.5" cy="1341" r="4.8" fill="#101010"/><circle cx="867.5" cy="1341" r="1.5" fill="#f0f0f0"/></g><g clip-path="url(#bmc1)"><rect x="1013" y="1136" width="159.5999999999999" height="282" fill="url(#bmg1)"/><path d="M1026.132 1126 L1054.132 1126 L1081.052 1428 L1063.052 1428Z" fill="#000" filter="url(#blurBm)"/><path d="M1131.4679999999998 1126 L1159.4679999999998 1126 L1122.548 1428 L1104.548 1428Z" fill="#000" filter="url(#blurBm)"/><path d="M1076.8 1424 L1092.8 1394.4 L1108.8 1424Z" fill="#0a0a0a" opacity="0.8" filter="url(#blurBm2)"/><path d="M1056.8 1124 L1128.8 1124 L1101.8 1388.4 L1083.8 1388.4Z" fill="#52bf3a" filter="url(#blurBm)"/><path d="M1074.8 1176 L1110.8 1176 L1098.8 1376.4 L1086.8 1376.4Z" fill="#52bf3a" filter="url(#blurBm2)"/><rect x="1013" y="1136" width="159.5999999999999" height="141.0" fill="url(#bmfade)"/><ellipse cx="1092.8" cy="1324.4" rx="7" ry="38" fill="#c8ffb0" opacity="0.7" filter="url(#blurBm2)"/><ellipse cx="1092.8" cy="1336.4" rx="4.4" ry="22" fill="#fff" filter="url(#blurBm2)"/><line x1="1013" y1="1341" x2="1172.6" y2="1341" stroke="#bfe8bf" stroke-width="1.5" stroke-dasharray="6 4" opacity="0.8"/><circle cx="1092.8" cy="1346.4" r="4.8" fill="#101010"/><circle cx="1092.8" cy="1346.4" r="1.5" fill="#f0f0f0"/></g><g clip-path="url(#bmc2)"><rect x="1245.5" y="1132" width="159.5" height="284" fill="url(#bmg2)"/><path d="M1258.665 1122 L1286.665 1122 L1313.565 1426 L1295.565 1426Z" fill="#000" filter="url(#blurBm)"/><path d="M1363.935 1122 L1391.935 1122 L1355.0349999999999 1426 L1337.0349999999999 1426Z" fill="#000" filter="url(#blurBm)"/><path d="M1309.3 1422 L1325.3 1389.6 L1341.3 1422Z" fill="#0a0a0a" opacity="0.8" filter="url(#blurBm2)"/><path d="M1303.3 1120 L1347.3 1120 L1334.3 1383.6 L1316.3 1383.6Z" fill="#2c4cc0" filter="url(#blurBm)"/><path d="M1314.3 1172 L1336.3 1172 L1331.3 1371.6 L1319.3 1371.6Z" fill="#2c4cc0" filter="url(#blurBm2)"/><rect x="1245.5" y="1132" width="159.5" height="142.0" fill="url(#bmfade)"/><ellipse cx="1325.3" cy="1319.6" rx="7" ry="38" fill="#b8c8ff" opacity="0.7" filter="url(#blurBm2)"/><ellipse cx="1325.3" cy="1331.6" rx="4.4" ry="22" fill="#fff" filter="url(#blurBm2)"/><line x1="1245.5" y1="1340" x2="1405" y2="1340" stroke="#c8c8ee" stroke-width="1.5" stroke-dasharray="6 4" opacity="0.8"/><circle cx="1325.3" cy="1341.6" r="4.8" fill="#101010"/><circle cx="1325.3" cy="1341.6" r="1.5" fill="#f0f0f0"/></g><rect x="318.8" y="1521.4" width="1106.7" height="509.1999999999998" fill="none" stroke="#111" stroke-width="5.6"/><rect x="440.8" y="1521.4" width="5.6" height="13" fill="#111"/><rect x="440.8" y="2017.6" width="5.6" height="13" fill="#111"/><rect x="636.7" y="1521.4" width="5.6" height="13" fill="#111"/><rect x="636.7" y="2017.6" width="5.6" height="13" fill="#111"/><rect x="829.7" y="1521.4" width="5.6" height="13" fill="#111"/><rect x="829.7" y="2017.6" width="5.6" height="13" fill="#111"/><rect x="1024.6000000000001" y="1521.4" width="5.6" height="13" fill="#111"/><rect x="1024.6000000000001" y="2017.6" width="5.6" height="13" fill="#111"/><rect x="1218.2" y="1521.4" width="5.6" height="13" fill="#111"/><rect x="1218.2" y="2017.6" width="5.6" height="13" fill="#111"/><rect x="1411.7" y="1521.4" width="5.6" height="13" fill="#111"/><rect x="1411.7" y="2017.6" width="5.6" height="13" fill="#111"/><rect x="318.8" y="1548.3" width="18" height="5.4" fill="#111"/><rect x="1407.5" y="1548.3" width="18" height="5.4" fill="#111"/><rect x="318.8" y="1667.8999999999999" width="18" height="5.4" fill="#111"/><rect x="1407.5" y="1667.8999999999999" width="18" height="5.4" fill="#111"/><rect x="318.8" y="1788.3" width="18" height="5.4" fill="#111"/><rect x="1407.5" y="1788.3" width="18" height="5.4" fill="#111"/><rect x="318.8" y="1908.3" width="18" height="5.4" fill="#111"/><rect x="1407.5" y="1908.3" width="18" height="5.4" fill="#111"/><g clip-path="url(#chc)" filter="url(#blurCh)"><polyline points="329,1653 443.6,1627.6 639.5,1593 832.5,1600.5 1027.4,1609.5 1221,1610 1414.5,1672.8" fill="none" stroke="#3b4aa6" stroke-width="6" stroke-linejoin="round"/><rect x="325" y="1638" width="8" height="30" fill="#3b4aa6"/><rect x="317.5" y="1635" width="23" height="6.5" fill="#3b4aa6"/><rect x="317.5" y="1664.5" width="23" height="6.5" fill="#3b4aa6"/><rect x="439.6" y="1611" width="8" height="33" fill="#3b4aa6"/><rect x="432.1" y="1608" width="23" height="6.5" fill="#3b4aa6"/><rect x="432.1" y="1640.5" width="23" height="6.5" fill="#3b4aa6"/><rect x="635.5" y="1562.8" width="8" height="60.200000000000045" fill="#3b4aa6"/><rect x="628.0" y="1559.8" width="23" height="6.5" fill="#3b4aa6"/><rect x="628.0" y="1619.5" width="23" height="6.5" fill="#3b4aa6"/><rect x="828.5" y="1582.4" width="8" height="36.19999999999982" fill="#3b4aa6"/><rect x="821.0" y="1579.4" width="23" height="6.5" fill="#3b4aa6"/><rect x="821.0" y="1615.1" width="23" height="6.5" fill="#3b4aa6"/><rect x="1023.4000000000001" y="1584" width="8" height="51" fill="#3b4aa6"/><rect x="1015.9000000000001" y="1581" width="23" height="6.5" fill="#3b4aa6"/><rect x="1015.9000000000001" y="1631.5" width="23" height="6.5" fill="#3b4aa6"/><rect x="1217" y="1599" width="8" height="22" fill="#3b4aa6"/><rect x="1209.5" y="1596" width="23" height="6.5" fill="#3b4aa6"/><rect x="1209.5" y="1617.5" width="23" height="6.5" fill="#3b4aa6"/><rect x="1410.5" y="1647" width="8" height="54.40000000000009" fill="#3b4aa6"/><rect x="1403.0" y="1644" width="23" height="6.5" fill="#3b4aa6"/><rect x="1403.0" y="1697.9" width="23" height="6.5" fill="#3b4aa6"/><circle cx="329" cy="1653" r="7.5" fill="#3b4aa6"/><circle cx="328" cy="1651.5" r="2.6" fill="#fff" opacity="0.9"/><circle cx="443.6" cy="1627.6" r="7.5" fill="#3b4aa6"/><circle cx="442.6" cy="1626.1" r="2.6" fill="#fff" opacity="0.9"/><circle cx="639.5" cy="1593" r="7.5" fill="#3b4aa6"/><circle cx="638.5" cy="1591.5" r="2.6" fill="#fff" opacity="0.9"/><circle cx="832.5" cy="1600.5" r="7.5" fill="#3b4aa6"/><circle cx="831.5" cy="1599.0" r="2.6" fill="#fff" opacity="0.9"/><circle cx="1027.4" cy="1609.5" r="7.5" fill="#3b4aa6"/><circle cx="1026.4" cy="1608.0" r="2.6" fill="#fff" opacity="0.9"/><circle cx="1221" cy="1610" r="7.5" fill="#3b4aa6"/><circle cx="1220" cy="1608.5" r="2.6" fill="#fff" opacity="0.9"/><circle cx="1414.5" cy="1672.8" r="7.5" fill="#3b4aa6"/><circle cx="1413.5" cy="1671.3" r="2.6" fill="#fff" opacity="0.9"/><polyline points="329,1668 443.6,1636.6 639.5,1615.5 832.5,1614 1027.4,1627.6 1221,1621.6 1414.5,1668" fill="none" stroke="#2a8242" stroke-width="6" stroke-linejoin="round"/><rect x="325" y="1642.7" width="8" height="52.700000000000045" fill="#2a8242"/><rect x="317.5" y="1639.7" width="23" height="6.5" fill="#2a8242"/><rect x="317.5" y="1691.9" width="23" height="6.5" fill="#2a8242"/><rect x="439.6" y="1612.5" width="8" height="48.200000000000045" fill="#2a8242"/><rect x="432.1" y="1609.5" width="23" height="6.5" fill="#2a8242"/><rect x="432.1" y="1657.2" width="23" height="6.5" fill="#2a8242"/><rect x="635.5" y="1594.5" width="8" height="42.09999999999991" fill="#2a8242"/><rect x="628.0" y="1591.5" width="23" height="6.5" fill="#2a8242"/><rect x="628.0" y="1633.1" width="23" height="6.5" fill="#2a8242"/><rect x="828.5" y="1591.4" width="8" height="45.19999999999982" fill="#2a8242"/><rect x="821.0" y="1588.4" width="23" height="6.5" fill="#2a8242"/><rect x="821.0" y="1633.1" width="23" height="6.5" fill="#2a8242"/><rect x="1023.4000000000001" y="1600" width="8" height="47" fill="#2a8242"/><rect x="1015.9000000000001" y="1597" width="23" height="6.5" fill="#2a8242"/><rect x="1015.9000000000001" y="1643.5" width="23" height="6.5" fill="#2a8242"/><rect x="1217" y="1597.5" width="8" height="48.200000000000045" fill="#2a8242"/><rect x="1209.5" y="1594.5" width="23" height="6.5" fill="#2a8242"/><rect x="1209.5" y="1642.2" width="23" height="6.5" fill="#2a8242"/><rect x="1410.5" y="1660.7" width="8" height="29.299999999999955" fill="#2a8242"/><rect x="1403.0" y="1657.7" width="23" height="6.5" fill="#2a8242"/><rect x="1403.0" y="1686.5" width="23" height="6.5" fill="#2a8242"/><circle cx="329" cy="1668" r="7.5" fill="#2a8242"/><circle cx="328" cy="1666.5" r="2.6" fill="#fff" opacity="0.9"/><circle cx="443.6" cy="1636.6" r="7.5" fill="#2a8242"/><circle cx="442.6" cy="1635.1" r="2.6" fill="#fff" opacity="0.9"/><circle cx="639.5" cy="1615.5" r="7.5" fill="#2a8242"/><circle cx="638.5" cy="1614.0" r="2.6" fill="#fff" opacity="0.9"/><circle cx="832.5" cy="1614" r="7.5" fill="#2a8242"/><circle cx="831.5" cy="1612.5" r="2.6" fill="#fff" opacity="0.9"/><circle cx="1027.4" cy="1627.6" r="7.5" fill="#2a8242"/><circle cx="1026.4" cy="1626.1" r="2.6" fill="#fff" opacity="0.9"/><circle cx="1221" cy="1621.6" r="7.5" fill="#2a8242"/><circle cx="1220" cy="1620.1" r="2.6" fill="#fff" opacity="0.9"/><circle cx="1414.5" cy="1668" r="7.5" fill="#2a8242"/><circle cx="1413.5" cy="1666.5" r="2.6" fill="#fff" opacity="0.9"/><polyline points="329,1688 443.6,1632 639.5,1644.8 832.5,1637.5 1027.4,1612.5 1221,1635 1414.5,1688.4" fill="none" stroke="#cf2233" stroke-width="6" stroke-linejoin="round"/><rect x="325" y="1657.7" width="8" height="60.299999999999955" fill="#cf2233"/><rect x="317.5" y="1654.7" width="23" height="6.5" fill="#cf2233"/><rect x="317.5" y="1714.5" width="23" height="6.5" fill="#cf2233"/><rect x="439.6" y="1618.6" width="8" height="30.100000000000136" fill="#cf2233"/><rect x="432.1" y="1615.6" width="23" height="6.5" fill="#cf2233"/><rect x="432.1" y="1645.2" width="23" height="6.5" fill="#cf2233"/><rect x="635.5" y="1624.6" width="8" height="42.100000000000136" fill="#cf2233"/><rect x="628.0" y="1621.6" width="23" height="6.5" fill="#cf2233"/><rect x="628.0" y="1663.2" width="23" height="6.5" fill="#cf2233"/><rect x="828.5" y="1609.5" width="8" height="60.299999999999955" fill="#cf2233"/><rect x="821.0" y="1606.5" width="23" height="6.5" fill="#cf2233"/><rect x="821.0" y="1666.3" width="23" height="6.5" fill="#cf2233"/><rect x="1023.4000000000001" y="1593" width="8" height="43.59999999999991" fill="#cf2233"/><rect x="1015.9000000000001" y="1590" width="23" height="6.5" fill="#cf2233"/><rect x="1015.9000000000001" y="1633.1" width="23" height="6.5" fill="#cf2233"/><rect x="1217" y="1624.6" width="8" height="27.100000000000136" fill="#cf2233"/><rect x="1209.5" y="1621.6" width="23" height="6.5" fill="#cf2233"/><rect x="1209.5" y="1648.2" width="23" height="6.5" fill="#cf2233"/><rect x="1410.5" y="1662" width="8" height="56" fill="#cf2233"/><rect x="1403.0" y="1659" width="23" height="6.5" fill="#cf2233"/><rect x="1403.0" y="1714.5" width="23" height="6.5" fill="#cf2233"/><circle cx="329" cy="1688" r="7.5" fill="#cf2233"/><circle cx="328" cy="1686.5" r="2.6" fill="#fff" opacity="0.9"/><circle cx="443.6" cy="1632" r="7.5" fill="#cf2233"/><circle cx="442.6" cy="1630.5" r="2.6" fill="#fff" opacity="0.9"/><circle cx="639.5" cy="1644.8" r="7.5" fill="#cf2233"/><circle cx="638.5" cy="1643.3" r="2.6" fill="#fff" opacity="0.9"/><circle cx="832.5" cy="1637.5" r="7.5" fill="#cf2233"/><circle cx="831.5" cy="1636.0" r="2.6" fill="#fff" opacity="0.9"/><circle cx="1027.4" cy="1612.5" r="7.5" fill="#cf2233"/><circle cx="1026.4" cy="1611.0" r="2.6" fill="#fff" opacity="0.9"/><circle cx="1221" cy="1635" r="7.5" fill="#cf2233"/><circle cx="1220" cy="1633.5" r="2.6" fill="#fff" opacity="0.9"/><circle cx="1414.5" cy="1688.4" r="7.5" fill="#cf2233"/><circle cx="1413.5" cy="1686.9" r="2.6" fill="#fff" opacity="0.9"/></g><text x="301.5" y="1563.5" text-anchor="end" font-size="49">80</text><text x="301.5" y="1683.1" text-anchor="end" font-size="49">60</text><text x="301.5" y="1803.5" text-anchor="end" font-size="49">40</text><text x="301.5" y="1923.5" text-anchor="end" font-size="49">20</text><text x="301.5" y="2043.1" text-anchor="end" font-size="49">0</text><text x="450" y="2084.4" text-anchor="middle" font-size="49">700</text><text x="644.5" y="2084.4" text-anchor="middle" font-size="49">800</text><text x="837.2" y="2084.4" text-anchor="middle" font-size="49">900</text><text x="1034.7" y="2084.4" text-anchor="middle" font-size="49">1 000</text><text x="1228.8" y="2084.4" text-anchor="middle" font-size="49">1 100</text><text x="1422.6" y="2084.4" text-anchor="middle" font-size="49">1 200</text><text x="891.5" y="2141.4" text-anchor="middle" font-size="49">Wavelength/nm</text><text transform="translate(223,1776) rotate(-90)" text-anchor="middle" font-size="48">Efficiency/(%)</text><text x="469" y="1873.5" font-size="49">Diameter=20 μm</text><text x="469" y="1919.5" font-size="49">Diameter=15 μm</text><text x="469" y="1966.0" font-size="49">Diameter=10 μm</text><g filter="url(#blurCh)"><rect x="361" y="1854.8" width="96" height="6.4" fill="#cf2233"/><circle cx="408" cy="1858" r="9" fill="#cf2233"/><circle cx="406.5" cy="1856" r="3" fill="#fff" opacity="0.9"/><rect x="361" y="1900.8" width="96" height="6.4" fill="#2a8242"/><circle cx="408" cy="1904" r="9" fill="#2a8242"/><circle cx="406.5" cy="1902" r="3" fill="#fff" opacity="0.9"/><rect x="361" y="1947.3" width="96" height="6.4" fill="#3b4aa6"/><circle cx="408" cy="1950.5" r="9" fill="#3b4aa6"/><circle cx="406.5" cy="1948.5" r="3" fill="#fff" opacity="0.9"/></g><path d="M2295 1119 H2382 V1561.6 H2295 A308.4 308.4 0 0 1 2295 1119Z" fill="#f6f6f7" stroke="#4e4e52" stroke-width="2.8" stroke-linejoin="round"/><rect x="1939.7" y="1178" width="74.3" height="323.7" fill="#f6f6f7" stroke="#4e4e52" stroke-width="2.8"/><rect x="1923" y="1190.0" width="16.5" height="16" fill="#3f62c0"/><rect x="1923" y="1197.2" width="16.5" height="1.6" fill="#9db0e0"/><rect x="1923" y="1210.0" width="16.5" height="18" fill="#3f62c0"/><rect x="1923" y="1218.1" width="16.5" height="1.6" fill="#9db0e0"/><rect x="1923" y="1232.0" width="16.5" height="18" fill="#3f62c0"/><rect x="1923" y="1240.1" width="16.5" height="1.6" fill="#9db0e0"/><rect x="1923" y="1258.0" width="16.5" height="6" fill="#3f62c0"/><rect x="1923" y="1270.0" width="16.5" height="8" fill="#3f62c0"/><rect x="1923" y="1280.5" width="16.5" height="8" fill="#3f62c0"/><rect x="1923" y="1291.0" width="16.5" height="10" fill="#3f62c0"/><rect x="1923" y="1295.5" width="16.5" height="1.6" fill="#9db0e0"/><rect x="1923" y="1307.0" width="16.5" height="8" fill="#3f62c0"/><rect x="1923" y="1321.0" width="16.5" height="16" fill="#3f62c0"/><rect x="1923" y="1328.2" width="16.5" height="1.6" fill="#9db0e0"/><rect x="1923" y="1339.5" width="16.5" height="16" fill="#3f62c0"/><rect x="1923" y="1346.7" width="16.5" height="1.6" fill="#9db0e0"/><rect x="1923" y="1358.5" width="16.5" height="6" fill="#3f62c0"/><rect x="1923" y="1367.5" width="16.5" height="13" fill="#3f62c0"/><rect x="1923" y="1373.3" width="16.5" height="1.6" fill="#9db0e0"/><rect x="1923" y="1384.5" width="16.5" height="8" fill="#3f62c0"/><rect x="1923" y="1398.5" width="16.5" height="8" fill="#3f62c0"/><rect x="1923" y="1409.0" width="16.5" height="8" fill="#3f62c0"/><rect x="1923" y="1425.0" width="16.5" height="16" fill="#3f62c0"/><rect x="1923" y="1432.2" width="16.5" height="1.6" fill="#9db0e0"/><rect x="1923" y="1447.0" width="16.5" height="8" fill="#3f62c0"/><rect x="1923" y="1458.0" width="16.5" height="6" fill="#3f62c0"/><rect x="1923" y="1466.5" width="16.5" height="8" fill="#3f62c0"/><rect x="1923" y="1477.5" width="16.5" height="6.5" fill="#3f62c0"/><path d="M1790 1342.3 H2822" stroke="#3b4fb2" stroke-width="2.6" fill="none"/><path d="M1791 1202.4 L1940 1202.4 L2014 1207.5 L2382 1272.5 L2822 1342" stroke="#d8283c" stroke-width="3.2" fill="none" stroke-linejoin="round"/><path d="M2014 1342 q1 -9 10 -13 M2201 1342 q-1 -9 -10 -14 M2382 1342 q4 18 20 22 M2822 1342 q-4 18 -20 22 M2382 1342 q3 -10 12 -14" stroke="#3b4fb2" stroke-width="2" fill="none"/><polyline points="2443.9,1281.6 2444.8,1281.6 2445.8,1281.6 2446.7,1281.5 2447.7,1281.3 2448.6,1281.2 2449.5,1280.9 2450.5,1280.6 2451.4,1280.2 2452.3,1279.8 2453.3,1279.2 2454.2,1278.5 2455.2,1277.7 2456.1,1276.8 2457.0,1275.8 2458.0,1274.6 2458.9,1273.3 2459.8,1271.9 2460.8,1270.3 2461.7,1268.6 2462.7,1266.7 2463.6,1264.7 2464.5,1262.6 2465.5,1260.4 2466.4,1258.1 2467.3,1255.7 2468.3,1253.3 2469.2,1250.8 2470.2,1248.4 2471.1,1246.0 2472.0,1243.7 2473.0,1241.5 2473.9,1239.4 2474.8,1237.5 2475.8,1235.8 2476.7,1234.3 2477.7,1233.1 2478.6,1232.2 2479.5,1231.5 2480.5,1231.2 2481.4,1231.2 2482.3,1231.5 2483.3,1232.1 2484.2,1233.1 2485.2,1234.3 2486.1,1235.8 2487.0,1237.6 2488.0,1239.6 2488.9,1241.8 2489.8,1244.2 2490.8,1246.7 2491.7,1249.3 2492.7,1252.0 2493.6,1254.7 2494.5,1257.4 2495.5,1260.2 2496.4,1262.8 2497.3,1265.4 2498.3,1268.0 2499.2,1270.4 2500.2,1272.7 2501.1,1274.8 2502.0,1276.9 2503.0,1278.8 2503.9,1280.5 2504.8,1282.1 2505.8,1283.6 2506.7,1284.9 2507.7,1286.1 2508.6,1287.2 2509.5,1288.1 2510.5,1289.0 2511.4,1289.8 2512.3,1290.5 2513.3,1291.1 2514.2,1291.6 2515.2,1292.1 2516.1,1292.5 2517.0,1292.9 2518.0,1293.2 2518.9,1293.5" fill="none" stroke="#d8283c" stroke-width="2.4"/><polyline points="2386.9,1341.4 2387.8,1341.3 2388.8,1341.1 2389.7,1340.9 2390.7,1340.6 2391.6,1340.3 2392.5,1339.9 2393.5,1339.5 2394.4,1339.0 2395.3,1338.4 2396.3,1337.7 2397.2,1336.9 2398.2,1336.0 2399.1,1335.1 2400.0,1333.9 2401.0,1332.7 2401.9,1331.3 2402.8,1329.8 2403.8,1328.2 2404.7,1326.4 2405.7,1324.5 2406.6,1322.4 2407.5,1320.3 2408.5,1318.0 2409.4,1315.7 2410.3,1313.3 2411.3,1310.9 2412.2,1308.4 2413.2,1306.0 2414.1,1303.6 2415.0,1301.2 2416.0,1299.0 2416.9,1296.9 2417.8,1295.0 2418.8,1293.2 2419.7,1291.7 2420.7,1290.4 2421.6,1289.3 2422.5,1288.6 2423.5,1288.2 2424.4,1288.0 2425.3,1288.2 2426.3,1288.6 2427.2,1289.3 2428.2,1290.4 2429.1,1291.7 2430.0,1293.2 2431.0,1295.0 2431.9,1296.9 2432.8,1299.0 2433.8,1301.2 2434.7,1303.6 2435.7,1306.0 2436.6,1308.4 2437.5,1310.9 2438.5,1313.3 2439.4,1315.7 2440.3,1318.0 2441.3,1320.3 2442.2,1322.4 2443.2,1324.5 2444.1,1326.4 2445.0,1328.2 2446.0,1329.8 2446.9,1331.3 2447.8,1332.7 2448.8,1333.9 2449.7,1335.1 2450.7,1336.0 2451.6,1336.9 2452.5,1337.7 2453.5,1338.4 2454.4,1339.0 2455.3,1339.5 2456.3,1339.9 2457.2,1340.3 2458.2,1340.6 2459.1,1340.9 2460.0,1341.1 2461.0,1341.3 2461.9,1341.4" fill="none" stroke="#3b4fb2" stroke-width="2.4"/><path d="M1894.4 1179.0 L1910.6 1191.0" stroke="#111" stroke-width="3"/><path d="M1919.5 1197.5 L1907.6 1195.2 L1913.7 1186.8Z" fill="#111"/><path d="M1944.0 1148.0 L1931.3 1171.3" stroke="#111" stroke-width="3"/><path d="M1926.0 1181.0 L1926.7 1168.9 L1935.8 1173.8Z" fill="#111"/><path d="M1887.5 1315.0 L1911.0 1328.5" stroke="#111" stroke-width="3"/><path d="M1920.5 1334.0 L1908.4 1333.0 L1913.6 1324.0Z" fill="#111"/><text x="1628.3" y="1083" font-size="56" letter-spacing="0.7">(d)</text><text x="1887" y="1126" font-size="48">Metacorrector</text><text x="1740" y="1174.3" font-size="48"><tspan class="i">φ</tspan> (<tspan class="i">r</tspan>, <tspan class="i">ω</tspan>)</text><text x="1725" y="1322" font-size="48"><tspan class="i">φ</tspan> (0, <tspan class="i">ω</tspan>)</text><text x="1955.6" y="1253.8" font-size="48">L<tspan font-size="30" dy="9">1</tspan></text><text x="1960.8" y="1400.6" font-size="48">T<tspan font-size="30" dy="9">s</tspan></text><text x="2082.4" y="1198.7" font-size="48">L<tspan font-size="30" dy="9">2</tspan></text><text x="2289.0" y="1244.4" font-size="48">L<tspan font-size="30" dy="9">3</tspan></text><text x="2579.3" y="1288.4" font-size="48">L<tspan font-size="30" dy="9">4</tspan></text><text x="2087" y="1323" font-size="48">g</text><text x="2285" y="1391.6" font-size="48">T</text><text x="2270.7" y="1536" font-size="48">Silica</text><text x="2586.6" y="1401.8" font-size="48">f</text><g filter="url(#blurD)"><path d="M2618.0 1021.4 L2777.1 1021.4 L2795.4 1158.0 L2589.5 1158.0Z" fill="url(#slab)" /><path d="M2589.5 1158.0 L2795.4 1158.0 L2777.1 1183.2 L2609.9 1183.2Z" fill="#a9b6af" /><path d="M2589.5 1062.1 L2734.3 972.4 L2779.1 996.9 L2634.4 1102.9Z" fill="#5a77c9" /><path d="M2589.5 1062.1 L2634.4 1102.9 L2646.6 1149.0 L2603.8 1113.1Z" fill="#4463bb" /><path d="M2634.4 1102.9 L2779.1 996.9 L2775.0 1033.6 L2691.4 1088.6 L2683.3 1141.6 L2646.6 1149.0Z" fill="#3c59b2" /><path d="M2697.6 1082.5 L2773.0 1029.5 L2793.4 1044.6 L2726.1 1101.7Z" fill="#5a77c9" /><path d="M2697.6 1082.5 L2726.1 1101.7 L2722.0 1150.6 L2697.6 1134.3Z" fill="#4463bb" /><path d="M2726.1 1101.7 L2793.4 1044.6 L2781.1 1090.7 L2722.0 1150.6Z" fill="#4a68c0" /><path d="M2729.0 1100.9 L2783.2 1060.1" stroke="#2f4690" stroke-width="1.6"/><path d="M2591.5 1158.0 L2791.3 1158.0" stroke="#4a5a55" stroke-width="1.8"/><circle cx="2590.3" cy="1063.4" r="2.6" fill="#1a1a22"/><circle cx="2635.2" cy="1103.7" r="2.6" fill="#1a1a22"/><circle cx="2641.7" cy="1144.9" r="2.6" fill="#1a1a22"/><circle cx="2686.5" cy="1071.5" r="2.6" fill="#1a1a22"/><circle cx="2694.7" cy="1079.7" r="2.6" fill="#1a1a22"/><circle cx="2777.1" cy="996.9" r="2.6" fill="#1a1a22"/><circle cx="2773.0" cy="1030.7" r="2.6" fill="#1a1a22"/><circle cx="2792.2" cy="1044.6" r="2.6" fill="#1a1a22"/><circle cx="2729.0" cy="1100.9" r="2.6" fill="#1a1a22"/><circle cx="2591.9" cy="1158.0" r="2.6" fill="#1a1a22"/><circle cx="2790.5" cy="1158.0" r="2.6" fill="#1a1a22"/><circle cx="2635.2" cy="1109.8" r="2.6" fill="#1a1a22"/></g><text x="2687.4" y="1028.3" font-size="46"><tspan class="i">l</tspan><tspan font-size="30" dy="9">f</tspan></text><text x="2792.6" y="1027.5" font-size="46"><tspan class="i">w</tspan><tspan font-size="30" dy="9">2</tspan></text><text x="2602.5" y="1077.2" font-size="46"><tspan class="i">w</tspan><tspan font-size="30" dy="9">1</tspan></text><text x="2671.9" y="1109.8" font-size="46"><tspan class="i">g</tspan></text><text x="2643.7" y="1131.9" font-size="46"><tspan class="i">h</tspan></text><text x="2755.9" y="1113.1" font-size="46"><tspan class="i">l</tspan><tspan font-size="30" dy="9">2</tspan></text><text x="2687.4" y="1191.4" font-size="46"><tspan class="i">p</tspan></text><text x="2547.5" y="1166.9" font-size="46"><tspan class="i">y&#770;</tspan></text><text x="2590.3" y="1222.4" font-size="46"><tspan class="i">x&#770;</tspan></text><path d="M2556.1 1183.2 L2550.8 1206.1 L2582.2 1206.1" fill="none" stroke="#222" stroke-width="2.4"/><path d="M2556.1 1176.3 l-4.5 9 h9z" fill="#222"/><path d="M2588.2 1206.1 l-9 -4.5 v9z" fill="#222"/><g clip-path="url(#spc0)"><rect x="1692" y="1696.4" width="173.8" height="174.2" fill="#0d0d12"/><circle cx="1777.4" cy="1782.5" r="33" fill="none" stroke="#3c5ace" stroke-width="6" opacity="0.1" filter="url(#blurSp)"/><circle cx="1777.4" cy="1782.5" r="14" fill="#3c5ace" filter="url(#blurSp)"/><circle cx="1777.4" cy="1782.5" r="5.9" fill="#fff" filter="url(#blurSp)"/><rect x="1706.8" y="1851.3" width="27" height="9.7" fill="#f4f4f4"/></g><g clip-path="url(#spc1)"><rect x="1919.5" y="1696" width="177.0" height="174.6" fill="#0f100e"/><circle cx="2008" cy="1781.8" r="33" fill="none" stroke="#5adccc" stroke-width="6" opacity="0.16" filter="url(#blurSp)"/><circle cx="2008" cy="1781.8" r="14.5" fill="#5adccc" filter="url(#blurSp)"/><circle cx="2008" cy="1781.8" r="6.1" fill="#fff" filter="url(#blurSp)"/><rect x="1934.3" y="1851.3" width="27" height="9.7" fill="#f4f4f4"/></g><g clip-path="url(#spc2)"><rect x="2148.5" y="1699" width="176.2" height="172.0" fill="#0e0f10"/><circle cx="2235.2" cy="1782.5" r="37" fill="none" stroke="#4ccc3a" stroke-width="6" opacity="0.16" filter="url(#blurSp)"/><circle cx="2235.2" cy="1782.5" r="16" fill="#4ccc3a" filter="url(#blurSp)"/><circle cx="2235.2" cy="1782.5" r="6.7" fill="#fff" filter="url(#blurSp)"/><rect x="2163.3" y="1851.7" width="27" height="9.7" fill="#f4f4f4"/></g><g clip-path="url(#spc3)"><rect x="2377.5" y="1699" width="174.9" height="172.0" fill="#0e0e0d"/><circle cx="2465.3" cy="1784.5" r="37" fill="none" stroke="#e8ea22" stroke-width="6" opacity="0.22" filter="url(#blurSp)"/><circle cx="2465.3" cy="1784.5" r="16.5" fill="#e8ea22" filter="url(#blurSp)"/><circle cx="2465.3" cy="1784.5" r="6.9" fill="#fff" filter="url(#blurSp)"/><rect x="2392.3" y="1851.7" width="27" height="9.7" fill="#f4f4f4"/></g><g clip-path="url(#spc4)"><rect x="2605.4" y="1696.4" width="174.9" height="174.6" fill="#100c0d"/><circle cx="2691.5" cy="1783.5" r="38" fill="none" stroke="#ea2a3c" stroke-width="6" opacity="0.14" filter="url(#blurSp)"/><circle cx="2691.5" cy="1783.5" r="14" fill="#ea2a3c" filter="url(#blurSp)"/><circle cx="2691.5" cy="1783.5" r="5.9" fill="#fff" filter="url(#blurSp)"/><rect x="2620.2" y="1851.7" width="27" height="9.7" fill="#f4f4f4"/></g><g clip-path="url(#spc5)"><rect x="2833.6" y="1696" width="175.6" height="175.0" fill="#100c0d"/><circle cx="2920.7" cy="1784.5" r="42" fill="none" stroke="#f6c4d0" stroke-width="6" opacity="0.1" filter="url(#blurSp)"/><circle cx="2920.7" cy="1784.5" r="18" fill="#f6c4d0" filter="url(#blurSp)"/><circle cx="2920.7" cy="1784.5" r="7.6" fill="#fff" filter="url(#blurSp)"/><rect x="2848.4" y="1851.7" width="27" height="9.7" fill="#f4f4f4"/></g><g clip-path="url(#spc6)"><rect x="1689.6" y="1968.7" width="176.2" height="174.3" fill="#0d0d12"/><circle cx="1777.4" cy="2054.8" r="22" fill="#3c5ace" opacity="0.15" filter="url(#blurSp2)"/><circle cx="1777.4" cy="2054.8" r="33" fill="none" stroke="#3c5ace" stroke-width="6" opacity="0.08" filter="url(#blurSp)"/><circle cx="1777.4" cy="2054.8" r="14" fill="#3c5ace" filter="url(#blurSp)"/><circle cx="1777.4" cy="2054.8" r="5.9" fill="#fff" filter="url(#blurSp)"/><rect x="1704.4" y="2123.7" width="27" height="9.7" fill="#f4f4f4"/></g><g clip-path="url(#spc7)"><rect x="1920" y="1968.7" width="176.8" height="174.3" fill="#0f100e"/><circle cx="2008" cy="2054.5" r="26" fill="#5adccc" opacity="0.2" filter="url(#blurSp2)"/><circle cx="2008" cy="2054.5" r="33" fill="none" stroke="#5adccc" stroke-width="6" opacity="0.14" filter="url(#blurSp)"/><circle cx="2008" cy="2054.5" r="15.5" fill="#5adccc" filter="url(#blurSp)"/><circle cx="2008" cy="2054.5" r="6.5" fill="#fff" filter="url(#blurSp)"/><rect x="1934.8" y="2123.7" width="27" height="9.7" fill="#f4f4f4"/></g><g clip-path="url(#spc8)"><rect x="2151.5" y="1969.4" width="177.3" height="174.1" fill="#0e0f10"/><circle cx="2238.6" cy="2053" r="34" fill="#4ccc3a" opacity="0.25" filter="url(#blurSp2)"/><circle cx="2238.6" cy="2053" r="36" fill="none" stroke="#4ccc3a" stroke-width="6" opacity="0.2" filter="url(#blurSp)"/><circle cx="2238.6" cy="2053" r="17" fill="#4ccc3a" filter="url(#blurSp)"/><circle cx="2238.6" cy="2053" r="7.1" fill="#fff" filter="url(#blurSp)"/><rect x="2166.3" y="2124.2" width="27" height="9.7" fill="#f4f4f4"/></g><g clip-path="url(#spc9)"><rect x="2383.4" y="1968.7" width="176.6" height="174.3" fill="#0e0e0d"/><circle cx="2471.2" cy="2055.5" r="42" fill="#e8ea22" opacity="0.3" filter="url(#blurSp2)"/><circle cx="2471.2" cy="2055.5" r="17.5" fill="#e8ea22" filter="url(#blurSp)"/><circle cx="2471.2" cy="2055.5" r="7.3" fill="#fff" filter="url(#blurSp)"/><rect x="2398.2" y="2123.7" width="27" height="9.7" fill="#f4f4f4"/></g><g clip-path="url(#spc10)"><rect x="2614" y="1968.7" width="176.6" height="174.3" fill="#100c0d"/><circle cx="2701.8" cy="2054.4" r="50" fill="#ea2a3c" opacity="0.52" filter="url(#blurSp2)"/><circle cx="2701.8" cy="2054.4" r="16" fill="#ea2a3c" filter="url(#blurSp)"/><circle cx="2701.8" cy="2054.4" r="6.7" fill="#fff" filter="url(#blurSp)"/><rect x="2628.8" y="2123.7" width="27" height="9.7" fill="#f4f4f4"/></g><g clip-path="url(#spc11)"><rect x="2845" y="1968.7" width="178.0" height="174.8" fill="#100c0d"/><circle cx="2932.4" cy="2054.4" r="54" fill="#f6c4d0" opacity="0.42" filter="url(#blurSp2)"/><circle cx="2932.4" cy="2054.4" r="27" fill="#100c0d" opacity="0.55" filter="url(#blurSp)"/><circle cx="2932.4" cy="2054.4" r="40" fill="none" stroke="#f6c4d0" stroke-width="9" opacity="0.6" filter="url(#blurSp)"/><circle cx="2932.4" cy="2054.4" r="17" fill="#f6c4d0" filter="url(#blurSp)"/><circle cx="2932.4" cy="2054.4" r="7.1" fill="#fff" filter="url(#blurSp)"/><rect x="2859.8" y="2124.2" width="27" height="9.7" fill="#f4f4f4"/></g><text x="2163.5" y="1683" font-size="48.3">With metacorrector</text><text x="2151.5" y="1951.2" font-size="48.3">Without metacorrector</text>
</svg>
</body></html>
